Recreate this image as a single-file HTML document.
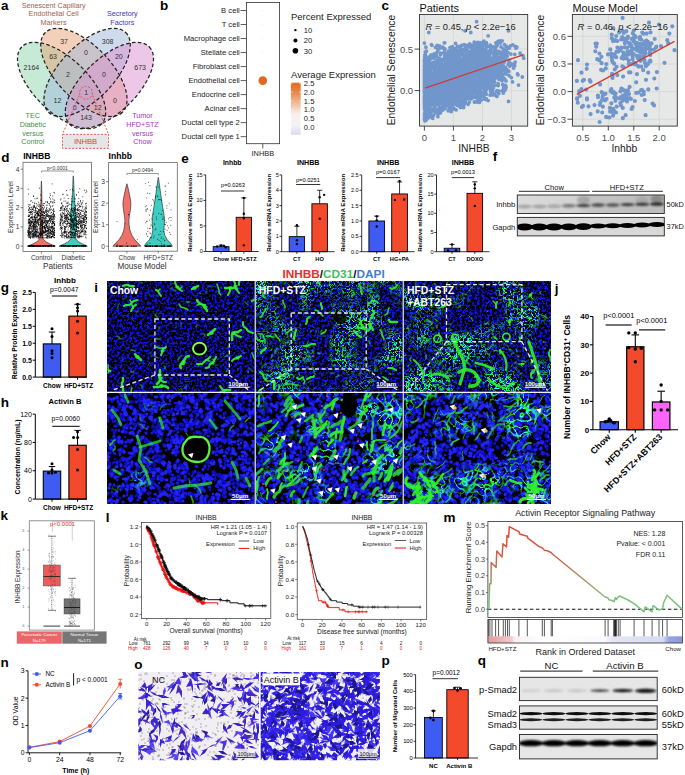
<!DOCTYPE html>
<html><head><meta charset="utf-8"><style>
html,body{margin:0;padding:0;background:#fff;width:685px;height:775px;overflow:hidden}
svg{display:block}
text{font-family:"Liberation Sans",sans-serif}
</style></head><body>
<svg width="685" height="775" viewBox="0 0 685 775">
<!-- pa -->
<text x="1.00" y="10.40" font-size="13.5" text-anchor="start" font-weight="bold" fill="#000" >a</text>
<text x="53.60" y="7.50" font-size="7.2" text-anchor="middle" fill="#a0614c" >Senescent Capillary</text>
<text x="53.60" y="16.40" font-size="7.2" text-anchor="middle" fill="#a0614c" >Endothelial Cell</text>
<text x="53.60" y="25.30" font-size="7.2" text-anchor="middle" fill="#a0614c" >Markers</text>
<text x="122.30" y="16.40" font-size="7.2" text-anchor="middle" fill="#3a3ab8" >Secretory</text>
<text x="122.30" y="25.30" font-size="7.2" text-anchor="middle" fill="#3a3ab8" >Factors</text>
<ellipse cx="61.6" cy="85.5" rx="55.5" ry="27.0" transform="rotate(44.0 61.6 85.5)" fill="#8fd6ad" fill-opacity="0.5"/>
<ellipse cx="83.9" cy="72.4" rx="55.5" ry="27.0" transform="rotate(46.0 83.9 72.4)" fill="#e8a274" fill-opacity="0.5"/>
<ellipse cx="87.1" cy="72.4" rx="55.5" ry="27.0" transform="rotate(-46.0 87.1 72.4)" fill="#9fb7d9" fill-opacity="0.5"/>
<ellipse cx="109.4" cy="85.5" rx="55.5" ry="27.0" transform="rotate(-44.0 109.4 85.5)" fill="#dc8fd0" fill-opacity="0.5"/>
<ellipse cx="61.6" cy="85.5" rx="55.5" ry="27.0" transform="rotate(44.0 61.6 85.5)" fill="none" stroke="#222" stroke-width="1.25" stroke-dasharray="3.6 2.3"/>
<ellipse cx="83.9" cy="72.4" rx="55.5" ry="27.0" transform="rotate(46.0 83.9 72.4)" fill="none" stroke="#222" stroke-width="1.25" stroke-dasharray="3.6 2.3"/>
<ellipse cx="87.1" cy="72.4" rx="55.5" ry="27.0" transform="rotate(-46.0 87.1 72.4)" fill="none" stroke="#222" stroke-width="1.25" stroke-dasharray="3.6 2.3"/>
<ellipse cx="109.4" cy="85.5" rx="55.5" ry="27.0" transform="rotate(-44.0 109.4 85.5)" fill="none" stroke="#222" stroke-width="1.25" stroke-dasharray="3.6 2.3"/>
<text x="31.40" y="69.62" font-size="7.0" text-anchor="middle" fill="#333" >2164</text>
<text x="53.10" y="58.72" font-size="7.0" text-anchor="middle" fill="#333" >63</text>
<text x="64.10" y="44.42" font-size="7.0" text-anchor="middle" fill="#333" >37</text>
<text x="68.00" y="77.02" font-size="7.0" text-anchor="middle" fill="#333" >2</text>
<text x="107.60" y="44.02" font-size="7.0" text-anchor="middle" fill="#333" >308</text>
<text x="85.90" y="55.12" font-size="7.0" text-anchor="middle" fill="#333" >0</text>
<text x="118.80" y="58.92" font-size="7.0" text-anchor="middle" fill="#333" >20</text>
<text x="140.10" y="69.62" font-size="7.0" text-anchor="middle" fill="#333" >673</text>
<text x="104.00" y="77.02" font-size="7.0" text-anchor="middle" fill="#333" >0</text>
<text x="86.10" y="94.92" font-size="7.0" text-anchor="middle" fill="#333" >1</text>
<text x="57.40" y="102.52" font-size="7.0" text-anchor="middle" fill="#333" >12</text>
<text x="74.70" y="110.12" font-size="7.0" text-anchor="middle" fill="#333" >0</text>
<text x="97.70" y="110.12" font-size="7.0" text-anchor="middle" fill="#333" >12</text>
<text x="86.00" y="120.32" font-size="7.0" text-anchor="middle" fill="#333" >143</text>
<text x="114.90" y="102.52" font-size="7.0" text-anchor="middle" fill="#333" >0</text>
<circle cx="86" cy="92.8" r="6.4" fill="none" stroke="#e8483c" stroke-width="0.9" stroke-dasharray="2 1.5"/>
<line x1="79.20" y1="95.50" x2="62.50" y2="134.30" stroke="#e8483c" stroke-width="0.9" stroke-dasharray="2 1.5"/>
<line x1="92.80" y1="95.50" x2="108.50" y2="134.30" stroke="#e8483c" stroke-width="0.9" stroke-dasharray="2 1.5"/>
<rect x="62.50" y="134.40" width="46.00" height="14.00" fill="#e6e6e6" stroke="#e8483c" stroke-width="0.9" stroke-dasharray="2 1.5"/>
<text x="85.50" y="144.14" font-size="7.6" text-anchor="middle" fill="#d2403a" >INHBB</text>
<text x="32.80" y="118.40" font-size="7.2" text-anchor="middle" fill="#3f8f3f" >TEC</text>
<text x="32.80" y="127.00" font-size="7.2" text-anchor="middle" fill="#3f8f3f" >Diabetic</text>
<text x="32.80" y="135.90" font-size="7.2" text-anchor="middle" fill="#3f8f3f" >versus</text>
<text x="32.80" y="144.10" font-size="7.2" text-anchor="middle" fill="#3f8f3f" >Control</text>
<text x="142.50" y="118.00" font-size="7.2" text-anchor="middle" fill="#a235c0" >Tumor</text>
<text x="142.50" y="126.90" font-size="7.2" text-anchor="middle" fill="#a235c0" >HFD+STZ</text>
<text x="142.50" y="135.90" font-size="7.2" text-anchor="middle" fill="#a235c0" >versus</text>
<text x="142.50" y="144.10" font-size="7.2" text-anchor="middle" fill="#a235c0" >Chow</text>
<!-- pb -->
<text x="160.00" y="10.40" font-size="13.5" text-anchor="start" font-weight="bold" fill="#000" >b</text>
<rect x="246.50" y="2.50" width="33.10" height="141.20" fill="#fff" stroke="#333" stroke-width="0.8" />
<text x="239.80" y="13.25" font-size="7.65" text-anchor="end" fill="#222" >B cell</text>
<line x1="240.60" y1="10.50" x2="246.50" y2="10.50" stroke="#333" stroke-width="0.8" />
<circle cx="262.80" cy="10.50" r="0.50" fill="#e8e4ee" />
<text x="239.80" y="27.27" font-size="7.65" text-anchor="end" fill="#222" >T cell</text>
<line x1="240.60" y1="24.52" x2="246.50" y2="24.52" stroke="#333" stroke-width="0.8" />
<circle cx="262.80" cy="24.52" r="0.50" fill="#e8e4ee" />
<text x="239.80" y="41.29" font-size="7.65" text-anchor="end" fill="#222" >Macrophage cell</text>
<line x1="240.60" y1="38.54" x2="246.50" y2="38.54" stroke="#333" stroke-width="0.8" />
<circle cx="262.80" cy="38.54" r="0.50" fill="#e8e4ee" />
<text x="239.80" y="55.31" font-size="7.65" text-anchor="end" fill="#222" >Stellate cell</text>
<line x1="240.60" y1="52.56" x2="246.50" y2="52.56" stroke="#333" stroke-width="0.8" />
<circle cx="262.80" cy="52.56" r="0.50" fill="#e8e4ee" />
<text x="239.80" y="69.33" font-size="7.65" text-anchor="end" fill="#222" >Fibroblast cell</text>
<line x1="240.60" y1="66.58" x2="246.50" y2="66.58" stroke="#333" stroke-width="0.8" />
<circle cx="262.80" cy="66.58" r="0.50" fill="#e8e4ee" />
<text x="239.80" y="83.35" font-size="7.65" text-anchor="end" fill="#222" >Endothelial cell</text>
<line x1="240.60" y1="80.60" x2="246.50" y2="80.60" stroke="#333" stroke-width="0.8" />
<text x="239.80" y="97.37" font-size="7.65" text-anchor="end" fill="#222" >Endocrine cell</text>
<line x1="240.60" y1="94.62" x2="246.50" y2="94.62" stroke="#333" stroke-width="0.8" />
<circle cx="262.80" cy="94.62" r="0.50" fill="#e8e4ee" />
<text x="239.80" y="111.39" font-size="7.65" text-anchor="end" fill="#222" >Acinar cell</text>
<line x1="240.60" y1="108.64" x2="246.50" y2="108.64" stroke="#333" stroke-width="0.8" />
<circle cx="262.80" cy="108.64" r="0.50" fill="#e8e4ee" />
<text x="239.80" y="125.41" font-size="7.65" text-anchor="end" fill="#222" >Ductal cell type 2</text>
<line x1="240.60" y1="122.66" x2="246.50" y2="122.66" stroke="#333" stroke-width="0.8" />
<circle cx="262.80" cy="122.66" r="0.50" fill="#e8e4ee" />
<text x="239.80" y="139.43" font-size="7.65" text-anchor="end" fill="#222" >Ductal cell type 1</text>
<line x1="240.60" y1="136.68" x2="246.50" y2="136.68" stroke="#333" stroke-width="0.8" />
<circle cx="262.80" cy="136.68" r="0.50" fill="#e8e4ee" />
<circle cx="262.80" cy="80.60" r="4.30" fill="#e2681f" />
<line x1="262.80" y1="143.70" x2="262.80" y2="148.50" stroke="#333" stroke-width="0.8" />
<text x="262.80" y="156.26" font-size="7.4" text-anchor="middle" fill="#222" >INHBB</text>
<text x="291.00" y="19.92" font-size="9.5" text-anchor="start" fill="#222" >Percent Expressed</text>
<circle cx="295.40" cy="30.10" r="1.20" fill="#000" />
<text x="303.80" y="32.84" font-size="7.6" text-anchor="start" fill="#222" >10</text>
<circle cx="295.40" cy="40.60" r="2.00" fill="#000" />
<text x="303.80" y="43.34" font-size="7.6" text-anchor="start" fill="#222" >20</text>
<circle cx="295.40" cy="50.80" r="2.80" fill="#000" />
<text x="303.80" y="53.54" font-size="7.6" text-anchor="start" fill="#222" >30</text>
<text x="291.00" y="78.02" font-size="9.5" text-anchor="start" fill="#222" >Average Expression</text>
<defs><linearGradient id="gb" x1="0" y1="0" x2="0" y2="1"><stop offset="0" stop-color="#e2681f"/><stop offset="0.2" stop-color="#ea8a50"/><stop offset="0.6" stop-color="#f8f0ec"/><stop offset="0.8" stop-color="#f4f2f8"/><stop offset="1" stop-color="#dcdcee"/></linearGradient></defs>
<rect x="290.90" y="82.70" width="9.80" height="52.20" fill="url(#gb)" stroke="none" stroke-width="1" />
<line x1="290.90" y1="83.40" x2="292.60" y2="83.40" stroke="#fff" stroke-width="0.6" />
<line x1="299.00" y1="83.40" x2="300.70" y2="83.40" stroke="#fff" stroke-width="0.6" />
<text x="303.80" y="86.14" font-size="7.6" text-anchor="start" fill="#222" >2.5</text>
<line x1="290.90" y1="92.08" x2="292.60" y2="92.08" stroke="#fff" stroke-width="0.6" />
<line x1="299.00" y1="92.08" x2="300.70" y2="92.08" stroke="#fff" stroke-width="0.6" />
<text x="303.80" y="94.82" font-size="7.6" text-anchor="start" fill="#222" >2.0</text>
<line x1="290.90" y1="100.76" x2="292.60" y2="100.76" stroke="#fff" stroke-width="0.6" />
<line x1="299.00" y1="100.76" x2="300.70" y2="100.76" stroke="#fff" stroke-width="0.6" />
<text x="303.80" y="103.50" font-size="7.6" text-anchor="start" fill="#222" >1.5</text>
<line x1="290.90" y1="109.44" x2="292.60" y2="109.44" stroke="#fff" stroke-width="0.6" />
<line x1="299.00" y1="109.44" x2="300.70" y2="109.44" stroke="#fff" stroke-width="0.6" />
<text x="303.80" y="112.18" font-size="7.6" text-anchor="start" fill="#222" >1.0</text>
<line x1="290.90" y1="118.12" x2="292.60" y2="118.12" stroke="#fff" stroke-width="0.6" />
<line x1="299.00" y1="118.12" x2="300.70" y2="118.12" stroke="#fff" stroke-width="0.6" />
<text x="303.80" y="120.86" font-size="7.6" text-anchor="start" fill="#222" >0.5</text>
<line x1="290.90" y1="126.80" x2="292.60" y2="126.80" stroke="#fff" stroke-width="0.6" />
<line x1="299.00" y1="126.80" x2="300.70" y2="126.80" stroke="#fff" stroke-width="0.6" />
<text x="303.80" y="129.54" font-size="7.6" text-anchor="start" fill="#222" >0.0</text>
<!-- pc -->
<text x="381.50" y="10.40" font-size="13.5" text-anchor="start" font-weight="bold" fill="#000" >c</text>
<rect x="419.50" y="14.50" width="108.20" height="111.60" fill="#e6e7e7" stroke="none" stroke-width="1" />
<line x1="424.40" y1="14.50" x2="424.40" y2="126.10" stroke="#d4d4d4" stroke-width="0.8" />
<line x1="453.40" y1="14.50" x2="453.40" y2="126.10" stroke="#d4d4d4" stroke-width="0.8" />
<line x1="482.40" y1="14.50" x2="482.40" y2="126.10" stroke="#d4d4d4" stroke-width="0.8" />
<line x1="511.40" y1="14.50" x2="511.40" y2="126.10" stroke="#d4d4d4" stroke-width="0.8" />
<line x1="419.50" y1="49.10" x2="527.70" y2="49.10" stroke="#d4d4d4" stroke-width="0.8" />
<line x1="419.50" y1="90.60" x2="527.70" y2="90.60" stroke="#d4d4d4" stroke-width="0.8" />
<path d="M458.3 92.3h0M428.5 70.5h0M424.9 97.6h0M486.5 99.0h0M464.2 70.3h0M464.0 63.0h0M466.3 89.5h0M424.5 108.3h0M426.3 74.9h0M479.2 84.9h0M481.8 93.2h0M482.7 53.2h0M494.0 62.5h0M484.6 90.4h0M456.0 69.6h0M446.3 99.0h0M479.4 86.6h0M460.9 53.4h0M478.1 73.3h0M502.2 76.6h0M437.6 73.4h0M428.4 104.1h0M493.8 67.8h0M450.0 72.3h0M478.8 61.0h0M424.7 90.4h0M445.0 48.9h0M486.7 99.6h0M429.2 89.1h0M449.8 82.3h0M434.1 53.9h0M484.2 61.8h0M477.8 59.8h0M464.5 92.4h0M483.0 81.9h0M451.3 81.7h0M485.4 81.2h0M458.6 61.2h0M425.7 85.7h0M463.8 55.4h0M466.8 67.0h0M468.5 74.9h0M424.6 105.4h0M444.4 90.5h0M461.5 66.3h0M447.9 80.0h0M470.2 77.8h0M438.3 79.4h0M451.5 90.5h0M430.7 91.7h0M451.7 66.7h0M493.9 54.9h0M479.6 82.2h0M424.7 97.3h0M476.7 74.2h0M441.8 74.4h0M445.9 102.3h0M424.9 60.1h0M446.0 95.4h0M481.8 62.6h0M424.7 56.8h0M501.0 60.8h0M465.7 49.8h0M442.4 88.3h0M425.1 98.1h0M427.2 93.3h0M502.0 77.3h0M424.4 97.0h0M465.7 91.5h0M486.1 80.6h0M478.1 81.2h0M473.2 79.6h0M475.3 64.3h0M473.8 48.0h0M424.9 100.6h0M478.2 60.0h0M457.3 74.0h0M453.9 78.7h0M424.5 81.6h0M424.8 56.6h0M424.8 100.9h0M446.3 81.2h0M461.0 83.4h0M432.1 77.2h0M469.0 79.2h0M447.7 76.2h0M473.2 94.0h0M451.3 60.2h0M455.3 83.2h0M453.1 94.8h0M457.8 79.8h0M451.0 85.4h0M499.8 71.6h0M490.8 80.2h0M432.1 76.1h0M470.5 67.9h0M459.6 99.8h0M424.5 88.1h0M424.5 92.0h0M426.3 67.7h0M425.9 82.5h0M466.4 82.0h0M483.8 95.1h0M425.4 84.9h0M431.1 104.1h0M482.7 57.7h0M476.0 67.3h0M435.6 84.1h0M448.9 58.4h0M449.1 89.9h0M471.0 74.0h0M467.5 74.0h0M454.6 102.2h0M480.4 67.1h0M481.6 65.2h0M452.0 81.3h0M436.8 93.7h0M444.0 79.0h0M508.1 70.3h0M477.6 48.4h0M441.1 81.8h0M448.3 77.1h0M446.9 92.7h0M426.2 68.8h0M453.6 79.9h0M475.6 89.5h0M477.8 78.3h0M470.1 57.0h0M439.0 87.5h0M466.5 45.3h0M436.2 91.8h0M436.1 92.7h0M463.4 77.1h0M450.8 48.2h0M429.8 60.8h0M446.6 64.5h0M466.5 61.0h0M454.7 78.0h0M460.9 61.7h0M431.8 89.5h0M465.9 50.4h0M472.6 52.0h0M442.8 92.3h0M441.0 103.1h0M484.3 79.2h0M425.7 101.6h0M466.7 74.6h0M435.7 97.6h0M479.9 89.0h0M432.1 77.2h0M469.3 78.0h0M459.0 87.9h0M435.4 98.1h0M424.8 113.0h0M470.5 81.9h0M478.8 62.1h0M425.3 87.4h0M446.5 88.9h0M472.5 59.6h0M477.2 62.6h0M425.0 66.3h0M435.9 66.2h0M450.4 81.1h0M461.3 105.7h0M425.0 80.9h0M459.8 73.6h0M426.3 75.3h0M480.0 56.7h0M460.8 81.7h0M485.3 75.0h0M478.1 93.2h0M424.5 85.1h0M465.7 94.6h0M436.5 82.8h0M426.7 109.3h0M459.7 77.2h0M493.7 72.8h0M463.3 62.0h0M429.3 81.2h0M482.4 84.8h0M432.8 56.3h0M464.2 97.3h0M470.5 89.9h0M507.9 52.5h0M454.6 91.6h0M424.9 85.5h0M434.4 108.9h0M450.7 79.3h0M443.4 107.7h0M435.7 78.2h0M485.8 84.5h0M457.4 87.1h0M424.9 80.1h0M426.4 96.8h0M435.0 81.6h0M434.9 76.8h0M455.0 77.2h0M425.7 84.5h0M468.3 59.5h0M426.1 81.7h0M489.3 61.8h0M434.7 94.8h0M425.1 63.0h0M473.5 65.1h0M482.6 74.4h0M475.2 61.4h0M445.9 61.3h0M499.2 67.0h0M424.5 79.1h0M424.8 65.5h0M494.5 54.2h0M491.4 69.6h0M462.2 70.1h0M477.4 74.3h0M425.2 78.0h0M482.3 58.9h0M476.5 49.3h0M482.0 81.4h0M473.0 61.0h0M441.2 70.3h0M468.7 52.5h0M454.8 64.5h0M425.9 112.9h0M430.5 80.1h0M477.0 92.5h0M445.2 70.9h0M428.9 117.7h0M426.1 93.7h0M424.6 94.1h0M425.1 74.1h0M425.1 68.5h0M484.7 66.2h0M473.1 53.4h0M473.6 83.1h0M429.3 88.1h0M431.4 44.7h0M480.1 65.2h0M425.2 84.6h0M462.8 93.1h0M471.0 86.1h0M431.3 67.6h0M461.5 72.4h0M453.3 88.8h0M429.2 96.2h0M425.5 111.3h0M464.8 84.1h0M437.8 114.2h0M424.5 78.0h0M465.2 99.2h0M450.5 47.5h0M479.2 98.6h0M486.6 66.8h0M430.4 87.8h0M464.3 88.8h0M424.4 99.9h0M445.9 82.4h0M430.8 111.5h0M450.0 71.9h0M468.1 70.5h0M514.7 65.6h0M434.5 91.1h0M458.2 61.3h0M477.6 75.9h0M502.4 60.3h0M474.7 85.3h0M425.4 72.7h0M434.7 74.2h0M453.4 75.7h0M424.5 84.9h0M445.5 62.4h0M424.9 91.6h0M450.5 68.8h0M427.1 106.5h0M481.3 61.5h0M439.8 65.4h0M456.1 58.2h0M458.8 79.2h0M425.1 108.0h0M466.4 98.1h0M492.1 59.5h0M456.7 97.7h0M435.8 103.8h0M452.8 73.5h0M474.7 65.2h0M450.1 68.6h0M426.3 104.5h0M441.8 91.3h0M481.2 52.3h0M456.5 64.0h0M506.4 69.4h0M481.8 64.3h0M444.1 67.6h0M483.6 57.4h0M442.0 87.0h0M424.4 43.1h0M424.5 76.8h0M426.3 91.0h0M463.8 75.3h0M484.3 71.6h0M424.5 69.2h0M458.5 66.5h0M491.0 47.1h0M486.3 42.6h0M464.7 72.4h0M435.4 80.0h0M475.7 69.1h0M485.3 85.0h0M432.6 55.1h0M425.2 76.5h0M495.7 62.1h0M446.5 81.8h0M467.9 72.5h0M425.7 101.7h0M459.9 55.5h0M458.0 95.9h0M436.9 76.8h0M482.6 64.9h0M481.5 65.8h0M437.0 91.7h0M425.6 89.1h0M489.8 66.8h0M457.1 77.2h0M451.9 86.3h0M425.2 95.3h0M447.7 86.8h0M485.5 56.3h0M504.3 87.2h0M485.3 70.9h0M470.1 66.2h0M464.6 84.1h0M479.0 52.4h0M462.9 77.9h0M426.4 72.9h0M428.1 76.7h0M478.0 79.3h0M479.5 63.4h0M478.5 75.4h0M455.9 92.8h0M447.6 99.3h0M433.5 110.9h0M447.5 87.2h0M424.8 92.7h0M470.4 82.7h0M476.6 57.8h0M431.9 94.0h0M477.5 59.7h0M486.3 59.6h0M461.7 73.4h0M424.9 85.2h0M435.9 86.4h0M451.4 64.1h0M465.5 82.1h0M490.5 70.7h0M471.4 80.0h0M489.8 67.7h0M450.7 56.5h0M450.5 98.0h0M479.5 66.8h0M425.5 89.3h0M485.9 90.1h0M424.6 85.2h0M502.8 77.4h0M485.6 80.0h0M443.0 98.4h0M499.0 51.5h0M446.5 76.9h0M459.8 78.0h0M425.2 99.5h0M478.7 66.1h0M475.7 65.2h0M485.7 78.4h0M426.8 80.1h0M448.4 62.7h0M426.2 99.5h0M440.0 73.7h0M467.7 79.0h0M452.0 72.9h0M439.7 86.3h0M462.4 86.8h0M471.2 89.3h0M463.6 64.0h0M427.9 79.1h0M460.5 107.4h0M480.4 75.6h0M485.9 80.0h0M486.5 79.4h0M445.5 80.2h0M460.8 61.8h0M498.2 85.6h0M490.5 85.7h0M475.8 66.5h0M430.2 84.2h0M480.0 91.3h0M450.5 91.9h0M471.0 74.5h0M470.2 71.9h0M454.3 89.6h0M459.5 82.1h0M431.2 98.4h0M435.2 88.8h0M436.6 101.1h0M425.2 70.0h0M455.9 72.2h0M481.3 86.8h0M424.5 89.5h0M451.5 53.8h0M484.4 62.1h0M436.8 64.8h0M485.8 63.2h0M467.7 54.9h0M438.5 69.0h0M485.2 82.3h0M466.0 51.7h0M456.1 100.4h0M455.8 55.4h0M451.1 75.6h0M460.9 88.3h0M427.3 75.6h0M471.7 54.0h0M483.8 55.6h0M427.1 107.3h0M470.9 64.6h0M485.5 74.8h0M454.6 79.3h0M466.1 84.3h0M434.4 70.0h0M502.0 63.8h0M424.5 83.8h0M486.4 84.9h0M440.8 82.9h0M468.0 75.8h0M426.4 100.7h0M486.9 46.6h0M474.6 56.0h0M466.0 80.6h0M474.3 63.0h0M438.7 89.3h0M460.1 73.5h0M461.7 77.5h0M424.7 92.7h0M440.9 73.7h0M461.9 90.0h0M451.0 101.6h0M428.3 81.0h0M425.7 68.2h0M451.7 88.7h0M425.1 87.1h0M486.7 56.1h0M439.8 70.0h0M486.5 68.3h0M424.7 95.4h0M462.8 53.7h0M453.9 71.8h0M443.4 67.0h0M425.6 82.3h0M487.3 66.9h0M457.5 71.7h0M456.1 82.7h0M456.4 82.9h0M493.1 67.4h0M482.1 92.7h0M448.8 68.6h0M461.9 63.3h0M440.5 80.2h0M440.4 97.0h0M484.1 52.4h0M437.0 86.5h0M460.8 72.2h0M439.5 80.0h0M455.7 71.8h0M479.5 84.7h0M426.9 92.3h0M471.2 90.5h0M438.1 64.2h0M436.7 101.6h0M430.9 99.4h0M454.2 92.2h0M436.9 70.8h0M464.7 83.3h0M468.9 66.0h0M480.5 72.3h0M426.7 108.0h0M477.7 58.0h0M425.1 80.7h0M444.1 52.7h0M482.3 70.8h0M490.7 74.7h0M500.0 67.0h0M493.6 67.0h0M497.4 62.0h0M443.3 48.2h0M458.2 92.4h0M443.0 87.8h0M482.6 70.1h0M426.5 86.7h0M484.8 59.4h0M502.5 75.3h0M424.8 84.8h0M487.2 56.4h0M465.9 49.0h0M445.9 60.2h0M461.4 76.7h0M425.9 78.7h0M483.8 62.3h0M431.5 93.3h0M445.2 63.3h0M454.7 75.6h0M454.5 95.3h0M425.5 60.1h0M448.2 110.8h0M446.9 83.8h0M425.1 104.4h0M452.6 84.2h0M469.0 57.1h0M427.4 79.9h0M440.6 89.9h0M426.5 94.3h0M479.1 66.5h0M431.1 86.0h0M452.6 80.3h0M465.0 89.9h0M429.4 114.7h0M492.8 64.1h0M441.9 84.3h0M469.0 77.7h0M427.1 89.0h0M468.3 75.6h0M467.9 96.7h0M424.9 68.9h0M491.8 47.5h0M425.1 101.1h0M466.1 58.7h0M478.0 52.7h0M439.0 65.9h0M448.7 51.2h0M468.0 80.7h0M472.8 60.4h0M429.0 63.0h0M449.6 91.2h0M479.9 66.7h0M425.3 69.8h0M483.5 80.7h0M461.9 90.7h0M455.3 96.6h0M436.4 86.5h0M443.0 78.4h0M452.0 84.4h0M437.0 84.3h0M460.3 68.6h0M424.7 77.7h0M472.0 68.0h0M465.5 66.4h0M426.0 103.8h0M424.9 83.7h0M463.4 89.5h0M455.4 66.3h0M428.4 100.9h0M447.1 95.0h0M424.6 78.2h0M424.6 74.9h0M468.7 91.3h0M428.3 86.1h0M478.8 63.6h0M478.2 61.8h0M460.5 67.0h0M428.0 72.8h0M462.9 64.0h0M432.1 87.0h0M474.2 51.5h0M479.1 57.0h0M467.2 72.4h0M447.4 84.5h0M466.2 56.5h0M473.5 78.2h0M471.1 87.9h0M447.5 94.1h0M479.5 54.3h0M425.2 101.7h0M493.6 94.8h0M474.5 57.9h0M486.2 44.1h0M448.8 74.1h0M471.6 51.7h0M475.9 80.9h0M496.9 74.6h0M451.6 92.6h0M456.6 87.8h0M523.7 58.2h0M470.0 86.9h0M465.1 69.9h0M447.7 56.1h0M452.4 94.9h0M470.7 58.3h0M499.1 77.3h0M473.9 45.7h0M460.8 71.4h0M463.0 62.6h0M482.5 57.0h0M453.9 78.4h0M434.5 99.9h0M490.1 95.0h0M424.5 89.5h0M454.8 63.2h0M493.2 77.3h0M446.6 90.6h0M483.9 66.5h0M497.2 61.2h0M431.6 115.3h0M446.1 89.6h0M475.9 92.0h0M449.8 90.6h0M489.0 69.0h0M438.4 80.5h0M472.2 83.8h0M437.3 74.2h0M450.3 79.0h0M459.4 72.5h0M476.3 66.8h0M425.6 106.3h0M434.0 58.1h0M464.6 81.5h0M426.8 71.7h0M446.5 97.1h0M425.2 67.5h0M426.0 69.3h0M503.6 88.2h0M479.0 78.2h0M425.9 105.9h0M424.4 69.7h0M425.9 90.7h0M480.1 66.5h0M515.1 62.2h0M479.9 63.3h0M449.9 86.2h0M450.5 84.4h0M429.9 82.2h0M486.8 67.0h0M483.9 41.2h0M468.0 82.6h0M426.5 70.9h0M425.4 74.2h0M424.8 87.4h0M468.7 70.9h0M470.8 96.7h0M469.0 83.5h0M458.5 69.5h0M470.5 83.0h0M463.6 57.3h0M440.4 86.8h0M484.6 80.2h0M484.4 98.7h0M471.3 98.8h0M436.6 104.5h0M465.5 77.8h0M494.9 94.8h0M424.9 108.4h0M496.2 66.6h0M474.0 55.4h0M449.2 99.0h0M494.5 94.5h0M468.8 80.4h0M470.8 69.3h0M484.5 79.5h0M430.4 93.4h0M476.6 80.0h0M431.1 116.0h0M455.3 81.7h0M460.8 89.7h0M473.5 54.3h0M427.1 77.1h0M456.8 89.6h0M480.0 69.4h0M425.1 71.4h0M424.7 76.5h0M447.7 58.6h0M446.4 102.9h0M463.6 107.6h0M443.7 96.3h0M455.0 96.1h0M437.1 93.6h0M427.5 87.0h0M427.8 77.7h0M425.8 88.2h0M443.3 83.3h0M493.9 72.5h0M433.9 84.2h0M424.9 63.9h0M444.5 60.7h0M454.1 58.9h0M488.5 59.2h0M444.1 58.8h0M445.2 99.7h0M425.3 99.2h0M435.4 79.3h0M426.7 107.4h0M455.7 85.7h0M436.3 69.4h0M440.1 113.1h0M490.6 59.1h0M476.2 79.3h0M485.4 61.8h0M498.2 59.2h0M426.3 77.2h0M425.3 78.2h0M427.0 119.1h0M443.3 72.2h0M451.9 48.4h0M487.9 71.9h0M460.5 87.0h0M459.7 80.7h0M496.3 71.7h0M492.8 91.3h0M433.7 86.2h0M476.4 77.6h0M452.1 73.2h0M447.2 74.3h0M437.9 88.6h0M498.9 51.7h0M494.8 78.0h0M483.8 63.6h0M424.8 116.1h0M442.2 70.5h0M429.2 62.8h0M424.6 95.9h0M477.5 73.6h0M441.4 99.9h0M425.7 85.9h0M441.5 67.1h0M440.3 70.6h0M429.3 94.1h0M424.9 55.2h0M439.4 93.3h0M455.9 79.0h0M439.4 68.4h0M462.0 93.3h0M467.1 69.1h0M425.1 101.7h0M484.2 69.6h0M425.5 102.6h0M430.5 79.0h0M440.3 81.3h0M475.9 91.8h0M429.7 86.7h0M481.1 66.0h0M483.8 77.7h0M437.1 99.3h0M425.6 103.5h0M475.9 71.4h0M462.0 78.9h0M427.7 69.2h0M455.7 73.5h0M446.2 70.1h0M442.1 98.0h0M444.5 83.6h0M455.9 83.8h0M443.6 85.8h0M494.6 70.4h0M445.9 56.5h0M505.3 59.0h0M470.1 96.4h0M478.0 80.1h0M485.2 59.7h0M461.2 95.7h0M467.2 50.1h0M467.8 65.2h0M426.4 68.5h0M436.3 96.5h0M453.3 81.4h0M482.6 85.9h0M462.2 69.1h0M442.7 85.9h0M475.9 71.7h0M426.3 71.0h0M457.4 99.2h0M472.4 86.6h0M425.0 98.2h0M443.3 81.9h0M444.4 96.9h0M472.8 65.4h0M509.1 62.2h0M496.7 58.5h0M482.4 72.6h0M473.1 81.5h0M453.9 52.3h0M425.4 107.0h0M427.2 76.2h0M493.6 68.8h0M432.7 118.4h0M483.6 41.3h0M481.4 74.7h0M425.2 85.3h0M461.2 78.6h0M425.3 99.0h0M483.2 55.7h0M424.4 81.0h0M475.3 89.7h0M424.6 75.6h0M449.6 88.2h0M443.2 84.0h0M452.8 67.4h0M446.6 94.8h0M477.0 78.5h0M474.4 83.5h0M513.1 65.2h0M424.4 85.8h0M456.1 109.9h0M481.1 82.9h0M470.1 45.2h0M470.8 88.2h0M447.8 80.0h0M424.4 102.8h0M471.3 68.4h0M437.4 82.1h0M436.2 101.1h0M477.7 82.2h0M456.3 86.2h0M483.8 84.2h0M458.4 99.4h0M428.9 85.4h0M486.6 43.6h0M441.4 74.8h0M514.8 54.3h0M473.2 93.0h0M476.4 79.5h0M511.9 64.2h0M465.0 76.6h0M481.6 86.3h0M457.1 96.9h0M481.6 60.9h0M485.4 77.0h0M425.1 82.8h0M444.7 89.3h0M426.9 115.1h0M474.2 82.3h0M462.7 106.5h0M482.2 72.8h0M482.5 79.8h0M500.8 76.4h0M456.1 103.8h0M424.6 78.4h0M457.2 57.8h0M425.1 89.8h0M433.4 82.3h0M472.3 51.0h0M444.8 74.7h0M464.3 86.5h0M487.0 74.3h0M483.8 61.0h0M425.3 90.2h0M480.0 45.0h0M467.4 79.0h0M463.6 87.1h0M457.6 105.4h0M435.2 112.6h0M456.1 75.4h0M436.8 100.4h0M472.6 68.6h0M497.2 68.6h0M483.6 64.4h0M424.7 69.1h0M430.5 90.2h0M508.1 64.4h0M477.9 77.6h0M443.3 73.0h0M425.3 54.5h0M475.2 64.2h0M452.5 106.0h0M456.3 85.5h0M476.8 73.0h0M479.5 70.5h0M463.5 67.7h0M430.8 76.2h0M461.0 97.0h0M441.8 65.2h0M471.5 91.2h0M470.5 86.0h0M441.3 97.0h0M480.3 91.4h0M458.8 96.9h0M466.1 84.3h0M425.6 90.5h0M477.9 60.6h0M487.3 87.7h0M424.6 80.0h0M443.4 90.6h0M442.4 86.7h0M471.6 54.9h0M499.7 72.1h0M470.1 76.7h0M471.7 89.5h0M446.3 84.0h0M480.4 76.3h0M503.3 48.8h0M433.2 92.6h0M426.2 93.3h0M477.4 96.2h0M476.1 54.7h0M508.8 71.5h0M451.8 90.9h0M440.6 92.9h0M435.2 104.1h0M468.7 86.0h0M472.1 72.8h0M465.8 92.4h0M434.8 102.3h0M443.4 64.4h0M429.1 100.0h0M478.1 81.9h0M425.1 89.2h0M497.4 67.4h0M433.5 62.3h0M476.5 67.2h0M446.6 94.9h0M451.0 83.9h0M459.8 90.2h0M453.7 96.5h0M470.0 64.6h0M424.5 83.3h0M477.3 90.3h0M477.3 66.4h0M457.9 89.5h0M461.6 62.8h0M440.3 75.2h0M424.4 97.6h0M467.5 96.5h0M454.9 78.8h0M492.7 66.5h0M493.5 87.8h0M484.2 71.5h0M465.3 87.7h0M438.4 83.2h0M425.8 79.1h0M460.5 98.7h0M429.9 111.0h0M469.7 62.4h0M486.6 79.4h0M425.7 87.5h0M435.4 83.3h0M443.5 73.9h0M432.8 74.7h0M483.6 77.4h0M427.2 92.7h0M480.0 96.6h0M432.7 84.3h0M425.2 114.1h0M425.9 58.8h0M447.7 76.3h0M474.8 46.8h0M489.2 46.5h0M462.2 100.4h0M424.8 109.5h0M427.5 79.5h0M440.2 77.1h0M442.3 77.9h0M466.9 89.6h0M479.2 81.6h0M449.0 108.3h0M486.0 50.5h0M428.9 93.0h0M477.8 82.3h0M453.8 82.1h0M456.3 90.2h0M424.8 73.1h0M448.2 74.6h0M424.4 76.9h0M438.6 70.3h0M425.6 88.5h0M456.6 73.5h0M427.7 109.3h0M488.3 57.5h0M461.1 84.5h0M425.1 98.4h0M468.8 66.0h0M468.7 66.6h0M426.2 88.7h0M444.4 64.9h0M485.7 73.3h0M435.4 76.7h0M425.0 72.3h0M447.4 93.7h0M451.7 82.0h0M474.8 54.8h0M435.1 110.3h0M476.8 85.0h0M475.8 56.4h0M447.0 78.0h0M424.9 102.4h0M425.0 108.2h0M425.4 98.4h0M425.3 84.6h0M466.5 87.7h0M445.7 91.1h0M424.6 97.2h0M473.5 67.9h0M450.0 53.5h0M430.7 81.3h0M480.9 71.9h0M504.6 78.8h0M426.1 88.6h0M491.3 77.4h0M436.4 84.1h0M457.7 93.1h0M425.9 96.5h0M425.3 84.2h0M485.3 99.3h0M441.4 72.2h0M477.1 90.8h0M433.6 82.6h0M456.8 100.1h0M453.9 88.8h0M430.8 76.3h0M452.7 87.8h0M495.8 74.1h0M424.7 79.1h0M459.4 71.6h0M425.3 84.7h0M456.3 78.6h0M482.2 61.5h0M447.8 59.9h0M470.2 47.4h0M466.0 65.7h0M483.3 75.9h0M451.6 71.2h0M484.7 73.1h0M425.4 90.1h0M424.8 100.0h0M482.7 63.1h0M475.9 55.8h0M457.3 89.3h0M446.9 77.8h0M488.3 67.7h0M426.9 98.3h0M462.6 79.5h0M475.3 89.1h0M429.2 59.5h0M428.4 62.8h0M432.5 109.3h0M450.7 67.7h0M506.1 87.2h0M425.9 90.3h0M426.7 70.9h0M460.9 68.4h0M431.1 87.5h0M476.9 89.2h0M425.7 75.7h0M450.6 86.5h0M444.5 102.6h0M431.8 81.3h0M468.8 79.3h0M476.5 82.2h0M441.4 70.3h0M460.6 87.1h0M448.2 91.3h0M444.6 84.1h0M429.1 117.1h0M471.5 75.2h0M451.5 77.7h0M424.4 106.0h0M476.5 57.8h0M474.8 102.0h0M465.0 71.1h0M426.0 80.5h0M476.9 79.8h0M477.7 77.4h0M490.5 79.1h0M451.9 49.8h0M458.4 73.6h0M457.6 98.4h0M424.8 94.9h0M461.2 95.0h0M445.1 53.3h0M470.4 96.5h0M459.9 78.6h0M480.5 88.1h0M442.5 59.3h0M482.3 60.0h0M468.7 67.3h0M432.0 104.6h0M425.6 65.8h0M425.9 77.9h0M446.1 76.2h0M458.1 74.1h0M449.5 83.0h0M432.7 103.7h0M425.0 89.9h0M492.2 58.6h0M438.7 82.5h0M445.7 60.8h0M435.7 85.3h0M472.6 78.7h0M482.7 94.7h0M458.5 50.7h0M474.0 80.8h0M442.7 103.5h0M446.3 65.4h0M429.1 89.3h0M424.9 69.4h0M483.2 57.6h0M424.7 62.6h0M428.1 99.7h0M425.1 109.3h0M445.2 83.8h0M462.6 61.4h0M445.5 77.6h0M507.1 52.7h0M438.8 58.3h0M424.7 94.8h0M426.2 71.2h0M424.5 90.9h0M433.6 65.9h0M467.8 76.9h0M425.7 73.2h0M441.5 98.4h0M442.2 107.7h0M454.1 63.8h0M431.3 80.7h0M467.8 81.0h0M448.1 80.1h0M482.4 80.0h0M461.3 93.9h0M433.4 62.5h0M425.1 95.3h0M427.4 84.6h0M477.8 49.2h0M483.2 88.5h0M477.2 60.6h0M480.3 78.8h0M430.6 66.0h0M483.4 65.6h0M425.9 72.0h0M476.4 91.2h0M466.8 61.3h0M457.5 94.1h0M440.3 99.5h0M429.7 87.8h0M480.8 55.4h0M459.0 70.3h0M453.9 100.3h0M427.0 82.3h0M428.5 59.5h0M453.3 90.0h0M442.3 78.9h0M456.0 76.8h0M496.6 54.9h0M430.5 95.6h0M427.2 89.6h0M426.4 78.9h0M425.2 93.4h0M475.7 52.2h0M425.8 98.0h0M436.9 100.6h0M477.8 50.5h0M424.9 103.0h0M454.2 71.3h0M436.4 75.6h0M467.5 91.7h0M425.0 104.7h0M425.4 99.2h0M482.4 56.8h0M477.2 88.4h0M439.3 75.1h0M499.8 75.2h0M425.3 99.8h0M450.4 57.0h0M425.3 78.1h0M424.6 90.9h0M464.9 69.2h0M424.7 68.3h0M471.3 72.2h0M472.7 91.7h0M436.1 83.0h0M480.9 75.3h0M467.9 83.6h0M425.4 96.8h0M479.2 62.1h0M474.4 44.0h0M504.5 61.8h0M425.5 78.8h0M435.6 92.0h0M432.1 68.7h0M425.2 107.4h0M478.0 70.1h0M476.4 77.7h0M477.7 42.5h0M473.5 67.2h0M446.6 84.5h0M487.7 53.1h0M470.3 90.4h0M439.5 109.8h0M458.0 74.8h0M441.9 91.3h0M480.6 86.4h0M435.4 98.5h0M485.6 50.6h0M438.5 95.8h0M424.6 86.8h0M485.6 79.6h0M424.8 84.6h0M424.4 92.0h0M463.4 68.3h0M425.7 66.5h0M463.6 81.4h0M426.1 90.8h0M464.1 44.7h0M431.1 100.9h0M425.0 103.4h0M471.7 76.7h0M478.9 64.3h0M471.7 95.4h0M469.6 76.0h0M478.0 73.8h0M492.8 92.0h0M472.5 88.1h0M478.3 83.8h0M430.4 96.4h0M444.4 92.2h0M504.1 86.0h0M425.1 93.6h0M446.2 99.4h0M456.3 74.9h0M478.6 88.3h0M455.7 83.6h0M473.0 56.4h0M431.0 92.8h0M486.0 72.1h0M425.5 109.7h0M449.6 79.3h0M503.2 68.0h0M429.7 89.2h0M444.1 70.4h0M448.7 75.8h0M469.8 64.6h0M442.6 94.0h0M474.1 67.8h0M490.9 84.2h0M479.9 68.5h0M474.7 50.1h0M448.4 56.5h0M425.4 80.4h0M471.4 92.7h0M454.6 89.7h0M434.3 92.5h0M438.7 100.8h0M478.2 85.9h0M477.3 79.6h0M481.3 54.9h0M466.4 97.6h0M485.3 72.0h0M451.0 88.8h0M425.0 94.7h0M430.3 105.0h0M483.9 73.0h0M481.8 84.8h0M489.7 55.0h0M447.3 87.9h0M425.7 90.2h0M439.4 78.2h0M469.1 85.6h0M476.7 80.9h0M486.6 71.1h0M479.0 57.3h0M450.5 74.0h0M459.7 72.8h0M488.5 82.5h0M471.3 63.5h0M504.2 53.3h0M426.4 94.9h0M447.4 65.8h0M472.4 86.6h0M454.8 82.1h0M426.4 57.7h0M426.4 86.3h0M426.4 77.0h0M468.8 75.2h0M446.1 103.1h0M481.1 59.3h0M446.1 87.4h0M426.8 80.8h0M475.2 57.4h0M481.2 94.7h0M424.9 87.3h0M479.7 52.4h0M454.6 66.6h0M481.6 80.3h0M484.5 43.3h0M425.7 76.9h0M468.7 95.3h0M444.8 67.5h0M438.5 72.7h0M462.3 73.5h0M462.5 90.3h0M426.2 82.1h0M491.8 62.4h0M469.5 92.1h0M453.1 83.1h0M505.5 54.4h0M424.9 97.4h0M444.3 94.1h0M476.6 91.0h0M440.0 79.6h0M484.1 62.6h0M469.2 57.1h0M478.2 66.6h0M437.7 51.0h0M425.5 79.3h0M469.4 72.8h0M434.5 72.4h0M461.8 77.8h0M429.8 77.3h0M481.2 78.5h0M424.5 90.0h0M457.7 81.6h0M440.3 92.5h0M484.6 77.7h0M449.8 85.3h0M474.1 89.3h0M455.0 65.3h0M483.3 80.0h0M438.1 73.5h0M426.4 76.7h0M442.0 87.6h0M457.6 57.0h0M426.9 99.4h0M471.2 47.6h0M425.6 85.7h0M424.7 75.7h0M485.9 70.1h0M425.0 96.0h0M509.2 64.9h0M451.9 91.1h0M438.1 80.0h0M431.3 73.4h0M483.7 58.9h0M472.8 67.0h0M424.6 96.9h0M502.1 40.9h0M440.8 78.5h0M478.5 52.5h0M472.5 60.8h0M424.5 89.3h0M425.4 81.0h0M437.5 67.2h0M446.7 81.4h0M479.0 90.8h0M475.4 63.3h0M473.4 91.5h0M464.8 72.6h0M430.8 94.7h0M481.9 67.9h0M446.2 77.6h0M475.5 54.9h0M481.2 77.9h0M447.5 66.4h0M481.4 84.5h0M425.3 58.5h0M469.9 51.9h0M469.7 83.0h0M464.0 77.2h0M483.2 51.6h0M494.5 68.3h0M425.0 91.4h0M425.5 70.5h0M425.6 96.0h0M424.5 82.5h0M459.8 73.9h0M431.1 114.1h0M426.5 82.2h0M480.0 86.0h0M478.0 81.5h0M493.3 76.7h0M434.6 87.8h0M493.1 47.0h0M477.2 82.4h0M469.7 62.9h0M493.3 61.9h0M455.4 64.6h0M425.2 98.8h0M474.8 71.1h0M501.2 52.5h0M485.4 56.3h0M436.9 65.2h0M432.0 72.9h0M424.7 109.3h0M495.5 68.2h0M444.1 63.8h0M447.5 73.1h0M433.5 97.6h0M442.5 80.8h0M475.2 63.6h0M486.3 75.0h0M455.1 66.2h0M424.8 102.8h0M425.6 87.5h0M443.3 109.2h0M424.8 76.7h0M452.4 81.0h0M495.9 42.8h0M481.5 94.5h0M465.7 86.2h0M468.5 68.4h0M474.4 93.7h0M489.0 59.3h0M424.4 77.3h0M434.8 88.2h0M495.4 64.6h0M489.1 88.1h0M425.2 69.4h0M424.7 89.5h0M440.8 92.1h0M437.8 95.5h0M425.0 75.7h0M479.3 75.3h0M434.8 95.8h0M470.6 71.4h0M436.2 79.2h0M453.8 68.1h0M440.8 53.2h0M499.9 66.7h0M506.2 46.2h0M439.6 94.0h0M450.7 71.4h0M466.0 79.2h0M478.4 66.5h0M441.2 74.4h0M484.2 73.7h0M479.9 61.2h0M441.3 81.1h0M470.6 72.7h0M453.9 76.6h0M481.6 95.2h0M485.1 79.6h0M443.4 91.7h0M475.7 65.2h0M478.4 91.8h0M429.1 80.8h0M430.7 87.5h0M473.0 55.3h0M466.1 71.3h0M486.1 74.6h0M453.4 62.6h0M446.8 54.3h0M457.9 75.0h0M442.9 89.2h0M425.7 73.5h0M486.5 80.2h0M502.7 84.7h0M442.0 79.9h0M476.6 75.0h0M455.4 91.4h0M428.1 67.8h0M455.9 55.7h0M478.5 101.0h0M440.8 78.9h0M515.3 46.4h0M439.7 95.9h0M483.5 77.0h0M460.6 71.7h0M450.7 78.3h0M463.5 90.2h0M482.5 72.2h0M465.2 72.3h0M437.9 116.7h0M451.3 73.6h0M446.1 89.0h0M425.9 80.7h0M429.9 69.0h0M458.0 80.1h0M424.9 65.6h0M484.6 55.1h0M442.0 73.6h0M440.4 47.3h0M424.6 88.6h0M500.2 43.1h0M484.0 50.0h0M452.8 107.0h0M459.7 60.0h0M427.2 104.1h0M470.2 81.3h0M479.3 58.0h0M427.2 106.4h0M453.6 84.9h0M469.0 74.4h0M428.0 74.0h0M466.5 89.1h0M440.5 72.1h0M482.9 55.2h0M473.3 82.6h0M424.5 80.3h0M424.5 101.9h0M470.1 74.7h0M457.6 77.8h0M483.7 74.9h0M452.1 63.7h0M477.9 81.5h0M452.2 61.6h0M426.0 92.5h0M478.6 84.4h0M486.9 77.9h0M468.1 68.8h0M438.9 65.8h0M474.0 62.9h0M462.5 70.2h0M425.0 102.7h0M475.9 92.8h0M478.4 82.5h0M474.0 86.6h0M439.6 46.0h0M476.3 72.9h0M424.6 108.1h0M441.8 97.7h0M427.1 117.8h0M445.4 80.5h0M441.2 77.2h0M455.6 68.2h0M464.7 83.4h0M477.3 67.6h0M426.7 111.5h0M493.6 81.1h0M427.4 67.0h0M476.6 63.5h0M482.9 59.9h0M493.5 53.0h0M425.2 83.5h0M495.4 72.9h0M464.1 104.8h0M425.1 88.2h0M494.6 62.0h0M425.6 70.4h0M470.1 52.4h0M474.4 81.2h0M424.9 98.6h0M478.8 57.4h0M449.5 79.5h0M486.2 80.7h0M446.5 94.1h0M429.1 107.1h0M496.2 46.6h0M453.0 60.2h0M424.9 82.1h0M460.4 67.5h0M451.9 73.5h0M444.5 83.3h0M466.1 78.0h0M445.6 64.8h0M424.4 91.0h0M438.5 104.7h0M478.6 59.7h0M442.1 73.3h0M488.7 80.2h0M445.3 70.8h0M441.9 99.4h0M424.6 84.4h0M464.7 73.4h0M473.8 60.5h0M457.8 86.4h0M469.7 76.5h0M465.6 73.5h0M458.5 70.2h0M440.0 59.0h0M428.8 91.5h0M481.9 75.4h0M468.7 77.3h0M449.0 87.8h0M434.2 101.6h0M463.3 93.8h0M427.1 78.5h0M424.6 93.7h0M455.3 87.6h0M458.0 64.3h0M453.8 94.2h0M449.9 88.3h0M431.9 94.7h0M435.2 81.4h0M481.1 83.7h0M453.0 80.0h0M424.9 104.7h0M481.7 79.6h0M494.2 61.2h0M424.7 80.2h0M497.6 52.0h0M424.6 80.9h0M442.0 89.4h0M485.9 48.6h0M455.7 69.1h0M467.7 96.7h0M438.8 64.2h0M436.8 71.8h0M461.3 105.8h0M426.0 77.7h0M451.2 95.5h0M442.2 75.3h0M504.0 55.5h0M447.1 72.3h0M426.4 84.4h0M462.5 83.0h0M444.8 84.6h0M478.4 94.9h0M485.4 85.0h0M479.9 58.9h0M467.7 54.0h0M489.1 60.9h0M438.2 49.2h0M474.7 79.7h0M481.4 81.1h0M485.4 70.6h0M465.1 67.9h0M464.5 49.1h0M432.9 82.2h0M483.5 77.4h0M501.6 68.8h0M458.6 92.3h0M469.6 80.5h0M481.7 65.0h0M425.7 117.0h0M444.4 72.4h0M470.6 66.3h0M438.7 97.0h0M424.7 98.0h0M482.8 57.8h0M426.1 73.0h0M424.6 91.4h0M455.7 71.4h0M436.2 75.1h0M424.4 87.3h0M488.3 67.4h0M445.6 78.9h0M425.1 85.1h0M425.3 87.6h0M455.2 56.9h0M443.2 82.8h0M441.0 61.8h0M450.0 109.8h0M442.8 71.9h0M467.6 87.0h0M474.5 63.4h0M478.8 64.5h0M438.0 65.3h0M506.1 49.9h0M424.5 89.9h0M435.0 83.0h0M425.1 88.8h0M486.4 83.9h0M447.6 83.9h0M425.9 102.4h0M484.1 80.0h0M463.5 80.9h0M453.0 104.4h0M470.4 55.3h0M452.6 71.4h0M467.5 72.0h0M475.2 86.4h0M437.5 69.1h0M427.7 86.7h0M459.0 67.8h0M424.9 95.2h0M443.7 67.1h0M425.1 87.5h0M483.8 63.8h0M459.8 50.8h0M453.2 85.0h0M498.6 79.1h0M428.8 108.7h0M425.7 80.3h0M425.8 75.6h0M455.3 54.6h0M468.5 78.6h0M425.8 90.2h0M454.3 58.8h0M468.3 65.9h0M481.3 100.0h0M442.0 75.3h0M441.9 97.0h0M486.6 72.3h0M471.4 75.2h0M463.8 92.1h0M428.4 76.6h0M429.6 89.2h0M432.7 86.3h0M485.2 68.3h0M437.3 68.4h0M450.6 87.9h0M428.3 93.2h0M448.7 91.3h0M473.3 80.6h0M469.2 72.5h0M448.2 72.4h0M432.2 91.3h0M480.7 72.9h0M486.4 59.8h0M425.8 83.3h0M467.2 52.9h0M438.8 88.2h0M463.6 71.0h0M464.9 84.5h0M468.6 77.4h0M483.7 56.0h0M425.0 66.8h0M438.3 101.1h0M452.1 80.0h0M467.9 88.4h0M478.5 46.7h0M464.7 62.6h0M458.8 79.8h0M425.3 95.2h0M425.0 110.1h0M496.6 55.6h0M445.9 70.4h0M455.1 67.7h0M450.6 103.7h0M454.4 78.7h0M473.0 65.5h0M446.6 79.2h0M434.4 102.5h0M445.1 98.8h0M485.3 61.7h0M482.8 81.9h0M463.3 96.8h0M457.2 50.3h0M491.4 52.0h0M501.2 72.1h0M460.0 47.2h0M503.2 55.3h0M475.5 78.2h0M490.9 72.3h0M445.9 69.2h0M425.5 92.5h0M444.5 65.7h0M456.1 71.5h0M425.7 77.6h0M480.7 70.4h0M452.5 46.6h0M424.4 99.7h0M458.7 72.6h0M442.8 47.1h0M462.2 93.5h0M427.8 98.8h0M466.9 86.9h0M480.2 61.6h0M433.0 77.2h0M424.8 98.2h0M425.1 116.9h0M463.3 83.2h0M438.7 98.5h0M433.2 82.1h0M458.8 71.4h0M452.2 72.2h0M485.6 91.0h0M462.2 84.3h0M478.7 83.5h0M477.1 72.9h0M426.3 87.9h0M441.9 82.3h0M463.7 61.5h0M448.1 88.2h0M467.4 70.8h0M424.6 88.2h0M442.7 94.0h0M427.0 89.3h0M511.4 77.6h0M432.9 99.5h0M453.2 93.7h0M443.6 72.8h0M489.7 72.5h0M483.8 62.7h0M451.6 52.7h0M425.1 87.1h0M425.4 103.6h0M478.9 102.3h0M444.7 71.5h0M436.0 65.0h0M424.5 93.1h0M475.3 79.5h0M441.0 74.6h0M480.4 65.5h0M489.2 83.7h0M442.9 95.4h0M480.4 43.8h0M424.9 120.8h0M437.4 74.9h0M432.7 66.3h0M425.1 98.5h0M446.9 73.1h0M464.1 67.1h0M449.4 64.5h0M483.2 43.5h0M425.0 100.6h0M453.3 72.3h0M424.7 91.7h0M482.6 73.5h0M462.5 80.6h0M456.8 80.6h0M426.2 85.4h0M489.3 74.0h0M479.3 87.4h0M448.6 97.2h0M429.9 89.4h0M447.7 70.5h0M486.3 67.5h0M447.1 65.3h0M425.4 92.5h0M445.1 90.7h0M432.4 68.6h0M424.5 99.2h0M494.2 85.4h0M424.4 84.2h0M459.4 79.5h0M476.0 55.5h0M482.2 87.8h0M424.6 82.0h0M447.3 85.0h0M475.0 84.6h0M502.5 79.7h0M438.7 65.1h0M426.0 95.9h0M435.5 47.3h0M438.2 99.7h0M449.3 98.0h0M425.7 55.5h0M461.5 90.2h0M425.0 83.3h0M425.4 95.4h0M450.2 68.9h0M457.1 61.7h0M452.4 91.5h0M433.8 95.1h0M425.2 101.6h0M448.7 85.9h0M424.6 94.0h0M430.3 74.1h0M425.7 87.3h0M450.0 47.6h0M426.6 82.7h0M432.0 109.1h0M476.2 59.8h0M463.3 66.5h0M481.5 72.3h0M438.8 80.3h0M425.7 79.7h0M435.3 89.1h0M456.9 80.8h0M505.0 73.2h0M504.5 44.7h0M509.7 66.2h0M438.6 86.7h0M437.1 45.4h0M425.6 79.9h0M452.5 94.3h0M455.9 90.0h0M447.5 87.7h0M463.7 100.5h0M463.3 84.2h0M450.4 57.4h0M502.3 74.7h0M458.2 93.6h0M455.5 83.8h0M458.8 80.8h0M485.1 51.5h0M431.5 91.4h0M452.5 56.2h0M461.8 94.5h0M474.8 85.4h0M474.9 91.0h0M424.9 101.1h0M475.3 62.1h0M473.4 68.3h0M439.1 65.3h0M475.9 81.9h0M456.1 82.6h0M482.4 77.5h0M464.7 76.7h0M426.1 72.3h0M459.0 101.2h0M424.4 72.1h0M473.2 48.5h0M444.6 90.8h0M425.5 91.6h0M450.5 93.9h0M455.2 101.0h0M436.7 88.9h0M452.0 84.9h0M448.6 71.7h0M469.7 83.4h0M442.0 86.5h0M478.1 91.9h0M435.7 70.5h0M442.0 83.1h0M425.2 111.4h0M430.3 84.1h0M439.8 95.5h0M495.8 56.0h0M463.3 74.4h0M482.5 78.6h0M469.4 77.4h0M477.6 66.5h0M431.6 101.9h0M473.9 81.2h0M425.0 84.7h0M492.5 52.7h0M461.4 83.0h0M495.1 68.2h0M479.0 81.5h0M426.8 74.4h0M426.6 91.5h0M484.1 56.1h0M494.9 53.7h0M476.0 97.5h0M427.1 67.0h0M488.3 59.6h0M482.7 61.7h0M452.4 70.9h0M456.6 73.1h0M446.4 98.3h0M447.7 89.1h0M492.5 89.6h0M431.0 54.9h0M498.2 83.6h0M477.3 80.1h0M515.9 48.2h0M493.6 63.8h0M480.4 82.1h0M425.5 66.9h0M464.7 91.7h0M470.2 64.7h0M427.1 108.5h0M501.8 55.2h0M486.2 72.9h0M425.9 90.5h0M442.6 78.9h0M479.6 77.7h0M464.4 90.9h0M440.9 73.0h0M427.7 62.9h0M488.3 70.7h0M424.9 67.6h0M453.0 71.1h0M426.3 96.7h0M478.1 60.1h0M424.8 93.3h0M437.0 60.1h0M470.6 83.8h0M425.5 80.6h0M482.1 74.8h0M448.8 68.1h0M453.9 78.3h0M429.1 73.2h0M436.2 82.4h0M463.6 71.7h0M482.9 76.5h0M464.2 58.4h0M493.4 65.7h0M425.3 77.8h0M472.3 60.2h0M452.3 95.7h0M437.9 88.3h0M439.8 76.7h0M477.4 48.9h0M438.6 101.3h0M494.4 65.5h0M424.6 83.5h0M484.3 55.8h0M447.4 64.8h0M482.5 69.6h0M477.2 93.2h0M432.1 78.1h0M468.8 83.2h0M450.6 74.8h0M478.8 69.0h0M470.8 69.2h0M427.6 92.9h0M453.0 75.8h0M437.8 75.8h0M433.1 79.5h0M430.0 76.8h0M462.5 106.9h0M427.3 75.0h0M449.7 90.1h0M486.8 67.2h0M432.1 96.7h0M497.1 54.5h0M454.5 88.2h0M466.1 82.9h0M485.5 85.0h0M499.4 66.2h0M430.6 84.6h0M425.8 99.3h0M448.4 85.8h0M425.6 81.3h0M472.9 67.8h0M459.5 102.0h0M444.9 76.9h0M430.1 93.9h0M435.6 88.6h0M446.1 86.4h0M425.3 99.9h0M464.1 85.7h0M424.6 88.9h0M472.8 82.6h0M427.5 90.9h0M485.2 57.5h0M456.1 75.7h0M426.6 77.3h0M452.0 81.0h0M429.8 84.4h0M425.2 92.1h0M425.5 72.7h0M425.4 82.2h0M505.5 67.5h0M426.9 119.2h0M481.1 77.3h0M466.6 83.3h0M439.5 88.3h0M465.1 71.6h0M486.1 52.4h0M470.9 57.2h0M458.9 78.4h0M444.2 85.6h0M492.6 67.9h0M444.8 51.0h0M425.2 86.7h0M472.4 68.4h0M480.0 73.5h0M497.3 91.4h0M427.4 77.6h0M454.0 52.0h0M449.6 81.2h0M498.9 91.1h0M446.0 74.0h0M455.7 99.4h0M451.9 81.8h0M441.6 107.0h0M460.6 65.9h0M425.3 110.3h0M425.5 56.8h0M474.2 42.2h0M438.5 70.2h0M457.0 72.5h0M428.0 100.3h0M510.5 45.8h0M427.0 103.6h0M426.0 96.0h0M447.9 67.4h0M452.8 100.8h0M424.9 60.8h0M468.6 68.3h0M428.1 63.6h0M446.4 53.8h0M438.3 59.4h0M471.5 78.7h0M441.7 76.3h0M451.2 72.4h0M479.2 54.0h0M490.5 91.2h0M473.9 97.3h0M437.4 103.8h0M451.1 96.0h0M426.2 101.2h0M476.1 83.4h0M436.5 82.4h0M442.4 85.6h0M486.5 46.0h0M427.9 75.8h0M442.1 75.0h0M485.6 55.9h0M452.4 90.5h0M443.4 89.4h0M451.6 98.7h0M450.0 86.9h0M449.0 85.2h0M464.8 76.5h0M480.6 86.1h0M484.0 96.7h0M457.6 90.9h0M483.6 73.2h0M424.4 96.4h0M468.1 104.3h0M425.9 89.9h0M470.1 79.4h0M425.7 81.1h0M469.7 61.8h0M464.7 85.2h0M478.4 68.1h0M471.9 46.8h0M444.8 73.8h0M455.3 91.7h0M424.7 76.6h0M425.9 84.7h0M467.4 77.5h0M490.6 68.7h0M440.5 112.8h0M502.6 55.3h0M425.3 52.1h0M482.9 70.8h0M480.8 67.6h0M454.8 83.0h0M425.5 72.8h0M471.9 61.9h0M469.0 78.3h0M456.9 105.0h0M479.5 84.4h0M432.9 83.9h0M454.6 97.0h0M450.3 107.8h0M447.3 66.3h0M424.6 72.4h0M496.2 77.7h0M424.7 95.1h0M430.4 71.1h0M425.1 70.5h0M425.4 100.7h0M463.2 66.7h0M483.6 79.1h0M482.6 76.8h0M482.9 48.8h0M485.1 76.3h0M499.8 57.4h0M434.6 95.4h0M466.6 52.5h0M433.3 74.1h0M424.8 101.2h0M484.4 83.0h0M459.4 73.1h0M443.4 91.8h0M496.4 63.8h0M430.0 93.6h0M464.4 87.9h0M482.6 68.0h0M427.4 81.7h0M485.4 66.9h0M425.5 90.4h0M482.7 86.6h0M463.5 74.9h0M518.5 85.1h0M427.0 59.2h0M443.9 77.5h0M445.7 68.2h0M438.6 110.2h0M430.5 99.8h0M432.2 90.6h0M452.7 54.6h0M426.9 103.6h0M458.6 94.1h0M483.7 55.3h0M452.3 58.0h0M495.3 68.7h0M428.2 96.9h0M464.9 59.1h0M425.6 83.5h0M450.3 93.1h0M425.5 84.0h0M483.1 68.9h0M452.4 76.7h0M425.9 63.4h0M464.7 63.2h0M441.6 78.7h0M458.4 59.3h0M470.5 45.2h0M450.1 62.9h0M425.0 86.4h0M432.8 84.6h0M459.9 68.7h0M468.3 82.8h0M476.3 45.8h0M425.5 110.4h0M487.9 81.9h0M424.6 84.9h0M433.1 77.7h0M433.5 94.9h0M436.2 92.4h0M473.3 91.1h0M444.1 85.6h0M429.1 102.6h0M445.4 103.8h0M467.3 80.6h0M475.1 80.4h0M425.6 100.7h0M482.4 82.6h0M432.9 65.7h0M433.7 92.9h0M427.1 81.3h0M450.6 63.6h0M486.2 63.0h0M464.6 69.1h0M455.6 43.4h0M425.5 58.6h0M467.9 75.2h0M459.0 86.2h0M449.4 70.4h0M451.7 62.7h0M481.4 50.1h0M424.5 60.1h0M451.0 53.4h0M509.2 48.2h0M426.0 70.6h0M426.3 103.1h0M459.0 105.0h0M457.0 89.9h0M492.0 58.5h0M478.5 61.0h0M485.4 61.6h0M485.5 57.3h0M425.0 72.1h0M452.4 50.8h0M426.0 65.2h0M485.9 55.0h0M470.3 57.9h0M475.0 52.8h0M436.2 97.2h0M466.2 68.1h0M426.1 86.4h0M425.6 98.6h0M456.4 53.7h0M428.3 103.1h0M439.4 80.2h0M425.2 109.5h0M425.2 60.5h0M443.5 108.8h0M426.2 105.8h0M485.6 83.3h0M470.0 90.5h0M424.9 95.0h0M439.1 73.9h0M469.4 73.0h0M450.7 67.6h0M461.8 94.6h0M483.4 73.8h0M496.7 91.5h0M438.3 75.1h0M446.3 95.7h0M424.9 79.3h0M439.7 59.9h0M438.9 48.8h0M450.7 108.9h0M485.2 74.2h0M477.3 71.6h0M480.2 99.1h0M447.0 76.1h0M462.4 92.2h0M472.2 60.7h0M443.3 89.6h0M454.0 66.1h0M425.8 94.4h0M440.5 54.8h0M468.4 77.3h0M424.9 62.9h0M435.1 105.6h0M431.4 100.4h0M460.1 72.3h0M483.4 71.7h0M452.9 61.9h0M454.8 65.3h0M494.3 60.8h0M480.7 78.8h0M445.0 93.3h0M472.6 78.0h0M477.4 61.5h0M431.5 85.7h0M427.6 104.4h0M449.3 61.0h0M474.8 82.8h0M484.4 73.0h0M470.5 97.5h0M424.6 63.9h0M442.8 71.5h0M427.4 85.8h0M448.9 92.2h0M495.6 49.2h0M456.5 82.0h0M484.5 79.5h0M469.4 55.6h0M477.0 63.7h0M427.2 90.0h0M425.5 77.6h0M429.6 72.0h0M465.5 85.4h0M453.3 108.9h0M494.7 52.6h0M501.8 58.6h0M483.8 88.6h0M486.5 99.0h0M438.5 87.6h0M460.7 77.8h0M459.6 67.9h0M443.5 88.6h0M436.3 61.2h0M485.3 71.2h0M471.0 59.2h0M426.3 70.2h0M478.8 79.8h0M475.0 81.5h0M437.9 72.1h0M437.6 112.3h0M490.4 45.2h0M495.0 62.4h0M437.0 65.2h0M487.3 73.3h0M457.2 89.7h0M482.8 71.7h0M471.5 60.3h0M461.3 67.6h0M474.6 52.8h0M443.9 80.6h0M486.7 65.8h0M441.8 109.5h0M462.0 54.7h0M512.5 81.9h0M426.4 71.6h0M466.3 78.9h0M461.1 86.2h0M435.0 75.5h0M450.1 101.7h0M486.1 76.6h0M480.4 81.6h0M459.4 87.3h0M424.6 98.2h0M487.0 84.1h0M489.8 84.3h0M467.8 98.5h0M447.1 93.4h0M449.9 82.6h0M466.6 72.0h0M489.0 58.2h0M453.2 60.5h0M464.2 64.6h0M469.2 71.6h0M440.6 74.4h0M488.5 54.3h0M451.5 82.4h0M450.9 77.0h0M448.4 83.4h0M490.0 60.5h0M454.2 74.9h0M473.0 65.2h0M466.7 67.1h0M425.9 81.9h0M424.4 61.5h0M443.8 107.8h0M472.6 87.2h0M457.2 89.2h0M497.4 42.4h0M426.3 101.3h0M497.3 44.2h0M452.5 85.1h0M476.0 59.6h0M425.0 68.4h0M454.0 89.3h0M425.0 99.8h0M465.7 67.2h0M437.2 63.9h0M504.3 59.3h0M448.8 69.4h0M481.0 66.3h0M498.0 41.4h0M508.9 60.2h0M473.1 83.2h0M440.3 100.7h0M435.9 102.8h0M425.1 64.0h0M485.9 73.7h0M426.6 85.7h0M483.6 64.9h0M442.4 73.7h0M432.9 77.6h0M450.0 57.5h0M449.1 69.9h0M480.1 44.4h0M424.9 89.4h0M500.2 66.5h0M464.5 68.7h0M450.9 90.3h0M425.5 118.3h0M474.9 84.7h0M425.6 113.3h0M485.2 80.6h0M493.8 69.3h0M428.1 100.9h0M425.4 110.5h0M485.6 90.9h0M425.4 54.2h0M471.4 86.7h0M486.2 83.7h0M443.6 77.5h0M466.7 66.5h0M443.9 80.6h0M431.0 80.2h0M424.7 89.6h0M460.2 91.6h0M424.5 69.1h0M469.8 61.2h0M428.7 108.6h0M474.0 90.0h0M478.1 81.2h0M479.5 55.9h0M486.3 94.2h0M465.5 102.8h0M454.1 87.8h0M465.3 70.7h0M425.5 99.7h0M482.3 85.2h0M447.0 66.6h0M433.7 97.0h0M479.4 75.3h0M428.3 103.5h0M437.4 90.7h0M478.1 74.6h0M448.9 75.1h0M449.7 70.5h0M424.5 114.2h0M435.4 84.3h0M473.3 89.2h0M480.4 60.5h0M470.4 77.5h0M425.9 103.0h0M435.0 92.7h0M467.2 57.5h0M473.4 74.6h0M445.2 80.1h0M445.6 90.2h0M438.9 74.1h0M452.9 63.1h0M445.6 103.0h0M425.7 59.0h0M459.6 59.9h0M440.9 74.5h0M464.9 102.3h0M451.0 100.4h0M486.5 89.2h0M430.3 65.4h0M488.5 65.5h0M487.6 64.2h0M425.3 108.8h0M453.4 84.1h0M426.9 61.0h0M501.8 69.8h0M445.3 85.9h0M427.8 79.1h0M428.9 84.7h0M481.9 74.7h0M424.9 86.5h0M429.6 93.9h0M473.7 69.2h0M485.7 56.5h0M486.7 58.2h0M479.5 102.3h0M424.6 107.9h0M477.2 74.9h0M463.3 90.3h0M469.8 63.5h0M424.7 95.8h0M424.8 73.2h0M433.2 90.1h0M425.0 71.5h0M424.9 92.8h0M438.5 103.3h0M479.1 85.3h0M444.4 94.8h0M496.9 65.6h0M457.9 82.2h0M433.9 102.2h0M518.0 74.8h0M447.5 92.8h0M451.8 103.1h0M489.2 78.8h0M426.4 101.2h0M424.7 95.1h0M513.7 68.1h0M434.0 82.1h0M431.1 96.0h0M437.8 90.9h0M471.6 66.8h0M425.0 99.5h0M424.8 87.5h0M481.5 92.9h0M462.5 103.2h0M482.2 61.7h0M476.5 55.1h0M427.5 69.0h0M480.9 48.3h0M457.4 80.3h0M463.5 72.7h0M440.0 102.0h0M433.1 92.9h0M451.9 70.4h0M424.5 70.5h0M451.2 111.6h0M462.6 102.2h0M455.5 71.5h0M445.5 80.8h0M457.4 104.8h0M516.9 47.2h0M481.7 74.8h0M473.7 73.0h0M465.0 74.1h0M476.5 83.6h0M494.7 50.4h0M477.1 64.9h0M448.6 90.6h0M473.3 64.7h0M455.9 71.2h0M439.0 93.6h0M501.0 46.9h0M466.2 93.9h0M482.9 63.2h0M459.5 106.3h0M452.4 53.0h0M481.9 87.3h0M424.7 84.5h0M426.4 77.8h0M434.1 77.0h0M466.1 69.4h0M443.6 92.7h0M444.7 50.1h0M447.5 63.3h0M460.3 92.1h0M463.2 68.0h0M467.3 81.7h0M447.9 90.5h0M495.2 61.2h0M475.4 66.2h0M425.3 56.5h0M481.2 86.9h0M475.9 53.3h0M475.1 76.0h0M467.1 62.9h0M431.1 67.8h0M491.9 94.9h0M459.1 89.9h0M442.8 110.0h0M434.0 62.5h0M444.3 87.3h0M437.0 98.7h0M481.4 74.8h0M503.3 56.9h0M451.2 76.6h0M425.1 88.1h0M444.2 78.1h0M461.8 50.9h0M428.4 85.0h0M475.7 83.0h0M469.1 88.8h0M434.9 107.5h0M428.6 94.8h0M453.5 50.3h0M497.4 85.3h0M444.0 102.7h0M448.2 102.9h0M436.6 56.2h0M425.4 104.7h0M424.8 80.3h0M443.7 96.5h0M462.0 59.2h0M424.5 70.6h0M467.0 98.1h0M474.6 63.0h0M444.8 82.1h0M425.3 78.2h0M425.1 91.6h0M482.4 68.2h0M425.2 88.6h0M431.1 87.1h0M453.6 104.0h0M446.5 83.0h0M430.8 81.0h0M425.8 76.1h0M508.5 60.1h0M506.0 80.9h0M478.6 80.4h0M465.6 94.8h0M425.5 102.8h0M450.4 57.1h0M436.3 92.3h0M443.6 107.7h0M492.8 59.8h0M477.2 93.0h0M425.7 72.6h0M439.2 59.6h0M499.6 70.0h0M469.8 75.8h0M435.0 90.7h0M483.8 59.5h0M455.0 82.2h0M446.2 74.1h0M433.4 102.6h0M443.9 74.3h0M474.2 81.0h0M439.9 101.2h0M501.5 55.9h0M426.3 80.8h0M447.2 79.3h0M484.8 73.3h0M455.9 79.1h0M457.3 61.3h0M425.9 103.1h0M452.7 93.3h0M475.1 53.1h0M425.5 85.0h0M480.6 97.2h0M502.9 84.9h0M424.8 91.3h0M435.6 54.7h0M480.0 42.7h0M448.3 60.7h0M472.0 50.9h0M425.5 81.5h0M484.4 56.9h0M478.9 74.7h0M425.1 83.9h0M477.7 78.6h0M485.2 52.8h0M441.3 96.3h0M471.8 70.9h0M446.3 86.1h0M475.2 79.0h0M478.7 74.3h0M486.2 76.5h0M445.3 69.2h0M459.4 73.3h0M464.0 65.8h0M424.6 71.7h0M479.9 95.8h0M439.7 68.1h0M461.8 86.3h0M431.0 109.2h0M433.6 115.6h0M472.4 92.8h0M440.3 62.6h0M479.6 80.0h0M478.9 76.8h0M452.4 93.3h0M492.2 61.4h0M484.3 78.3h0M485.7 82.0h0M456.3 65.8h0M485.0 58.4h0M475.9 62.5h0M468.4 68.9h0M479.2 45.9h0M475.1 59.2h0M482.0 60.2h0M433.7 68.8h0M473.0 87.0h0M425.7 81.2h0M486.5 84.0h0M481.7 77.0h0M426.2 90.8h0M486.7 58.2h0M424.8 83.9h0M476.5 102.0h0M465.3 86.7h0M424.9 87.7h0M454.5 99.4h0M429.8 94.7h0M479.2 83.3h0M473.7 80.4h0M476.1 82.1h0M439.4 73.5h0M426.2 81.1h0M453.6 87.5h0M430.6 94.8h0M426.0 79.0h0M454.1 108.7h0M476.6 43.7h0M464.5 68.4h0M467.9 79.4h0M460.2 48.6h0M482.9 53.6h0M480.2 77.4h0M462.4 81.1h0M472.9 85.1h0M471.8 75.1h0M433.6 90.7h0M431.1 85.4h0M485.4 74.6h0M484.0 61.0h0M449.3 93.7h0M441.2 64.0h0M431.3 104.3h0M472.2 91.7h0M462.8 62.8h0M450.2 76.1h0M478.3 83.2h0M435.4 84.7h0M446.3 66.6h0M448.9 73.3h0M425.6 76.2h0M438.5 83.9h0M486.2 51.4h0M432.9 90.4h0M466.9 73.5h0M444.4 87.1h0M450.1 83.8h0M465.1 59.6h0M453.2 77.8h0M451.3 61.0h0M485.5 77.7h0M451.1 64.4h0M471.2 52.4h0M498.4 59.7h0M456.5 56.6h0M440.2 88.5h0M424.8 84.5h0M430.4 88.8h0M483.4 83.1h0M499.7 67.5h0M485.3 84.4h0M425.8 87.3h0M464.5 65.0h0M468.4 56.4h0M424.4 101.4h0M476.8 72.4h0M464.3 74.6h0M489.7 51.4h0M470.6 68.2h0M424.4 84.0h0M483.8 49.9h0M448.7 90.8h0M425.3 79.5h0M468.4 59.1h0M427.7 84.9h0M474.2 64.1h0M457.6 63.6h0M434.6 76.8h0M450.5 82.9h0M480.9 54.9h0M455.6 59.4h0M462.5 87.1h0M475.6 75.3h0M455.2 96.2h0M428.2 61.5h0M426.8 114.7h0M452.0 69.9h0M479.1 93.0h0M436.0 86.1h0M471.4 77.4h0M482.3 64.0h0M425.7 67.1h0M425.2 61.5h0M452.3 75.5h0M428.8 87.8h0M445.8 93.6h0M460.2 66.2h0M491.0 61.5h0M426.5 116.5h0M424.8 84.9h0M444.4 70.1h0M446.2 75.9h0M451.7 95.5h0M481.3 69.0h0M486.5 57.7h0M499.7 53.6h0M424.8 77.3h0M430.0 77.9h0M444.9 60.6h0M430.3 114.4h0M466.3 74.9h0M464.5 49.2h0M460.3 52.7h0M461.6 103.8h0M439.4 71.8h0M443.7 106.3h0M444.3 42.8h0M461.6 85.4h0M467.2 63.2h0M471.1 82.9h0M431.2 78.1h0M478.8 72.5h0M446.3 88.4h0M425.5 91.7h0M425.9 77.5h0M508.5 47.7h0M424.8 81.7h0M471.6 72.8h0M454.8 89.2h0M453.5 69.9h0M432.5 90.8h0M426.3 110.0h0M427.7 92.4h0M468.9 87.6h0M484.8 92.6h0M425.3 93.8h0M426.0 89.0h0M478.5 82.4h0M463.3 82.5h0M426.4 87.7h0M502.1 80.8h0M448.6 85.4h0M436.8 52.9h0M458.7 46.5h0M434.3 82.1h0M433.8 78.3h0M434.2 80.2h0M447.0 84.2h0M499.9 79.4h0M425.2 77.0h0M440.7 92.1h0M433.1 101.1h0M465.3 60.9h0M479.7 68.2h0M493.3 59.8h0M435.5 68.4h0M438.1 95.4h0M454.2 73.3h0M499.0 68.9h0M444.7 42.8h0M465.4 87.1h0M433.4 77.7h0M482.5 78.6h0M502.9 64.1h0M465.3 70.2h0M485.7 91.4h0M426.5 97.3h0M494.4 58.8h0M425.7 120.6h0M428.8 78.5h0M436.6 79.4h0M481.0 71.2h0M485.1 64.6h0M425.4 69.7h0M458.9 53.7h0M483.1 84.8h0M471.2 71.1h0M425.3 76.7h0M462.5 82.0h0M429.5 81.0h0M430.7 86.9h0M425.7 80.3h0M459.0 63.0h0M464.3 67.3h0M425.8 78.1h0M424.7 69.3h0M424.7 82.7h0M439.8 75.0h0M481.6 64.4h0M467.5 86.6h0M480.8 85.3h0M476.2 91.0h0M503.3 77.8h0M424.9 91.9h0M430.3 97.4h0M475.2 69.3h0M459.5 65.4h0M425.5 66.4h0M503.0 60.9h0M446.3 78.8h0M441.7 86.4h0M465.4 50.3h0M432.1 85.7h0M477.5 86.8h0M443.3 84.9h0M488.3 80.1h0M424.9 69.6h0M472.3 86.4h0M472.5 86.3h0M428.3 70.1h0M437.6 87.0h0M462.8 67.6h0M472.7 78.4h0M464.8 66.2h0M481.5 71.9h0M468.9 77.1h0M425.1 57.5h0M457.3 62.3h0M469.9 79.9h0M494.0 68.4h0M465.1 80.6h0M468.8 76.8h0M446.6 105.5h0M449.7 83.7h0M442.2 90.0h0M470.3 51.6h0M486.7 66.3h0M467.9 75.7h0M481.5 62.3h0M438.2 96.4h0M463.4 75.1h0M478.6 69.1h0M463.7 75.8h0M471.0 44.8h0M426.8 79.4h0M460.1 71.8h0M517.5 74.0h0M425.6 76.9h0M505.7 88.6h0M455.3 57.7h0M461.8 83.8h0M430.1 63.4h0M454.5 82.3h0M426.9 67.3h0M425.1 81.8h0M430.1 108.9h0M470.2 79.3h0M503.7 50.9h0M475.9 58.4h0M474.4 102.0h0M444.4 87.7h0M463.0 86.5h0M425.7 61.9h0M425.0 101.1h0M433.8 79.8h0M487.3 69.7h0M424.5 116.8h0M471.0 73.8h0M497.0 90.7h0M480.6 47.2h0M450.4 67.4h0M449.5 75.9h0M449.9 95.7h0M460.3 61.4h0M449.5 95.8h0M469.5 66.2h0M481.8 73.6h0M465.6 67.8h0M457.4 71.4h0M425.1 88.7h0M471.7 83.4h0M475.4 79.9h0M438.0 93.5h0M453.2 80.3h0M482.1 85.5h0M448.9 73.9h0M431.4 93.8h0M425.0 90.6h0M462.6 86.2h0M487.3 65.5h0M446.4 81.7h0M468.1 46.3h0M434.0 75.5h0M479.6 73.8h0M499.3 58.4h0M424.7 102.7h0M434.0 74.0h0M474.0 71.4h0M439.0 91.9h0M487.6 64.7h0M448.1 71.9h0M497.0 45.7h0M433.0 89.7h0M488.6 77.0h0M466.4 79.2h0M446.7 72.8h0M424.4 60.9h0M424.4 85.5h0M482.9 81.0h0M424.7 71.0h0M439.7 84.8h0M482.6 85.4h0M485.3 53.4h0M494.2 79.3h0M494.6 82.2h0M440.6 102.8h0M480.9 83.1h0M497.0 66.2h0M481.3 61.5h0M442.8 87.0h0M502.1 54.1h0M504.0 50.8h0M476.5 75.4h0M446.1 75.7h0M489.4 61.1h0M452.9 67.8h0M439.9 89.1h0M425.7 94.3h0M467.0 85.8h0M433.8 54.8h0M451.4 63.1h0M424.9 89.7h0M485.4 80.4h0M480.3 61.4h0M451.9 70.2h0M495.1 74.6h0M428.7 84.5h0M468.1 74.0h0M485.8 63.3h0M456.2 68.8h0M424.9 90.1h0M469.1 69.6h0M446.4 77.9h0M499.0 60.0h0M492.0 58.1h0M426.5 95.4h0M483.8 70.5h0M484.6 88.1h0M432.7 74.7h0M425.3 84.4h0M476.9 88.9h0M425.2 63.2h0M426.1 65.9h0M485.7 74.9h0M468.3 84.7h0M481.1 70.3h0M462.2 84.8h0M479.3 59.4h0M424.8 92.0h0M493.9 68.5h0M440.7 67.0h0M431.9 45.3h0M496.4 64.8h0M441.3 67.8h0M429.6 56.9h0M439.5 95.8h0M495.1 69.0h0M425.5 72.4h0M463.6 89.8h0M467.6 57.5h0M424.8 113.2h0M425.2 76.3h0M425.0 96.5h0M425.6 78.4h0M439.7 91.4h0M489.5 64.7h0M433.6 98.8h0M502.4 90.7h0M448.2 82.1h0M481.8 52.4h0M474.6 67.8h0M425.7 89.7h0M487.0 65.0h0M466.0 75.3h0M424.5 103.9h0M485.7 57.2h0M444.9 56.8h0M438.4 108.9h0M482.7 61.5h0M475.0 82.5h0M453.4 104.6h0M429.9 90.6h0M509.1 75.7h0M458.5 94.9h0M496.4 44.6h0M478.5 79.0h0M424.6 69.9h0M425.5 99.1h0M429.6 86.7h0M424.9 92.4h0M436.5 95.4h0M476.1 86.8h0M460.8 70.0h0M439.1 95.9h0M461.6 45.4h0M478.2 90.0h0M444.5 90.3h0M481.4 49.1h0M461.1 87.4h0M437.4 93.8h0M463.0 75.9h0M469.1 68.0h0M426.4 72.6h0M483.0 57.9h0M486.4 46.5h0M424.6 104.4h0M471.9 90.2h0M457.4 79.8h0M433.4 82.8h0M424.9 76.9h0M463.7 87.3h0M483.8 59.6h0M443.4 76.5h0M510.9 54.1h0M485.6 73.2h0M442.2 92.8h0M482.7 87.6h0M483.9 78.1h0M426.2 100.1h0M470.9 71.5h0M471.7 78.6h0M428.9 111.0h0M474.9 73.6h0M482.9 78.2h0M428.0 100.3h0M485.0 69.5h0M473.2 77.5h0M469.9 75.6h0M424.6 103.1h0M479.1 75.0h0M430.8 101.3h0M484.7 55.3h0M474.7 92.0h0M448.4 92.2h0M489.5 50.9h0M485.4 78.5h0M465.4 100.0h0M462.1 65.8h0M457.4 60.0h0M492.4 82.0h0M462.5 59.6h0M478.2 82.9h0M430.4 66.5h0M482.3 61.6h0M504.8 90.4h0M479.8 77.7h0M460.7 65.6h0M475.5 75.5h0M459.9 53.6h0M425.8 112.0h0M463.4 82.0h0M425.5 97.3h0M445.3 60.3h0M441.4 47.7h0M427.1 102.5h0M470.9 69.7h0M446.0 92.4h0M440.5 66.2h0M472.7 69.7h0M460.3 90.3h0M505.9 74.1h0M443.1 81.3h0M451.0 79.1h0M426.9 74.8h0M446.1 63.9h0M456.6 76.2h0M489.1 54.3h0M425.1 99.5h0M439.5 106.9h0M439.0 79.9h0M464.6 88.3h0M424.5 86.1h0M470.8 45.9h0M425.4 97.6h0M437.7 111.5h0M466.2 73.1h0M491.6 87.7h0M425.3 101.9h0M490.9 49.4h0M473.1 47.9h0M430.1 83.7h0M477.4 61.3h0M458.1 100.2h0M424.8 84.8h0M475.8 77.7h0M469.9 90.6h0M478.5 79.5h0M431.2 92.7h0M460.5 63.6h0M460.0 64.4h0M424.6 73.3h0M424.4 66.5h0M478.6 95.0h0M426.8 89.3h0M499.8 78.7h0M432.4 99.3h0M488.1 67.1h0M449.3 92.9h0M425.4 54.6h0M466.7 79.2h0M426.0 90.3h0M491.5 52.2h0M477.6 81.6h0M444.1 74.7h0M449.1 80.4h0M461.9 88.1h0M482.0 66.8h0M472.5 48.6h0M474.9 80.2h0M485.0 73.7h0M434.1 106.0h0M430.2 105.7h0M425.8 113.4h0M465.4 46.3h0M449.2 75.4h0M451.0 100.1h0M448.4 74.0h0M439.1 84.2h0M438.8 78.0h0M476.6 70.5h0M445.4 89.6h0M450.6 82.1h0M464.5 73.7h0M473.8 71.5h0M427.1 72.1h0M469.0 69.5h0M451.4 93.1h0M500.1 65.0h0M425.1 83.3h0M450.0 63.7h0M493.5 86.1h0M442.3 109.3h0M475.6 84.0h0M470.8 81.8h0M440.4 88.3h0M425.1 57.3h0M445.0 108.6h0M478.3 64.9h0M449.3 105.6h0M443.3 74.0h0M471.3 61.6h0M482.9 79.9h0M424.7 104.0h0M424.5 79.4h0M463.0 70.0h0M451.4 86.5h0M479.0 93.3h0M451.0 104.1h0M445.1 98.7h0M424.4 75.1h0M424.5 59.7h0M455.5 48.7h0M426.2 109.2h0M427.3 68.8h0M439.5 63.5h0M480.8 52.1h0M487.9 87.5h0M469.8 76.0h0M457.6 66.9h0M475.3 88.5h0M437.2 92.0h0M464.0 77.1h0M424.7 88.9h0M429.0 85.4h0M451.8 78.1h0M482.4 46.7h0M469.6 72.1h0M479.4 57.1h0M484.7 59.2h0M425.7 112.9h0M466.1 99.1h0M464.3 51.7h0M424.5 74.0h0M492.1 92.9h0M469.3 102.2h0M478.8 63.7h0M425.5 71.0h0M480.0 74.0h0M485.6 64.7h0M437.8 86.1h0M469.0 82.3h0M486.7 76.9h0M486.4 64.4h0M441.1 81.7h0M469.4 87.0h0M424.6 80.7h0M457.8 70.7h0M425.8 77.8h0M429.8 69.3h0M424.8 94.0h0M479.7 66.8h0M442.8 91.2h0M459.2 74.4h0M431.2 64.1h0M449.0 65.3h0M424.8 67.1h0M436.0 68.2h0M430.0 76.4h0M484.1 55.6h0M455.0 99.6h0M467.1 70.8h0M437.4 71.2h0M451.5 70.4h0M424.6 94.1h0M455.1 62.2h0M460.0 76.5h0M424.7 108.9h0M445.3 87.7h0M463.4 71.8h0M424.8 99.8h0M426.5 82.7h0M476.1 91.7h0M454.6 64.9h0M461.5 54.5h0M447.9 83.1h0M481.7 77.7h0M486.2 69.4h0M471.2 98.8h0M479.2 57.3h0M424.6 79.8h0M431.7 58.0h0M459.7 101.1h0M493.6 74.9h0M483.3 84.2h0M470.9 82.1h0M482.7 59.8h0M473.2 81.4h0M485.7 44.1h0M426.2 88.1h0M425.4 85.6h0M466.2 74.2h0M462.2 62.5h0M444.9 81.8h0M457.9 64.5h0M441.7 78.1h0M454.5 97.8h0M488.5 70.9h0M432.6 85.6h0M433.9 83.7h0M465.0 68.3h0M496.9 45.0h0M460.4 70.3h0M469.4 86.7h0M487.3 77.6h0M481.9 49.0h0M482.3 51.6h0M436.0 82.9h0M464.7 73.2h0M446.4 96.6h0M424.7 67.2h0M441.4 81.5h0M438.8 104.1h0M478.5 65.1h0M504.9 51.6h0M480.5 46.3h0M482.5 82.5h0M424.9 79.6h0M445.6 101.9h0M494.4 54.4h0M467.2 83.9h0M432.8 93.8h0M425.1 86.9h0M425.2 68.7h0M465.6 78.2h0M424.9 79.2h0M428.0 85.8h0M439.3 82.5h0M425.6 66.4h0M444.6 55.6h0M445.1 77.0h0M488.8 71.4h0M474.4 71.2h0M507.3 56.1h0M425.5 105.0h0M461.7 49.6h0M468.8 72.1h0M425.9 47.2h0M444.1 84.7h0M481.9 82.3h0M441.0 78.8h0M480.1 51.4h0M466.4 49.9h0M448.9 83.7h0M427.5 94.1h0M440.8 96.9h0M485.9 78.8h0M424.4 119.3h0M437.0 82.1h0M454.1 78.2h0M477.7 86.8h0M465.0 74.0h0M428.1 108.3h0M424.6 73.4h0M450.4 81.8h0M458.8 75.1h0M448.8 76.9h0M456.4 55.4h0M475.0 66.4h0M441.7 93.8h0M445.2 57.6h0M477.9 99.0h0M424.8 93.9h0M483.0 73.3h0M482.9 55.3h0M435.8 67.0h0M465.6 97.3h0M424.7 102.8h0M440.1 65.6h0M425.7 90.2h0M444.1 101.9h0M471.9 81.9h0M456.5 55.9h0M475.6 60.4h0M459.3 58.0h0M489.2 56.8h0M484.3 44.3h0M438.6 93.8h0M427.0 100.9h0M467.3 85.3h0M425.1 100.4h0M438.7 73.3h0M433.4 75.7h0M505.5 85.3h0M424.8 87.6h0M454.2 89.0h0M469.6 43.8h0M472.0 59.2h0M436.9 87.2h0M433.7 73.0h0M438.7 101.8h0M478.1 59.7h0M461.0 48.5h0M482.3 55.5h0M442.8 96.2h0M481.0 78.8h0M481.3 57.2h0M424.5 74.7h0M486.6 73.9h0M467.9 69.2h0M424.7 73.8h0M428.7 59.8h0M461.9 80.0h0M426.2 76.2h0M457.9 89.2h0M457.2 46.6h0M437.8 62.4h0M500.9 63.3h0M450.3 103.6h0M425.1 106.8h0M459.3 82.8h0M447.0 99.9h0M467.3 68.7h0M476.9 95.8h0M464.3 58.8h0M424.9 97.2h0M424.7 96.4h0M466.2 55.4h0M465.9 89.6h0M462.9 75.2h0M443.9 67.5h0M425.8 87.0h0M428.8 68.3h0M484.4 69.2h0M483.2 82.0h0M431.0 101.1h0M448.2 99.1h0M498.1 71.3h0M469.5 75.2h0M441.2 87.4h0M462.6 83.7h0M432.1 73.7h0M440.7 65.1h0M465.5 83.9h0M475.9 67.6h0M453.6 58.3h0M425.2 105.4h0M486.4 68.7h0M478.9 93.7h0M450.5 78.2h0M505.9 71.2h0M431.3 90.4h0M471.8 50.5h0M480.6 48.4h0M424.8 110.1h0M425.3 68.9h0M455.3 81.2h0M483.6 86.8h0M503.9 54.9h0M444.8 88.9h0M472.9 72.8h0M500.4 72.3h0M446.6 91.1h0M498.8 93.5h0M491.4 65.3h0M425.0 92.7h0M475.7 61.3h0M503.3 93.1h0M485.5 76.8h0M522.3 77.0h0M426.6 58.4h0M475.4 74.2h0M426.1 103.1h0M443.2 85.8h0M494.9 56.1h0M485.5 66.1h0M425.9 91.9h0M445.2 84.1h0M504.2 70.4h0M425.1 97.6h0M463.3 76.5h0M424.5 98.8h0M426.4 51.2h0M482.7 74.5h0M441.2 69.5h0M424.7 84.5h0M503.1 65.3h0M491.0 64.8h0M445.5 77.6h0M435.6 87.8h0M432.6 101.1h0M499.2 78.1h0M476.6 21.7h0M428.8 32.5h0M465.0 30.8h0M470.8 32.5h0M488.2 35.8h0M508.5 30.8h0M520.1 53.2h0M523.0 55.7h0M508.5 101.4h0M488.2 100.6h0M496.9 96.4h0M511.4 64.0h0M502.7 59.1h0M512.8 44.9h0M499.8 40.8h0" stroke="#7096cc" stroke-width="3.8" stroke-linecap="round" fill="none" stroke-opacity="1"/>
<line x1="424.98" y1="88.11" x2="523.00" y2="54.91" stroke="#d2392f" stroke-width="1.3" />
<rect x="419.50" y="14.50" width="108.20" height="111.60" fill="none" stroke="#333" stroke-width="0.9" />
<line x1="424.40" y1="126.10" x2="424.40" y2="130.60" stroke="#333" stroke-width="0.9" />
<text x="424.40" y="141.22" font-size="9.5" text-anchor="middle" fill="#4d4d4d" >0</text>
<line x1="453.40" y1="126.10" x2="453.40" y2="130.60" stroke="#333" stroke-width="0.9" />
<text x="453.40" y="141.22" font-size="9.5" text-anchor="middle" fill="#4d4d4d" >1</text>
<line x1="482.40" y1="126.10" x2="482.40" y2="130.60" stroke="#333" stroke-width="0.9" />
<text x="482.40" y="141.22" font-size="9.5" text-anchor="middle" fill="#4d4d4d" >2</text>
<line x1="511.40" y1="126.10" x2="511.40" y2="130.60" stroke="#333" stroke-width="0.9" />
<text x="511.40" y="141.22" font-size="9.5" text-anchor="middle" fill="#4d4d4d" >3</text>
<line x1="414.60" y1="49.10" x2="419.50" y2="49.10" stroke="#333" stroke-width="0.9" />
<text x="413.10" y="52.52" font-size="9.5" text-anchor="end" fill="#4d4d4d" >0.5</text>
<line x1="414.60" y1="90.60" x2="419.50" y2="90.60" stroke="#333" stroke-width="0.9" />
<text x="413.10" y="94.02" font-size="9.5" text-anchor="end" fill="#4d4d4d" >0.0</text>
<text x="419.50" y="12.12" font-size="10.9" text-anchor="start" fill="#111" >Patients</text>
<text x="474.00" y="152.01" font-size="10.3" text-anchor="middle" fill="#222" >INHBB</text>
<text x="395.21" y="70.00" font-size="10.3" text-anchor="middle" fill="#222" transform="rotate(-90 395.21 70.00)" >Endothelial Senescence</text>
<text x="425.4" y="29.6" font-size="9.3" fill="#222"><tspan font-style="italic">R</tspan> = 0.45, <tspan font-style="italic">p</tspan> &lt; 2.2e−16</text>
<rect x="572.40" y="14.50" width="104.90" height="111.60" fill="#e6e7e7" stroke="none" stroke-width="1" />
<line x1="582.85" y1="14.50" x2="582.85" y2="126.10" stroke="#d4d4d4" stroke-width="0.8" />
<line x1="608.30" y1="14.50" x2="608.30" y2="126.10" stroke="#d4d4d4" stroke-width="0.8" />
<line x1="633.75" y1="14.50" x2="633.75" y2="126.10" stroke="#d4d4d4" stroke-width="0.8" />
<line x1="659.20" y1="14.50" x2="659.20" y2="126.10" stroke="#d4d4d4" stroke-width="0.8" />
<line x1="572.40" y1="36.34" x2="677.30" y2="36.34" stroke="#d4d4d4" stroke-width="0.8" />
<line x1="572.40" y1="63.97" x2="677.30" y2="63.97" stroke="#d4d4d4" stroke-width="0.8" />
<line x1="572.40" y1="91.60" x2="677.30" y2="91.60" stroke="#d4d4d4" stroke-width="0.8" />
<line x1="572.40" y1="119.23" x2="677.30" y2="119.23" stroke="#d4d4d4" stroke-width="0.8" />
<path d="M630.9 44.5h0M631.2 53.6h0M623.3 52.5h0M646.2 45.5h0M645.4 47.4h0M638.2 48.1h0M615.1 40.7h0M639.4 44.6h0M614.8 69.4h0M623.8 55.3h0M637.2 50.7h0M639.6 57.3h0M637.2 45.8h0M626.3 31.2h0M640.0 36.9h0M626.8 58.3h0M629.9 51.3h0M640.8 47.4h0M628.7 60.7h0M627.9 36.7h0M624.7 47.4h0M638.5 66.6h0M634.3 35.7h0M611.2 53.7h0M632.6 59.2h0M639.3 50.8h0M617.3 41.0h0M641.2 39.7h0M649.9 46.2h0M635.1 64.5h0M640.6 56.9h0M628.7 64.1h0M622.9 56.0h0M648.2 72.6h0M617.4 47.5h0M649.9 43.8h0M612.5 78.0h0M637.8 58.3h0M621.2 39.4h0M646.1 48.4h0M636.5 45.4h0M651.6 43.3h0M639.6 44.1h0M616.2 36.0h0M644.4 44.3h0M611.6 57.2h0M643.2 70.2h0M631.7 38.9h0M619.1 32.4h0M639.9 51.8h0M637.4 43.0h0M635.1 37.5h0M626.3 54.7h0M645.4 49.9h0M623.9 39.7h0M650.2 55.1h0M618.3 51.6h0M632.1 53.4h0M649.5 61.5h0M647.9 64.2h0M624.9 43.2h0M646.4 40.7h0M637.6 48.6h0M635.5 43.8h0M631.8 47.1h0M640.2 50.1h0M642.3 43.9h0M656.3 46.6h0M629.0 54.3h0M633.6 39.9h0M630.0 45.9h0M654.3 78.5h0M621.2 47.5h0M638.2 47.5h0M628.9 42.9h0M636.9 55.9h0M661.0 46.2h0M627.5 51.3h0M631.2 50.8h0M645.0 63.1h0M633.0 39.6h0M643.3 33.7h0M614.7 54.1h0M629.9 43.3h0M646.0 79.8h0M645.9 66.2h0M641.4 66.6h0M635.7 37.0h0M632.1 48.0h0M642.7 48.6h0M632.8 33.2h0M645.5 53.4h0M664.5 62.8h0M644.0 53.1h0M635.2 42.4h0M636.2 43.1h0M616.6 66.8h0M640.6 60.8h0M622.3 66.4h0M647.9 41.9h0M650.2 60.5h0M633.8 62.8h0M642.3 32.6h0M623.8 32.9h0M644.8 52.1h0M611.7 34.6h0M632.7 56.8h0M638.2 45.6h0M650.5 61.4h0M646.5 33.7h0M650.0 52.2h0M625.4 38.9h0M635.0 48.8h0M649.7 53.1h0M608.0 54.4h0M613.0 41.1h0M637.3 56.9h0M633.6 41.0h0M634.6 35.5h0M633.1 38.7h0M650.5 32.4h0M626.2 40.4h0M612.7 62.1h0M611.8 38.3h0M620.0 50.3h0M631.6 50.5h0M627.1 47.6h0M653.8 49.7h0M639.7 39.1h0M631.5 64.1h0M627.5 38.3h0M615.3 56.8h0M645.0 41.4h0M633.8 41.3h0M635.6 63.2h0M616.2 57.2h0M644.1 56.4h0M623.6 58.7h0M616.6 51.5h0M597.9 95.6h0M579.9 95.9h0M606.1 116.9h0M627.0 101.5h0M581.9 107.0h0M620.4 103.2h0M627.8 92.1h0M626.1 96.0h0M636.3 92.9h0M622.8 118.2h0M629.6 86.9h0M611.4 103.3h0M645.6 115.2h0M623.1 76.6h0M601.8 92.6h0M644.7 100.1h0M624.5 90.7h0M602.1 99.8h0M620.4 91.4h0M615.4 100.8h0M600.4 102.3h0M629.6 98.0h0M602.9 106.7h0M656.7 88.5h0M625.4 94.5h0M641.7 95.0h0M614.9 94.2h0M586.2 89.5h0M620.9 105.4h0M636.2 82.3h0M594.5 105.1h0M620.4 97.3h0M609.9 107.9h0M648.3 89.4h0M597.7 111.4h0M641.9 89.9h0M643.7 91.5h0M602.6 96.6h0M583.0 105.9h0M615.0 94.2h0M604.8 100.1h0M622.9 95.5h0M625.7 97.0h0M611.0 91.7h0M616.7 106.6h0M606.4 99.0h0M614.3 97.5h0M615.9 97.3h0M613.9 110.6h0M622.4 89.3h0M622.6 100.7h0M622.8 107.9h0M587.0 98.4h0M601.7 92.2h0M600.1 84.4h0M610.1 111.6h0M604.3 94.2h0M623.5 97.3h0M638.6 92.5h0M615.6 93.5h0M641.2 90.0h0M631.6 108.9h0M613.7 92.2h0M611.4 89.1h0M625.0 90.6h0M612.7 75.5h0M634.9 101.0h0M617.3 75.1h0M610.7 90.9h0M630.9 98.9h0M598.1 97.2h0M621.4 88.6h0M627.9 98.7h0M629.0 94.0h0M619.1 98.5h0M612.2 92.6h0M599.8 104.8h0M616.0 112.5h0M609.3 117.5h0M605.5 93.7h0M624.6 99.5h0M612.4 112.0h0M643.8 94.2h0M632.6 107.1h0M613.1 115.7h0M627.9 90.4h0M587.0 99.4h0M625.6 115.2h0M633.8 30.5h0M644.5 60.0h0M599.2 60.2h0M612.0 60.2h0M587.0 64.6h0M638.1 66.0h0M637.9 56.0h0M577.1 98.3h0M654.7 39.0h0M629.0 72.3h0M601.4 56.8h0M584.0 79.8h0M596.8 43.5h0M649.0 22.7h0M614.1 63.7h0M623.6 67.1h0M637.0 74.2h0M639.6 38.7h0M601.6 63.2h0M649.4 48.9h0M578.0 60.2h0M582.7 80.8h0M642.8 50.3h0M622.2 37.1h0M622.3 30.6h0M596.2 46.7h0M672.3 26.3h0M621.6 58.0h0M603.0 70.5h0M597.2 59.2h0M633.6 54.1h0M590.6 114.1h0M589.7 80.2h0M656.9 72.1h0M645.5 45.7h0M599.4 53.5h0M579.2 91.2h0M577.1 99.0h0M606.3 64.1h0M590.5 81.7h0M658.9 24.5h0M576.9 80.9h0M588.5 106.4h0M667.3 40.2h0M605.1 100.5h0M613.1 108.9h0M612.0 73.9h0M581.5 72.7h0M586.7 68.8h0M668.2 43.2h0M601.1 69.8h0M595.3 51.3h0M613.2 28.2h0M656.1 47.4h0M630.4 72.4h0M620.8 48.9h0M650.3 49.6h0M581.5 89.2h0M610.3 49.4h0M605.8 68.4h0M602.2 112.5h0M640.9 52.9h0M615.3 40.1h0M599.6 122.0h0M622.6 17.9h0M674.5 50.2h0M669.4 33.6h0M654.1 105.4h0M652.6 103.6h0M577.8 102.7h0M595.6 43.7h0" stroke="#7096cc" stroke-width="4.2" stroke-linecap="round" fill="none" stroke-opacity="1"/>
<line x1="576.74" y1="94.36" x2="674.47" y2="41.41" stroke="#d2392f" stroke-width="1.3" />
<rect x="572.40" y="14.50" width="104.90" height="111.60" fill="none" stroke="#333" stroke-width="0.9" />
<line x1="582.85" y1="126.10" x2="582.85" y2="130.60" stroke="#333" stroke-width="0.9" />
<text x="582.85" y="141.22" font-size="9.5" text-anchor="middle" fill="#4d4d4d" >0.5</text>
<line x1="608.30" y1="126.10" x2="608.30" y2="130.60" stroke="#333" stroke-width="0.9" />
<text x="608.30" y="141.22" font-size="9.5" text-anchor="middle" fill="#4d4d4d" >1.0</text>
<line x1="633.75" y1="126.10" x2="633.75" y2="130.60" stroke="#333" stroke-width="0.9" />
<text x="633.75" y="141.22" font-size="9.5" text-anchor="middle" fill="#4d4d4d" >1.5</text>
<line x1="659.20" y1="126.10" x2="659.20" y2="130.60" stroke="#333" stroke-width="0.9" />
<text x="659.20" y="141.22" font-size="9.5" text-anchor="middle" fill="#4d4d4d" >2.0</text>
<line x1="567.50" y1="36.34" x2="572.40" y2="36.34" stroke="#333" stroke-width="0.9" />
<text x="566.00" y="39.76" font-size="9.5" text-anchor="end" fill="#4d4d4d" >0.6</text>
<line x1="567.50" y1="63.97" x2="572.40" y2="63.97" stroke="#333" stroke-width="0.9" />
<text x="566.00" y="67.39" font-size="9.5" text-anchor="end" fill="#4d4d4d" >0.3</text>
<line x1="567.50" y1="91.60" x2="572.40" y2="91.60" stroke="#333" stroke-width="0.9" />
<text x="566.00" y="95.02" font-size="9.5" text-anchor="end" fill="#4d4d4d" >0.0</text>
<line x1="567.50" y1="119.23" x2="572.40" y2="119.23" stroke="#333" stroke-width="0.9" />
<text x="566.00" y="122.65" font-size="9.5" text-anchor="end" fill="#4d4d4d" >−0.3</text>
<text x="572.40" y="12.12" font-size="10.9" text-anchor="start" fill="#111" >Mouse Model</text>
<text x="624.30" y="152.01" font-size="10.3" text-anchor="middle" fill="#222" >Inhbb</text>
<text x="543.91" y="70.00" font-size="10.3" text-anchor="middle" fill="#222" transform="rotate(-90 543.91 70.00)" >Endothelial Senescence</text>
<text x="577.6" y="29.6" font-size="9.3" fill="#222"><tspan font-style="italic">R</tspan> = 0.46, <tspan font-style="italic">p</tspan> &lt; 2.2e−16</text>
<!-- pd -->
<text x="1.20" y="162.30" font-size="13.5" text-anchor="start" font-weight="bold" fill="#000" >d</text>
<text x="23.20" y="159.20" font-size="8.6" text-anchor="start" font-weight="bold" fill="#000" >INHBB</text>
<path d="M27.4,246.2 L29.6,245.2 L32.9,243.9 L36.4,242.0 L38.8,240.0 L40.0,238.1 L40.2,236.6 L40.3,230.8 L40.4,223.1 L40.5,215.4 L40.7,207.7 L40.9,200.0 L41.0,192.3 L41.2,184.6 L41.4,181.1 L41.4,181.1 L41.6,184.6 L41.8,192.3 L41.9,200.0 L42.1,207.7 L42.3,215.4 L42.4,223.1 L42.5,230.8 L42.6,236.6 L42.8,238.1 L44.0,240.0 L46.4,242.0 L49.9,243.9 L53.2,245.2 L55.4,246.2Z" fill="#f0706a" stroke="#222" stroke-width="0.6" />
<path d="M59.3,246.2 L61.3,245.2 L64.3,243.9 L67.7,242.0 L70.1,240.0 L71.0,238.1 L71.1,236.6 L70.7,230.8 L70.3,226.9 L70.2,221.2 L70.6,215.4 L71.3,207.7 L72.0,200.0 L72.5,192.3 L72.8,184.6 L73.0,178.8 L73.2,175.9 L73.3,175.9 L73.5,178.8 L73.8,184.6 L74.1,192.3 L74.6,200.0 L75.3,207.7 L76.0,215.4 L76.4,221.2 L76.3,226.9 L75.9,230.8 L75.5,236.6 L75.6,238.1 L76.5,240.0 L78.9,242.0 L82.3,243.9 L85.3,245.2 L87.3,246.2Z" fill="#3ecdc0" stroke="#222" stroke-width="0.6" />
<path d="M41.6 234.7h0M32.9 233.7h0M30.4 238.1h0M49.8 237.5h0M53.9 192.4h0M44.5 215.5h0M29.5 210.0h0M34.4 222.7h0M39.8 245.9h0M45.8 234.5h0M35.4 226.0h0M47.0 202.0h0M34.1 224.7h0M38.7 206.3h0M38.3 215.7h0M33.6 223.8h0M40.6 224.4h0M44.9 227.7h0M35.2 221.4h0M53.9 246.0h0M30.6 217.7h0M32.7 245.7h0M40.0 218.2h0M45.3 224.8h0M33.6 246.0h0M54.1 230.1h0M33.6 232.1h0M51.0 201.4h0M33.7 196.0h0M48.8 203.6h0M30.3 225.4h0M34.5 219.7h0M53.8 232.8h0M43.4 214.9h0M52.4 221.3h0M34.6 218.0h0M33.2 225.9h0M44.2 231.7h0M53.9 221.5h0M46.9 222.1h0M35.8 217.1h0M47.3 238.0h0M43.0 246.1h0M52.7 231.1h0M28.3 230.2h0M32.7 227.9h0M43.3 222.7h0M45.6 230.9h0M43.7 205.5h0M52.5 221.9h0M53.9 223.6h0M40.9 245.8h0M42.6 237.6h0M52.2 183.9h0M52.6 229.9h0M52.2 233.1h0M43.4 231.8h0M38.2 213.9h0M45.2 227.7h0M51.7 227.0h0M39.8 233.9h0M30.2 211.9h0M40.9 208.7h0M46.8 221.1h0M28.2 236.2h0M33.4 233.2h0M39.8 210.0h0M36.7 233.5h0M49.7 220.2h0M51.7 212.4h0M31.6 232.8h0M50.5 229.1h0M35.4 230.9h0M35.3 234.8h0M41.2 237.9h0M50.6 215.7h0M28.8 228.4h0M29.0 222.7h0M49.3 233.0h0M40.2 246.1h0M34.3 245.7h0M29.2 228.3h0M49.7 233.3h0M46.4 218.7h0M28.2 231.2h0M47.2 222.9h0M46.7 225.6h0M44.5 213.5h0M30.3 231.5h0M47.4 211.4h0M38.1 231.5h0M51.6 219.4h0M45.5 212.0h0M47.4 228.5h0M33.7 235.6h0M54.3 230.9h0M52.5 221.5h0M37.3 233.9h0M42.8 245.9h0M49.7 226.8h0M32.6 245.7h0M49.2 223.8h0M47.4 215.8h0M46.5 212.9h0M33.9 237.5h0M35.7 222.7h0M50.7 233.1h0M36.3 234.8h0M33.5 210.1h0M42.1 231.0h0M41.5 219.7h0M28.6 210.4h0M49.5 235.7h0M41.2 225.2h0M39.1 210.9h0M52.8 218.3h0M39.6 230.0h0M52.2 223.1h0M44.6 227.1h0M31.4 217.2h0M34.0 216.6h0M36.6 223.0h0M47.6 228.0h0M41.7 227.8h0M39.7 219.5h0M39.1 210.6h0M44.9 219.9h0M42.2 217.5h0M47.9 236.4h0M36.4 231.5h0M54.9 216.9h0M31.5 227.8h0M30.5 225.4h0M39.3 232.9h0M46.4 215.8h0M46.3 246.1h0M54.0 215.7h0M48.4 245.9h0M29.8 227.0h0M42.8 246.2h0M43.3 230.9h0M50.6 220.9h0M52.9 216.9h0M53.6 246.2h0M40.5 223.1h0M39.5 234.3h0M50.7 206.2h0M40.2 222.6h0M32.4 230.4h0M28.3 219.8h0M51.1 218.3h0M44.1 235.2h0M34.9 203.3h0M48.0 226.3h0M52.1 219.4h0M46.7 234.9h0M47.4 222.9h0M40.6 246.0h0M45.1 246.0h0M34.2 235.8h0M45.7 229.3h0M42.3 233.1h0M46.8 207.5h0M54.4 224.1h0M47.8 245.8h0M33.2 227.1h0M30.6 221.9h0M41.6 212.0h0M43.2 232.2h0M30.0 237.7h0M29.1 232.6h0M32.5 217.1h0M44.4 213.0h0M39.3 245.7h0M35.6 233.1h0M43.0 230.4h0M28.3 226.1h0M29.1 233.5h0M52.1 223.7h0M29.3 235.5h0M52.3 219.8h0M40.8 225.6h0M53.2 223.5h0M40.5 210.0h0M31.0 217.7h0M33.4 234.8h0M31.3 245.9h0M35.0 230.3h0M39.2 235.1h0M47.7 231.1h0M31.0 231.8h0M37.6 220.6h0M43.2 233.1h0M33.0 237.0h0M52.6 230.9h0M35.2 220.1h0M44.7 223.1h0M29.9 245.9h0M42.8 245.8h0M33.6 233.3h0M48.0 214.6h0M49.7 218.9h0M48.7 221.4h0M49.8 232.0h0M45.5 220.0h0M48.0 230.7h0M39.4 211.1h0M30.0 204.7h0M41.0 245.9h0M36.0 210.6h0M45.8 217.0h0M47.5 246.0h0M35.5 220.4h0M37.8 235.7h0M43.3 245.8h0M53.3 209.6h0M36.5 235.9h0M53.1 216.2h0M37.8 223.9h0M38.6 213.1h0M49.4 219.0h0M50.5 210.1h0M51.7 215.4h0M28.5 206.6h0M45.5 231.0h0M29.6 228.2h0M30.1 222.9h0M52.2 228.8h0M31.8 245.8h0M33.9 229.2h0M42.0 231.0h0M54.0 232.3h0M41.2 217.6h0M52.6 227.4h0M45.9 232.1h0M51.9 216.5h0M42.0 233.4h0M39.3 220.2h0M47.9 235.5h0M33.4 229.0h0M35.8 219.1h0M31.0 214.8h0M48.9 220.5h0M43.7 212.2h0M28.9 219.2h0M33.8 246.1h0M33.9 227.2h0M32.6 236.1h0M50.0 229.6h0M34.9 210.6h0M42.7 215.0h0M40.9 229.5h0M49.5 197.4h0M42.1 215.4h0M45.7 229.5h0M28.2 189.3h0M44.3 232.9h0M32.1 209.2h0M41.8 225.4h0M54.7 200.8h0M48.7 230.5h0M50.7 245.7h0M30.1 225.5h0M40.9 225.2h0M53.7 229.2h0M49.2 217.9h0M52.7 231.7h0M33.5 245.7h0M50.4 230.7h0M36.3 225.1h0M40.5 246.0h0M30.8 235.3h0M40.4 210.5h0M28.2 216.0h0M34.3 232.9h0M54.7 225.7h0M33.5 223.6h0M42.5 226.9h0M37.0 213.2h0M33.3 228.5h0M36.8 231.8h0M50.2 235.7h0M30.4 246.1h0M47.0 231.2h0M30.3 233.8h0M32.1 211.4h0M52.8 227.8h0M41.7 221.6h0M38.3 221.8h0M28.3 235.1h0M49.2 234.2h0M28.4 233.7h0M30.8 233.2h0M41.7 210.0h0M32.2 216.8h0M42.7 231.5h0M47.2 230.4h0M41.8 224.1h0M53.4 220.1h0M33.2 230.6h0M43.5 246.1h0M37.7 236.7h0M31.2 200.7h0M42.6 207.6h0M43.0 205.2h0M50.0 193.8h0M50.2 237.2h0M43.4 217.2h0M32.9 229.2h0M32.8 221.4h0M53.3 222.7h0M47.8 230.2h0M43.9 208.0h0M40.5 216.4h0M38.3 223.3h0M35.0 217.6h0M36.9 211.7h0M31.8 207.3h0M44.1 220.0h0M46.5 237.8h0M48.2 215.5h0M51.0 202.0h0M39.6 224.8h0M42.1 212.4h0M52.3 232.0h0M52.2 206.6h0M44.0 217.8h0M29.8 229.3h0M40.0 209.5h0M46.7 227.1h0M34.4 221.8h0M29.7 230.8h0M54.0 218.9h0M49.6 216.0h0M48.1 233.1h0M49.3 219.7h0M42.4 227.1h0M36.0 215.4h0M29.6 224.0h0M37.5 219.4h0M29.1 234.7h0M36.2 245.7h0M40.7 195.0h0M35.9 236.9h0M50.5 218.0h0M40.7 228.7h0M33.4 196.5h0M51.7 236.7h0M47.5 246.1h0M47.2 205.2h0M46.7 237.7h0M33.9 228.5h0M47.1 222.5h0M45.8 220.5h0M38.0 216.4h0M34.1 212.5h0M52.9 234.3h0M30.3 226.8h0M39.8 207.8h0M44.1 227.5h0M34.7 224.7h0M48.3 216.0h0M35.4 219.1h0M54.6 214.5h0M48.2 245.9h0M53.0 201.4h0M45.3 217.8h0M45.7 210.7h0M50.7 237.7h0M42.0 225.5h0M32.4 214.8h0M34.3 206.2h0M49.3 221.1h0M33.9 234.5h0M44.0 227.2h0M43.4 224.0h0M28.4 221.2h0M39.6 218.1h0M29.9 225.7h0M43.3 203.5h0M31.8 221.9h0M29.0 232.3h0M35.0 234.3h0M30.3 233.8h0M32.2 219.9h0M50.3 216.3h0M37.7 213.1h0M54.1 219.6h0M48.5 245.9h0M48.0 216.2h0M51.9 246.1h0M38.5 214.0h0M28.8 228.2h0M48.5 222.0h0M42.8 222.9h0M40.4 215.3h0M54.4 230.9h0M29.0 216.2h0M37.2 226.4h0M51.2 227.3h0M38.5 214.3h0M38.2 232.5h0M32.9 221.8h0M32.3 213.6h0M36.2 221.2h0M54.7 211.4h0M38.2 219.0h0M37.7 245.8h0M28.4 230.0h0M52.8 225.0h0M35.2 212.6h0M37.6 208.6h0M47.4 201.8h0M38.3 214.0h0M36.7 245.7h0M41.9 222.8h0M34.3 246.0h0M44.0 246.1h0M39.3 246.0h0M34.9 212.2h0M45.9 210.4h0M47.1 221.4h0M38.3 215.1h0M37.2 222.6h0M29.0 214.6h0M43.2 245.8h0M46.0 214.5h0M33.7 225.5h0M34.2 231.8h0M39.4 237.5h0M36.8 213.5h0M35.5 219.9h0M32.4 234.8h0M34.4 216.5h0M39.3 246.0h0M46.8 234.1h0M37.7 246.0h0M29.4 246.0h0M43.7 233.0h0M28.5 228.1h0M52.0 216.2h0M32.9 225.3h0M44.5 207.0h0M53.3 233.9h0M44.8 212.6h0M35.4 234.2h0M51.7 217.7h0M31.6 221.3h0M36.2 225.8h0M33.1 217.5h0M46.3 225.0h0M38.5 209.6h0M41.2 224.0h0M50.3 234.0h0M36.9 228.9h0M47.2 216.5h0M46.4 230.6h0M44.7 221.0h0M43.1 230.1h0M42.3 228.3h0M34.6 205.3h0M31.3 218.0h0M30.7 246.2h0M30.9 211.6h0M32.3 222.2h0M51.4 237.2h0M41.6 246.1h0M47.2 236.3h0M36.9 212.6h0M43.2 212.1h0M44.7 232.9h0M38.1 222.2h0M34.1 229.7h0M53.3 208.8h0M31.5 222.7h0M53.1 235.2h0M29.2 216.1h0M35.6 221.6h0M54.7 221.8h0M42.5 225.4h0M38.0 221.7h0M35.6 217.2h0M48.6 233.6h0M42.6 237.7h0M31.9 212.7h0M34.7 203.0h0M31.1 207.3h0M31.8 209.2h0M35.3 222.3h0M34.9 235.0h0M52.0 246.2h0M30.0 222.8h0M51.3 236.6h0M39.1 220.0h0M42.8 227.2h0M44.7 221.6h0M54.7 202.6h0M50.4 232.7h0M32.5 222.9h0M37.6 246.2h0M36.3 221.7h0M53.8 216.1h0M49.8 245.9h0M47.8 223.5h0M48.6 217.0h0M53.6 237.4h0M52.5 226.5h0M34.0 245.9h0M37.9 232.5h0M45.1 220.0h0M35.4 234.3h0M36.9 226.3h0M33.6 219.4h0M30.8 236.8h0M37.4 229.1h0M38.8 210.4h0M42.4 223.3h0M36.6 217.4h0M30.8 201.2h0M38.9 236.5h0M32.7 211.5h0M36.6 236.5h0M54.6 235.5h0M45.3 231.5h0M44.5 232.5h0M41.5 214.0h0M31.0 236.8h0M45.9 228.7h0M38.3 235.9h0M41.8 236.2h0M40.0 245.8h0M44.0 233.0h0M54.7 216.6h0M36.4 213.5h0M51.3 212.4h0M54.6 224.8h0M45.4 221.9h0M50.3 202.1h0M51.4 237.6h0M34.7 226.7h0M51.3 237.8h0M35.4 220.0h0M49.2 210.9h0M34.4 217.5h0M42.7 211.9h0M32.0 232.3h0M37.2 221.5h0M50.4 222.2h0M38.4 246.1h0M54.6 237.6h0M51.6 233.5h0M39.5 218.5h0M36.4 246.0h0M35.4 207.8h0M31.4 226.5h0M40.5 230.9h0M44.4 203.6h0M33.2 205.8h0M37.6 230.8h0M31.8 235.1h0M40.2 235.1h0M53.3 214.3h0M43.5 226.5h0M51.5 232.2h0M40.2 213.5h0M38.4 237.8h0M29.6 234.2h0M35.5 231.5h0M46.7 214.8h0M34.5 226.8h0M34.7 207.5h0M37.1 205.9h0M42.6 215.0h0M30.3 245.7h0M38.0 236.5h0M52.1 229.2h0M28.5 233.3h0M40.5 234.8h0M46.0 222.0h0M54.7 193.0h0M50.3 229.9h0M29.7 236.2h0M45.6 235.2h0M37.9 216.2h0M38.6 224.6h0M45.4 218.0h0M47.9 220.6h0M48.9 217.0h0M28.3 245.9h0M52.1 231.2h0M42.4 246.0h0M36.0 208.5h0M31.3 211.0h0M41.7 220.7h0M48.9 220.4h0M33.8 227.4h0M43.0 222.1h0M50.9 220.9h0M54.1 228.4h0M51.2 237.3h0M39.1 215.2h0M50.0 246.1h0M42.2 225.6h0M36.0 246.1h0M45.3 230.6h0M30.0 212.6h0M30.9 220.6h0M45.6 230.4h0M53.5 212.3h0M36.0 235.2h0M34.9 224.2h0M37.6 235.9h0M40.1 218.4h0M29.6 245.7h0M33.9 235.2h0M36.4 246.0h0M34.1 227.5h0M38.9 225.6h0M28.1 223.9h0M44.0 213.4h0M36.0 226.7h0M41.3 232.6h0M48.3 229.4h0M34.7 246.1h0M51.1 220.6h0M35.6 235.7h0M50.4 195.5h0M36.5 207.1h0M29.4 220.1h0M44.8 237.8h0M28.5 209.3h0M48.2 231.3h0M39.2 205.2h0M54.5 223.4h0M39.8 206.1h0M38.1 214.9h0M36.5 229.4h0M29.8 221.8h0M45.9 245.7h0M36.3 219.7h0M43.0 220.3h0M42.4 221.2h0M31.2 212.5h0M39.6 226.9h0M46.1 223.6h0M48.9 235.3h0M32.4 245.8h0M33.4 223.4h0M43.9 218.5h0M38.4 214.9h0M43.7 218.1h0M54.4 233.2h0M35.0 226.8h0M43.4 232.0h0M38.1 204.2h0M39.6 215.6h0M40.2 231.5h0M34.1 235.6h0M50.8 216.2h0M43.2 245.8h0M36.9 218.1h0M49.7 205.3h0M33.8 245.7h0M42.3 230.0h0M43.6 209.8h0M52.8 210.5h0M35.8 232.9h0M47.5 202.7h0M42.4 224.1h0M35.8 221.7h0M35.3 215.1h0M35.4 214.3h0M51.1 219.3h0M44.4 228.9h0M45.7 225.5h0M34.9 232.4h0M37.7 245.7h0M37.9 222.7h0M53.4 211.4h0M34.2 233.9h0M30.9 228.4h0M52.2 226.5h0M31.1 245.9h0M36.3 227.8h0M29.7 208.2h0M54.4 245.9h0M51.0 217.6h0M42.1 228.7h0M42.1 224.7h0M46.9 231.7h0M41.0 224.0h0M43.0 245.9h0M36.0 229.8h0M46.9 226.4h0M52.9 196.1h0M53.1 228.3h0M43.8 245.9h0M53.1 236.2h0M53.8 245.9h0M51.4 246.1h0M28.5 234.4h0M46.5 245.7h0M27.9 232.2h0M54.2 245.7h0M38.9 233.4h0M48.7 225.2h0M43.7 222.4h0M40.2 232.9h0M51.7 209.2h0M40.8 218.9h0M36.9 216.9h0M42.0 229.1h0M51.6 231.5h0M36.8 223.0h0M46.1 214.3h0M48.5 228.6h0M33.8 225.2h0M37.5 213.0h0M54.6 224.8h0M49.0 210.6h0M49.2 208.7h0M47.9 227.6h0M50.0 209.0h0M38.2 245.9h0M31.8 245.7h0M53.0 202.9h0M31.7 231.3h0M31.6 216.9h0M51.7 226.6h0M38.0 212.0h0M35.3 228.0h0M37.3 217.4h0M32.8 246.0h0M42.1 220.8h0M53.5 234.3h0M30.0 246.1h0M48.4 232.1h0M36.8 230.9h0M35.8 224.2h0M44.2 211.4h0M40.5 226.3h0M28.6 194.1h0M38.7 235.0h0M32.6 246.1h0M33.8 223.5h0M41.4 221.8h0M28.3 231.2h0M29.0 222.5h0M40.7 232.2h0M36.5 231.6h0M39.2 212.7h0M40.3 234.2h0M53.2 216.9h0M51.7 228.4h0M32.5 236.0h0M34.2 225.9h0M35.6 208.7h0M37.3 245.8h0M41.3 200.6h0M27.9 235.3h0M35.2 225.1h0M30.3 232.8h0M40.9 233.5h0M39.9 214.9h0M34.2 245.7h0M49.4 225.8h0M39.4 212.9h0M53.4 231.9h0M50.6 233.6h0M37.1 223.0h0M49.6 219.3h0M52.7 202.7h0M49.8 218.7h0M49.9 236.8h0M28.5 223.1h0M37.2 198.2h0M45.3 231.3h0M30.9 245.8h0M36.3 231.7h0M54.5 230.7h0M47.5 237.2h0M48.7 245.7h0M53.4 213.6h0M41.2 234.8h0M32.2 225.6h0M34.1 222.1h0M41.8 221.2h0M33.0 236.1h0M36.8 234.8h0M35.7 231.4h0M36.9 232.5h0M41.1 234.3h0M42.4 245.7h0M33.3 224.4h0M34.4 232.8h0M37.5 220.6h0M53.5 222.5h0M34.3 234.2h0M53.8 218.0h0M42.9 232.5h0M53.2 216.9h0M54.8 224.2h0M33.0 209.6h0M42.8 217.9h0M47.3 221.8h0M45.4 232.4h0M40.2 206.2h0M53.7 213.8h0M29.4 215.9h0M46.7 246.0h0M43.4 215.6h0M38.8 215.3h0M29.2 230.7h0M29.4 237.2h0M38.5 219.6h0M30.8 223.6h0M43.8 216.1h0M54.5 234.7h0M33.9 246.0h0M38.7 235.9h0M34.9 224.7h0M37.8 227.3h0M40.1 236.2h0M36.1 232.5h0M40.2 232.4h0M38.1 214.8h0M54.3 232.8h0M47.9 238.1h0M47.4 214.1h0M39.6 233.6h0M48.7 236.5h0M47.1 213.6h0M48.6 246.0h0M44.5 225.4h0M52.5 236.7h0M50.1 245.9h0M38.5 202.2h0M48.1 228.7h0M46.9 236.3h0M49.0 237.1h0M47.5 233.4h0M42.2 226.3h0M32.4 209.3h0M35.7 210.7h0M39.2 234.6h0M42.2 234.2h0M43.3 232.0h0M29.9 235.8h0M46.6 208.5h0M35.3 218.7h0M42.4 234.0h0M45.6 246.0h0M53.1 232.8h0M32.7 202.3h0M49.3 246.2h0M46.7 225.3h0M51.1 245.7h0M46.9 210.7h0M33.8 236.4h0M36.4 203.8h0M44.4 218.3h0M33.9 237.9h0M53.9 228.9h0M39.8 228.6h0M46.2 212.0h0M47.0 235.5h0M34.0 206.7h0M47.3 236.4h0M29.6 245.8h0M29.1 237.4h0M54.5 228.2h0M30.6 221.4h0M32.7 245.8h0M45.9 227.2h0M35.7 229.8h0M37.5 212.4h0M34.9 224.0h0M43.9 246.0h0M31.0 214.5h0M36.3 237.6h0M48.3 221.4h0M41.4 233.6h0M41.5 235.3h0M49.2 238.1h0M33.9 226.6h0M28.8 246.0h0M33.1 231.0h0M50.5 230.6h0M40.2 230.9h0M51.7 234.1h0M29.9 205.0h0M54.1 235.0h0M51.2 234.0h0M54.6 225.0h0M28.3 245.6h0M30.9 236.7h0M53.3 213.5h0M43.6 222.9h0M52.2 234.7h0M42.6 221.5h0M43.5 211.8h0M45.6 216.0h0M29.9 223.2h0M30.6 234.0h0M35.0 198.9h0M29.4 227.2h0M31.7 245.7h0M32.3 237.9h0M34.9 214.2h0M32.9 226.7h0M43.1 237.8h0M34.7 232.1h0M54.0 218.7h0M35.4 211.7h0M32.9 226.0h0M35.7 227.9h0M46.0 233.9h0M47.3 235.3h0M38.3 211.5h0M29.2 219.2h0M37.9 245.6h0M52.6 214.8h0M41.4 211.6h0M34.3 222.6h0M30.0 232.8h0M40.5 216.7h0M44.6 222.5h0M29.3 222.8h0M32.3 237.0h0M51.6 246.2h0M50.8 221.0h0M52.6 222.2h0M35.6 246.1h0M45.2 218.2h0M32.5 219.1h0M43.2 228.7h0M38.4 219.4h0M33.1 208.6h0M28.2 220.1h0M42.5 233.9h0M31.5 230.1h0M47.0 227.0h0M29.0 234.8h0M49.1 229.2h0M52.9 205.5h0M30.9 232.5h0M47.9 210.0h0M53.8 234.3h0M43.5 212.1h0M45.6 202.0h0M31.8 224.2h0M49.0 229.7h0M35.5 245.8h0M44.3 226.5h0M35.0 230.9h0M46.6 216.7h0M42.9 219.6h0M27.9 230.3h0M36.8 246.2h0M29.7 207.6h0M34.2 225.0h0M53.2 228.0h0M38.6 235.8h0M46.4 224.7h0M49.0 236.9h0M32.3 219.4h0M32.8 246.0h0M43.4 208.8h0M30.6 220.1h0M50.2 245.9h0M42.7 224.9h0M45.2 228.0h0M28.7 246.1h0M29.6 220.0h0M50.2 213.2h0M31.1 212.7h0M42.9 227.3h0M46.2 231.8h0M45.0 228.7h0M28.2 204.7h0M41.7 225.4h0M29.5 208.4h0M54.6 237.7h0M35.7 234.9h0M52.8 235.2h0M38.6 224.8h0M38.7 237.8h0M32.0 245.8h0M39.3 188.2h0M35.9 223.0h0M51.9 236.5h0M40.9 200.1h0M31.6 222.3h0M46.1 224.1h0M39.9 228.3h0M37.0 198.4h0M49.0 215.6h0M45.5 246.2h0M33.5 207.5h0M40.6 245.9h0M52.7 236.0h0M52.8 226.9h0M44.6 227.6h0M49.4 228.1h0M31.7 245.9h0M51.3 231.2h0M32.4 233.6h0M48.4 227.3h0M40.4 232.8h0M32.5 246.1h0M41.3 215.5h0M32.7 231.4h0M44.2 215.7h0M44.5 228.6h0M51.6 233.7h0M38.0 238.0h0M37.8 214.8h0M50.8 230.5h0M46.2 215.5h0M34.7 236.6h0M30.6 213.2h0M38.1 215.4h0M45.1 246.1h0M30.2 228.7h0M51.6 223.6h0M40.7 232.3h0M35.4 227.1h0M28.7 212.3h0M33.1 220.7h0M49.3 246.2h0M28.3 233.8h0M28.8 232.3h0M37.4 229.9h0M43.4 231.8h0M49.7 203.9h0M30.5 245.9h0M32.1 246.0h0M48.4 231.1h0M40.7 235.7h0M42.2 227.3h0M41.8 230.0h0M49.2 229.7h0M30.4 238.0h0M53.8 217.5h0M39.8 222.1h0M48.9 232.7h0M50.7 227.7h0M30.4 209.5h0M29.8 224.0h0M45.9 222.2h0M33.4 234.3h0M30.8 224.9h0M33.2 206.8h0M54.6 224.8h0M38.2 224.5h0M32.7 209.5h0M53.2 232.1h0M34.1 219.0h0M52.5 219.3h0M34.4 216.6h0M47.3 216.3h0M40.5 235.8h0M40.2 219.1h0M43.2 226.5h0M29.1 234.0h0M30.0 225.9h0M53.3 221.8h0M37.9 214.2h0M31.6 222.2h0M32.7 218.0h0M48.6 246.2h0M47.4 233.7h0M36.4 217.6h0M47.8 220.3h0M40.6 234.4h0M35.0 220.8h0M53.8 210.3h0M32.5 231.6h0M31.2 217.7h0M39.8 204.2h0M52.1 227.4h0M41.7 231.1h0M35.8 246.0h0M50.0 209.5h0M47.6 246.1h0M34.0 229.5h0M39.0 246.2h0M35.8 236.1h0M37.0 245.8h0M38.1 215.3h0M35.9 214.9h0M40.9 246.2h0M37.6 245.7h0M42.1 221.0h0M49.1 246.1h0M48.2 234.7h0M49.3 223.6h0M46.1 209.5h0M42.3 235.6h0M29.3 231.8h0M44.5 227.4h0M40.7 221.0h0M53.5 226.1h0M48.3 230.0h0M47.8 226.6h0M34.0 223.0h0M51.6 225.0h0M47.1 224.8h0M29.5 219.4h0M40.8 227.0h0M30.7 224.6h0M39.9 218.6h0M46.1 226.4h0M39.0 246.0h0M53.1 231.2h0M50.3 217.9h0M45.3 223.6h0M37.3 211.3h0M30.4 224.9h0M47.6 222.0h0M34.4 215.9h0M52.1 221.9h0M54.1 199.9h0M40.7 206.0h0M35.2 222.6h0M45.8 237.8h0M54.1 228.2h0M34.0 229.1h0M50.6 199.0h0M50.1 232.2h0M50.5 207.3h0M29.1 215.6h0M41.1 245.8h0M46.1 211.5h0M46.6 224.8h0M52.2 226.8h0M49.6 227.4h0M46.3 220.5h0M30.8 211.9h0M34.5 246.0h0M46.7 221.9h0M46.2 212.3h0M44.3 245.7h0M37.1 232.2h0M29.4 245.8h0M52.5 231.1h0M49.8 231.1h0M40.3 237.1h0M45.1 245.8h0M28.0 232.4h0M44.8 231.2h0M54.7 232.5h0M52.1 236.6h0M37.4 213.8h0M38.6 223.3h0M36.1 226.0h0M31.3 228.9h0M54.3 235.6h0M42.2 214.4h0M52.1 214.3h0M41.1 223.2h0M29.7 225.5h0M35.6 209.8h0M44.0 221.8h0M29.4 232.7h0M54.6 224.4h0M43.2 237.0h0M54.0 229.0h0M35.2 227.9h0M46.0 227.4h0M33.8 221.1h0M45.8 232.0h0M54.7 230.4h0M50.1 216.3h0M29.9 245.9h0M31.3 245.7h0M42.1 228.2h0M29.5 245.7h0M40.0 218.4h0M29.0 245.8h0M52.9 236.4h0M46.8 210.3h0M48.7 211.7h0M35.3 236.1h0M51.9 216.8h0M33.0 222.6h0M48.2 245.6h0M43.8 235.0h0M29.2 246.1h0M34.2 235.9h0M28.7 237.0h0M53.6 233.8h0M50.2 218.7h0M44.4 221.8h0M29.3 222.4h0M50.4 222.1h0M34.5 206.6h0M52.8 198.9h0M29.3 229.3h0M35.9 220.4h0M37.4 245.7h0M33.4 246.0h0M44.5 226.4h0M29.4 212.3h0M49.7 215.9h0M38.5 220.3h0M28.0 231.8h0M46.7 231.2h0M33.3 228.2h0M30.3 226.9h0M39.1 209.7h0M53.1 246.1h0M54.5 215.6h0M47.5 231.9h0M31.3 223.8h0M44.3 245.7h0M31.0 223.0h0M43.9 220.0h0M49.5 219.4h0M31.8 217.7h0M28.7 216.6h0M41.1 232.8h0M50.3 232.0h0M29.4 221.8h0M40.7 213.7h0M51.3 227.1h0M48.3 212.2h0M44.6 215.9h0M53.6 245.8h0M31.8 228.3h0M30.1 212.3h0M50.0 218.9h0M39.8 216.3h0M43.3 245.7h0M31.8 234.2h0M30.0 218.7h0M31.6 221.8h0M32.2 234.1h0M43.7 232.0h0M33.3 226.5h0M50.7 226.7h0M29.2 231.6h0M38.9 228.9h0M28.3 222.0h0M51.4 245.7h0M28.3 216.5h0M52.5 223.7h0M35.5 208.1h0M34.9 228.9h0M46.2 205.2h0M66.7 233.9h0M68.2 198.5h0M76.3 246.2h0M63.6 206.0h0M67.2 210.4h0M82.3 202.4h0M76.1 231.1h0M68.5 233.1h0M75.2 232.8h0M79.2 236.6h0M69.7 237.9h0M73.8 213.9h0M74.7 234.1h0M66.2 235.8h0M71.7 227.3h0M75.3 213.0h0M72.1 225.3h0M66.0 220.9h0M65.3 226.9h0M64.4 209.8h0M76.0 215.4h0M67.8 237.9h0M78.4 220.2h0M86.1 223.7h0M74.6 237.4h0M71.5 224.8h0M79.2 211.3h0M73.2 190.7h0M76.6 231.5h0M75.8 220.3h0M76.4 221.0h0M76.9 233.7h0M77.8 214.7h0M78.8 207.5h0M86.0 212.8h0M69.5 215.2h0M83.8 210.2h0M73.8 223.8h0M62.2 229.0h0M84.3 190.3h0M77.0 220.9h0M71.7 216.6h0M62.9 212.9h0M81.2 236.6h0M68.5 219.5h0M74.6 229.6h0M61.1 227.5h0M64.1 231.6h0M71.6 221.4h0M76.5 229.5h0M81.3 227.6h0M74.6 219.6h0M66.7 190.5h0M83.0 236.2h0M83.3 215.4h0M73.9 234.5h0M74.9 213.3h0M86.5 222.4h0M81.9 246.2h0M60.6 227.2h0M64.3 238.0h0M68.3 246.2h0M86.0 221.5h0M84.4 212.7h0M66.3 234.4h0M84.8 227.7h0M65.2 221.4h0M75.7 219.0h0M64.9 246.1h0M78.4 230.8h0M80.1 227.9h0M68.8 236.4h0M64.6 235.4h0M62.6 245.8h0M74.4 246.2h0M66.9 218.3h0M78.1 228.3h0M76.6 220.0h0M81.0 232.0h0M80.9 226.4h0M73.5 246.1h0M85.3 230.9h0M81.8 225.7h0M70.6 234.5h0M77.6 216.3h0M74.0 226.0h0M70.4 231.5h0M73.6 208.9h0M79.6 221.6h0M75.9 229.3h0M78.3 217.2h0M62.6 219.1h0M66.6 236.4h0M79.7 209.6h0M76.8 226.4h0M63.2 246.1h0M85.8 245.7h0M77.7 203.4h0M61.6 245.8h0M80.8 220.6h0M81.4 220.8h0M74.0 208.4h0M74.0 215.4h0M72.2 219.0h0M70.9 237.4h0M74.2 228.6h0M80.6 200.6h0M74.7 224.1h0M66.5 208.5h0M74.6 211.9h0M68.0 229.9h0M83.7 218.5h0M71.4 227.0h0M80.2 210.5h0M86.0 215.4h0M77.4 234.8h0M74.8 216.4h0M69.6 232.7h0M72.7 246.0h0M86.1 205.9h0M67.3 203.2h0M61.6 245.7h0M82.0 206.1h0M64.6 228.6h0M73.2 212.8h0M67.6 215.8h0M61.4 216.5h0M75.6 215.2h0M75.1 232.8h0M64.7 209.0h0M85.6 237.0h0M61.1 227.1h0M80.4 229.8h0M82.9 220.5h0M72.4 222.6h0M75.5 209.1h0M60.5 222.2h0M79.7 216.3h0M77.6 209.2h0M84.1 231.3h0M85.5 217.3h0M64.6 229.3h0M70.0 215.8h0M69.6 212.7h0M81.3 226.3h0M79.0 219.1h0M78.8 198.7h0M84.5 225.9h0M61.7 235.4h0M68.7 214.1h0M61.8 202.8h0M72.9 221.2h0M77.8 226.5h0M76.5 227.0h0M67.1 210.0h0M85.7 225.6h0M77.9 221.5h0M62.0 207.9h0M78.5 224.4h0M62.3 235.5h0M68.0 246.1h0M60.5 223.4h0M80.3 216.6h0M61.9 206.7h0M73.0 211.7h0M73.9 219.1h0M60.5 235.5h0M71.5 237.3h0M64.0 208.3h0M85.1 245.7h0M72.7 233.7h0M77.1 227.3h0M67.7 223.6h0M72.7 245.8h0M80.9 225.2h0M59.9 225.0h0M85.8 246.2h0M74.5 211.0h0M71.6 237.3h0M70.8 226.4h0M65.4 231.5h0M71.4 208.1h0M79.1 214.0h0M72.7 219.2h0M80.6 236.6h0M70.3 234.1h0M72.5 222.1h0M74.8 224.8h0M78.5 213.3h0M84.9 245.8h0M73.0 232.7h0M65.1 228.3h0M73.7 218.3h0M82.2 245.8h0M64.7 210.1h0M72.2 196.4h0M64.3 222.9h0M77.8 245.8h0M85.5 214.8h0M72.4 233.4h0M79.8 215.0h0M80.0 205.2h0M63.0 214.2h0M76.6 212.8h0M61.8 203.7h0M60.8 222.7h0M82.8 227.7h0M82.4 221.5h0M78.7 217.4h0M64.5 222.1h0M85.6 223.8h0M79.6 246.1h0M82.9 222.7h0M84.3 217.6h0M77.3 205.8h0M80.3 212.5h0M71.8 209.4h0M81.1 224.0h0M84.0 213.6h0M69.1 225.5h0M76.5 245.9h0M64.4 232.6h0M71.6 228.8h0M79.6 223.8h0M68.5 211.3h0M80.2 245.7h0M67.4 221.2h0M67.8 226.2h0M72.0 221.6h0M76.2 246.2h0M74.4 220.2h0M73.9 245.9h0M72.8 221.0h0M75.6 215.5h0M66.8 224.7h0M65.3 206.6h0M74.1 223.9h0M81.2 230.9h0M63.3 223.8h0M62.4 206.0h0M74.2 232.2h0M68.5 205.2h0M83.3 246.1h0M70.1 189.8h0M72.0 220.5h0M77.3 210.7h0M68.9 245.7h0M61.9 215.8h0M81.1 246.2h0M62.3 209.9h0M73.5 229.3h0M64.4 232.1h0M62.0 233.3h0M61.1 229.1h0M63.0 194.3h0M65.7 245.7h0M69.2 232.2h0M78.6 228.1h0M71.2 237.6h0M85.0 234.8h0M60.2 218.0h0M61.7 210.0h0M65.5 236.5h0M68.2 222.9h0M71.9 201.2h0M67.7 215.0h0M65.8 201.1h0M61.8 207.8h0M64.6 214.9h0M77.1 223.9h0M66.3 219.1h0M83.2 245.8h0M82.9 206.7h0M76.4 227.9h0M74.7 207.6h0M61.4 221.8h0M62.1 217.3h0M85.9 215.9h0M60.0 223.8h0M61.6 228.5h0M60.3 214.5h0M84.8 230.5h0M73.3 221.2h0M80.8 233.8h0M79.8 206.8h0M62.9 216.5h0M66.6 211.5h0M84.3 216.5h0M78.5 236.7h0M75.9 231.6h0M74.2 234.1h0M73.3 224.5h0M79.1 215.0h0M76.5 214.2h0M78.2 222.0h0M86.1 208.6h0M76.4 245.8h0M73.4 210.8h0M71.5 198.8h0M77.8 223.7h0M65.5 217.7h0M81.9 222.2h0M83.8 220.2h0M75.6 209.0h0M85.9 217.7h0M76.4 224.5h0M84.2 224.8h0M86.2 212.6h0M79.8 245.8h0M62.5 223.6h0M66.8 231.4h0M62.1 225.0h0M81.8 216.3h0M74.2 235.5h0M60.4 224.9h0M69.1 219.3h0M61.5 231.2h0M85.5 245.8h0M81.1 217.3h0M77.6 210.3h0M75.6 246.1h0M68.3 217.9h0M68.8 219.4h0M85.5 207.3h0M84.6 214.7h0M82.7 230.4h0M76.4 229.5h0M71.6 216.1h0M65.9 245.9h0M69.4 223.9h0M63.2 245.7h0M80.6 226.1h0M63.0 222.6h0M62.3 212.3h0M72.0 211.9h0M68.9 237.1h0M79.7 236.6h0M71.2 220.3h0M71.6 214.8h0M66.7 237.1h0M79.4 219.4h0M66.6 245.9h0M75.4 226.2h0M66.9 246.1h0M82.3 215.6h0M64.9 217.4h0M73.5 226.1h0M60.3 210.5h0M71.4 246.0h0M63.3 246.0h0M68.4 236.6h0M71.7 218.9h0M66.4 226.7h0M69.4 226.3h0M77.0 231.1h0M72.9 208.3h0M86.8 217.8h0M76.3 220.5h0M85.7 246.1h0M79.8 188.8h0M67.8 195.3h0M74.4 218.2h0M70.4 232.0h0M64.5 226.4h0M70.6 223.7h0M81.9 245.6h0M61.5 218.9h0M62.4 220.8h0M75.4 231.7h0M79.9 232.7h0M86.6 211.8h0M84.5 222.1h0M64.5 226.8h0M83.6 217.6h0M69.4 226.2h0M70.3 224.9h0M81.8 236.8h0M75.2 218.0h0M65.7 223.6h0M80.9 245.7h0M81.7 228.3h0M78.9 245.8h0M85.5 211.4h0M70.8 216.5h0M73.3 227.2h0M82.8 196.8h0M79.6 223.5h0M73.0 212.2h0M69.9 245.7h0M62.0 215.8h0M76.9 236.7h0M64.1 198.1h0M76.3 245.8h0M84.3 234.0h0M81.2 246.1h0M68.8 222.6h0M62.4 227.7h0M79.1 203.4h0M76.6 223.5h0M74.9 246.0h0M72.3 232.9h0M83.2 245.9h0M66.1 218.0h0M76.7 246.2h0M80.6 206.6h0M67.0 206.3h0M86.1 238.0h0M69.0 232.5h0M66.0 246.0h0M77.5 234.7h0M65.4 221.8h0M84.5 246.0h0M81.4 222.4h0M67.7 234.8h0M76.0 205.7h0M86.4 211.4h0M67.3 220.2h0M72.9 237.2h0M70.3 231.7h0M78.5 224.3h0M73.5 246.1h0M80.9 214.1h0M73.6 222.6h0M60.7 245.9h0M69.1 246.1h0M65.7 230.0h0M85.4 246.1h0M65.2 216.8h0M60.2 225.4h0M82.6 231.3h0M85.1 232.7h0M81.0 202.9h0M71.2 225.7h0M60.5 208.5h0M83.3 228.6h0M65.9 232.6h0M83.3 219.2h0M71.5 245.7h0M68.0 212.0h0M77.6 221.3h0M62.9 237.1h0M81.2 235.2h0M74.1 198.7h0M81.9 223.5h0M82.3 231.9h0M78.9 237.9h0M80.2 213.8h0M64.0 201.2h0M84.3 227.0h0M82.3 226.9h0M74.6 209.1h0M71.8 209.8h0M68.4 219.8h0M60.7 199.9h0M85.4 203.8h0M75.8 219.9h0M73.1 201.9h0M60.8 213.3h0M60.4 219.5h0M70.2 246.0h0M83.0 201.0h0M80.5 222.7h0M61.7 233.0h0M74.8 233.5h0M70.7 216.2h0M65.0 214.0h0M67.1 237.6h0M78.7 231.1h0M79.9 206.7h0M77.0 209.1h0M76.8 226.1h0M78.2 233.2h0M65.4 227.2h0M73.0 223.3h0M85.8 192.7h0M63.2 213.5h0M62.1 232.7h0M86.2 234.7h0M64.3 218.1h0M70.9 228.1h0M70.9 234.7h0M73.2 225.2h0M75.5 224.1h0M79.8 220.1h0M62.9 234.4h0M75.6 218.4h0M83.1 211.5h0M72.3 219.7h0M75.3 222.6h0M69.8 234.9h0M74.8 236.9h0M61.8 214.9h0M84.4 226.0h0M73.6 215.7h0M64.3 236.6h0M86.3 214.8h0M74.5 234.9h0M64.6 232.0h0M78.1 209.7h0M78.5 222.5h0M76.8 234.2h0M70.3 211.9h0M77.8 230.5h0M67.3 245.9h0M66.6 217.3h0M75.1 213.7h0M80.4 232.7h0M71.4 235.0h0M84.7 216.9h0M61.6 203.5h0M76.5 221.1h0M64.6 216.1h0M73.6 236.1h0M80.8 225.4h0M72.5 228.1h0M62.0 237.3h0M85.7 225.7h0M73.1 229.8h0M66.6 215.6h0M69.6 223.4h0M71.7 204.7h0M66.4 203.2h0M61.6 208.1h0M68.6 211.1h0M66.2 237.9h0M69.8 213.9h0M69.6 246.1h0M72.6 229.4h0M64.7 215.5h0M79.8 235.5h0M65.6 229.1h0M71.1 214.9h0M65.5 215.5h0M76.3 226.9h0M71.4 208.4h0M85.2 231.9h0M77.8 245.9h0M85.3 227.1h0M70.3 219.2h0M82.4 225.3h0M71.0 209.8h0M73.7 237.3h0M82.6 245.7h0M60.8 220.3h0M68.0 202.2h0M71.5 233.0h0M77.6 212.3h0M68.6 219.4h0M73.4 214.1h0M67.8 213.2h0M60.0 223.1h0M75.6 207.1h0M86.5 218.5h0M66.3 216.7h0M79.8 221.5h0M66.0 217.0h0M74.2 226.8h0M76.9 231.1h0M75.3 198.9h0M68.7 238.0h0M66.7 232.9h0M78.8 225.8h0M61.6 227.1h0M83.6 245.9h0M75.1 233.9h0M75.9 222.6h0M73.5 232.5h0M67.9 217.0h0M73.9 225.0h0M76.0 225.5h0M82.2 211.2h0M83.8 229.6h0M85.2 234.0h0M74.2 225.6h0M71.8 231.0h0M61.9 219.7h0M62.4 205.3h0M68.4 219.2h0M79.3 231.3h0M84.7 225.1h0M83.6 246.2h0M69.5 223.5h0M67.2 205.6h0M66.7 235.4h0M83.4 234.0h0M70.8 204.8h0M75.4 231.0h0M73.8 219.4h0M66.9 237.6h0M82.0 203.7h0M86.0 221.1h0M84.7 214.2h0M81.3 245.7h0M65.5 215.8h0M74.1 223.8h0M83.0 224.5h0M60.1 210.6h0M83.8 221.2h0M66.9 194.9h0M80.4 221.7h0M79.5 215.7h0M70.0 216.4h0M77.4 227.7h0M81.1 218.5h0M64.6 211.9h0M63.1 234.9h0M61.4 230.8h0M86.3 208.8h0M72.5 210.5h0M65.7 209.7h0M80.0 213.3h0M70.6 235.1h0M71.4 227.6h0M67.7 206.2h0M65.6 219.3h0M70.0 246.0h0M61.0 220.5h0M69.5 204.1h0M76.3 209.9h0M78.1 216.1h0M86.6 221.5h0M73.7 220.9h0M70.9 232.6h0M84.3 222.3h0M81.8 210.0h0M77.4 233.0h0M86.7 207.2h0M79.3 245.7h0M77.9 237.8h0M70.8 219.0h0M80.6 226.7h0M63.0 235.0h0M72.3 222.0h0M60.2 229.1h0M78.7 228.6h0M67.6 213.3h0M79.2 230.8h0M78.4 210.5h0M82.6 218.7h0M70.7 245.9h0M76.7 216.7h0M74.7 210.1h0M75.5 217.0h0M82.2 246.0h0M85.1 219.4h0M70.7 215.4h0M85.5 231.5h0M78.2 204.5h0M64.3 245.7h0M77.6 224.1h0M83.8 219.7h0M61.1 228.3h0M68.2 232.9h0M64.3 218.5h0M68.4 235.4h0M74.3 222.1h0M68.3 223.4h0M71.4 232.7h0M66.6 215.8h0M79.3 235.1h0M79.3 237.1h0M81.4 204.2h0M84.6 228.2h0M85.5 210.2h0M73.7 225.9h0M64.7 231.9h0M74.0 229.0h0M86.5 203.2h0M75.2 205.3h0M68.7 246.0h0M69.7 246.0h0M85.5 216.6h0M66.1 219.6h0M64.6 230.8h0M85.0 212.0h0M74.3 201.6h0M78.5 227.5h0M81.9 210.9h0M60.9 216.3h0M64.6 208.8h0M66.0 218.1h0M73.5 228.0h0M62.1 246.2h0M67.8 236.8h0M72.7 215.7h0M64.7 230.9h0M84.9 209.3h0M68.0 218.7h0M77.0 235.7h0M83.8 222.3h0M78.2 201.7h0M65.0 227.2h0M60.4 215.3h0M63.4 232.4h0M82.1 215.5h0M81.2 225.7h0M65.4 232.9h0M64.3 228.8h0M71.0 221.0h0M64.5 245.9h0M86.2 228.7h0M66.9 225.1h0M64.0 245.8h0M63.7 222.2h0M68.3 227.7h0M74.6 230.0h0M76.7 217.7h0M77.8 217.2h0M82.9 218.6h0M60.3 219.6h0M82.3 227.6h0M75.3 245.9h0M86.5 228.1h0M60.6 208.9h0M82.3 207.9h0M82.2 218.0h0M67.1 221.5h0M83.7 220.0h0M65.4 246.0h0M73.3 227.2h0M65.5 245.6h0M74.9 237.5h0M80.3 201.4h0M81.4 228.9h0M72.3 220.0h0M69.5 236.9h0M66.8 217.9h0M79.2 205.5h0M80.6 223.1h0M77.5 236.6h0M61.0 218.3h0M67.0 231.9h0M71.1 224.7h0M78.3 222.9h0M72.5 246.1h0M64.6 208.8h0M76.7 231.1h0M67.1 245.9h0M61.8 233.9h0M66.0 227.3h0M74.7 229.8h0M79.2 221.4h0M62.8 194.6h0M80.9 214.3h0M69.0 246.1h0M64.2 220.9h0M75.0 225.6h0M68.5 246.0h0M71.6 222.9h0M64.2 226.8h0M78.5 213.6h0M81.1 221.7h0M67.1 218.9h0M61.7 207.8h0M80.4 225.0h0M82.3 246.0h0M65.5 207.2h0M78.5 192.2h0M60.4 222.8h0M77.8 224.4h0M78.0 209.3h0M68.3 245.7h0M81.2 210.8h0M76.6 224.9h0M82.0 225.0h0M86.2 232.0h0M79.1 235.5h0M61.0 198.9h0M86.6 218.1h0M64.2 221.6h0M69.2 219.9h0M86.2 190.1h0M64.2 233.0h0M81.0 232.2h0M81.5 222.2h0M63.1 225.3h0M85.7 225.5h0M83.3 231.9h0M61.5 236.6h0M64.2 233.4h0M67.2 208.2h0M80.9 236.7h0M78.6 246.1h0M83.8 245.7h0M78.9 237.3h0M69.7 208.8h0M67.0 224.0h0M82.4 229.8h0M64.8 213.2h0M74.9 210.5h0M79.2 223.0h0M76.7 227.4h0M81.0 217.2h0M64.1 245.8h0M62.5 217.3h0M65.4 231.9h0M60.0 221.3h0M72.1 224.5h0M63.4 210.2h0M72.5 234.8h0M67.4 221.6h0M66.8 214.7h0M84.4 218.8h0M72.0 219.3h0M81.0 220.3h0M72.9 246.0h0M78.8 222.3h0M67.7 223.4h0M72.8 226.2h0M61.4 217.4h0M85.8 245.8h0M65.1 218.3h0M81.5 231.6h0M68.1 221.8h0M84.7 246.1h0M67.0 223.9h0M73.5 235.4h0M70.3 224.7h0M74.1 245.9h0M83.4 222.4h0M82.7 231.2h0M61.5 246.0h0M79.9 218.9h0M78.6 213.5h0M71.8 201.9h0M69.7 231.3h0M71.4 217.4h0M69.7 215.0h0M77.7 231.4h0M77.9 232.3h0M78.5 245.9h0M81.8 231.8h0M76.6 194.9h0M65.1 235.7h0M83.9 219.2h0M85.0 208.2h0M86.7 219.4h0M80.8 221.4h0M83.2 222.8h0M70.6 220.2h0M76.3 194.9h0M78.4 220.1h0M83.1 216.2h0M74.4 209.6h0M68.0 217.0h0M85.2 215.3h0M85.1 219.6h0M67.9 203.3h0M74.7 217.4h0M66.1 220.2h0M77.5 236.9h0M84.7 220.4h0M60.5 207.7h0M63.3 246.1h0M66.1 209.9h0M74.6 219.0h0M75.8 235.4h0M65.3 245.9h0M68.5 214.6h0M77.6 223.2h0M84.9 232.9h0M74.8 245.7h0M70.3 213.8h0M77.3 214.0h0M73.8 220.9h0M75.0 238.1h0M86.4 228.5h0M71.0 210.1h0M71.3 220.3h0M73.9 245.7h0M70.3 236.9h0M72.1 226.7h0M64.2 220.3h0M81.8 231.0h0M59.9 246.0h0M77.7 208.8h0M79.5 233.7h0M72.5 220.1h0M61.7 228.5h0M79.6 217.9h0M83.8 224.6h0M72.6 232.3h0M76.0 234.0h0M71.5 217.8h0M78.9 236.0h0M66.4 214.9h0M62.1 246.1h0M72.6 237.6h0M72.9 235.5h0M63.3 213.6h0M67.6 217.5h0M86.2 217.6h0M75.5 220.4h0M86.8 191.7h0M83.9 221.6h0M77.3 245.6h0M72.6 189.4h0M62.1 220.3h0M68.7 233.7h0M76.1 224.0h0" stroke="#000" stroke-width="0.9" stroke-linecap="round" fill="none" stroke-opacity="1"/>
<rect x="23.00" y="162.30" width="68.40" height="89.20" fill="none" stroke="#666" stroke-width="0.8" />
<line x1="20.50" y1="246.20" x2="23.00" y2="246.20" stroke="#333" stroke-width="0.6" />
<text x="19.30" y="248.58" font-size="6.6" text-anchor="end" fill="#333" >0</text>
<line x1="20.50" y1="226.95" x2="23.00" y2="226.95" stroke="#333" stroke-width="0.6" />
<text x="19.30" y="229.33" font-size="6.6" text-anchor="end" fill="#333" >1</text>
<line x1="20.50" y1="207.70" x2="23.00" y2="207.70" stroke="#333" stroke-width="0.6" />
<text x="19.30" y="210.08" font-size="6.6" text-anchor="end" fill="#333" >2</text>
<line x1="20.50" y1="188.45" x2="23.00" y2="188.45" stroke="#333" stroke-width="0.6" />
<text x="19.30" y="190.83" font-size="6.6" text-anchor="end" fill="#333" >3</text>
<line x1="20.50" y1="169.20" x2="23.00" y2="169.20" stroke="#333" stroke-width="0.6" />
<text x="19.30" y="171.58" font-size="6.6" text-anchor="end" fill="#333" >4</text>
<line x1="41.40" y1="251.50" x2="41.40" y2="253.70" stroke="#333" stroke-width="0.6" />
<text x="41.40" y="259.54" font-size="6.5" text-anchor="middle" fill="#333" >Control</text>
<line x1="73.30" y1="251.50" x2="73.30" y2="253.70" stroke="#333" stroke-width="0.6" />
<text x="73.30" y="259.54" font-size="6.5" text-anchor="middle" fill="#333" >Diabetic</text>
<text x="57.90" y="268.75" font-size="8.2" text-anchor="middle" fill="#333" >Patients</text>
<text x="13.35" y="207.00" font-size="6.8" text-anchor="middle" fill="#333" transform="rotate(-90 13.35 207.00)" >Expression Level</text>
<path d="M41.4,172.6 V171 H73.3 V172.6" fill="none" stroke="#555" stroke-width="0.6" />
<text x="57.40" y="170.10" font-size="5.0" text-anchor="middle" fill="#333" >p&lt;0.0001</text>
<text x="108.50" y="159.00" font-size="8.6" text-anchor="start" font-weight="bold" fill="#000" >Inhbb</text>
<path d="M112.9,246.2 L113.9,245.1 L115.9,243.0 L118.9,239.8 L121.9,235.4 L123.9,230.1 L124.7,224.7 L124.9,220.4 L124.4,216.1 L123.4,209.6 L122.9,205.3 L123.1,201.0 L124.3,194.6 L125.7,188.1 L126.8,183.8 L127.0,183.8 L128.1,188.1 L129.5,194.6 L130.7,201.0 L130.9,205.3 L130.4,209.6 L129.4,216.1 L128.9,220.4 L129.1,224.7 L129.9,230.1 L131.9,235.4 L134.9,239.8 L137.9,243.0 L139.9,245.1 L140.9,246.2Z" fill="#f0706a" stroke="#222" stroke-width="0.6" />
<path d="M144.3,246.2 L144.8,245.1 L146.3,243.0 L149.3,239.8 L151.8,235.4 L152.8,230.1 L152.3,224.7 L152.1,218.2 L153.1,211.8 L154.5,203.2 L155.8,194.6 L157.0,186.0 L157.9,179.5 L158.2,177.4 L158.4,177.4 L158.7,179.5 L159.6,186.0 L160.8,194.6 L162.1,203.2 L163.5,211.8 L164.5,218.2 L164.3,224.7 L163.8,230.1 L164.8,235.4 L167.3,239.8 L170.3,243.0 L171.8,245.1 L172.3,246.2Z" fill="#3ecdc0" stroke="#222" stroke-width="0.6" />
<path d="M125.7 246.2h0M131.2 246.2h0M132.9 246.2h0M117.0 221.6h0M128.5 214.7h0M127.4 246.2h0M127.3 246.2h0M120.1 246.2h0M116.8 246.2h0M136.4 246.2h0M117.5 246.2h0M133.6 246.2h0M121.5 246.2h0M135.9 246.2h0M117.4 246.2h0M126.7 246.2h0M119.2 246.2h0M116.5 246.2h0M128.6 214.7h0M127.9 246.2h0M131.5 246.2h0M131.2 246.2h0M128.1 246.2h0M117.2 244.4h0M125.1 223.9h0M137.3 239.7h0M121.1 246.2h0M120.6 246.2h0M116.4 246.2h0M134.3 246.2h0M122.7 246.2h0M122.5 246.2h0M119.6 246.2h0M133.9 246.2h0M121.9 246.2h0M120.3 246.2h0M135.7 246.2h0M134.1 246.2h0M126.5 243.0h0M124.0 246.2h0M154.3 246.2h0M151.5 237.8h0M156.0 228.8h0M168.4 227.9h0M161.4 246.2h0M147.2 208.9h0M152.5 246.2h0M171.0 209.9h0M169.6 246.2h0M145.5 246.2h0M163.2 231.7h0M164.9 240.4h0M164.8 220.4h0M169.0 246.2h0M162.1 246.2h0M166.1 246.2h0M150.4 246.2h0M170.7 234.5h0M164.7 224.4h0M161.7 237.0h0M169.2 246.2h0M164.9 186.2h0M147.3 208.9h0M149.9 243.2h0M159.4 199.6h0M159.8 246.2h0M161.4 200.3h0M153.4 214.1h0M146.9 221.4h0M168.6 246.2h0M150.2 246.2h0M146.4 209.9h0M164.5 246.2h0M150.6 228.3h0M156.6 187.8h0M157.1 246.2h0M152.0 246.2h0M155.8 196.1h0M169.2 203.2h0M147.2 246.2h0M149.5 215.1h0M166.9 208.2h0M145.7 206.7h0M156.9 246.2h0M151.1 224.8h0M157.3 246.2h0M166.2 222.4h0M152.4 246.2h0M156.4 246.2h0M146.1 246.2h0M161.3 246.2h0M163.7 246.2h0M161.5 243.8h0M163.1 218.6h0M169.9 246.2h0M148.6 182.4h0M153.4 246.2h0M150.8 246.2h0M145.7 246.2h0M150.8 246.2h0M167.9 246.2h0M161.1 214.3h0M165.0 229.4h0M156.6 246.2h0M158.7 234.8h0M171.1 246.2h0M168.4 218.8h0M151.0 226.0h0M151.3 205.3h0M169.7 232.4h0M165.7 191.4h0M147.5 246.2h0M165.6 224.7h0M154.7 224.8h0M146.3 233.4h0M160.3 231.4h0M157.5 246.2h0M155.1 246.2h0M152.1 219.0h0M157.3 245.7h0M157.8 196.6h0M158.7 187.1h0M152.4 246.2h0M160.8 241.5h0M146.1 211.7h0M162.1 246.2h0M159.1 246.2h0M155.5 246.2h0M152.8 199.6h0M147.9 231.4h0M167.0 205.8h0M149.9 185.7h0M147.6 236.4h0M169.0 246.2h0M167.5 246.2h0M169.9 217.5h0M157.5 195.9h0M149.4 228.6h0M154.9 246.2h0M168.9 246.2h0M156.1 246.2h0M155.2 229.8h0M158.6 246.2h0M154.1 203.1h0M148.5 246.2h0M168.5 246.2h0M162.4 210.6h0M146.3 246.2h0M163.1 217.0h0M164.4 246.2h0M146.8 198.0h0M160.9 246.2h0M148.6 246.2h0M150.0 233.0h0M165.4 194.8h0M171.1 217.5h0M161.9 246.2h0M163.3 239.1h0M156.5 246.2h0M161.1 238.4h0M164.6 246.2h0M167.2 246.2h0M167.1 230.3h0M146.9 221.3h0M153.7 237.9h0M167.1 246.2h0M149.7 246.2h0M146.4 246.2h0M146.8 246.2h0M146.3 246.2h0M145.7 246.2h0M150.3 237.7h0M158.4 199.6h0M150.0 246.2h0M149.4 246.2h0M146.3 205.8h0M170.8 225.4h0M156.0 186.8h0M167.3 225.8h0M147.8 228.2h0M160.2 246.2h0M153.4 200.9h0M150.8 246.2h0M156.9 246.2h0M155.7 246.2h0M158.8 213.3h0M150.3 246.2h0M164.0 246.2h0M154.1 236.1h0M157.0 246.2h0M154.9 246.2h0M154.7 223.7h0M155.4 197.4h0M147.3 244.3h0M168.3 183.2h0M171.1 220.3h0M150.7 233.8h0M162.0 246.2h0M145.7 222.8h0M164.2 244.5h0M150.7 246.2h0M149.7 220.1h0M148.9 246.2h0M159.0 240.3h0M160.1 234.4h0M164.0 246.2h0M164.7 246.2h0M145.7 183.6h0M160.0 246.2h0M170.8 246.2h0M152.4 226.8h0M150.2 246.2h0M145.6 210.0h0M163.4 246.2h0M163.2 246.2h0M161.3 214.4h0M149.8 193.5h0M149.9 246.2h0M156.3 217.1h0M157.5 239.2h0M147.5 246.2h0M145.8 246.2h0M156.4 219.2h0M165.8 186.1h0M164.6 240.7h0M146.5 246.2h0M147.6 193.2h0M162.8 219.4h0M160.7 199.7h0M156.2 246.2h0M165.9 246.2h0M150.6 210.2h0M155.1 246.2h0M156.6 246.2h0M170.4 246.2h0M152.6 246.2h0M156.5 246.2h0M146.7 234.8h0M150.7 246.2h0M170.1 246.2h0" stroke="#000" stroke-width="0.76" stroke-linecap="round" fill="none" stroke-opacity="1"/>
<rect x="108.50" y="162.60" width="68.80" height="88.60" fill="none" stroke="#666" stroke-width="0.8" />
<line x1="106.00" y1="246.20" x2="108.50" y2="246.20" stroke="#333" stroke-width="0.6" />
<text x="104.80" y="248.58" font-size="6.6" text-anchor="end" fill="#333" >0</text>
<line x1="106.00" y1="224.70" x2="108.50" y2="224.70" stroke="#333" stroke-width="0.6" />
<text x="104.80" y="227.08" font-size="6.6" text-anchor="end" fill="#333" >1</text>
<line x1="106.00" y1="203.20" x2="108.50" y2="203.20" stroke="#333" stroke-width="0.6" />
<text x="104.80" y="205.58" font-size="6.6" text-anchor="end" fill="#333" >2</text>
<line x1="106.00" y1="181.70" x2="108.50" y2="181.70" stroke="#333" stroke-width="0.6" />
<text x="104.80" y="184.08" font-size="6.6" text-anchor="end" fill="#333" >3</text>
<line x1="126.90" y1="251.20" x2="126.90" y2="253.40" stroke="#333" stroke-width="0.6" />
<text x="126.90" y="259.74" font-size="6.5" text-anchor="middle" fill="#333" >Chow</text>
<line x1="158.30" y1="251.20" x2="158.30" y2="253.40" stroke="#333" stroke-width="0.6" />
<text x="158.30" y="259.74" font-size="6.5" text-anchor="middle" fill="#333" >HFD+STZ</text>
<text x="142.00" y="268.75" font-size="8.2" text-anchor="middle" fill="#333" >Mouse Model</text>
<text x="98.35" y="207.00" font-size="6.8" text-anchor="middle" fill="#333" transform="rotate(-90 98.35 207.00)" >Expression Level</text>
<path d="M126.9,175.2 V173.5 H158.3 V175.2" fill="none" stroke="#555" stroke-width="0.6" />
<text x="142.60" y="172.00" font-size="5.0" text-anchor="middle" fill="#333" >p=0.0494</text>
<!-- pe -->
<text x="181.30" y="162.50" font-size="13.5" text-anchor="start" font-weight="bold" fill="#000" >e</text>
<line x1="221.10" y1="246.65" x2="221.10" y2="245.12" stroke="#000" stroke-width="0.8" />
<line x1="218.50" y1="245.12" x2="223.70" y2="245.12" stroke="#000" stroke-width="0.8" />
<rect x="213.20" y="246.65" width="15.80" height="4.85" fill="#3f5cf2" stroke="#000" stroke-width="0.8800000000000001" />
<circle cx="217.10" cy="246.39" r="1.20" fill="#000" />
<circle cx="221.10" cy="245.37" r="1.20" fill="#000" />
<circle cx="224.10" cy="245.88" r="1.20" fill="#000" />
<circle cx="225.60" cy="247.41" r="1.20" fill="#000" />
<line x1="243.85" y1="217.29" x2="243.85" y2="197.88" stroke="#000" stroke-width="0.8" />
<line x1="241.25" y1="197.88" x2="246.45" y2="197.88" stroke="#000" stroke-width="0.8" />
<rect x="236.20" y="217.29" width="15.30" height="34.21" fill="#f44a2c" stroke="#000" stroke-width="0.8800000000000001" />
<circle cx="243.85" cy="197.88" r="1.20" fill="#000" />
<circle cx="243.85" cy="213.71" r="1.20" fill="#000" />
<circle cx="243.85" cy="218.31" r="1.20" fill="#000" />
<circle cx="243.85" cy="245.37" r="1.20" fill="#000" />
<line x1="205.70" y1="174.90" x2="205.70" y2="251.50" stroke="#000" stroke-width="0.8" />
<line x1="205.70" y1="251.50" x2="258.70" y2="251.50" stroke="#000" stroke-width="0.8" />
<line x1="203.50" y1="251.50" x2="205.70" y2="251.50" stroke="#000" stroke-width="0.8" />
<text x="202.70" y="253.48" font-size="5.5" text-anchor="end" fill="#000" >0</text>
<line x1="203.50" y1="225.97" x2="205.70" y2="225.97" stroke="#000" stroke-width="0.8" />
<text x="202.70" y="227.95" font-size="5.5" text-anchor="end" fill="#000" >5</text>
<line x1="203.50" y1="200.43" x2="205.70" y2="200.43" stroke="#000" stroke-width="0.8" />
<text x="202.70" y="202.41" font-size="5.5" text-anchor="end" fill="#000" >10</text>
<line x1="203.50" y1="174.90" x2="205.70" y2="174.90" stroke="#000" stroke-width="0.8" />
<text x="202.70" y="176.88" font-size="5.5" text-anchor="end" fill="#000" >15</text>
<line x1="221.10" y1="251.50" x2="221.10" y2="253.70" stroke="#000" stroke-width="0.8" />
<line x1="243.85" y1="251.50" x2="243.85" y2="253.70" stroke="#000" stroke-width="0.8" />
<text x="232.20" y="164.85" font-size="6.8" text-anchor="middle" font-weight="bold" fill="#000" >Inhbb</text>
<text x="233.00" y="187.35" font-size="5.7" text-anchor="middle" fill="#000" >p=0.0263</text>
<line x1="221.00" y1="191.00" x2="244.20" y2="191.00" stroke="#000" stroke-width="0.8" />
<text x="191.80" y="212.80" font-size="6.1" text-anchor="middle" font-weight="bold" fill="#000" transform="rotate(-90 191.80 212.80)" >Relative mRNA Expression</text>
<text x="221.10" y="260.75" font-size="5.7" text-anchor="middle" font-weight="bold" fill="#000" >Chow</text>
<text x="243.90" y="260.75" font-size="5.7" text-anchor="middle" font-weight="bold" fill="#000" >HFD+STZ</text>
<line x1="296.90" y1="236.65" x2="296.90" y2="226.36" stroke="#000" stroke-width="0.8" />
<line x1="294.30" y1="226.36" x2="299.50" y2="226.36" stroke="#000" stroke-width="0.8" />
<rect x="289.20" y="236.65" width="15.40" height="15.05" fill="#3f5cf2" stroke="#000" stroke-width="0.8800000000000001" />
<circle cx="296.90" cy="225.28" r="1.20" fill="#000" />
<circle cx="296.90" cy="240.18" r="1.20" fill="#000" />
<circle cx="296.90" cy="244.02" r="1.20" fill="#000" />
<line x1="319.65" y1="203.78" x2="319.65" y2="190.26" stroke="#000" stroke-width="0.8" />
<line x1="317.05" y1="190.26" x2="322.25" y2="190.26" stroke="#000" stroke-width="0.8" />
<rect x="311.90" y="203.78" width="15.50" height="47.92" fill="#f44a2c" stroke="#000" stroke-width="0.8800000000000001" />
<circle cx="319.65" cy="197.17" r="1.20" fill="#000" />
<circle cx="324.15" cy="194.87" r="1.20" fill="#000" />
<circle cx="319.65" cy="218.68" r="1.20" fill="#000" />
<line x1="281.70" y1="174.90" x2="281.70" y2="251.70" stroke="#000" stroke-width="0.8" />
<line x1="281.70" y1="251.70" x2="334.70" y2="251.70" stroke="#000" stroke-width="0.8" />
<line x1="279.50" y1="251.70" x2="281.70" y2="251.70" stroke="#000" stroke-width="0.8" />
<text x="278.70" y="253.68" font-size="5.5" text-anchor="end" fill="#000" >0</text>
<line x1="279.50" y1="236.34" x2="281.70" y2="236.34" stroke="#000" stroke-width="0.8" />
<text x="278.70" y="238.32" font-size="5.5" text-anchor="end" fill="#000" >1</text>
<line x1="279.50" y1="220.98" x2="281.70" y2="220.98" stroke="#000" stroke-width="0.8" />
<text x="278.70" y="222.96" font-size="5.5" text-anchor="end" fill="#000" >2</text>
<line x1="279.50" y1="205.62" x2="281.70" y2="205.62" stroke="#000" stroke-width="0.8" />
<text x="278.70" y="207.60" font-size="5.5" text-anchor="end" fill="#000" >3</text>
<line x1="279.50" y1="190.26" x2="281.70" y2="190.26" stroke="#000" stroke-width="0.8" />
<text x="278.70" y="192.24" font-size="5.5" text-anchor="end" fill="#000" >4</text>
<line x1="279.50" y1="174.90" x2="281.70" y2="174.90" stroke="#000" stroke-width="0.8" />
<text x="278.70" y="176.88" font-size="5.5" text-anchor="end" fill="#000" >5</text>
<line x1="296.90" y1="251.70" x2="296.90" y2="253.90" stroke="#000" stroke-width="0.8" />
<line x1="319.65" y1="251.70" x2="319.65" y2="253.90" stroke="#000" stroke-width="0.8" />
<text x="308.20" y="165.36" font-size="7.1" text-anchor="middle" font-weight="bold" fill="#000" >INHBB</text>
<text x="307.90" y="181.75" font-size="5.7" text-anchor="middle" fill="#000" >p=0.0251</text>
<line x1="296.10" y1="184.50" x2="320.20" y2="184.50" stroke="#000" stroke-width="0.8" />
<text x="271.00" y="212.80" font-size="6.1" text-anchor="middle" font-weight="bold" fill="#000" transform="rotate(-90 271.00 212.80)" >Relative mRNA Expression</text>
<text x="296.90" y="260.75" font-size="5.7" text-anchor="middle" font-weight="bold" fill="#000" >CT</text>
<text x="319.60" y="260.75" font-size="5.7" text-anchor="middle" font-weight="bold" fill="#000" >HO</text>
<line x1="376.75" y1="220.98" x2="376.75" y2="216.06" stroke="#000" stroke-width="0.8" />
<line x1="374.15" y1="216.06" x2="379.35" y2="216.06" stroke="#000" stroke-width="0.8" />
<rect x="368.90" y="220.98" width="15.70" height="30.72" fill="#3f5cf2" stroke="#000" stroke-width="0.8800000000000001" />
<circle cx="376.75" cy="216.37" r="1.20" fill="#000" />
<circle cx="376.75" cy="220.37" r="1.20" fill="#000" />
<circle cx="376.75" cy="226.51" r="1.20" fill="#000" />
<line x1="399.55" y1="193.95" x2="399.55" y2="181.97" stroke="#000" stroke-width="0.8" />
<line x1="396.95" y1="181.97" x2="402.15" y2="181.97" stroke="#000" stroke-width="0.8" />
<rect x="391.70" y="193.95" width="15.70" height="57.75" fill="#f44a2c" stroke="#000" stroke-width="0.8800000000000001" />
<circle cx="399.55" cy="181.04" r="1.20" fill="#000" />
<circle cx="394.95" cy="200.09" r="1.20" fill="#000" />
<circle cx="404.15" cy="199.48" r="1.20" fill="#000" />
<line x1="361.70" y1="174.90" x2="361.70" y2="251.70" stroke="#000" stroke-width="0.8" />
<line x1="361.70" y1="251.70" x2="414.70" y2="251.70" stroke="#000" stroke-width="0.8" />
<line x1="359.50" y1="251.70" x2="361.70" y2="251.70" stroke="#000" stroke-width="0.8" />
<text x="358.70" y="253.68" font-size="5.5" text-anchor="end" fill="#000" >0.0</text>
<line x1="359.50" y1="236.34" x2="361.70" y2="236.34" stroke="#000" stroke-width="0.8" />
<text x="358.70" y="238.32" font-size="5.5" text-anchor="end" fill="#000" >0.5</text>
<line x1="359.50" y1="220.98" x2="361.70" y2="220.98" stroke="#000" stroke-width="0.8" />
<text x="358.70" y="222.96" font-size="5.5" text-anchor="end" fill="#000" >1.0</text>
<line x1="359.50" y1="205.62" x2="361.70" y2="205.62" stroke="#000" stroke-width="0.8" />
<text x="358.70" y="207.60" font-size="5.5" text-anchor="end" fill="#000" >1.5</text>
<line x1="359.50" y1="190.26" x2="361.70" y2="190.26" stroke="#000" stroke-width="0.8" />
<text x="358.70" y="192.24" font-size="5.5" text-anchor="end" fill="#000" >2.0</text>
<line x1="359.50" y1="174.90" x2="361.70" y2="174.90" stroke="#000" stroke-width="0.8" />
<text x="358.70" y="176.88" font-size="5.5" text-anchor="end" fill="#000" >2.5</text>
<line x1="376.75" y1="251.70" x2="376.75" y2="253.90" stroke="#000" stroke-width="0.8" />
<line x1="399.55" y1="251.70" x2="399.55" y2="253.90" stroke="#000" stroke-width="0.8" />
<text x="388.20" y="165.06" font-size="7.1" text-anchor="middle" font-weight="bold" fill="#000" >INHBB</text>
<text x="387.90" y="173.75" font-size="5.7" text-anchor="middle" fill="#000" >p=0.0167</text>
<line x1="376.10" y1="177.60" x2="400.20" y2="177.60" stroke="#000" stroke-width="0.8" />
<text x="345.00" y="212.80" font-size="6.1" text-anchor="middle" font-weight="bold" fill="#000" transform="rotate(-90 345.00 212.80)" >Relative mRNA Expression</text>
<text x="376.70" y="260.75" font-size="5.7" text-anchor="middle" font-weight="bold" fill="#000" >CT</text>
<text x="399.50" y="260.75" font-size="5.7" text-anchor="middle" font-weight="bold" fill="#000" >HG+PA</text>
<line x1="452.00" y1="248.24" x2="452.00" y2="244.40" stroke="#000" stroke-width="0.8" />
<line x1="449.40" y1="244.40" x2="454.60" y2="244.40" stroke="#000" stroke-width="0.8" />
<rect x="444.20" y="248.24" width="15.60" height="3.46" fill="#3f5cf2" stroke="#000" stroke-width="0.8800000000000001" />
<circle cx="452.00" cy="244.40" r="1.20" fill="#000" />
<circle cx="448.00" cy="250.55" r="1.20" fill="#000" />
<circle cx="456.00" cy="250.16" r="1.20" fill="#000" />
<line x1="474.80" y1="193.33" x2="474.80" y2="181.81" stroke="#000" stroke-width="0.8" />
<line x1="472.20" y1="181.81" x2="477.40" y2="181.81" stroke="#000" stroke-width="0.8" />
<rect x="467.00" y="193.33" width="15.60" height="58.37" fill="#f44a2c" stroke="#000" stroke-width="0.8800000000000001" />
<circle cx="474.80" cy="184.50" r="1.20" fill="#000" />
<circle cx="474.80" cy="188.34" r="1.20" fill="#000" />
<circle cx="474.80" cy="206.00" r="1.20" fill="#000" />
<line x1="436.50" y1="174.90" x2="436.50" y2="251.70" stroke="#000" stroke-width="0.8" />
<line x1="436.50" y1="251.70" x2="489.50" y2="251.70" stroke="#000" stroke-width="0.8" />
<line x1="434.30" y1="251.70" x2="436.50" y2="251.70" stroke="#000" stroke-width="0.8" />
<text x="433.50" y="253.68" font-size="5.5" text-anchor="end" fill="#000" >0</text>
<line x1="434.30" y1="232.50" x2="436.50" y2="232.50" stroke="#000" stroke-width="0.8" />
<text x="433.50" y="234.48" font-size="5.5" text-anchor="end" fill="#000" >5</text>
<line x1="434.30" y1="213.30" x2="436.50" y2="213.30" stroke="#000" stroke-width="0.8" />
<text x="433.50" y="215.28" font-size="5.5" text-anchor="end" fill="#000" >10</text>
<line x1="434.30" y1="194.10" x2="436.50" y2="194.10" stroke="#000" stroke-width="0.8" />
<text x="433.50" y="196.08" font-size="5.5" text-anchor="end" fill="#000" >15</text>
<line x1="434.30" y1="174.90" x2="436.50" y2="174.90" stroke="#000" stroke-width="0.8" />
<text x="433.50" y="176.88" font-size="5.5" text-anchor="end" fill="#000" >20</text>
<line x1="452.00" y1="251.70" x2="452.00" y2="253.90" stroke="#000" stroke-width="0.8" />
<line x1="474.80" y1="251.70" x2="474.80" y2="253.90" stroke="#000" stroke-width="0.8" />
<text x="463.00" y="165.06" font-size="7.1" text-anchor="middle" font-weight="bold" fill="#000" >INHBB</text>
<text x="463.00" y="173.75" font-size="5.7" text-anchor="middle" fill="#000" >p=0.0013</text>
<line x1="451.80" y1="177.60" x2="474.20" y2="177.60" stroke="#000" stroke-width="0.8" />
<text x="422.20" y="212.80" font-size="6.1" text-anchor="middle" font-weight="bold" fill="#000" transform="rotate(-90 422.20 212.80)" >Relative mRNA Expression</text>
<text x="452.00" y="260.75" font-size="5.7" text-anchor="middle" font-weight="bold" fill="#000" >CT</text>
<text x="474.80" y="260.75" font-size="5.7" text-anchor="middle" font-weight="bold" fill="#000" >DOXO</text>
<!-- pf -->
<text x="492.80" y="161.00" font-size="13.5" text-anchor="start" font-weight="bold" fill="#000" >f</text>
<text x="554.20" y="190.04" font-size="7.6" text-anchor="middle" fill="#111" >Chow</text>
<text x="626.80" y="189.50" font-size="7.5" text-anchor="middle" fill="#111" >HFD+STZ</text>
<line x1="518.90" y1="191.30" x2="589.60" y2="191.30" stroke="#555" stroke-width="1.3" />
<line x1="592.10" y1="191.30" x2="662.80" y2="191.30" stroke="#555" stroke-width="1.3" />
<defs><filter id="bl1" x="-50%" y="-50%" width="200%" height="200%"><feGaussianBlur stdDeviation="1.0"/></filter><clipPath id="cp1"><rect x="517.3" y="195.0" width="147.0" height="18.5"/></clipPath></defs>
<g clip-path="url(#cp1)">
<defs><linearGradient id="bg1" x1="0" y1="0" x2="1" y2="0"><stop offset="0" stop-color="#dcdcdc"/><stop offset="0.4" stop-color="#d2d2d2"/><stop offset="0.5" stop-color="#c4c4c4"/><stop offset="1" stop-color="#bcbcbc"/></linearGradient></defs>
<rect x="517.30" y="195.00" width="147.00" height="18.50" fill="url(#bg1)" stroke="none" stroke-width="1" />
<g filter="url(#bl1)">
<ellipse cx="524.6" cy="206.5" rx="7.0" ry="1.7" fill="#1a1a1a" fill-opacity="0.3"/>
<ellipse cx="539.3" cy="206.5" rx="7.0" ry="1.7" fill="#1a1a1a" fill-opacity="0.3"/>
<ellipse cx="554.0" cy="206.3" rx="7.0" ry="1.7" fill="#1a1a1a" fill-opacity="0.28"/>
<ellipse cx="568.8" cy="205.8" rx="7.0" ry="1.7" fill="#1a1a1a" fill-opacity="0.5"/>
<ellipse cx="583.4" cy="205.5" rx="7.0" ry="1.7" fill="#1a1a1a" fill-opacity="0.75"/>
<ellipse cx="598.1" cy="205.0" rx="7.0" ry="1.7" fill="#1a1a1a" fill-opacity="0.7"/>
<ellipse cx="612.8" cy="205.0" rx="7.0" ry="1.7" fill="#1a1a1a" fill-opacity="0.65"/>
<ellipse cx="627.5" cy="204.6" rx="7.0" ry="1.7" fill="#1a1a1a" fill-opacity="0.8"/>
<ellipse cx="642.2" cy="204.3" rx="7.0" ry="1.7" fill="#1a1a1a" fill-opacity="0.85"/>
<ellipse cx="656.9" cy="204.0" rx="7.0" ry="1.7" fill="#1a1a1a" fill-opacity="0.95"/>
<ellipse cx="583.4" cy="200.0" rx="6.6" ry="4.0" fill="#606060" fill-opacity="0.35"/>
<ellipse cx="656.9" cy="199.0" rx="6.6" ry="4.0" fill="#505050" fill-opacity="0.45"/>
<ellipse cx="642.2" cy="200.0" rx="6.6" ry="4.0" fill="#707070" fill-opacity="0.25"/>
</g></g>
<rect x="517.30" y="195.00" width="147.00" height="18.50" fill="none" stroke="#222" stroke-width="0.9" />
<defs><filter id="bl2" x="-50%" y="-50%" width="200%" height="200%"><feGaussianBlur stdDeviation="0.7"/></filter><clipPath id="cp2"><rect x="517.3" y="217.4" width="147.0" height="18.5"/></clipPath></defs>
<g clip-path="url(#cp2)">
<rect x="517.30" y="217.40" width="147.00" height="18.50" fill="#d8d8d8" stroke="none" stroke-width="1" />
<g filter="url(#bl2)">
<ellipse cx="524.6" cy="227.0" rx="8.5" ry="3.4" fill="#050505" fill-opacity="1.0"/>
<ellipse cx="539.3" cy="227.0" rx="8.5" ry="3.4" fill="#050505" fill-opacity="1.0"/>
<ellipse cx="554.0" cy="227.0" rx="8.5" ry="3.4" fill="#050505" fill-opacity="1.0"/>
<ellipse cx="568.8" cy="226.8" rx="8.5" ry="3.4" fill="#050505" fill-opacity="1.0"/>
<ellipse cx="583.4" cy="226.6" rx="8.5" ry="3.4" fill="#050505" fill-opacity="1.0"/>
<ellipse cx="598.1" cy="226.0" rx="8.5" ry="2.5" fill="#050505" fill-opacity="1.0"/>
<ellipse cx="612.8" cy="225.8" rx="8.5" ry="2.5" fill="#050505" fill-opacity="1.0"/>
<ellipse cx="627.5" cy="225.6" rx="8.5" ry="2.5" fill="#050505" fill-opacity="1.0"/>
<ellipse cx="642.2" cy="225.0" rx="8.5" ry="2.5" fill="#050505" fill-opacity="1.0"/>
<ellipse cx="656.9" cy="224.4" rx="8.5" ry="2.5" fill="#050505" fill-opacity="1.0"/>
</g></g>
<rect x="517.30" y="217.40" width="147.00" height="18.50" fill="none" stroke="#222" stroke-width="0.9" />
<text x="515.20" y="207.34" font-size="7.6" text-anchor="end" fill="#111" >Inhbb</text>
<text x="515.20" y="229.54" font-size="7.6" text-anchor="end" fill="#111" >Gapdh</text>
<text x="666.60" y="207.06" font-size="7.4" text-anchor="start" fill="#111" >50kD</text>
<text x="666.60" y="228.56" font-size="7.4" text-anchor="start" fill="#111" >37kD</text>
<!-- pg -->
<text x="0.80" y="291.80" font-size="13.5" text-anchor="start" font-weight="bold" fill="#000" >g</text>
<line x1="52.00" y1="343.90" x2="52.00" y2="332.04" stroke="#000" stroke-width="1.0" />
<line x1="48.80" y1="332.04" x2="55.20" y2="332.04" stroke="#000" stroke-width="1.0" />
<rect x="43.30" y="343.90" width="17.40" height="33.20" fill="#3f5cf2" stroke="#000" stroke-width="1.1" />
<circle cx="52.00" cy="328.65" r="1.50" fill="#000" />
<circle cx="52.00" cy="336.44" r="1.50" fill="#000" />
<circle cx="52.00" cy="350.67" r="1.50" fill="#000" />
<circle cx="52.00" cy="353.38" r="1.50" fill="#000" />
<circle cx="52.00" cy="357.79" r="1.50" fill="#000" />
<line x1="77.55" y1="316.12" x2="77.55" y2="304.26" stroke="#000" stroke-width="1.0" />
<line x1="74.35" y1="304.26" x2="80.75" y2="304.26" stroke="#000" stroke-width="1.0" />
<rect x="68.90" y="316.12" width="17.30" height="60.98" fill="#f44a2c" stroke="#000" stroke-width="1.1" />
<circle cx="77.55" cy="304.26" r="1.50" fill="#000" />
<circle cx="77.55" cy="307.65" r="1.50" fill="#000" />
<circle cx="77.55" cy="311.03" r="1.50" fill="#000" />
<circle cx="77.55" cy="321.20" r="1.50" fill="#000" />
<circle cx="77.55" cy="333.06" r="1.50" fill="#000" />
<line x1="35.30" y1="292.40" x2="35.30" y2="377.10" stroke="#000" stroke-width="1.0" />
<line x1="35.30" y1="377.10" x2="87.00" y2="377.10" stroke="#000" stroke-width="1.0" />
<line x1="32.70" y1="377.10" x2="35.30" y2="377.10" stroke="#000" stroke-width="1.0" />
<text x="31.90" y="379.62" font-size="7.0" text-anchor="end" font-weight="bold" fill="#000" >0.0</text>
<line x1="32.70" y1="360.16" x2="35.30" y2="360.16" stroke="#000" stroke-width="1.0" />
<text x="31.90" y="362.68" font-size="7.0" text-anchor="end" font-weight="bold" fill="#000" >0.5</text>
<line x1="32.70" y1="343.22" x2="35.30" y2="343.22" stroke="#000" stroke-width="1.0" />
<text x="31.90" y="345.74" font-size="7.0" text-anchor="end" font-weight="bold" fill="#000" >1.0</text>
<line x1="32.70" y1="326.28" x2="35.30" y2="326.28" stroke="#000" stroke-width="1.0" />
<text x="31.90" y="328.80" font-size="7.0" text-anchor="end" font-weight="bold" fill="#000" >1.5</text>
<line x1="32.70" y1="309.34" x2="35.30" y2="309.34" stroke="#000" stroke-width="1.0" />
<text x="31.90" y="311.86" font-size="7.0" text-anchor="end" font-weight="bold" fill="#000" >2.0</text>
<line x1="32.70" y1="292.40" x2="35.30" y2="292.40" stroke="#000" stroke-width="1.0" />
<text x="31.90" y="294.92" font-size="7.0" text-anchor="end" font-weight="bold" fill="#000" >2.5</text>
<line x1="52.00" y1="377.10" x2="52.00" y2="379.70" stroke="#000" stroke-width="1.0" />
<line x1="77.55" y1="377.10" x2="77.55" y2="379.70" stroke="#000" stroke-width="1.0" />
<text x="65.00" y="282.88" font-size="8.0" text-anchor="middle" font-weight="bold" fill="#000" >Inhbb</text>
<text x="64.20" y="292.25" font-size="6.8" text-anchor="middle" fill="#000" >p=0.0047</text>
<line x1="51.90" y1="296.00" x2="77.40" y2="296.00" stroke="#000" stroke-width="1.0" />
<text x="17.11" y="335.00" font-size="6.7" text-anchor="middle" font-weight="bold" fill="#000" transform="rotate(-90 17.11 335.00)" >Relative Protein Expression</text>
<text x="51.90" y="387.64" font-size="6.5" text-anchor="middle" font-weight="bold" fill="#000" >Chow</text>
<text x="78.60" y="387.64" font-size="6.5" text-anchor="middle" font-weight="bold" fill="#000" >HFD+STZ</text>
<text x="0.80" y="407.00" font-size="13.5" text-anchor="start" font-weight="bold" fill="#000" >h</text>
<line x1="52.00" y1="471.12" x2="52.00" y2="466.52" stroke="#000" stroke-width="1.0" />
<line x1="48.80" y1="466.52" x2="55.20" y2="466.52" stroke="#000" stroke-width="1.0" />
<rect x="43.30" y="471.12" width="17.40" height="27.98" fill="#3f5cf2" stroke="#000" stroke-width="1.1" />
<circle cx="52.00" cy="463.69" r="1.50" fill="#000" />
<circle cx="48.50" cy="472.89" r="1.50" fill="#000" />
<circle cx="52.00" cy="470.06" r="1.50" fill="#000" />
<circle cx="55.50" cy="472.19" r="1.50" fill="#000" />
<circle cx="52.00" cy="472.89" r="1.50" fill="#000" />
<line x1="77.55" y1="445.27" x2="77.55" y2="430.40" stroke="#000" stroke-width="1.0" />
<line x1="74.35" y1="430.40" x2="80.75" y2="430.40" stroke="#000" stroke-width="1.0" />
<rect x="68.90" y="445.27" width="17.30" height="53.83" fill="#f44a2c" stroke="#000" stroke-width="1.1" />
<circle cx="77.55" cy="431.82" r="1.50" fill="#000" />
<circle cx="73.55" cy="437.48" r="1.50" fill="#000" />
<circle cx="77.55" cy="437.48" r="1.50" fill="#000" />
<circle cx="77.55" cy="449.52" r="1.50" fill="#000" />
<circle cx="77.55" cy="470.06" r="1.50" fill="#000" />
<line x1="35.30" y1="414.11" x2="35.30" y2="499.10" stroke="#000" stroke-width="1.0" />
<line x1="35.30" y1="499.10" x2="87.00" y2="499.10" stroke="#000" stroke-width="1.0" />
<line x1="32.70" y1="499.10" x2="35.30" y2="499.10" stroke="#000" stroke-width="1.0" />
<text x="31.90" y="501.62" font-size="7.0" text-anchor="end" fill="#000" >0</text>
<line x1="32.70" y1="470.77" x2="35.30" y2="470.77" stroke="#000" stroke-width="1.0" />
<text x="31.90" y="473.29" font-size="7.0" text-anchor="end" fill="#000" >40</text>
<line x1="32.70" y1="442.44" x2="35.30" y2="442.44" stroke="#000" stroke-width="1.0" />
<text x="31.90" y="444.96" font-size="7.0" text-anchor="end" fill="#000" >80</text>
<line x1="32.70" y1="414.11" x2="35.30" y2="414.11" stroke="#000" stroke-width="1.0" />
<text x="31.90" y="416.63" font-size="7.0" text-anchor="end" fill="#000" >120</text>
<line x1="52.00" y1="499.10" x2="52.00" y2="501.70" stroke="#000" stroke-width="1.0" />
<line x1="77.55" y1="499.10" x2="77.55" y2="501.70" stroke="#000" stroke-width="1.0" />
<text x="65.00" y="404.04" font-size="7.6" text-anchor="middle" font-weight="bold" fill="#000" >Activin B</text>
<text x="65.80" y="421.15" font-size="6.8" text-anchor="middle" fill="#000" >p=0.0060</text>
<line x1="52.30" y1="426.30" x2="79.70" y2="426.30" stroke="#000" stroke-width="1.0" />
<text x="20.32" y="457.00" font-size="7.0" text-anchor="middle" font-weight="bold" fill="#000" transform="rotate(-90 20.32 457.00)" >Concentration (ng/mL)</text>
<text x="51.90" y="509.64" font-size="6.5" text-anchor="middle" font-weight="bold" fill="#000" >Chow</text>
<text x="78.60" y="509.64" font-size="6.5" text-anchor="middle" font-weight="bold" fill="#000" >HFD+STZ</text>
<!-- pi -->
<text x="94.20" y="292.30" font-size="13.5" text-anchor="start" font-weight="bold" fill="#000" >i</text>
<text x="282.4" y="277.5" font-size="11.8" font-weight="bold"><tspan fill="#ee2a2a">INHBB</tspan><tspan fill="#111">/</tspan><tspan fill="#3fbf5a">CD31</tspan><tspan fill="#111">/</tspan><tspan fill="#3f7fd0">DAPI</tspan></text>
<rect x="107.00" y="281.00" width="444.00" height="223.00" fill="#000" stroke="none" stroke-width="1" />
<defs><filter id="nblur" x="-5%" y="-5%" width="110%" height="110%"><feGaussianBlur stdDeviation="0.4"/></filter><filter id="gblur" x="-10%" y="-10%" width="120%" height="120%"><feGaussianBlur stdDeviation="0.5"/></filter><filter id="gblur2" x="-10%" y="-10%" width="120%" height="120%"><feGaussianBlur stdDeviation="0.6"/></filter><clipPath id="cp00"><rect x="107.0" y="281.0" width="147.6" height="110.7"/></clipPath><filter id="nu0" filterUnits="userSpaceOnUse" x="107.0" y="281.0" width="147.6" height="110.69999999999999" color-interpolation-filters="sRGB"><feTurbulence type="fractalNoise" baseFrequency="0.4" numOctaves="2" seed="1"/><feColorMatrix type="matrix" values="0 0 0 0 0.07 0 0 0 0 0.07 0 0 0 0 0.92 5 0 0 0 -2.200"/><feGaussianBlur stdDeviation="0.45"/></filter><filter id="vn00" filterUnits="userSpaceOnUse" x="107.0" y="281.0" width="147.6" height="110.69999999999999" color-interpolation-filters="sRGB"><feTurbulence type="turbulence" baseFrequency="0.3" numOctaves="1" seed="11" result="t"/><feColorMatrix in="t" type="matrix" values="0 0 0 0 0.15 0 0 0 0 1.0 0 0 0 0 0.15 -10 0 0 0 1.15" result="lines"/><feTurbulence type="fractalNoise" baseFrequency="0.03" numOctaves="2" seed="21" result="m"/><feColorMatrix in="m" type="matrix" values="0 0 0 0 0 0 0 0 0 0 0 0 0 0 0 4 0 0 0 -2.880" result="mask"/><feComposite in="lines" in2="mask" operator="in"/><feGaussianBlur stdDeviation="0.3"/></filter><clipPath id="cp01"><rect x="107.0" y="393.0" width="147.6" height="111.0"/></clipPath><filter id="vn01" filterUnits="userSpaceOnUse" x="107.0" y="393.0" width="147.6" height="111.0" color-interpolation-filters="sRGB"><feTurbulence type="turbulence" baseFrequency="0.15" numOctaves="1" seed="12" result="t"/><feColorMatrix in="t" type="matrix" values="0 0 0 0 0.15 0 0 0 0 1.0 0 0 0 0 0.15 -9 0 0 0 1.15" result="lines"/><feTurbulence type="fractalNoise" baseFrequency="0.03" numOctaves="2" seed="22" result="m"/><feColorMatrix in="m" type="matrix" values="0 0 0 0 0 0 0 0 0 0 0 0 0 0 0 4 0 0 0 -2.640" result="mask"/><feComposite in="lines" in2="mask" operator="in"/><feGaussianBlur stdDeviation="0.3"/></filter><clipPath id="cp10"><rect x="255.9" y="281.0" width="146.7" height="110.7"/></clipPath><filter id="nu1" filterUnits="userSpaceOnUse" x="255.9" y="281.0" width="146.70000000000002" height="110.69999999999999" color-interpolation-filters="sRGB"><feTurbulence type="fractalNoise" baseFrequency="0.4" numOctaves="2" seed="2"/><feColorMatrix type="matrix" values="0 0 0 0 0.07 0 0 0 0 0.07 0 0 0 0 0.92 5 0 0 0 -2.200"/><feGaussianBlur stdDeviation="0.45"/></filter><filter id="vn10" filterUnits="userSpaceOnUse" x="255.9" y="281.0" width="146.70000000000002" height="110.69999999999999" color-interpolation-filters="sRGB"><feTurbulence type="turbulence" baseFrequency="0.28" numOctaves="1" seed="14" result="t"/><feColorMatrix in="t" type="matrix" values="0 0 0 0 0.15 0 0 0 0 1.0 0 0 0 0 0.15 -8.5 0 0 0 1.15" result="lines"/><feTurbulence type="fractalNoise" baseFrequency="0.03" numOctaves="2" seed="23" result="m"/><feColorMatrix in="m" type="matrix" values="0 0 0 0 0 0 0 0 0 0 0 0 0 0 0 4 0 0 0 -1.680" result="mask"/><feComposite in="lines" in2="mask" operator="in"/><feGaussianBlur stdDeviation="0.3"/></filter><clipPath id="cp11"><rect x="255.9" y="393.0" width="146.7" height="111.0"/></clipPath><filter id="vn11" filterUnits="userSpaceOnUse" x="255.9" y="393.0" width="146.70000000000002" height="111.0" color-interpolation-filters="sRGB"><feTurbulence type="turbulence" baseFrequency="0.14" numOctaves="1" seed="15" result="t"/><feColorMatrix in="t" type="matrix" values="0 0 0 0 0.15 0 0 0 0 1.0 0 0 0 0 0.15 -7 0 0 0 1.15" result="lines"/><feTurbulence type="fractalNoise" baseFrequency="0.03" numOctaves="2" seed="24" result="m"/><feColorMatrix in="m" type="matrix" values="0 0 0 0 0 0 0 0 0 0 0 0 0 0 0 4 0 0 0 -1.800" result="mask"/><feComposite in="lines" in2="mask" operator="in"/><feGaussianBlur stdDeviation="0.3"/></filter><clipPath id="cp20"><rect x="403.9" y="281.0" width="147.1" height="110.7"/></clipPath><filter id="nu2" filterUnits="userSpaceOnUse" x="403.9" y="281.0" width="147.10000000000002" height="110.69999999999999" color-interpolation-filters="sRGB"><feTurbulence type="fractalNoise" baseFrequency="0.4" numOctaves="2" seed="3"/><feColorMatrix type="matrix" values="0 0 0 0 0.07 0 0 0 0 0.07 0 0 0 0 0.92 5 0 0 0 -2.200"/><feGaussianBlur stdDeviation="0.45"/></filter><filter id="vn20" filterUnits="userSpaceOnUse" x="403.9" y="281.0" width="147.10000000000002" height="110.69999999999999" color-interpolation-filters="sRGB"><feTurbulence type="turbulence" baseFrequency="0.28" numOctaves="1" seed="17" result="t"/><feColorMatrix in="t" type="matrix" values="0 0 0 0 0.15 0 0 0 0 1.0 0 0 0 0 0.15 -8.5 0 0 0 1.15" result="lines"/><feTurbulence type="fractalNoise" baseFrequency="0.03" numOctaves="2" seed="25" result="m"/><feColorMatrix in="m" type="matrix" values="0 0 0 0 0 0 0 0 0 0 0 0 0 0 0 4 0 0 0 -1.680" result="mask"/><feComposite in="lines" in2="mask" operator="in"/><feGaussianBlur stdDeviation="0.3"/></filter><clipPath id="cp21"><rect x="403.9" y="393.0" width="147.1" height="111.0"/></clipPath><filter id="vn21" filterUnits="userSpaceOnUse" x="403.9" y="393.0" width="147.10000000000002" height="111.0" color-interpolation-filters="sRGB"><feTurbulence type="turbulence" baseFrequency="0.14" numOctaves="1" seed="18" result="t"/><feColorMatrix in="t" type="matrix" values="0 0 0 0 0.15 0 0 0 0 1.0 0 0 0 0 0.15 -7.5 0 0 0 1.15" result="lines"/><feTurbulence type="fractalNoise" baseFrequency="0.03" numOctaves="2" seed="26" result="m"/><feColorMatrix in="m" type="matrix" values="0 0 0 0 0 0 0 0 0 0 0 0 0 0 0 4 0 0 0 -1.720" result="mask"/><feComposite in="lines" in2="mask" operator="in"/><feGaussianBlur stdDeviation="0.3"/></filter></defs>
<g clip-path="url(#cp00)" style="isolation:isolate"><rect x="107.0" y="281.0" width="147.6" height="110.7" fill="#000" filter="url(#nu0)"/><rect x="107.0" y="281.0" width="147.6" height="110.7" fill="#000" filter="url(#vn00)" style="mix-blend-mode:screen"/><g filter="url(#gblur)"><path d="M108 365 108 368 109 371 108 373M214 361 213 359M158 291 160 289M240 277 237 279M179 304 181 307 184 308 187 309 188 310M221 295 219 293 219 291 219 290 218 287 217 284M165 348 162 348 159 348 156 347M179 289 181 288 182 287M197 305 201 304 204 305 205 306 207 307M252 353 253 355 254 358 255 360 256 361 257 363 258 365M133 308 132 305 131 302 130 300M128 285 130 286 133 287 134 289M132 388 131 391 132 393 131 395 131 398 131 400 131 402M206 360 209 361 210 361" stroke="#2ff02f" stroke-width="1.5" stroke-linecap="round" stroke-linejoin="round" fill="none" stroke-opacity="0.86"/><path d="M109 371 106 369 105 367M257 363 256 366 255 367" stroke="#2ff02f" stroke-width="1.0" stroke-linecap="round" stroke-linejoin="round" fill="none" stroke-opacity="0.95"/><path d="M109 371h1M123 378 123 381 122 383 122 386 123 388 123 390 123 392M230 390 227 390 226 390 223 392 221 392 219 393 217 394M237 289 235 287 233 288 230 288 227 288 225 288M204 305h1M198 286 196 287 194 288 192 289M208 335 209 334 211 333 213 331 215 329M189 356 186 357 185 359 183 362 181 364 180 366 181 368M197 300 198 302 201 304 203 305 204 307 206 309 207 311M232 340 232 337 232 335 233 333 235 332 238 332 241 330M252 301 254 300 256 299 258 298M160 370 160 373 159 376 160 378 160 380 159 382 157 384M168 388 167 387 164 386 161 386 159 387 157 387 154 387M141 360 139 358 137 357 135 354" stroke="#2ff02f" stroke-width="2.5" stroke-linecap="round" stroke-linejoin="round" fill="none" stroke-opacity="0.93"/><path d="M206 368 209 367 210 364 212 363 214 361 215 359 216 357M161 296 159 293 158 291 156 290M239 285 239 282 240 280 240 277 239 275 237 273M241 356 239 357 237 358 234 359 232 361M226 390 223 390 222 389 220 386M230 288 230 291 229 293 228 295M166 347 165 348 163 349 162 351 162 353 161 355M182 291 179 289 177 287 176 285 175 282M239 293 237 290 235 288 235 286 235 283 234 281 233 278M253 333 250 332 248 331 247 329 244 327 243 325 243 322M181 364 184 364M233 333 236 335 238 336 241 337M131 311 132 309 133 308 134 306 136 305M256 299 259 299M160 380 162 381 164 382 166 382M123 286 125 285 128 285 130 286 132 286 134 286M197 364 200 364 202 364 204 362 206 360 208 359 210 357M124 306 126 305 129 305 131 304 132 302 134 301 137 300" stroke="#2ff02f" stroke-width="2.0" stroke-linecap="round" stroke-linejoin="round" fill="none" stroke-opacity="0.93"/><path d="M212 363h1M237 358h1M162 351h1M177 287h1M235 286h1" stroke="#2ff02f" stroke-width="3.0" stroke-linecap="round" stroke-linejoin="round" fill="none" stroke-opacity="0.85"/><path d="M223 392h1M230 288h1M194 288h1M211 333h1M183 362h1M233 333h1M160 378h1M161 386h1M137 357h1" stroke="#2ff02f" stroke-width="3.5" stroke-linecap="round" stroke-linejoin="round" fill="none" stroke-opacity="0.93"/><path d="M112 283 111 284 110 285 108 286M231 317 230 319 229 320 228 321M139 300 138 300 137 301M214 365 216 365 218 365M208 375 210 375 211 375M238 369 238 370M248 371 248 372 248 373M130 342 131 341M202 310 202 308 201 307" stroke="#2ff02f" stroke-width="1.0" stroke-linecap="round" stroke-linejoin="round" fill="none" stroke-opacity="0.43"/><path d="M222 287 221 287M150 294 148 294M181 364 181 365 181 366M125 286 126 287 128 287 129 287M205 288 206 289 207 289 207 291M170 289 172 288 172 287M151 376 151 377 152 379M238 297 236 297 235 296M174 284 173 283 171 284 170 285M206 347 204 347 202 347M195 389 195 390 194 392M139 364 140 364 141 362 142 361M151 357 151 355 151 353 151 352M150 362 149 364 148 365 148 366" stroke="#2ff02f" stroke-width="0.9" stroke-linecap="round" stroke-linejoin="round" fill="none" stroke-opacity="0.38"/><path d="M197 325 196 327M155 315 156 316 158 317M245 327 246 328 247 330M247 317 247 316M198 367 198 366 200 364 200 363M140 385 141 385 142 386 142 388M158 358 156 357 155 356 154 356M159 327 159 329M156 339 158 339 160 339M131 350 132 350 133 350 135 351M131 372 133 372 134 371M226 372 227 370 228 369M217 318 215 317M186 302 187 302 189 302 190 302" stroke="#2ff02f" stroke-width="1.3" stroke-linecap="round" stroke-linejoin="round" fill="none" stroke-opacity="0.55"/><path d="M123 300 124 299 126 298 127 296M143 283 141 282 139 282 138 281M122 357 122 358 123 360M228 348 228 346M241 351 243 352 245 353M214 286 212 287 210 287 209 286M211 362 213 362 214 363M179 288 177 287 176 287M205 362 205 361" stroke="#2ff02f" stroke-width="1.1" stroke-linecap="round" stroke-linejoin="round" fill="none" stroke-opacity="0.37"/><path d="M224 357 226 356 227 355 228 356M249 368 250 369 251 370 253 371M117 309 118 307 118 305 119 304M205 336 204 334 202 334M206 292 207 292M176 328 176 327M181 323 181 325 181 327M176 291 174 290 173 290 172 289M171 319 172 318M235 332 237 332M248 305 247 304 246 303 245 302" stroke="#2ff02f" stroke-width="1.2" stroke-linecap="round" stroke-linejoin="round" fill="none" stroke-opacity="0.46"/><path d="M136 312 137 312 138 311M164 366 165 367 165 369M117 336 119 337 119 338 121 339M126 289 125 288 125 287M181 356 180 357 179 358 178 360" stroke="#2ff02f" stroke-width="1.4" stroke-linecap="round" stroke-linejoin="round" fill="none" stroke-opacity="0.49"/><path d="M201 294 201 293 199 293M156 316 156 314 157 313 157 312M163 378 163 376 163 375 162 373M137 325 138 324M131 317 131 318 133 320 134 321M248 373 248 372M205 336 204 336M115 305 114 304" stroke="#2ff02f" stroke-width="0.8" stroke-linecap="round" stroke-linejoin="round" fill="none" stroke-opacity="0.47"/></g><ellipse cx="199.5" cy="348.7" rx="8.8" ry="8.3" fill="#000" fill-opacity="0.6"/><ellipse cx="199.5" cy="348.7" rx="6.5" ry="5.9" fill="#000" stroke="#7cff44" stroke-width="2.0"/></g>
<g clip-path="url(#cp01)" style="isolation:isolate"><g filter="url(#nblur)"><path d="M200 476l-1 0M220 410l1 0M157 427l0 1M158 451l1 0M110 448l1 1M248 463l1 0M120 423l-1 0M228 465l1 1M229 439l-0 1M135 425l1 0M140 485l-0 0M177 428l1 0M211 422l0 0M195 404l0 0M253 487l-0 1M220 475l-1 1M114 436l0 1M163 505l-0 0M218 434l1 0M151 391l-0 2M249 405l0 0M125 466l-0 0M212 461l1 0M106 481l-0 0M135 452l0 0M140 425l1 0M217 496l-0 0M177 451l1 1M211 500l-0 0M122 441l-0 2M136 475l-0 1M228 476l0 0M107 458l-0 2M208 400l0 0M248 448l0 0M163 405l-1 1M184 420l1 1M196 504l0 1M165 412l-0 0M223 436l0 0M206 422l1 1M170 470l-1 1M121 414l-0 1M218 408l0 0M242 492l-1 1M141 484l0 0M131 466l-1 1M249 409l-0 1M221 483l-1 1M175 419l-0 0M163 462l0 0M167 485l1 0M168 435l0 0M242 468l0 1M210 477l1 1M155 431l-1 0M250 396l-0 0M174 396l-1 0M135 420l-1 0M151 449l-0 2M182 403l-0 0M138 500l-0 0M144 490l-0 1M237 492l1 1" stroke="#1616e0" stroke-width="3.3" stroke-linecap="round" fill="none"/><path d="M245 395l-1 0M240 404l1 1M233 502l0 1M200 397l0 0M129 463l-1 0M168 397l-1 0M127 486l0 0M162 393l-0 0M216 399l-1 1M210 487l0 0M108 420l0 1M169 422l1 1M124 411l1 0M162 433l-0 2M191 415l0 0M132 407l-0 1M224 493l1 0M220 405l2 0M155 484l0 0M220 403l0 1M138 437l0 0M178 483l-1 0M207 406l1 0M204 396l1 0M245 397l1 1M245 394l0 0M140 447l-1 1M213 501l0 1M118 440l0 1M137 488l0 0M147 480l1 1M244 397l1 1M179 469l-1 0M234 503l0 1M185 476l-0 1M209 466l-0 0M154 457l-1 1M136 416l0 2M238 444l1 1M132 453l1 0M189 425l0 1M238 434l-0 1M145 447l0 0M214 440l0 1M214 405l0 1M137 436l1 0M136 485l-1 1M231 440l-1 1M241 424l1 1M229 435l1 1M221 400l1 1M241 491l1 1M129 453l-0 0M197 414l1 1M136 471l0 0M140 453l1 1M113 496l-0 0M244 480l1 2M255 483l-1 1M237 413l1 1M198 414l-0 0M177 408l0 0M141 461l-0 0M219 439l1 1M182 486l0 0M153 451l0 1M251 433l0 0M249 477l-1 0M148 458l1 1M235 494l0 0" stroke="#1616e0" stroke-width="3.0" stroke-linecap="round" fill="none"/><path d="M191 393l1 1M214 474l-1 1M126 428l0 0M246 480l0 0M183 407l1 1M199 432l1 1M175 403l1 0M164 491l0 0M130 424l0 0M207 474l0 0M246 398l1 0M112 501l-0 1M159 477l0 0M184 493l-1 0M129 402l-0 0M121 399l0 1M240 492l1 0M246 395l0 0M164 462l1 1M172 493l0 0M175 409l1 1M119 430l-0 1M236 398l0 0M174 423l0 2M124 400l1 2M106 426l1 1M170 404l-1 0M207 430l0 1M231 459l0 0M158 431l1 1M214 440l0 0M162 503l-2 0M253 502l1 1M248 497l-1 0M217 414l-0 0M192 481l0 0M157 449l0 0M171 444l-1 1M180 407l0 0M238 504l1 0M218 451l1 1M246 462l0 1M227 449l-0 0M151 417l1 0M217 448l0 1M254 462l-1 1M230 417l-1 1M241 475l-0 1M146 504l1 1M134 413l2 1M146 482l-0 0" stroke="#1616e0" stroke-width="2.7" stroke-linecap="round" fill="none"/><path d="M125 392l0 0M208 414l-1 1M136 477l-1 0M157 460l1 1M210 425l-0 1M131 486l0 1M197 432l0 0M127 463l0 1M174 496l-0 0M148 480l1 0M126 425l1 0M226 440l-0 1M136 396l0 1M106 445l-0 1M245 433l-1 1M244 460l0 0M199 474l0 1M126 432l-1 0M124 427l0 1M172 478l-0 2M120 473l1 1M155 469l-1 1M212 426l1 1M213 434l0 0M146 462l1 1M179 501l1 0M222 438l-1 1M186 472l-2 0M151 411l1 0M175 465l-0 0M183 497l0 0M179 490l0 0M247 427l-0 1M199 394l-0 0M220 490l-1 0M205 466l-0 1M167 428l-0 0M162 480l-1 0M215 474l-0 1M170 495l-0 0M112 413l0 0M244 487l-0 0M148 466l-0 0M203 424l-0 1M110 453l-0 0M226 452l1 1M146 433l0 0M231 465l-1 1M175 439l-0 0M204 490l-0 1M142 420l1 1M234 463l1 1M156 406l-1 0M142 491l0 0M123 419l1 1M153 408l0 0M225 485l0 0M202 416l0 1M140 405l0 0M190 410l-0 0M131 457l-1 1M190 397l-1 0M142 415l1 1M150 402l-1 0M202 484l1 1M109 406l-0 1M192 429l0 0M191 415l-0 1M218 396l-0 0M253 445l-1 1M213 400l-2 0M246 503l1 0M202 498l-1 1M124 405l0 1M241 409l0 0M211 413l-0 0M151 469l-0 0M250 485l-1 1M183 466l-1 2M247 410l-0 0M225 492l-1 1M190 424l-1 1M107 441l-0 0" stroke="#1616e0" stroke-width="3.4" stroke-linecap="round" fill="none"/><path d="M253 491l-1 0M187 427l0 0M128 487l0 2M160 471l0 1M108 453l-0 1M120 453l-0 2M243 459l-1 0M186 430l-0 1M153 444l-1 1M185 401l1 0M221 485l0 0M116 411l-0 0M164 416l1 1M242 425l-1 2M205 400l1 0M142 456l-0 1M224 475l-1 1M223 486l0 0M160 492l-0 1M235 399l1 1M232 468l-1 1M182 441l-0 0M135 428l-1 1M249 486l-0 0M172 409l0 0M207 419l1 0M121 489l-0 1M229 448l-0 2M223 426l-0 0M180 393l-1 1M196 466l1 1M182 467l-0 1M177 429l0 0M125 408l-1 1M159 420l-0 1M123 451l1 1M227 392l0 2M248 446l-0 0M239 457l-0 0M179 492l-1 0M160 425l-0 1M209 429l0 0M127 485l-0 1M155 422l-1 0M202 504l0 0M127 495l0 0M113 400l-1 1M144 403l0 0M231 464l1 1M207 484l-2 1M128 460l-2 0M122 394l-1 1M218 483l0 1M135 447l1 1M192 392l0 0M169 472l-0 0M117 480l-0 0M199 491l1 1M190 482l1 1M129 498l-0 0M171 472l-0 0M196 484l1 0M225 485l-1 2M132 432l1 0M156 461l-1 0M187 422l-2 0M132 462l0 0M127 415l-1 0M130 505l-0 0" stroke="#1616e0" stroke-width="2.8" stroke-linecap="round" fill="none"/><path d="M240 426l0 0M253 452l1 1M229 443l2 0M177 425l1 0M217 485l-1 1M241 392l0 1M123 486l1 0M178 494l1 1M237 407l1 1M179 498l1 0M192 476l0 0M141 401l-1 0M115 421l0 0M143 401l-0 0M162 403l1 1M141 440l0 0M132 472l-1 0M178 471l-1 0M118 401l-0 1M164 392l1 1M237 474l0 1M216 495l1 1M253 453l-0 0M181 396l0 0M216 452l-1 0M136 402l1 0M183 495l-1 2M247 445l-1 0M237 406l0 2M230 465l-0 0M195 478l-0 0M139 392l1 1M186 411l0 1M146 410l-0 0M148 493l1 1M176 497l-0 2M185 412l-2 1M162 422l-1 0M212 414l0 0M207 432l-1 1M140 474l-0 1M154 502l-2 1M210 413l0 0M146 439l-0 0M146 439l1 2M117 462l0 1M208 461l-0 1M157 409l-0 0M148 427l-0 0M236 463l1 2M149 400l0 0M233 412l-1 0M250 449l0 1M190 424l1 0M225 492l-0 0M148 480l2 1M247 469l-1 1M231 458l0 0M163 412l-1 1M238 475l-0 0M109 465l1 0M206 476l1 0M173 450l1 1" stroke="#1616e0" stroke-width="2.9" stroke-linecap="round" fill="none"/><path d="M115 426l1 0M254 500l0 1M199 480l-0 0M176 435l-0 0M128 459l-2 0M177 406l0 1M254 425l0 1M160 476l0 0M223 440l-1 1M156 409l-0 0M233 417l-1 0M168 410l0 0M198 421l1 1M119 406l1 1M115 478l0 0M252 395l0 2M241 495l0 0M134 413l-1 1M154 488l-0 0M244 500l-0 0M162 405l0 1M210 481l0 0M241 465l0 0M169 449l-0 0M213 461l1 1M186 493l-0 1M200 487l2 0M140 395l0 0M120 442l-0 0M210 404l0 0M200 486l-1 1M138 467l1 0M152 433l-0 0M234 487l-0 0M176 428l1 1M166 420l0 1M142 448l-0 2M165 428l-1 1M126 442l0 0M158 471l0 0M140 461l1 0M225 496l-0 1M123 458l-1 0M161 478l2 1M141 454l-1 0M181 465l0 0M108 493l-1 1M246 454l1 1M171 482l0 0M166 505l-1 0M132 496l-1 0M185 396l-1 0M180 443l-0 1M181 437l1 1M176 394l0 1M142 480l-0 0M144 469l-1 0M243 486l-0 0M144 462l1 0M143 397l0 0M181 407l1 0M193 481l-0 0M238 405l-1 1M141 408l1 1M134 434l-0 1M119 420l-0 1M254 465l-0 1M237 429l1 1M123 450l-0 0M214 399l-0 0" stroke="#1616e0" stroke-width="3.1" stroke-linecap="round" fill="none"/><path d="M178 472l-0 0M197 476l-0 0M163 399l-0 1M159 435l-1 1M177 499l-0 0M159 402l-1 0M230 417l0 0M221 417l-0 1M134 395l-0 1M208 475l0 1M214 425l0 1M233 450l0 0M249 459l1 1M251 471l1 0M188 485l0 1M202 487l-0 0M191 495l1 1M155 403l-0 1M219 460l1 1M114 473l-0 0M145 487l0 0M116 430l0 0M197 433l0 0M128 440l1 0M129 392l-0 1M245 424l1 2M167 439l0 2M242 399l-0 0M235 504l-1 1M173 395l1 1M152 420l2 1M131 422l1 1M176 453l-0 0M224 489l0 1M128 395l0 0M180 480l-2 0M145 447l-0 1M230 403l-1 1M144 408l0 0M249 396l-0 0M244 448l2 1M212 497l1 0M180 500l1 1M240 439l0 1M135 409l-0 0M111 445l0 1M179 491l-0 2M155 409l1 0M246 456l0 1M202 475l1 1M182 438l1 1M156 433l2 0M240 407l-0 0M134 424l1 1M156 448l-1 1M108 393l-1 0M221 477l1 1M224 442l1 1M107 504l1 1M222 404l-0 0M138 414l2 0M129 477l-1 1M111 440l0 0M192 416l-0 0M140 408l1 0M197 415l0 1M255 396l0 1" stroke="#1616e0" stroke-width="2.6" stroke-linecap="round" fill="none"/><path d="M218 487l-1 0M192 393l1 1M225 489l-0 0M223 485l-0 0M170 502l1 0M115 471l0 0M164 428l0 1M159 483l-0 0M216 455l1 0M180 490l-0 0M178 451l-1 1M243 463l-0 1M172 475l1 0M174 424l-1 1M191 424l1 1M150 409l-0 0M154 499l-1 0M219 497l-0 0M208 436l1 0M136 463l1 0M161 438l-1 0M156 406l-0 0M114 453l1 1M178 447l1 0M195 471l-0 1M145 422l0 0M128 403l0 0M175 449l-0 0M206 503l-1 1M123 410l-1 0M131 394l-1 0M109 392l-0 0" stroke="#1616e0" stroke-width="2.5" stroke-linecap="round" fill="none"/><path d="M128 470l0 0M209 502l-0 1M140 424l1 2M168 428l0 1M214 503l-0 0M114 409l-0 0M114 416l0 1M119 423l-1 1M223 440l-0 0M157 408l0 0M147 454l0 0M215 404l0 0M124 415l-0 0M165 411l-1 0M113 417l-0 0M186 479l-0 0M154 473l1 0M190 397l0 1M107 421l-1 1M242 409l-0 1M111 499l0 1M210 416l1 1M139 461l-0 0M176 492l-1 1M180 499l-2 0M135 479l1 1M155 445l-0 0M149 452l-0 0M149 442l2 1M195 480l-1 1M115 494l-0 0M178 461l-1 1M164 456l-1 1M174 452l0 0M243 467l0 0M157 486l0 0M248 503l1 0" stroke="#1616e0" stroke-width="3.5" stroke-linecap="round" fill="none"/><path d="M224 479l-1 1M129 441l1 1M132 472l1 0M123 502l-0 0M131 419l-1 0M190 493l-1 1M173 484l-1 0M193 485l1 0M244 470l-0 1M160 459l-0 1M118 477l-2 0M209 487l-0 0M125 446l1 0M151 443l-1 0M123 399l0 0M163 464l1 1M181 424l1 1M147 392l-0 1M175 478l-1 1M179 486l-0 1M193 423l1 1M124 459l-1 1M236 463l0 0M179 409l-1 1M207 496l-1 1M221 451l-1 1M228 418l-0 2M184 468l-0 1M239 498l1 0M176 455l0 0M123 407l0 0M220 416l-0 0M158 476l0 2M208 422l-1 0M164 445l1 1M156 410l-0 1M161 492l0 0M126 442l0 0M254 496l1 0M254 480l0 1M240 448l-1 0M132 464l0 1M117 500l-0 1M210 423l-0 1M230 474l1 1M166 413l0 0M166 487l-1 0M177 436l-0 1M172 437l1 0M217 396l-1 0M164 473l-2 0M144 461l-0 0M110 414l0 1M233 435l-1 1M228 392l-0 0M246 459l0 1M253 414l0 0M182 429l0 0M129 486l0 0" stroke="#1616e0" stroke-width="3.2" stroke-linecap="round" fill="none"/><path d="M129 419l-1 1M246 424l-1 1M233 453l-1 0M141 405l1 0M206 414l-0 0M119 424l-1 1M120 498l0 0M236 499l-0 1M196 498l1 1M239 395l1 1M238 459l-1 1M173 418l1 1M152 469l1 1M193 495l0 0M205 434l-1 1M189 474l-0 0M230 481l-0 0M151 472l0 0M121 486l1 0M226 424l0 0M195 421l-0 0M165 394l0 0M178 432l-0 0M244 408l0 1M170 497l0 1M253 411l1 1M160 460l0 1M188 469l-0 1M186 479l-1 1M198 473l1 0M193 472l-0 2M167 404l-1 0M226 478l-1 0M223 496l1 0M177 489l-0 1M151 445l2 0M179 403l0 2M113 421l-0 1M251 415l-1 2M163 392l-0 1M113 469l-2 1" stroke="#0e0eb8" stroke-width="2.9" stroke-linecap="round" fill="none"/><path d="M164 393l0 0M132 484l-2 1M161 451l-0 0M118 410l-2 0M162 492l-1 0M146 408l1 0M165 493l-0 0M106 466l0 0M152 400l0 0M254 474l1 1M238 492l-0 1M201 411l0 1M214 424l0 1M169 395l1 1M240 495l-0 0M251 434l0 0M156 456l-1 0M160 456l-0 0M178 408l0 1M239 418l0 1M137 504l-0 0M220 464l0 0M220 474l0 1M117 465l0 1M138 395l-1 1M187 405l1 1M238 414l0 1M120 418l-1 1M146 407l0 0M231 454l0 0M157 427l-0 1M150 402l1 0" stroke="#0e0eb8" stroke-width="3.0" stroke-linecap="round" fill="none"/><path d="M115 459l0 0M156 430l-1 0M168 439l-0 1M201 502l0 2M224 482l1 0M143 480l0 0M205 478l-1 1M152 414l-1 0M206 404l1 1M209 431l1 1M127 492l0 0M181 437l1 0M241 440l1 0M160 461l0 1M149 461l0 0M201 434l-0 0M194 407l-0 0M225 413l-1 1M242 399l0 1M114 439l-0 2M142 407l-0 1M142 393l1 0M161 476l-1 0M135 475l-0 1M185 464l-1 1M119 406l0 1M215 478l0 2M161 439l0 1M190 426l1 1M244 468l-1 0M151 418l0 0M149 493l1 0M131 406l0 0M136 463l-0 0M246 458l-0 0M138 423l-0 0M236 471l0 0M187 397l0 1M146 396l-1 1M208 461l1 0M180 465l-0 1M153 463l-2 0M195 401l2 1M223 432l-1 1M122 416l1 0M197 478l1 0" stroke="#0e0eb8" stroke-width="3.2" stroke-linecap="round" fill="none"/><path d="M170 504l0 1M256 410l-1 1M171 412l1 0M255 406l-0 0M179 439l-1 2M214 472l-1 0M243 411l-1 0M254 443l-0 1M157 419l1 0M242 421l-1 0M109 463l0 1M241 478l-0 0M234 501l0 0M255 480l0 2M241 483l-0 0M216 445l-1 0M143 448l-0 1M160 393l-1 0M146 394l-1 2M151 484l0 1M129 394l-0 0M157 455l-1 1M121 449l0 0M159 488l0 1M132 402l-1 0M250 459l0 0M153 426l-0 1M138 469l-1 0M114 443l-0 0M116 495l1 1M112 474l-1 2M253 498l1 0M234 483l-1 1M134 455l0 0M108 398l1 1" stroke="#0e0eb8" stroke-width="3.4" stroke-linecap="round" fill="none"/><path d="M184 404l-1 1M194 494l-1 1M236 476l-0 0M186 413l0 1M251 395l0 0M122 394l-0 0M231 478l1 1M139 505l-1 0M174 431l-0 0M144 491l-0 1M208 462l-1 0M112 430l1 0M119 486l-1 0M229 419l1 1M109 417l-0 0M153 422l1 0M224 495l0 0M214 420l-1 1M107 417l-0 0M121 464l-0 0M197 482l-0 1M115 432l-1 1M123 472l-0 2M127 481l-1 1M244 426l-0 1M231 426l0 1M112 449l-1 1M253 447l-0 0M152 479l2 0M177 425l-1 1M195 482l-0 1M236 496l-1 1M220 393l-1 1M122 450l-1 1M113 463l0 0M170 411l0 0M247 476l-0 1M139 400l-1 1M222 480l-1 1M241 435l0 0" stroke="#0e0eb8" stroke-width="3.1" stroke-linecap="round" fill="none"/><path d="M216 444l-0 0M233 492l-0 1M122 400l0 1M238 500l-0 0M129 417l1 1M150 498l-1 1M169 463l-1 1M172 441l0 1M136 411l-0 0M253 479l1 1M182 425l1 0M152 482l-0 1M112 473l2 0M217 409l-1 0M161 471l-0 1M119 437l-0 0M237 430l-0 1M229 418l-0 0" stroke="#0e0eb8" stroke-width="3.5" stroke-linecap="round" fill="none"/><path d="M158 424l0 0M151 500l0 2M146 442l1 0M181 500l0 1M166 450l-0 0M181 429l0 1M180 478l-0 0M225 463l0 0M152 395l-0 0M246 449l-1 0M197 427l-1 0M136 394l-2 0M230 501l-1 1M146 416l-0 0M201 486l-0 0M217 474l-1 1M220 476l-1 0M136 490l1 1M238 493l0 0M153 482l-0 2M155 471l1 0M210 489l-0 1M224 437l-1 1M183 490l0 1M172 439l-1 1M232 448l-0 0M160 396l1 1M200 426l-1 1M175 466l0 0M244 402l-1 1M178 490l0 0M196 484l1 1M122 417l0 1M196 418l0 1M232 399l1 1M249 413l1 1M237 483l0 1M147 476l1 0M157 403l-1 0M196 411l2 0M145 440l0 2" stroke="#0e0eb8" stroke-width="2.7" stroke-linecap="round" fill="none"/><path d="M232 406l-0 0M114 485l1 1M181 474l1 0M214 410l-1 1M120 405l-0 1M137 474l1 0M168 489l0 1M213 399l-1 0M110 463l0 0M193 402l-0 0M244 424l-2 1M210 409l-0 0M127 425l1 1M194 411l-1 1M187 420l0 1M230 430l-1 2M201 413l1 1M221 446l-1 1M150 468l0 1M212 418l-2 0M123 399l-1 0M159 427l1 0M173 489l2 0M177 406l-0 1M196 403l1 1M118 442l-0 0M181 473l-0 0M218 496l0 1M155 465l-1 1M124 431l-0 1M110 447l-0 0M178 476l-0 1M159 458l0 0" stroke="#0e0eb8" stroke-width="2.8" stroke-linecap="round" fill="none"/><path d="M112 471l-0 0M173 502l-0 1M171 473l-1 1M140 449l0 0M232 413l0 2M255 450l0 1M143 454l-0 0M224 503l1 1M208 408l-2 0M125 437l0 0M112 401l-0 1M247 495l1 1M164 410l0 1M179 476l-0 1M233 480l-0 0M242 434l-0 0" stroke="#0e0eb8" stroke-width="2.5" stroke-linecap="round" fill="none"/><path d="M140 479l-0 1M200 394l-1 1M225 503l-0 0M123 487l-1 1M186 400l-1 1M145 414l-0 0M156 495l-0 0M137 463l-0 1M137 495l-1 1M135 504l-2 0M208 469l-0 0M243 395l-0 1M229 393l-1 0M201 501l-0 2M232 445l-0 0M169 415l-1 0M135 424l-0 1M138 411l-1 1M125 463l1 1M158 433l-0 0M245 476l-1 2M164 406l-0 1M250 423l2 1M178 446l-0 1M183 399l-0 1M239 403l-0 0M249 489l-0 1M223 489l0 0M161 439l1 1M194 433l-0 0M114 462l-0 0M246 502l0 0" stroke="#0e0eb8" stroke-width="2.6" stroke-linecap="round" fill="none"/><path d="M110 473l1 1M211 462l1 0M140 398l1 0M112 493l1 1M119 423l1 0M161 430l-1 1M226 459l-1 1M155 409l-0 2M116 439l-1 0M211 422l-0 0M158 497l-1 2M207 462l1 1M220 504l0 0M148 485l0 0M120 461l0 0M218 396l-1 1M255 430l0 1M201 423l-0 1M163 421l-1 1M196 412l-1 0M197 400l2 0M238 484l1 1M147 405l0 1M229 407l0 0M141 406l-0 0M162 502l1 1M237 488l0 0M185 497l-0 0M256 504l-1 1M225 465l-0 1M230 434l-0 0" stroke="#0e0eb8" stroke-width="3.3" stroke-linecap="round" fill="none"/><path d="M185 463l1 1M125 479l1 0M250 412l-0 1M242 486l0 0M228 483l1 1M124 452l0 0M165 493l0 1M218 499l0 0M106 501l1 1M131 428l-0 0M187 425l0 1M168 485l1 1M141 419l1 0M146 401l-1 1M144 489l-1 0M242 393l0 0M221 466l0 0M175 466l-0 2M202 503l0 1M204 484l-0 0M109 488l-0 0M131 499l1 0M235 419l-0 0M212 442l0 0M127 406l-0 0M237 393l-1 1M206 419l0 1M242 418l-1 0M231 404l0 0M245 445l0 1M111 448l0 0M119 441l-0 1M169 396l-1 1M233 449l0 0M158 469l-0 1M145 490l0 0M164 463l-1 0M246 416l-0 0M211 412l-1 1M184 487l2 1M220 460l-0 0M116 410l-0 0M113 444l-0 1M237 479l1 1M120 423l0 0M245 495l-2 0M115 477l-0 0" stroke="#2424f8" stroke-width="3.4" stroke-linecap="round" fill="none"/><path d="M251 434l1 0M225 486l0 0M202 501l-1 0M174 452l-1 1M250 469l-1 1M136 464l1 1M125 412l-0 0M158 447l-0 1M139 488l-0 2M126 413l-1 1M159 469l-1 1M182 495l0 1M144 466l0 0M117 492l-1 1M211 463l1 1M176 443l-0 0M155 410l1 1M167 420l0 1M166 471l-0 2M151 417l-1 0M192 400l-1 1M112 416l-0 2M132 462l0 0M110 484l-0 1M253 441l-0 0M247 435l1 0M129 471l0 0M148 472l-2 0M124 496l0 0M217 438l-1 1M213 498l1 0M171 431l-1 1M225 398l0 1M212 479l-0 0M150 463l-0 1M229 500l-0 0M183 501l-0 0M117 397l-0 1M173 420l0 0M190 399l1 1M178 460l0 0M204 430l1 0M244 497l-0 1M193 401l-1 1" stroke="#2424f8" stroke-width="3.1" stroke-linecap="round" fill="none"/><path d="M169 462l1 1M164 422l0 0M131 489l1 0M123 431l-1 1M147 414l0 0M122 396l-0 0M137 443l0 1M208 477l1 2M178 413l-1 1M123 479l-0 0M184 414l-1 0M123 408l1 1M208 402l1 1M165 503l-0 1M241 443l0 0M146 475l-2 1M169 434l1 0M206 475l-0 2M147 428l-0 1M117 500l1 0M189 395l0 0M209 420l-2 0M153 476l1 0M249 486l0 0" stroke="#2424f8" stroke-width="2.5" stroke-linecap="round" fill="none"/><path d="M196 496l-0 0M134 410l1 1M226 421l1 0M242 425l-1 1M231 472l0 2M173 453l-1 0M143 410l1 1M218 405l-0 0M155 494l-0 0M172 397l-0 1M192 419l-1 1M111 410l1 0M164 402l-0 0M213 494l-0 0M250 417l0 1M146 403l0 1M126 414l-0 1M224 393l0 0M142 417l2 0M240 459l0 0M126 489l1 1M233 423l1 0M112 408l0 0M161 428l2 0M170 400l0 1M168 496l-0 0M144 399l-0 2M130 418l1 2M202 411l-2 1M130 501l1 0M127 468l2 0M109 500l1 1M171 490l-0 1M123 484l0 1M176 501l-0 0M203 469l-0 1M144 462l1 0M134 419l-0 0M142 483l0 2" stroke="#2424f8" stroke-width="2.6" stroke-linecap="round" fill="none"/><path d="M137 485l-1 1M206 394l-2 0M232 392l1 1M129 499l-0 0M193 397l-0 2M147 404l1 1M210 417l0 1M122 470l1 0M158 500l0 1M119 437l-0 1M140 495l0 0M221 462l-1 0M176 493l1 1M143 471l1 0M145 502l1 0M254 477l0 1M229 488l1 1M235 462l-1 1M220 481l-1 1M246 486l-1 0M119 450l1 0M152 487l-1 1M179 468l0 0M125 397l-0 0M222 452l-1 0M250 414l-0 0M206 400l0 1M147 400l1 0M242 497l0 1M154 473l-0 0M140 493l1 1M218 440l-1 1M183 486l-0 2M180 489l-1 0" stroke="#2424f8" stroke-width="3.2" stroke-linecap="round" fill="none"/><path d="M155 402l-1 1M222 450l0 0M182 439l1 0M107 441l-0 0M171 446l-1 1M218 406l-0 0M157 444l-0 1M177 439l-0 1M199 490l-1 1M207 417l-0 1M228 484l-1 1M151 444l-1 0M138 492l-0 0M130 407l1 1M242 452l-0 0M245 442l1 1M205 421l-1 0M230 494l1 1M244 475l-1 1M155 503l0 0M226 425l1 0M194 479l0 0M245 397l-1 1M213 499l0 0M248 473l-1 1M225 456l-1 0M111 399l-0 0M231 475l-0 0M158 479l-0 0M108 460l0 0M237 490l0 1M119 392l-0 0M150 403l2 0M135 411l-0 2M244 452l1 1M223 430l-1 0M179 402l0 1M114 398l-0 1" stroke="#2424f8" stroke-width="3.0" stroke-linecap="round" fill="none"/><path d="M109 457l-1 0M251 428l0 0M157 397l-2 0M129 467l0 0M167 495l0 0M167 480l-1 0M213 452l-0 1M129 470l0 0M211 416l-1 1M205 481l-1 0M169 465l1 1M116 467l1 0M196 495l1 1M252 503l1 1M253 498l-0 0M233 453l2 1M205 499l-0 2M187 466l0 2M243 485l-2 0M107 399l-1 0M144 472l-0 0M185 429l1 2M163 463l0 0M243 456l-1 0M111 410l-1 1M199 488l1 1M235 474l-1 0M140 440l-0 0M164 417l-0 0M122 400l1 1M197 404l0 1M237 397l0 0M131 453l1 1M245 453l0 0M109 443l1 1M195 487l0 1M235 442l-1 0M181 403l-0 1M235 398l1 1" stroke="#2424f8" stroke-width="2.8" stroke-linecap="round" fill="none"/><path d="M112 474l-0 1M133 484l-1 1M202 496l-1 2M253 483l0 0M130 433l2 0M224 425l1 0M134 448l0 1M181 441l0 0M183 481l-1 0M224 468l0 0M134 450l0 0M179 442l-1 0M143 437l-1 1M250 400l0 1M159 405l0 0M229 483l-0 0M203 478l1 1M217 494l2 1M201 488l1 1M250 468l-0 1M168 468l0 0M187 407l2 0M226 476l-1 2M143 426l-1 2M213 439l-0 0M217 503l-1 1M234 451l-1 0M197 423l0 1M169 466l1 1M224 418l0 0M253 474l-1 1M161 495l-1 1M166 425l-0 1M152 445l0 0M186 485l-0 0M250 500l0 0M150 418l1 1M159 431l-0 1M125 413l1 1M157 451l-0 0M179 393l1 0M236 454l0 0" stroke="#2424f8" stroke-width="3.3" stroke-linecap="round" fill="none"/><path d="M113 407l0 1M108 413l-0 1M139 497l1 1M255 464l-1 0M231 442l1 0M186 464l0 1M227 397l1 1M245 467l-2 1M174 425l-2 0M235 421l-2 1M127 470l-0 0M191 422l-1 0M113 449l-0 0M111 504l1 0M234 416l-1 0M117 502l-1 1M176 490l-0 0M182 496l1 0M144 483l-1 0M201 409l-1 1M125 393l-0 1M175 440l-2 0M220 439l0 0M174 442l0 1M176 446l1 2M114 501l-0 0M173 415l0 0M212 440l-1 1M144 425l0 1M243 417l1 1M130 453l-0 0M132 475l-0 1M153 488l0 0M228 422l1 1M233 420l-1 1M143 459l1 1M169 448l0 0M234 433l1 0M177 492l-0 0M206 475l1 1" stroke="#2424f8" stroke-width="2.7" stroke-linecap="round" fill="none"/><path d="M209 479l-2 0M202 397l0 2M217 428l-1 1M213 402l0 1M155 420l0 0M253 430l1 1M207 408l1 1M253 474l-1 1M237 401l-1 0M238 441l-0 0M125 409l-1 0M140 431l-1 0M138 433l0 0M151 482l-1 1M120 441l2 1M127 428l0 0M214 463l0 1M196 408l1 0M221 490l0 1M182 412l0 2M161 434l0 0M182 408l-1 1M121 465l0 1M215 407l0 0M202 396l-1 0M120 393l0 0M136 450l1 1M222 426l2 0M146 457l0 1M109 467l-1 1M152 409l-0 0M232 420l-1 0M254 403l0 1M129 392l-0 1M174 414l-0 1" stroke="#2424f8" stroke-width="2.9" stroke-linecap="round" fill="none"/><path d="M198 494l1 0M228 461l-0 0M183 473l0 0M253 445l-0 1M186 398l0 0M154 473l-1 0M253 411l0 1M249 397l-1 0M162 474l1 0M120 404l0 0M163 396l-1 1M168 445l1 2M246 432l-1 0M201 504l-2 0M162 494l1 0M143 478l-1 1M255 409l-1 0M176 499l-0 1M107 456l-0 0M233 431l0 1M132 440l0 0" stroke="#2424f8" stroke-width="3.5" stroke-linecap="round" fill="none"/></g><rect x="107.0" y="393.0" width="147.6" height="111.0" fill="#000" filter="url(#vn01)" style="mix-blend-mode:screen"/><g filter="url(#gblur2)"><path d="M137.0,436.0 L141.0,448.0 L139.0,460.0 L146.0,472.0 L150.0,484.0" fill="none" stroke="#2ff02f" stroke-width="2.8" stroke-linecap="round" stroke-linejoin="round" stroke-opacity="0.7"/><path d="M140.0,447.0 L150.0,444.0 L160.0,441.0" fill="none" stroke="#2ff02f" stroke-width="2.8" stroke-linecap="round" stroke-linejoin="round" stroke-opacity="0.7"/><path d="M174.0,488.0 L185.0,486.0 L198.0,485.0 L211.0,483.0" fill="none" stroke="#2ff02f" stroke-width="2.8" stroke-linecap="round" stroke-linejoin="round" stroke-opacity="0.7"/><path d="M225.0,401.0 L232.0,409.0 L240.0,419.0" fill="none" stroke="#2ff02f" stroke-width="2.8" stroke-linecap="round" stroke-linejoin="round" stroke-opacity="0.7"/><path d="M112.0,410.0 L118.0,418.0 L121.0,425.0" fill="none" stroke="#2ff02f" stroke-width="2.8" stroke-linecap="round" stroke-linejoin="round" stroke-opacity="0.7"/><path d="M114.0,470.0 L120.0,474.0" fill="none" stroke="#2ff02f" stroke-width="2.8" stroke-linecap="round" stroke-linejoin="round" stroke-opacity="0.7"/><path d="M232.0,462.0 L236.0,470.0 L238.0,478.0" fill="none" stroke="#2ff02f" stroke-width="2.8" stroke-linecap="round" stroke-linejoin="round" stroke-opacity="0.7"/><path d="M210.0,420.0 L216.0,428.0" fill="none" stroke="#2ff02f" stroke-width="2.8" stroke-linecap="round" stroke-linejoin="round" stroke-opacity="0.7"/><path d="M160.0,418.0 L163.0,428.0" fill="none" stroke="#2ff02f" stroke-width="2.8" stroke-linecap="round" stroke-linejoin="round" stroke-opacity="0.7"/><path d="M125.0,395.0 L128.0,402.0" fill="none" stroke="#2ff02f" stroke-width="2.8" stroke-linecap="round" stroke-linejoin="round" stroke-opacity="0.7"/><path d="M246.0,478.0 L250.0,486.0" fill="none" stroke="#2ff02f" stroke-width="2.8" stroke-linecap="round" stroke-linejoin="round" stroke-opacity="0.7"/><path d="M201 493 200 490 197 487 195 485M191 496 192 499 193 501 193 503" stroke="#2ff02f" stroke-width="1.7" stroke-linecap="round" stroke-linejoin="round" fill="none" stroke-opacity="0.66"/><path d="M245 422 247 420 249 418M230 431 230 429 233 426 234 425" stroke="#2ff02f" stroke-width="1.1" stroke-linecap="round" stroke-linejoin="round" fill="none" stroke-opacity="0.70"/><path d="M186 433 188 436 191 437M189 485 190 482 189 480 189 478M139 424 142 425 143 427 146 429" stroke="#2ff02f" stroke-width="1.2" stroke-linecap="round" stroke-linejoin="round" fill="none" stroke-opacity="0.49"/><path d="M166 404 164 405 161 407 160 410M140 415 140 419 141 421M149 410 146 409 145 407 144 404" stroke="#2ff02f" stroke-width="1.6" stroke-linecap="round" stroke-linejoin="round" fill="none" stroke-opacity="0.40"/><path d="M115 440 113 441 112 443 110 445" stroke="#2ff02f" stroke-width="1.8" stroke-linecap="round" stroke-linejoin="round" fill="none" stroke-opacity="0.70"/><path d="M159 417 160 420 159 422" stroke="#2ff02f" stroke-width="1.4" stroke-linecap="round" stroke-linejoin="round" fill="none" stroke-opacity="0.54"/><path d="M144 457 147 459 150 462 152 462M115 446 115 449 113 451" stroke="#2ff02f" stroke-width="1.5" stroke-linecap="round" stroke-linejoin="round" fill="none" stroke-opacity="0.66"/></g><path d="M186 441 C190 435 196 437 199 437 C204 436 210 441 209.5 449 C209 457 205 462 197 462 C190 462 183 458 182.5 451 C182 446 184 443 186 441 Z" fill="#000" stroke="#5cf040" stroke-width="2.3"/></g>
<g clip-path="url(#cp10)" style="isolation:isolate"><rect x="255.9" y="281.0" width="146.7" height="110.7" fill="#000" filter="url(#nu1)"/><rect x="255.9" y="281.0" width="146.7" height="110.7" fill="#000" filter="url(#vn10)" style="mix-blend-mode:screen"/><g filter="url(#gblur)"><path d="M278 351 277 351 275 351M324 311 325 311 326 312M397 293 396 294M359 375 359 376M387 335 386 335M356 388 355 387 354 387M294 324 293 324 292 324M311 309 310 309 309 309M310 333 311 332 311 331 311 330M265 339 266 339M273 365 273 366 272 367 271 368M298 359 298 358 297 356M344 388 346 388M300 325 300 324M313 345 314 345 315 345 316 346M318 337 317 339M357 362 357 363 356 365M284 308 285 310 285 310 284 311M303 358 301 357 301 356M286 320 286 319 286 318 285 317M293 333 293 332M351 314 352 315M367 295 366 295 365 294M379 361 379 363M340 297 341 298M287 343 288 343 288 341M313 327 314 328 315 328M349 367 349 368 348 369M296 370 295 369" stroke="#2ff02f" stroke-width="1.0" stroke-linecap="round" stroke-linejoin="round" fill="none" stroke-opacity="0.46"/><path d="M348 308 349 307 349 306 349 305M396 345 395 345 394 345M349 336 349 335 348 334M326 382 326 384 325 385 324 385M309 353 309 355 310 356M298 377 297 377M326 295 324 295M360 314 360 313M263 358 262 357M381 372 381 373M319 333 319 332 318 331M308 383 309 382 309 381 311 381M325 332 323 333 322 333 322 334M283 306 282 305 282 303M300 305 301 304 303 304M340 312 340 311 340 310 340 309M271 334 272 333 273 334 274 334M291 301 291 300 291 299M288 328 289 329M275 378 275 377M326 336 325 336 323 336 322 336" stroke="#2ff02f" stroke-width="0.9" stroke-linecap="round" stroke-linejoin="round" fill="none" stroke-opacity="0.53"/><path d="M339 321 339 323 339 324 339 325M283 356 285 356 286 357 287 357M319 292 320 292M301 297 302 295 303 295M353 290 354 291M306 368 307 368 308 367M279 364 279 365M266 364 264 365 263 366 262 367M340 337 340 339M294 376 293 376 292 375 290 374M308 351 308 352M377 294 378 296M312 290 311 289M310 318 310 317 310 317 311 316M293 283 292 282 291 280 291 279M391 294 391 293 391 292 391 291M258 322 259 322 260 323 261 324M263 330 264 330 265 329M284 284 285 283 286 282 286 281" stroke="#2ff02f" stroke-width="1.3" stroke-linecap="round" stroke-linejoin="round" fill="none" stroke-opacity="0.47"/><path d="M382 332 381 333 380 334M263 373 263 372 262 371M269 333 268 332 267 332M328 368 327 367M284 386 285 384 286 383 287 384M267 380 266 379 264 378M298 386 296 387 296 388 296 388M365 284 364 285M367 371 366 370 365 369 364 368M397 361 397 362 399 362M290 286 289 285 289 285 288 284M260 298 261 297 263 297M278 299 278 298M306 345 307 344 308 342 308 341" stroke="#2ff02f" stroke-width="0.8" stroke-linecap="round" stroke-linejoin="round" fill="none" stroke-opacity="0.71"/><path d="M347 355 347 356 348 357 348 359M306 347 307 346 308 346 309 345M310 357 309 356M312 367 313 368 314 369 314 371M272 354 272 355 272 357 271 358M287 368 286 369M302 292 304 292 305 291M316 332 316 331 316 330M296 366 297 365M339 375 338 376 336 377M355 317 354 316M295 370 296 370M277 367 278 368M291 368 292 369M279 307 277 307M303 309 303 309 302 310M370 344 369 342 369 341 369 340M300 376 299 374M314 371 314 372 314 373 315 374M359 374 360 373M282 348 283 347 283 346M302 381 302 380M281 375 281 376M365 334 365 335 364 336 363 337M334 373 332 373 331 373 330 373M346 381 347 382 347 384M275 354 275 353 275 351 275 350M379 299 379 298 379 296M376 368 375 369 375 370 375 371M321 332 321 331 322 330M279 357 278 359 278 359" stroke="#2ff02f" stroke-width="1.2" stroke-linecap="round" stroke-linejoin="round" fill="none" stroke-opacity="0.61"/><path d="M374 287 373 286 374 284 375 283M264 310 265 309 266 309M365 358 365 359 364 360M318 353 319 353 320 354M371 297 371 296 370 295 369 294M330 312 328 313M261 389 261 391 262 392M346 357 345 357M279 372 278 372M271 350 272 349M355 294 354 295 353 295 352 296M273 360 273 360 272 361M390 374 391 374" stroke="#2ff02f" stroke-width="1.4" stroke-linecap="round" stroke-linejoin="round" fill="none" stroke-opacity="0.69"/><path d="M363 287 363 288 364 289 364 290M262 336 263 338M398 329 398 329 397 330M291 355 291 357 292 358M348 336 349 336M264 295 265 293 265 292 266 291M308 288 310 288M352 388 351 389M368 382 369 381 370 381M307 354 306 353 305 352 304 351M266 375 267 375 268 374M312 353 313 352 313 351 312 350M300 287 299 287 297 287M330 321 331 321M342 288 341 288M363 320 364 319 365 319M358 289 359 288 360 287M307 321 307 320M368 336 367 337M282 294 283 294M266 284 265 284 264 286M299 338 299 339M279 350 278 349 277 349 276 349" stroke="#2ff02f" stroke-width="1.1" stroke-linecap="round" stroke-linejoin="round" fill="none" stroke-opacity="0.50"/><path d="M273 381 274 382 274 384 274 386 274 389M296 330 295 333 295 335 294 337 294 339M261 353 262 351 264 350 266 348M361 337 359 336 357 334 356 332 354 331" stroke="#2ff02f" stroke-width="2.3" stroke-linecap="round" stroke-linejoin="round" fill="none" stroke-opacity="0.97"/><path d="M322 309 322 307 321 305 321 303M368 331 370 329 371 328 371 326 371 324M307 379 309 378 311 377 313 377 314 376M363 329 362 326 361 324 361 321 359 319" stroke="#2ff02f" stroke-width="2.1" stroke-linecap="round" stroke-linejoin="round" fill="none" stroke-opacity="0.93"/><path d="M292 329 290 330 288 332 286 333M260 317 261 317 262 316 263 313 265 311 266 309M265 298 263 296 263 294 263 292M362 294 361 291 361 289 361 287 359 285 359 284M384 339 383 337 382 335 382 333 381 331 380 330M383 377 385 378 386 379 388 380M323 316 322 315 320 313 319 313 318 311 315 310M287 374 285 375 282 376 280 377 278 377 276 378" stroke="#2ff02f" stroke-width="1.7" stroke-linecap="round" stroke-linejoin="round" fill="none" stroke-opacity="0.91"/><path d="M309 317 307 319 307 322 306 324M358 328 360 328 362 327 364 327 365 328 367 330M315 344 312 344 309 345 307 346 304 346M368 305 369 303 370 303 372 301 375 301 377 302M373 311 374 312 373 315 372 317 370 320" stroke="#2ff02f" stroke-width="2.2" stroke-linecap="round" stroke-linejoin="round" fill="none" stroke-opacity="0.88"/><path d="M396 370 394 369 392 368 390 368 388 368M397 285 396 287 394 288 392 289 390 288M297 378 299 379 300 379 303 377M260 372 262 374 263 375 264 378 266 379M263 341 261 341 258 340 257 339" stroke="#2ff02f" stroke-width="2.0" stroke-linecap="round" stroke-linejoin="round" fill="none" stroke-opacity="0.90"/><path d="M265 380 267 381 270 381 273 382 275 382M389 308 388 310 388 312 387 314 385 315M321 334 323 333 325 332 326 330M280 386 279 388 278 390 278 392 276 394M283 300 283 302 284 304 285 306 285 308M298 385 295 385 293 384 290 384 288 384 286 382M259 334 262 334 263 335 264 338 265 340 265 343M275 334 276 336 278 338 279 339 280 341" stroke="#2ff02f" stroke-width="1.6" stroke-linecap="round" stroke-linejoin="round" fill="none" stroke-opacity="0.87"/><path d="M397 322 395 322 393 322 390 322 389 320M369 324 370 327 372 328 373 330M260 390 259 392 259 394 259 396 259 398 261 400" stroke="#2ff02f" stroke-width="2.4" stroke-linecap="round" stroke-linejoin="round" fill="none" stroke-opacity="0.93"/><path d="M303 378 304 380 305 381 304 383 304 384M266 336 268 336 270 336 272 337 274 337" stroke="#2ff02f" stroke-width="1.5" stroke-linecap="round" stroke-linejoin="round" fill="none" stroke-opacity="0.90"/><path d="M341 322 342 320 344 319 346 319" stroke="#2ff02f" stroke-width="1.9" stroke-linecap="round" stroke-linejoin="round" fill="none" stroke-opacity="0.95"/></g><path d="M389 362h0M376 366h0M318 368h0M271 367h0M260 305h0M272 369h0M270 307h0M376 342h0M383 325h0M283 303h0M365 311h0M385 343h0M344 389h0M285 325h0M357 382h0M337 326h0M381 339h0M365 286h0M295 328h0M322 374h0M385 303h0M276 308h0M326 346h0M312 304h0M301 352h0M296 343h0M337 346h0M334 305h0M263 285h0M267 301h0M278 287h0M281 348h0M313 356h0M291 287h0M366 284h0M279 381h0M272 364h0M301 355h0M271 370h0M370 380h0M276 353h0M303 359h0M330 318h0M328 285h0M306 300h0" stroke="#e8306a" stroke-width="1.5" stroke-linecap="round" stroke-opacity="0.8"/><path d="M334 315 C337 311 343 312 346 315 C348 318 346 323 343 324 C339 325 337 322 335 321 C333 319 333 317 334 315Z" fill="#000" fill-opacity="0.85" filter="url(#gblur2)"/></g>
<g clip-path="url(#cp11)" style="isolation:isolate"><g filter="url(#nblur)"><path d="M332 460l1 1M284 455l-0 1M391 463l0 0M396 418l0 0M338 463l0 0M356 485l1 1M283 504l1 0M368 419l0 0M321 478l-0 0M303 490l0 1M374 437l1 1M311 408l1 1M270 458l0 0M276 410l-0 0M321 495l0 0M375 494l1 1M322 437l1 1M287 440l-1 0M341 497l-0 0M307 410l0 1M288 464l-0 1M393 463l-1 1M274 446l1 1M400 447l0 0M302 398l-0 1M296 487l1 0M315 433l0 1M351 436l-0 1M341 505l-0 0M379 449l0 0M282 423l0 1M285 478l-0 0M382 400l-1 1M262 448l1 0M272 443l-0 0M378 482l0 1M368 416l0 1M358 401l1 1M359 425l-0 0M353 419l1 1M295 481l1 0M323 436l-0 0M369 460l-1 1M338 497l-1 2M281 432l-0 0M302 467l-1 0M302 470l0 0M359 410l1 1M275 497l-0 2M310 445l0 1M402 489l1 0M402 488l1 0M305 448l-1 1M283 416l-2 0M343 484l1 0M396 441l-0 1M263 465l-1 0M287 464l0 2M393 495l0 0M314 393l-0 2M276 465l-0 0M395 410l0 0M254 426l1 0M295 474l0 0" stroke="#1616e0" stroke-width="3.0" stroke-linecap="round" fill="none"/><path d="M375 456l-1 1M334 427l-0 0M363 412l-1 0M295 496l-0 2M262 488l0 0M360 458l-1 0M357 489l1 0M318 489l1 1M256 427l-0 0M368 469l-0 1M396 483l-1 0M338 442l-1 1M386 472l0 0M311 416l-1 1M256 485l1 0M294 418l-0 0M332 446l-1 1M296 395l1 0M293 442l0 1M288 484l-1 1M379 503l1 0M326 492l-0 0M283 459l1 1M301 455l0 1M399 496l0 0M303 414l0 0M353 433l-0 0M368 399l1 1M375 464l-0 1M285 445l1 1M312 497l1 1M264 429l-0 1M361 485l-0 1M261 410l-1 1M342 446l1 1M393 459l1 0M399 417l1 0M397 461l0 1M358 419l1 1M378 456l0 1M363 454l-0 1M271 492l1 1M380 504l-0 0M355 477l-2 0M339 460l0 0M403 490l0 0M260 398l-1 1M345 417l0 1M381 491l-1 1M388 422l0 0M325 486l-0 0M271 422l0 0M328 409l1 1M311 495l-1 0M261 406l-0 0M327 436l0 1M342 454l1 1M286 433l1 1M382 398l1 1M400 465l-1 0M336 394l1 1M299 392l0 0M321 415l-1 1M402 458l-0 0M267 475l-0 0M340 450l1 0M264 455l0 2" stroke="#1616e0" stroke-width="3.3" stroke-linecap="round" fill="none"/><path d="M300 465l0 0M293 445l-1 1M380 411l-1 0M384 459l1 1M306 484l-1 1M290 430l-0 0M374 417l-1 1M315 489l-1 0M261 426l0 1M293 496l-1 1M350 420l-1 1M311 408l-1 0M362 443l-1 0M315 420l1 0M256 416l0 1M309 400l-1 0M374 490l-0 0M292 498l-1 0M260 489l1 0M259 454l0 0M289 431l-1 0M391 484l-1 1M352 438l-1 0M283 487l-1 0M383 465l0 0M374 393l-0 0M349 430l1 0M280 428l0 0M362 470l-0 0M320 478l1 1M384 413l-0 0M339 398l1 1M347 464l-0 1M307 395l0 0M349 496l-0 0M318 473l1 1M382 453l0 1M304 486l-1 0M263 426l1 2M307 408l-0 0M333 488l-1 1M267 404l-1 1M277 455l1 0M401 409l0 0M395 459l1 1M260 392l0 1M282 503l-0 0M257 466l-1 0M326 504l-1 1M375 408l1 0M267 444l-1 1M391 455l-0 1M403 465l-0 0M265 473l-0 0M394 468l-0 1M268 417l0 2M275 478l-0 0M391 483l1 1M353 435l-2 0M325 409l-0 0M332 410l-0 1M379 468l1 1M360 408l1 0M322 467l-1 0M394 455l-1 0M294 460l-0 1M295 420l-0 1M346 480l2 1M358 457l-0 2M302 492l1 0M294 444l-1 0M270 448l-0 0M255 417l-0 1M261 481l0 0M319 471l1 1" stroke="#1616e0" stroke-width="3.2" stroke-linecap="round" fill="none"/><path d="M396 436l1 0M336 484l-0 1M341 430l-1 1M272 475l-0 0M327 493l-1 0M375 500l-0 0M395 433l-0 2M325 418l0 0M381 466l-0 0M274 454l1 0M375 456l-0 0M362 499l-0 0M304 409l1 1M369 429l1 0M278 403l-1 0M299 443l-0 0M316 425l0 1M287 476l0 1M398 417l-0 0M384 425l1 1M377 399l-0 2M375 435l0 0M371 469l0 0M307 478l0 0M340 490l0 0M401 444l-2 0M343 424l-1 0M322 410l0 0M292 486l0 1M368 426l1 0M389 415l-1 0M390 401l-1 0M285 463l-0 0M364 503l-0 0M391 456l-1 0M299 489l1 1M306 476l-1 0M283 454l-0 2M307 442l0 1M314 499l0 1M342 480l-0 0M313 402l1 0M267 459l-1 1M339 445l-0 0M328 397l0 0M261 392l-0 0M311 490l-0 1M393 439l2 0M290 424l-1 2M308 428l-1 0M283 401l0 0M382 491l0 1M361 432l0 0M388 489l-0 1M310 446l1 1M398 415l1 0M296 407l-1 1M258 434l0 0M395 466l-1 1M279 425l-0 1M399 502l-0 2M346 459l0 0M279 396l2 1M380 442l1 0M349 501l0 0M350 419l0 1M264 482l0 1M274 487l0 1M316 410l0 1M268 456l-0 1M375 428l-1 0M330 399l0 1M263 501l-1 1M401 460l0 1M303 494l-0 0M362 484l0 0M366 493l0 0M303 406l-0 0M309 474l-0 0M365 395l0 1" stroke="#1616e0" stroke-width="3.4" stroke-linecap="round" fill="none"/><path d="M392 396l-1 0M332 472l1 0M258 489l1 1M362 427l1 0M387 499l0 0M273 440l-1 1M401 448l-0 0M374 454l-0 0M301 486l-2 1M287 464l-0 0M315 413l1 0M341 395l1 0M389 421l0 1M259 441l-1 0M288 458l0 0M386 490l0 0M337 394l1 0M319 395l1 0M257 487l1 0M334 417l-0 0M315 395l1 0M261 461l1 1M363 464l1 1M358 442l-1 0M372 481l-1 0M393 433l1 0M265 398l-2 0M397 410l-1 0M400 473l-2 0M282 468l-1 1M313 469l-0 0M334 467l1 0M280 435l-1 0M275 442l-0 1M358 494l0 1M322 457l-1 1M333 451l0 1M259 438l0 1M273 470l-0 1M353 459l-1 1M322 394l-0 0M346 427l1 1M341 485l-0 1M359 405l0 0M298 431l0 0M261 405l-0 0M306 475l1 1M323 490l-0 0M333 482l-1 1M274 431l-1 1M327 471l-1 1M398 411l-1 1M337 408l1 1M397 482l0 1M369 498l-0 0M265 491l-1 1M394 458l-0 0M317 401l-1 0M271 469l1 0M346 419l1 0M398 409l-0 0M339 490l0 0" stroke="#1616e0" stroke-width="2.6" stroke-linecap="round" fill="none"/><path d="M351 467l0 0M302 483l-0 1M315 461l0 1M396 413l1 0M317 498l0 1M287 416l-0 1M331 456l-0 0M394 472l-0 1M387 502l-1 2M380 489l0 0M390 478l0 0M398 402l-0 0M389 478l0 0M287 469l1 1M273 406l1 1M342 504l0 1M401 444l1 0M386 418l-1 0M320 396l0 0M398 484l0 0M325 447l2 1M391 459l1 0M360 504l0 0M317 435l-1 0M307 474l-0 1M379 459l-2 0M310 413l-0 0M385 459l-1 0M330 459l-0 2M276 472l-0 1M340 493l-1 0M363 401l-0 0M347 471l1 1M285 468l-0 0M352 491l-0 1M332 478l-0 0M275 427l-1 0M340 443l-0 2M275 458l-0 1M393 426l-0 0M267 419l-2 1M277 415l0 1M290 499l0 0M289 494l-0 0M368 395l0 1M368 500l1 1M336 440l1 1M376 488l-0 1M371 482l1 1M289 434l0 1M377 456l1 1M365 468l-0 0M311 501l0 0M300 418l0 0M391 434l-0 1M309 462l1 0M355 443l-1 1M384 420l-0 1M318 500l1 1M298 445l-0 2M371 464l0 0M299 397l1 1M263 480l1 1M329 475l1 0M369 429l-1 1M372 502l1 1M310 474l-0 1M298 479l-1 1M338 456l-0 0M344 494l1 1M320 401l1 1M263 489l-0 1M399 425l0 1M304 413l-1 0M261 455l0 1M368 490l-1 1" stroke="#1616e0" stroke-width="2.8" stroke-linecap="round" fill="none"/><path d="M389 413l-1 0M346 424l-0 1M272 451l1 0M331 422l-1 1M322 454l0 0M388 504l1 0M348 496l-2 1M389 402l1 1M291 466l1 1M337 413l0 0M374 422l0 1M311 476l0 1M317 474l-0 0M347 503l0 0M387 479l1 1M273 470l-0 0M272 472l-0 0M295 412l0 1M259 466l-1 1M354 466l2 0M403 449l1 1M278 420l1 0M260 438l-0 1M360 400l-1 0M355 427l1 0M300 437l-0 1M376 444l0 0M272 439l0 1M342 485l1 1M298 435l1 1M324 504l-0 1M354 431l1 1M303 414l-1 1M260 407l0 1M369 473l1 0M380 456l0 1M375 438l0 0M297 478l1 1M280 417l0 0M387 492l-0 1M371 392l-1 1M258 442l1 2M273 504l-1 1M314 500l1 1M262 426l0 0M300 425l0 0M268 501l-0 0M300 499l0 1M279 448l0 1M349 469l0 0M268 396l-1 1M289 493l-1 2M397 424l-2 1M351 500l0 0M376 431l-1 0M393 405l-1 0M257 429l-0 1M365 484l1 1M352 454l0 1M300 477l-0 1M376 414l-0 0M328 474l-0 0M340 479l1 0M328 482l1 0M367 450l1 2M322 475l1 1M347 470l-0 0M319 480l0 0" stroke="#1616e0" stroke-width="2.7" stroke-linecap="round" fill="none"/><path d="M367 451l0 0M300 492l0 0M384 419l-0 0M279 460l1 0M301 474l0 1M338 408l1 0M284 484l1 1M367 500l-0 0M308 423l-1 1M401 411l0 1M367 417l1 1M332 458l1 1M314 485l-1 0M376 449l1 1M324 480l1 1M372 397l-0 1M375 485l0 0M329 399l-0 1M275 486l-1 0M289 428l1 1M313 498l0 0M346 503l-0 0M398 462l-0 1M283 465l0 1M257 420l-1 1M299 458l2 0M286 465l1 0M350 469l1 0M386 407l-0 0M331 462l-1 1M258 399l-2 0M314 462l0 0M332 426l0 0M360 400l-1 1M373 440l1 1M296 393l1 1M349 427l1 1M301 451l-0 1M285 420l-0 0M381 491l1 1M317 467l0 1M318 448l0 0M382 414l-0 0M277 427l0 1M337 427l-1 0M391 422l0 0M364 413l1 1M381 484l0 2M362 434l-0 1M304 438l1 1M269 473l1 1M330 490l-1 0M317 480l-2 0M298 411l-1 0M321 457l-0 0M350 496l-1 1M304 440l1 0M307 444l-0 1M355 482l1 1M307 421l0 0M396 408l0 1M272 451l1 1M333 464l-1 0M362 431l-0 2M317 421l1 0M365 477l1 1M297 468l-0 0M347 461l-1 1M300 502l-1 1M371 471l0 1M261 457l1 0M371 485l-1 1M403 462l0 0M360 417l-0 0M262 460l0 1M313 405l-0 2" stroke="#1616e0" stroke-width="2.9" stroke-linecap="round" fill="none"/><path d="M386 503l-1 1M275 447l-0 1M392 485l0 0M316 427l0 1M269 408l-1 0M391 413l0 0M289 499l-1 2M358 429l0 0M308 423l-0 0M350 484l-1 1M401 451l-0 0M298 467l-0 0M317 486l-0 0M320 436l0 1M308 460l-0 0M315 475l1 1M313 408l-1 1M360 421l1 1M304 441l0 0M394 484l-0 1M258 437l-1 1M334 486l0 0M380 477l-0 0M291 455l-0 0M271 501l1 1M364 469l1 1M357 466l1 1M329 393l0 1M392 449l0 0M327 486l1 1M338 493l1 1M340 444l-0 1M263 491l-0 1M368 501l0 0" stroke="#1616e0" stroke-width="3.5" stroke-linecap="round" fill="none"/><path d="M384 497l-0 1M358 430l1 0M275 429l-1 1M359 472l-0 0M346 438l-1 1M262 469l0 0M343 415l-0 0M355 469l0 1M359 406l-0 0M289 440l0 0M268 433l1 0M361 503l1 1M338 485l1 1M287 486l0 1M298 455l-1 0M395 464l0 1M274 456l-1 1M392 482l0 1M350 483l-1 1M399 447l-0 1M331 421l-0 0M304 447l1 1M285 466l1 0M302 501l-0 2M270 502l0 1M296 467l2 0" stroke="#1616e0" stroke-width="2.5" stroke-linecap="round" fill="none"/><path d="M256 476l0 1M379 463l0 0M392 404l0 0M370 411l0 0M340 497l0 1M349 442l-1 1M308 397l-0 0M391 493l0 0M291 451l1 1M330 433l1 0M333 427l1 1M313 431l-0 0M317 416l0 0M361 435l1 0M276 407l1 1M364 454l0 0M371 465l2 0M309 399l-0 1M262 419l0 1M342 478l-0 1M277 439l-2 0M348 450l-1 1M372 442l-0 1M369 482l0 1M388 452l1 0M266 451l0 1M328 449l-0 1M257 474l-0 0M286 431l1 0M328 466l1 0M341 488l-1 1M275 421l1 0M372 412l1 0M319 477l1 0M311 480l-1 1M337 434l-1 0M372 439l-0 0M307 493l0 0M272 420l0 0M366 491l-2 0M333 478l0 1M276 420l0 0M375 421l1 0M301 472l0 1M272 444l-0 0M299 474l2 0M346 426l-1 0M383 450l-1 2M390 466l-0 1M393 496l-1 1M395 487l0 0M263 504l0 1M347 448l0 1M307 434l1 1M357 503l0 0" stroke="#1616e0" stroke-width="3.1" stroke-linecap="round" fill="none"/><path d="M320 405l0 1M317 484l0 0M383 438l-0 0M307 499l-0 0M361 491l-0 0M369 504l1 1M297 497l0 2M377 418l-0 0M366 479l1 0M296 461l-0 1M299 415l-1 0M303 436l-2 1M399 472l-0 0M361 459l1 0M260 501l-0 1M285 419l-0 1M313 412l0 0M358 451l0 1M333 489l-0 0M260 462l0 0M321 414l1 1M344 419l-0 0M313 464l0 0M350 473l1 0M315 471l0 0M258 439l1 0M391 422l0 1M259 406l1 1" stroke="#0e0eb8" stroke-width="3.4" stroke-linecap="round" fill="none"/><path d="M290 449l1 0M272 432l0 2M349 502l-1 1M304 414l0 1M291 488l1 0M302 414l-1 1M385 475l0 1M290 397l-1 0M357 492l0 1M279 505l2 0M333 480l2 0M292 455l-1 0M390 449l-0 0M321 501l0 0M267 461l-1 0M327 440l0 1M324 428l0 1M274 480l-0 0M328 494l1 1M316 491l-0 1M387 453l-1 0M278 392l-0 0M322 420l1 0M331 418l2 0M331 431l1 0M365 444l1 1M268 451l1 1M312 449l1 0M378 414l1 1" stroke="#0e0eb8" stroke-width="3.5" stroke-linecap="round" fill="none"/><path d="M265 449l-2 0M270 399l1 1M308 472l0 1M346 448l0 1M353 442l-0 1M385 405l-0 0M368 413l-0 0M335 399l0 0M297 490l0 1M328 483l-0 1M359 419l0 0M385 399l-0 0M290 504l0 1M351 432l-1 0M358 439l0 1M383 451l-0 0M271 412l-0 1M323 443l-0 0M403 433l1 0M353 417l0 1M313 502l0 1M354 447l0 0M317 468l-1 1M380 503l-0 0M389 440l0 0M265 498l-1 1M291 497l0 0M372 422l-1 0M340 454l-0 0M260 504l1 1M285 415l-2 0M317 428l-0 1M284 494l0 0M288 488l0 0M386 392l0 0M376 424l1 0M326 462l0 0M283 409l-1 0M263 418l0 0M372 416l-0 1M331 442l0 0M374 486l-1 1M265 454l-1 1M259 496l-0 0" stroke="#0e0eb8" stroke-width="2.8" stroke-linecap="round" fill="none"/><path d="M375 448l-0 1M377 411l-0 0M292 468l-1 0M299 405l0 0M297 396l1 1M274 427l-1 0M380 441l0 0M390 485l-0 1M361 441l0 1M321 480l-1 1M357 394l-1 0M272 423l0 0M266 444l-0 0M259 404l1 1M327 465l-1 1M323 504l1 0M328 414l-1 1M390 400l-0 0M393 493l1 0M375 407l-1 1M307 468l-0 0M317 445l1 1M321 454l1 0M387 401l-0 0M291 398l-0 1M259 397l0 0M380 493l0 1M359 431l-1 0M321 501l2 0M327 403l-0 0M265 449l0 0M334 397l1 0M274 463l-1 0" stroke="#0e0eb8" stroke-width="2.7" stroke-linecap="round" fill="none"/><path d="M394 461l1 0M274 420l-0 0M298 447l1 0M265 428l-0 2M400 444l-1 0M326 499l-0 2M368 423l1 1M283 410l-2 0M315 426l1 1M339 490l1 0M403 467l0 1M277 480l1 1M361 473l-1 1M261 504l-0 1M339 426l0 0M356 474l-1 1M367 493l-1 1M262 445l0 0M328 486l-0 1M270 409l-2 0M312 467l-1 0M319 431l-1 1M274 445l0 1M342 442l-1 0M264 477l-0 1M391 419l-1 0M321 485l1 0M392 460l0 0M396 485l-0 0M282 498l0 0M341 417l-0 1M289 440l0 0M311 417l-1 1M341 458l-1 1M329 398l-0 0M281 412l1 1M301 395l1 1M400 398l1 0M324 489l0 0" stroke="#0e0eb8" stroke-width="3.3" stroke-linecap="round" fill="none"/><path d="M299 414l0 0M311 459l0 0M379 455l-0 0M350 480l-0 1M297 481l1 1M262 410l1 0M311 496l0 0M338 452l0 0M269 461l0 2M257 442l1 0M287 402l0 0M336 472l1 1M399 487l-0 0M340 485l-0 0M360 464l-1 0M394 466l0 0M393 443l1 1M392 502l1 0M311 416l0 0M384 461l0 0M327 393l0 0M312 461l0 2M335 400l-0 2M339 405l-2 0M356 419l-0 2M401 395l0 0M307 461l-1 0M320 476l-0 0M303 423l-1 0M360 415l1 0M326 407l1 0M338 409l-1 1" stroke="#0e0eb8" stroke-width="2.6" stroke-linecap="round" fill="none"/><path d="M265 500l1 1M381 451l-1 0M378 500l1 1M322 428l1 1M258 428l-0 0M364 473l-0 0M297 484l0 0M330 474l-0 0M285 467l0 1M269 499l0 1M400 438l1 1M294 449l0 1M278 396l0 0M309 501l-0 0M385 459l-1 1M264 415l0 0M395 499l-1 1M300 468l1 0M380 501l0 0M320 395l0 0M323 396l1 2M326 412l-0 0M355 484l0 0M348 499l-1 0M294 460l-0 0M356 434l-0 0M341 461l-1 0M386 472l-1 1M285 447l-0 1M256 492l1 0M300 459l0 0M271 485l-1 1M378 447l-1 0M378 495l0 1M385 477l-0 0M373 478l0 0M317 467l1 1M297 421l0 0M318 442l0 0M268 411l-0 1M374 420l-1 0M283 479l0 0M306 472l0 0M375 411l-0 0" stroke="#0e0eb8" stroke-width="3.1" stroke-linecap="round" fill="none"/><path d="M258 460l-0 1M394 411l-0 2M319 452l-1 0M309 493l1 1M364 499l1 1M380 428l0 1M267 392l1 0M393 482l-1 0M260 472l-2 0M329 421l1 0M335 478l-0 0M340 457l-0 0M397 493l0 1M258 479l0 0M392 403l0 1M380 408l-1 0M285 479l2 1M304 456l-0 1M386 447l1 1M394 448l-1 1M258 410l0 0M304 431l-0 0M355 492l0 0M290 485l-1 0M283 443l1 1M347 481l0 0M373 427l1 0M323 473l1 1M287 428l-0 2M275 450l0 1M295 445l0 1M264 412l-1 1M256 399l1 1M373 450l0 0M323 496l-0 0M401 410l-0 1M339 429l-0 1M370 499l0 1M301 456l-1 1M288 400l-1 1M271 501l1 1M366 481l2 1" stroke="#0e0eb8" stroke-width="3.2" stroke-linecap="round" fill="none"/><path d="M273 469l1 1M320 462l-0 0M280 489l1 1M303 419l-0 1M306 501l-0 0M314 452l0 0M279 397l0 2M333 469l-2 0M313 461l-1 0M300 455l0 1M311 399l-1 1M393 399l-0 0M256 405l0 0M328 495l-1 1M349 494l0 0M398 395l1 0M389 442l-1 0M255 412l0 1M340 469l1 1M319 495l1 1M378 410l-0 1M318 447l-0 0M280 460l-0 0M285 472l0 1M312 427l1 0M333 483l-1 0M355 466l0 1M390 395l0 1M282 435l-0 0M376 430l-1 0M328 481l-1 1M391 463l-1 1" stroke="#0e0eb8" stroke-width="2.9" stroke-linecap="round" fill="none"/><path d="M312 461l-0 2M261 481l-0 1M394 431l0 1M384 482l-0 0M365 426l0 0M288 463l-0 0M372 500l-0 0M294 486l1 1M312 401l-1 0M321 492l-0 0M397 449l1 0M344 441l-1 1M392 502l1 1M372 461l-0 1M273 439l0 0M276 428l1 1M304 395l1 0M302 395l0 0" stroke="#0e0eb8" stroke-width="2.5" stroke-linecap="round" fill="none"/><path d="M391 480l0 1M304 417l-1 0M374 400l1 0M381 392l-0 2M293 471l-1 1M315 504l0 1M355 491l0 0M277 433l0 0M389 457l1 1M268 443l1 1M298 467l0 0M265 400l0 1M375 502l-0 1M366 444l-0 1M402 392l-1 1M390 472l1 0M379 459l-1 1M310 496l-0 0M311 453l-0 0M335 406l0 1M279 395l0 1M366 488l0 0M279 422l1 1M317 435l0 0M266 464l0 0M269 495l-0 1M351 489l1 0M302 421l-0 1M307 481l-1 1M322 406l2 0M403 481l-0 1" stroke="#0e0eb8" stroke-width="3.0" stroke-linecap="round" fill="none"/><path d="M310 459l-0 0M366 441l1 1M369 405l1 1M312 430l-1 1M299 405l-0 1M342 490l0 0M377 413l-1 0M348 489l-1 1M298 459l1 1M314 437l1 1M376 400l-1 0M333 447l-1 0M318 448l-0 1M390 428l-0 1M268 454l1 0M398 408l-0 1M355 435l1 0M310 431l-1 1M318 421l-0 1M267 472l0 0M302 396l-0 1" stroke="#2424f8" stroke-width="2.5" stroke-linecap="round" fill="none"/><path d="M357 497l0 0M318 399l0 0M278 461l-0 0M260 498l0 0M372 482l1 0M285 406l1 1M306 470l-1 1M361 504l1 1M277 406l-1 0M255 498l-1 1M339 431l-1 1M291 458l0 0M357 477l-0 1M300 397l1 1M353 478l1 0M341 477l0 0M323 436l-0 0M363 405l-1 0M280 420l0 0M329 504l-0 0M298 481l-1 1M257 393l-1 0M359 462l-0 0M284 434l1 1M397 406l0 1M330 394l0 0M380 427l0 0M369 453l-0 1M291 427l0 0M325 411l-0 1M361 489l0 1M295 396l-0 1M370 454l0 0M323 460l-1 1M257 484l1 0" stroke="#2424f8" stroke-width="3.0" stroke-linecap="round" fill="none"/><path d="M396 401l-1 0M358 471l-0 0M396 421l-1 1M334 424l-1 1M259 465l-1 0M263 493l0 0M283 403l-2 1M291 431l1 0M326 468l1 1M387 431l1 1M358 504l-1 0M363 496l-0 0M277 440l-1 1M388 490l1 1M347 503l-0 1M308 409l1 1M286 418l0 2M373 499l-0 0M328 474l0 0M305 474l-0 0M378 400l0 1M259 434l-1 1M258 501l-1 1M271 445l0 0M283 451l2 0M319 440l-0 1M262 442l0 1M371 405l0 1M276 456l-1 0M381 429l0 1M390 392l0 0M341 447l2 0M382 469l1 1M348 421l1 1M362 473l0 1M346 450l1 1M309 437l-1 0M315 434l-0 0M338 453l2 0M297 392l0 0M376 451l-0 0" stroke="#2424f8" stroke-width="3.2" stroke-linecap="round" fill="none"/><path d="M396 403l1 1M269 397l1 1M275 463l-0 0M401 453l0 0M342 426l0 1M344 450l-0 0M380 498l1 1M391 496l-1 1M384 439l1 0M329 418l0 0M342 430l-1 0M299 415l1 0M294 404l-0 0M293 453l-0 0M268 453l0 1M299 475l-0 1M260 499l1 0M266 456l1 0M375 437l-1 0M365 428l-1 1M259 485l-0 0M390 460l-0 0M270 449l2 1M325 445l-1 0M318 488l0 0M401 493l-0 1M280 434l-0 1M364 490l-2 1M381 487l-1 1M369 493l1 1M391 445l-0 2M312 421l1 0M343 445l1 0M403 486l-1 0M347 420l0 0M278 417l1 1M349 501l1 1M293 456l-0 0M261 449l-0 0M384 464l-0 0M302 400l-0 0M386 445l1 0M294 442l0 0M326 404l1 1M392 469l-0 0M341 427l1 0M296 459l0 1M394 433l0 0M383 434l-0 1" stroke="#2424f8" stroke-width="2.6" stroke-linecap="round" fill="none"/><path d="M394 430l0 0M373 436l1 1M287 457l-0 0M287 403l-1 1M335 445l-1 0M345 444l-2 0M303 396l0 0M299 447l1 1M402 404l-1 1M353 450l-0 1M361 422l1 1M388 438l1 2M260 504l-0 1M321 411l0 1M291 396l1 0M390 433l1 1M316 438l-0 0M338 474l-0 1M339 425l0 0M375 402l1 0M363 460l1 1M320 501l-0 1M280 447l1 0M377 455l0 0M378 449l-0 0M386 449l-1 0M303 413l-0 2M262 488l-0 1M360 424l0 0M320 480l-0 1M311 443l1 1M342 448l-1 0M262 425l1 0M255 500l1 1M372 424l1 0M293 414l-1 1M273 480l1 0M334 404l1 0M358 411l2 1M307 396l0 1" stroke="#2424f8" stroke-width="3.4" stroke-linecap="round" fill="none"/><path d="M256 502l1 0M316 421l-1 0M370 445l2 1M303 418l-0 0M261 433l0 2M322 432l1 1M295 467l1 0M313 428l1 1M296 414l-1 1M255 457l1 0M294 452l1 1M377 425l0 0M376 477l0 0M389 446l-0 0M344 487l1 0M292 433l-1 0M385 437l1 0M315 409l-0 0M360 494l0 0M361 444l1 1M332 491l-1 0M317 421l0 0M376 480l-0 1M331 440l0 0M352 487l-1 0M318 422l-1 1M358 400l-0 1M384 459l0 0M391 460l-1 0M365 477l-2 0M297 420l-0 0M335 440l0 1M373 448l1 1M274 422l0 1M332 416l-0 0M379 473l1 1M366 470l-1 0" stroke="#2424f8" stroke-width="2.8" stroke-linecap="round" fill="none"/><path d="M328 433l1 1M271 393l0 1M389 445l-1 1M377 401l0 0M376 481l-1 0M331 417l0 0M373 400l0 0M351 431l1 0M284 458l0 1M377 472l1 1M354 488l-0 1M347 480l-0 1M323 485l-0 0M302 436l-0 0M344 474l-0 1M275 406l1 0M330 423l2 0M364 431l-0 0M333 460l0 0M276 454l-1 0M341 393l1 0M323 421l-1 0M307 432l-1 2" stroke="#2424f8" stroke-width="3.5" stroke-linecap="round" fill="none"/><path d="M386 483l0 0M360 460l1 1M357 408l0 0M327 400l-0 0M268 460l1 1M316 480l-0 0M362 491l1 1M347 455l-1 0M397 437l1 1M364 461l2 0M270 410l1 1M262 449l-1 1M335 445l-0 1M379 502l-0 0M266 460l0 0M287 497l0 0M307 451l1 1M331 491l1 0M263 420l1 0M346 419l0 0M310 460l-0 1M393 454l-0 0M277 483l-0 1M290 491l-0 0M389 454l1 0M381 462l-0 1M279 477l-1 0M376 445l-1 1M268 467l-0 0M314 474l1 0M287 494l-1 0M394 415l-0 0M313 428l-1 1M305 417l1 0M288 428l-0 1M384 416l-0 1M394 408l0 0M321 480l-1 2M331 436l-0 0M277 470l1 0M298 426l-0 0M255 413l1 0M314 444l-1 0M365 504l1 1" stroke="#2424f8" stroke-width="2.7" stroke-linecap="round" fill="none"/><path d="M330 418l1 1M311 434l0 1M387 459l-1 0M387 436l1 0M275 485l-1 0M271 404l1 1M323 431l1 1M339 430l1 0M319 433l-0 1M275 459l-0 0M367 504l0 0M393 409l1 0M344 502l1 1M327 426l1 1M287 408l2 0M279 481l-0 1M292 422l-0 1M385 485l0 0M310 460l1 1M281 467l1 0M317 493l-1 0M400 487l-1 0M343 471l0 1M367 401l0 0M402 427l1 0M354 470l-0 0M291 428l1 0M329 397l0 1M284 444l-1 1M353 452l-0 1M303 436l-0 0M368 431l1 0M388 396l1 1M348 422l-0 1M334 472l0 1M304 435l-0 1M291 456l1 1M283 441l0 0M386 407l1 2M309 504l-0 0M384 428l0 1M308 470l1 0M260 480l-1 1" stroke="#2424f8" stroke-width="3.3" stroke-linecap="round" fill="none"/><path d="M299 489l-0 0M323 418l-0 0M310 458l-0 0M267 452l0 1M362 400l-1 0M271 431l-0 1M310 403l2 1M260 424l0 1M305 500l-0 0M301 419l-0 0M295 447l1 2M320 477l1 1M342 465l-1 0M321 477l1 1M318 400l-1 1M333 473l1 0M343 470l-1 0M374 425l1 1M355 453l2 1M318 414l1 1M390 493l1 0M345 495l1 1M334 424l0 0M384 433l1 1M353 485l1 0M300 423l-0 0M396 446l-0 1M257 487l-0 0M276 420l0 0M385 425l-1 1M302 403l1 2M262 399l-1 1M345 492l1 1M350 464l-0 0M359 418l-1 1M313 427l-0 0M300 470l-1 0M336 471l-0 0M375 468l-0 2M343 467l1 0M336 406l2 0M261 476l0 1M267 444l0 0M393 498l-0 0" stroke="#2424f8" stroke-width="3.1" stroke-linecap="round" fill="none"/><path d="M385 403l-1 0M286 415l0 2M309 448l0 1M298 431l-0 0M316 448l1 1M375 450l-1 0M316 479l-0 0M332 447l1 0M260 417l-1 0M311 493l0 1M279 474l0 0M364 479l-0 0M340 458l-0 0M308 439l0 1M318 500l0 1M359 458l1 2M333 459l-1 1M341 451l-1 0M337 482l0 1M296 395l0 0M336 451l0 0M258 464l-0 0M309 499l0 0M354 462l1 0M360 422l-0 1M316 412l-0 1M331 479l-1 0M260 444l-1 0M307 454l1 1M388 398l0 0M307 444l0 0M374 400l0 1M384 482l-0 0M308 427l1 0M305 484l1 1M364 477l0 1M397 408l-0 0M277 463l-1 2" stroke="#2424f8" stroke-width="2.9" stroke-linecap="round" fill="none"/></g><rect x="255.9" y="393.0" width="146.7" height="111.0" fill="#000" filter="url(#vn11)" style="mix-blend-mode:screen"/><g filter="url(#gblur2)"><path d="M354 498 355 495 356 493M337 399 335 400 332 403 330 405 327 406 325 408M373 473 374 472 375 470 376 466 377 463 378 461M372 445 372 449 371 451" stroke="#2ff02f" stroke-width="3.4" stroke-linecap="round" stroke-linejoin="round" fill="none" stroke-opacity="0.89"/><path d="M324 428 322 429 319 432 317 434 315 437M372 447 373 445 374 441M381 501 379 503 377 504 375 507M336 438 336 435 336 433 337 429M333 440 331 442 329 444 328 446M345 496 346 492 346 489 347 487M368 397 370 395 372 391 373 388" stroke="#2ff02f" stroke-width="2.3" stroke-linecap="round" stroke-linejoin="round" fill="none" stroke-opacity="0.95"/><path d="M281 474 279 476 278 478M394 394 395 392 396 390 396 387M266 484 267 482 269 479 271 478M363 413 361 416 360 419 359 422M378 459 381 457 383 455M310 456 312 454 313 453 315 449M279 492 280 490 281 488 284 486M294 491 292 493 291 496" stroke="#2ff02f" stroke-width="2.9" stroke-linecap="round" stroke-linejoin="round" fill="none" stroke-opacity="0.84"/><path d="M316 420 315 422 314 425M382 473 381 476 379 479" stroke="#2ff02f" stroke-width="2.8" stroke-linecap="round" stroke-linejoin="round" fill="none" stroke-opacity="0.80"/><path d="M378 488 376 489 374 492 373 494M398 474 400 472 402 470 404 468 405 466 407 464M331 459 332 457 333 456 334 454 335 451M386 472 389 470 391 467 392 465M400 470 398 471 396 473 394 475M400 453 402 450 402 448M274 497 275 495 277 493M315 434 315 431 315 427 314 425 313 422 313 418M283 438 282 440 280 443 279 446 277 448 274 451" stroke="#2ff02f" stroke-width="3.2" stroke-linecap="round" stroke-linejoin="round" fill="none" stroke-opacity="0.80"/><path d="M317 447 316 450 315 452 313 455M298 395 300 393 301 391 302 388 303 386M292 462 290 463 287 464 283 464 280 464M282 412 284 410 286 409 288 405 290 403 292 400M271 421 269 422 266 423 264 423 261 425 258 426" stroke="#2ff02f" stroke-width="2.4" stroke-linecap="round" stroke-linejoin="round" fill="none" stroke-opacity="0.74"/><path d="M300 413 297 414 295 416M299 500 299 502 299 504 300 508 302 510 303 512M331 427 334 425 337 424 339 423 341 421M363 488 365 486 367 483 369 481 370 479M342 432 341 435 341 437 340 440M344 471 344 474 344 478 346 481M285 405 286 403 288 399 290 397" stroke="#2ff02f" stroke-width="3.3" stroke-linecap="round" stroke-linejoin="round" fill="none" stroke-opacity="0.74"/><path d="M400 427 401 424 402 422 404 420 405 417M372 442 374 441 377 440 380 440 383 440 385 440M385 451 386 449 388 448 391 446M399 429 397 432 395 434 393 436 390 438M293 475 291 477 287 478M286 416 287 414 288 412 290 409 291 406 292 404M389 491 391 489 393 486" stroke="#2ff02f" stroke-width="2.1" stroke-linecap="round" stroke-linejoin="round" fill="none" stroke-opacity="0.80"/><path d="M300 474 297 477 295 479 292 482 289 484 288 485M363 463 365 462 367 460M327 424 324 426 322 428 319 431 317 432 316 434M315 431 318 428 320 427 323 425 326 423 327 421M278 422 276 425 274 427 273 428 271 430 269 431M283 467 284 464 284 461 285 459 285 456 285 453M309 430 312 429 314 427M390 453 391 451 391 449M259 396 259 398 259 401 259 404 258 406" stroke="#2ff02f" stroke-width="1.9" stroke-linecap="round" stroke-linejoin="round" fill="none" stroke-opacity="0.95"/><path d="M344 464 346 460 348 458 349 455 350 452 350 449M373 422 373 426 372 429 372 433 372 436 372 439M397 424 394 426 392 428 390 431 389 435M259 477 258 480 256 483 254 484M374 416 375 413 376 409 378 408M361 408 362 406 363 403 364 400 365 397 366 395M333 494 331 495 329 498 327 500 326 502M382 491 380 494 377 496" stroke="#2ff02f" stroke-width="2.2" stroke-linecap="round" stroke-linejoin="round" fill="none" stroke-opacity="0.79"/><path d="M342 432 342 429 342 426 343 423 344 419 344 417M285 458 283 460 281 462M257 482 257 484 257 487 256 491M331 435 334 433 337 432 340 432M385 481 386 479 388 477 389 474 391 470M392 468 391 471 391 473 390 476 389 478 388 480" stroke="#2ff02f" stroke-width="3.1" stroke-linecap="round" stroke-linejoin="round" fill="none" stroke-opacity="0.95"/><path d="M367 410 366 411 364 412 360 414M334 403 333 406 332 409M288 411 291 409 294 408 297 408 300 406 303 405M321 465 319 467 317 471 316 473M385 424 385 427 384 429 383 433 383 435M365 400 366 397 367 393 368 390 369 387 371 384M353 396 350 397 347 398 344 400 342 400" stroke="#2ff02f" stroke-width="2.7" stroke-linecap="round" stroke-linejoin="round" fill="none" stroke-opacity="0.93"/><path d="M308 501 307 504 307 508 307 510 305 513M401 411 403 409 405 408M302 437 301 440 300 442" stroke="#2ff02f" stroke-width="2.5" stroke-linecap="round" stroke-linejoin="round" fill="none" stroke-opacity="0.75"/><path d="M280 489 280 487 281 485 282 483M397 447 398 444 400 442 403 440 404 436M267 499 267 496 268 493 267 489M367 442 367 444 367 447 368 450M315 480 316 478 316 475M350 407 351 405 353 401 353 398" stroke="#2ff02f" stroke-width="1.8" stroke-linecap="round" stroke-linejoin="round" fill="none" stroke-opacity="0.95"/><path d="M321 422 320 418 320 416 319 414M374 481 374 478 374 475 373 473 373 469M262 469 260 471 258 473 256 474 255 476M363 476 365 474 367 474 371 473 375 473 378 472" stroke="#2ff02f" stroke-width="3.0" stroke-linecap="round" stroke-linejoin="round" fill="none" stroke-opacity="0.73"/><path d="M358 467 355 469 354 471 352 473 351 475M357 423 355 425 352 427 349 429M287 463 285 465 282 467 279 470 278 471M342 480 344 477 346 474 348 471 348 469 348 467M397 499 395 501 392 503 389 504 386 506 383 508M313 415 311 417 308 419 305 421M299 480 297 482 294 484 292 484 290 485 286 486" stroke="#2ff02f" stroke-width="2.6" stroke-linecap="round" stroke-linejoin="round" fill="none" stroke-opacity="0.75"/><path d="M259 453 261 450 263 449M308 487 306 490 305 493 304 495 303 497M298 472 299 469 300 467 301 465 302 462M269 459 267 461 265 463 264 464M328 433 329 431 328 428 329 424 329 422" stroke="#2ff02f" stroke-width="2.0" stroke-linecap="round" stroke-linejoin="round" fill="none" stroke-opacity="0.72"/><path d="M279 477 279 475 279 472M379 449 382 446 384 445 387 444M346 449 346 451 344 454M393 483 392 485 390 488M320 418 322 416 323 414 325 411" stroke="#2ff02f" stroke-width="1.7" stroke-linecap="round" stroke-linejoin="round" fill="none" stroke-opacity="0.85"/><path d="M361 446 363 445 367 445" stroke="#2ff02f" stroke-width="1.6" stroke-linecap="round" stroke-linejoin="round" fill="none" stroke-opacity="0.78"/></g><ellipse cx="349.5" cy="405" rx="7.5" ry="12" fill="#000" filter="url(#gblur2)"/><path d="M322 406h0M379 491h0M321 426h0M358 441h0M394 401h0M321 469h0M327 396h0M299 478h0M398 467h0M398 425h0M394 492h0M263 484h0M342 447h0M267 453h0M355 493h0M286 470h0M324 470h0M386 440h0M315 459h0M276 502h0M309 479h0M341 413h0M298 461h0M373 495h0M396 436h0M266 486h0M293 485h0M292 417h0M357 421h0M265 474h0" stroke="#f03a7a" stroke-width="2.0" stroke-linecap="round" stroke-opacity="0.85"/></g>
<g clip-path="url(#cp20)" style="isolation:isolate"><rect x="403.9" y="281.0" width="147.1" height="110.7" fill="#000" filter="url(#nu2)"/><rect x="403.9" y="281.0" width="147.1" height="110.7" fill="#000" filter="url(#vn20)" style="mix-blend-mode:screen"/><g filter="url(#gblur)"><path d="M469 364 468 363 467 362M469 388 469 386 469 385 470 383M424 371 425 372M451 377 451 377 452 377M434 283 434 284 436 284M417 372 418 373 418 374M511 343 512 344M513 320 512 320 511 321M512 350 511 350 510 350 509 349M530 383 530 382 529 381M451 352 453 351 453 349M516 349 517 351 517 352M505 383 505 381 503 380 502 380M467 361 467 360 467 359M409 332 409 331 409 329 408 328M533 383 531 383 530 384M425 285 424 284" stroke="#2ff02f" stroke-width="1.1" stroke-linecap="round" stroke-linejoin="round" fill="none" stroke-opacity="0.63"/><path d="M409 293 410 292 411 291M451 296 451 297 451 298M427 380 426 380 424 379M460 317 461 316M416 285 416 284 416 283 416 281M449 385 449 384 449 383 449 382M433 323 432 324 431 325 430 326M437 364 436 363 436 362 435 361M437 351 435 350 434 350M454 340 456 340 457 341M431 304 432 305 431 306M470 334 469 336M521 307 522 306M494 282 493 283M414 302 415 303 415 304 417 305M512 365 512 366 511 367M514 339 515 339 516 340M487 312 488 311M448 324 449 324 451 324M511 355 512 354 514 353M429 306 431 306 432 306 433 307M479 385 479 386 480 387M515 335 516 334 515 332 516 331M414 317 413 317M466 309 467 308M473 321 472 320 472 318 471 318M446 344 445 345M420 385 419 384M492 297 492 298M470 289 471 288 472 287M540 341 539 341M460 368 461 368" stroke="#2ff02f" stroke-width="0.9" stroke-linecap="round" stroke-linejoin="round" fill="none" stroke-opacity="0.72"/><path d="M443 389 442 390 441 389 439 390M426 389 425 390 424 390M430 379 429 380 428 380M411 357 410 359 410 360 411 361M447 340 448 341 449 341M451 330 449 331M501 378 499 377 499 376 498 375M429 321 430 321 431 322 433 322M437 325 437 327 437 328M543 342 544 342M503 285 503 286 503 287 503 288M409 348 410 349 410 349M524 348 523 347M423 293 423 294M415 286 417 286 418 286 419 286M408 366 409 365M446 291 445 290 445 289M498 351 497 351 496 350 494 351M443 374 444 373M467 333 468 333M435 319 436 320 437 321 438 321M518 286 519 285 519 283M433 305 434 304 435 304 437 304M476 367 475 365M483 382 484 383M544 316 545 317 546 317 547 318M532 356 531 356 530 355M529 317 530 318M458 355 458 355 458 357 457 358M406 355 404 356M408 328 407 328 407 329M508 388 507 388 506 387 505 386M484 324 486 324 487 323 489 323M510 340 511 340M411 370 411 369 411 368M441 296 440 296 438 297" stroke="#2ff02f" stroke-width="1.2" stroke-linecap="round" stroke-linejoin="round" fill="none" stroke-opacity="0.74"/><path d="M540 292 540 293 541 294M428 320 428 322M470 290 469 291M536 368 537 367 537 366M475 332 475 331M426 355 426 356 426 358 426 359M522 373 520 374M431 382 430 383M458 308 459 307 460 306 460 305M453 334 453 333M428 321 427 319M426 321 426 320M537 379 537 380 537 381M483 285 483 287M439 386 440 388 441 389 442 390M463 353 463 354 463 355M449 329 449 328M429 322 430 322 431 323 432 324M472 385 472 386M451 350 450 351 449 352M522 361 524 361 525 362 526 362" stroke="#2ff02f" stroke-width="1.3" stroke-linecap="round" stroke-linejoin="round" fill="none" stroke-opacity="0.61"/><path d="M426 385 426 384 427 383 428 381M447 285 447 284 447 283 447 282M545 349 545 348M428 339 428 340 428 341M514 382 514 383M479 334 478 335M431 328 433 328 434 328M540 366 539 365M450 368 449 369 448 369M467 335 468 334 468 333 468 332M522 363 521 365 522 366 523 367M502 359 502 360M520 335 519 335M519 357 518 356 517 356M445 333 445 333M497 362 496 363M470 317 469 316M550 385 549 385M467 295 465 294 464 294 463 294M453 349 452 350" stroke="#2ff02f" stroke-width="1.0" stroke-linecap="round" stroke-linejoin="round" fill="none" stroke-opacity="0.72"/><path d="M495 374 495 375M440 353 440 352 439 351 439 349M463 293 462 294 462 296 462 297M546 342 545 342 544 342 543 341M468 333 467 334M450 370 448 370 447 371M444 303 445 305 445 306M511 304 510 303" stroke="#2ff02f" stroke-width="0.8" stroke-linecap="round" stroke-linejoin="round" fill="none" stroke-opacity="0.56"/><path d="M515 363 516 362M487 353 488 354 489 355M427 301 426 301M529 318 527 318 526 317M439 365 441 363M448 373 447 373 446 373" stroke="#2ff02f" stroke-width="1.4" stroke-linecap="round" stroke-linejoin="round" fill="none" stroke-opacity="0.62"/><path d="M529 297 530 295 532 293M531 363 532 361 533 360M512 383 510 385 508 386M466 361 467 359 468 357 469 355 469 353M512 319 510 320 509 322 510 325M524 364 522 364 519 364M531 374 533 373 534 372 535 369M452 376 449 376 447 376 445 375M497 339 495 338 494 337M439 308 442 307 443 307 445 306 447 305M520 341 520 338 519 337M500 354 500 352 500 351M439 333 439 335 440 336 441 338M476 376 478 377 480 379 481 381M496 304 494 302 493 301M459 340 457 340 456 341 455 342 454 345" stroke="#2ff02f" stroke-width="1.5" stroke-linecap="round" stroke-linejoin="round" fill="none" stroke-opacity="0.91"/><path d="M530 295 531 297 533 299M532 361 534 361M510 385 510 386 509 388 508 391M510 320 509 321M442 307 442 305M500 352 502 352 504 352M440 336 439 337 438 340 437 342M455 342 452 344 450 344 447 345" stroke="#2ff02f" stroke-width="1.0" stroke-linecap="round" stroke-linejoin="round" fill="none" stroke-opacity="0.90"/><path d="M530 295h1M532 361h1M510 385h1M509 322h1M522 364h1M520 338h1" stroke="#2ff02f" stroke-width="2.5" stroke-linecap="round" stroke-linejoin="round" fill="none" stroke-opacity="0.90"/><path d="M509 299 510 302 510 303 509 305M532 378 531 377 531 374 532 372 533 370M475 377 476 376 477 375M496 308 496 306 496 304 497 302M550 350 549 353 549 355 550 357 551 360" stroke="#2ff02f" stroke-width="2.0" stroke-linecap="round" stroke-linejoin="round" fill="none" stroke-opacity="0.87"/><path d="M453 338 C455 345 460 352 464 362 C466 370 462 376 460 384" fill="none" stroke="#2ff02f" stroke-width="3.2" stroke-linecap="round" stroke-opacity="0.9"/><path d="M459 372 C466 368 474 369 478 378 C480 383 476 387 470 386" fill="none" stroke="#2ff02f" stroke-width="3.6" stroke-linecap="round" stroke-opacity="0.9"/><path d="M476 363 C482 364 488 366 494 369" fill="none" stroke="#2ff02f" stroke-width="2.6" stroke-linecap="round" stroke-opacity="0.9"/><path d="M529 342 C532 352 536 362 538 372 C539 377 541 381 540 386" fill="none" stroke="#2ff02f" stroke-width="3.0" stroke-linecap="round" stroke-opacity="0.9"/><path d="M430 376 C436 372 442 374 448 378" fill="none" stroke="#2ff02f" stroke-width="2.4" stroke-linecap="round" stroke-opacity="0.9"/><path d="M500 350 C505 356 508 362 506 370" fill="none" stroke="#2ff02f" stroke-width="2.2" stroke-linecap="round" stroke-opacity="0.9"/><path d="M414 360 C420 365 424 372 423 380" fill="none" stroke="#2ff02f" stroke-width="2.0" stroke-linecap="round" stroke-opacity="0.9"/><path d="M488 378 C492 384 498 386 504 388" fill="none" stroke="#2ff02f" stroke-width="2.4" stroke-linecap="round" stroke-opacity="0.9"/><circle cx="437.5" cy="338.7" r="3.6" fill="none" stroke="#2ff02f" stroke-width="1.6"/><circle cx="506.4" cy="336.8" r="3.6" fill="none" stroke="#2ff02f" stroke-width="1.6"/><circle cx="455" cy="337.8" r="3.6" fill="none" stroke="#2ff02f" stroke-width="1.6"/></g></g>
<g clip-path="url(#cp21)" style="isolation:isolate"><g filter="url(#nblur)"><path d="M437 432l-1 1M419 446l-0 0M460 448l1 0M481 421l0 0M436 448l-1 0M483 495l0 0M449 497l1 1M548 421l-1 0M499 427l-1 0M405 442l-1 0M426 423l0 0M505 442l1 1M546 436l0 0M444 473l-0 0M540 418l1 1M494 503l-0 0M520 467l-0 0M535 492l1 1M447 446l0 1M552 478l-1 1M502 419l-1 0M527 423l2 0M421 477l-0 1M460 452l-0 2M491 407l-1 0M504 452l-1 1M421 393l0 1M542 411l-0 1M529 434l1 1M435 421l2 0M468 499l-0 0M512 468l0 1M531 480l1 0M512 434l0 1M474 464l1 0M432 502l0 1M488 470l1 0M424 444l-0 0M520 457l1 1M409 397l-0 2M440 457l-1 0M533 410l0 0M481 402l-1 0M489 444l0 2M491 443l0 0M404 420l1 1M547 441l-0 0M454 435l1 1M524 454l0 0M503 430l-1 0M500 463l1 1M540 474l-1 0M507 409l-0 0M425 440l-1 1M489 419l-0 0M457 448l0 0M467 479l1 0M442 446l0 1M420 455l0 1M473 430l0 0M425 471l-0 0M537 481l0 1M464 396l-0 0M468 394l0 2M462 486l0 0M438 459l1 0M438 454l-1 1M536 499l-0 0M447 447l1 0M516 395l1 2M534 490l0 1M465 501l-0 1M530 419l0 1M500 473l-1 1M540 481l-0 1" stroke="#1616e0" stroke-width="3.0" stroke-linecap="round" fill="none"/><path d="M469 400l-1 1M534 500l0 0M486 497l1 1M453 485l0 2M539 416l-2 1M425 501l0 1M490 493l0 1M424 469l-1 1M465 395l0 0M538 398l1 1M488 425l1 1M450 474l1 0M429 504l-1 0M457 439l1 0M548 406l-0 0M415 448l1 0M437 393l-0 0M541 480l1 1M433 441l1 1M509 397l1 0M512 486l-1 0M448 414l-1 0M451 452l1 1M533 493l0 1M413 445l-0 1M413 448l1 1M458 467l-1 1M410 460l0 0M491 404l-1 1M485 416l0 1M453 410l-1 1M405 394l-1 0M454 481l-0 1M507 484l-1 0M494 463l-1 0M472 413l2 0M476 431l-1 1M520 460l-0 2M526 432l0 0M451 435l-0 0M422 501l0 1M552 476l-1 0M471 489l-1 1M442 401l-1 0M478 452l-1 1M451 413l1 1M530 465l0 1M484 464l1 0M422 458l-1 1M503 398l-2 0M518 415l0 1M425 453l-0 1M450 410l-0 2M520 454l-0 1M488 494l-1 1M527 417l-1 0M502 489l1 1M480 441l-0 0M460 397l1 0M500 407l0 1M435 502l-1 1M469 490l1 0M419 393l0 0" stroke="#1616e0" stroke-width="2.6" stroke-linecap="round" fill="none"/><path d="M445 501l-1 0M481 462l-1 0M484 430l1 0M408 471l1 1M473 412l-0 0M548 413l0 0M477 490l0 0M483 473l0 0M513 411l-1 0M527 436l-1 1M436 396l-0 0M530 457l1 1M489 448l1 1M405 420l0 1M410 461l2 0M459 397l-1 1M549 432l0 0M439 408l0 1M440 488l-1 0M544 426l0 0M477 465l0 2M448 408l-1 0M424 482l1 1M482 394l0 1M414 458l1 1M523 441l-0 1M535 401l-1 0M503 406l1 2M511 499l-0 0M485 495l1 1M479 457l-1 0M431 478l-0 1M452 430l-0 0M445 425l1 0M418 402l-1 0M433 498l0 0M462 428l1 0M409 437l-0 0M419 471l-1 0M480 485l0 0M529 463l-0 0M458 398l1 0M449 490l1 1M455 410l-1 1M542 425l1 1M535 483l-0 0M430 489l-1 1M440 398l1 1M410 446l-1 0M415 477l-0 2M442 495l1 1M418 417l1 0M531 476l-0 1M492 425l2 0M519 502l-0 1M462 411l-1 1M410 473l0 0M466 500l-2 0M447 490l-0 0M468 394l0 0M529 465l-2 0M537 446l0 0M424 503l-1 0M425 432l-0 0M491 416l2 0M551 494l-0 1M431 486l-1 1M419 392l-0 1M534 454l1 0M514 487l1 1M473 433l1 1M546 394l0 1M440 462l-2 0M451 435l-0 2M548 471l1 1" stroke="#1616e0" stroke-width="2.9" stroke-linecap="round" fill="none"/><path d="M418 472l-1 0M516 426l0 2M523 496l-0 1M457 496l1 1M542 462l0 1M548 395l-0 2M430 421l1 0M482 452l1 0M465 415l-1 1M528 475l-1 1M547 446l-1 1M533 460l-0 0M519 449l-1 0M487 456l-0 1M407 475l-1 1M516 498l-0 1M439 451l0 0M413 408l-2 0M453 416l0 1M524 467l-1 1M546 468l-0 0M517 486l-0 1M467 437l0 0M468 436l-1 1M534 496l-1 0M486 458l-1 0M508 402l0 0M542 493l-0 0M458 396l-2 0M411 417l1 1M515 423l-0 1M507 483l0 0M411 455l-0 0M441 433l0 2M539 421l-0 1M481 416l1 0M547 489l-1 1M532 470l0 0M521 486l1 1M517 396l1 0M548 504l-1 1M523 477l-1 1M435 452l2 0M481 462l-2 0M420 403l0 1M492 408l-0 1M543 394l2 0M519 464l1 0M485 500l-0 1M482 402l-1 1M432 473l-0 0M435 456l-1 0M427 442l-0 1M466 429l0 1M552 422l-1 0M550 498l-0 0M451 487l-1 0M545 502l0 0M439 454l1 0M426 399l-0 1M451 402l-0 1" stroke="#1616e0" stroke-width="2.8" stroke-linecap="round" fill="none"/><path d="M472 477l1 0M446 461l1 1M542 497l0 0M437 404l2 0M534 460l-0 2M511 392l0 0M422 419l-1 1M459 412l1 0M520 418l0 0M518 498l0 0M427 463l-0 0M436 446l1 1M543 495l-1 1M434 454l1 0M470 497l-1 1M513 408l1 1M470 480l-0 0M409 478l0 0M487 416l-1 0M530 430l1 1M512 420l-0 0M420 496l-0 0M520 482l-1 1M479 500l-1 1M445 411l2 0M530 427l0 1M446 413l-0 0M498 437l0 0M519 434l0 0M538 472l1 1M454 502l1 1M421 470l-0 1M411 474l1 1M468 429l0 2" stroke="#1616e0" stroke-width="3.5" stroke-linecap="round" fill="none"/><path d="M480 451l0 0M480 415l0 1M499 493l1 0M465 440l1 0M503 461l1 1M449 413l-0 0M500 468l0 0M462 477l-0 0M479 464l-2 0M487 443l-0 0M536 435l-1 1M541 479l-1 1M489 473l-1 0M434 409l-2 0M486 489l-0 0M433 422l-0 1M456 489l-1 1M552 462l-2 0M525 487l0 0M490 453l0 1M445 431l-0 0M485 464l-1 0M515 469l-1 1M506 419l-1 1M411 501l-0 1M453 409l1 0M488 420l1 2M516 412l-1 0M417 410l1 1M551 407l0 0M495 494l0 1M540 449l1 0M551 432l-0 1M407 417l0 0M522 421l1 0M504 462l0 0M523 394l-1 1M520 443l1 1M518 436l0 0M494 485l-1 1M520 435l-1 1M495 428l0 0M448 473l-0 1M539 496l-1 1M497 439l-1 1M406 451l0 1M478 501l-1 1M452 477l0 1M465 420l1 0M534 426l2 0M546 435l-0 0M466 463l-1 0M514 455l0 1M537 438l-1 0M423 457l-1 1M510 501l0 0M539 429l0 0M520 427l0 0M458 455l-0 0M449 441l-1 0M507 480l1 1M540 406l-1 0M531 448l-1 1M490 420l0 0M509 418l-1 1M491 459l1 0M491 428l1 1M529 492l0 1M407 492l1 1M513 462l-2 0M412 487l-0 1M450 430l-1 1M418 486l1 1M443 468l-0 0M425 458l-0 0" stroke="#1616e0" stroke-width="3.2" stroke-linecap="round" fill="none"/><path d="M485 492l0 1M407 426l0 1M525 400l-0 1M530 394l-1 1M406 465l0 0M469 476l-0 1M466 453l-0 1M480 466l-1 1M498 489l0 1M457 422l1 1M533 467l-1 1M492 487l-1 1M514 461l0 0M445 455l-0 0M473 477l-1 1M426 435l-0 0M409 438l1 0M410 473l0 1M454 490l-1 0M550 498l1 0M548 468l2 0M471 449l0 0M505 411l0 0M531 395l-1 1M437 452l0 0M414 399l0 0M443 413l1 1M414 484l1 0M472 425l0 0M491 498l-1 0M456 431l-0 0M475 418l-0 0M483 505l-0 0M512 410l-1 1M490 425l-0 0M489 449l-1 1M541 441l1 1M508 401l0 0M420 432l-0 0M542 452l0 2M467 428l-0 1M537 405l1 0M506 420l1 1M447 494l0 0M512 473l2 0M418 504l0 0M509 392l-0 0M493 461l-0 0M501 404l-1 0M544 499l-1 1M501 416l1 1M476 480l1 0M422 491l-2 1M450 497l1 1M528 479l0 1M414 400l0 0M410 443l-0 0M534 460l0 0M425 486l-0 0M529 395l-1 0M419 413l0 1M523 417l-2 0M524 395l-1 1M468 413l-1 0M491 467l0 0M468 461l-1 0" stroke="#1616e0" stroke-width="2.7" stroke-linecap="round" fill="none"/><path d="M437 423l-0 2M466 428l-1 0M517 445l2 0M506 489l1 0M518 434l-0 1M502 473l-1 1M441 449l1 1M426 462l0 0M539 423l-0 1M527 455l-0 0M450 432l-0 0M492 489l0 1M547 503l-0 0M429 426l-0 0M522 460l-1 1M436 468l0 0M492 466l-0 0M451 442l1 1M507 468l0 1M444 497l-0 0M469 464l0 1M541 433l-0 0M467 467l-0 2M422 456l-0 0M454 501l1 1M424 471l0 0M479 440l-1 1M509 429l-1 1M490 456l-0 1M404 477l-0 2M495 496l-2 0M405 412l-0 0M451 436l-1 0M511 460l1 0M506 485l0 0M405 473l-0 0M524 432l1 0M462 430l1 1M439 471l-0 0M414 504l1 1M448 500l-2 0M461 457l1 0M512 421l0 1M522 406l0 1M436 451l1 1M506 498l1 1M519 451l-0 1M512 419l1 1M428 499l1 0M543 429l-0 1M426 402l1 1M455 451l-1 0M429 457l1 1M434 432l0 0M550 393l2 0M437 437l0 0M438 433l-0 0M521 477l-2 0M493 456l1 0M504 486l0 1M457 463l-0 0M526 473l1 0M483 474l-0 1M470 446l-2 1M546 396l0 0M476 422l-1 2M424 395l1 1M545 466l0 0M448 397l1 1M430 426l-0 0M551 421l-1 0M444 396l0 0M522 421l0 1M458 425l-0 0M428 458l-0 0M473 425l1 2M546 495l1 0" stroke="#1616e0" stroke-width="3.4" stroke-linecap="round" fill="none"/><path d="M405 487l-2 0M425 448l-0 0M415 475l-1 1M473 404l-1 1M415 500l-1 0M427 430l0 2M539 437l1 1M544 453l-1 1M515 403l-0 0M542 489l-0 0M419 454l-1 1M551 399l-1 0M403 501l0 0M503 425l1 0M450 488l0 2M452 470l0 2M473 473l-1 0M511 447l1 1M516 423l-0 0M450 450l0 0M462 424l-1 1M483 447l1 1M531 456l1 1M546 431l0 0M451 485l1 1M543 462l1 1M458 490l-0 0M520 440l1 1M535 476l-1 0M412 396l0 1M410 483l1 0M416 469l1 1M519 394l0 1M440 408l-0 0M498 429l-0 1M491 452l-1 1M512 482l-0 0M548 405l1 1M513 442l0 0M410 409l1 1M548 467l-2 0M454 449l1 1M527 486l1 1M481 395l-0 1M527 399l-1 1M444 412l-1 1M473 478l0 0M459 449l2 1M545 493l-1 1M533 489l-0 1M481 492l1 1M490 432l1 2M485 395l0 0M530 465l-0 1M456 404l0 0M441 492l0 0M405 416l0 1M541 490l-0 0M531 479l0 0M467 449l-2 1M533 492l1 0M469 431l0 1M527 417l-0 0M547 454l1 1M430 494l-1 1M535 431l-1 0M470 408l-0 0M462 499l-1 0M520 474l-0 0M466 398l2 0M504 503l-1 1M510 492l0 0M517 460l0 2M435 497l1 1M508 490l-0 1" stroke="#1616e0" stroke-width="3.1" stroke-linecap="round" fill="none"/><path d="M416 488l0 1M417 461l1 0M486 470l-1 0M498 469l-0 1M455 492l0 1M549 482l1 1M512 441l-0 2M477 402l0 0M404 412l1 1M516 466l0 0M440 429l1 1M483 433l-1 0M518 412l1 1M502 469l0 0M518 422l1 0M467 500l1 1M449 411l-1 1M418 397l0 0M442 479l-0 0M513 467l2 0M436 432l1 0M488 395l0 0M403 399l-0 2M509 430l-1 1M466 393l1 0M505 489l-1 1M468 481l1 0M428 457l0 0M444 403l0 0M433 481l-1 1M543 474l-1 1M512 423l0 0M512 473l-1 0M417 469l-0 0M419 426l-1 1M435 439l-1 1M536 449l-1 1M547 401l1 1M419 451l-0 1M414 413l-0 1M420 460l-1 0M451 393l1 1M506 414l-1 0M509 483l-0 0M522 449l1 0M495 468l1 0M407 450l-1 1M539 483l-0 1M509 437l-1 0M539 420l-0 1M408 489l-0 0M416 436l1 1M435 413l0 1M476 494l-0 1M440 438l1 1M541 423l0 0M404 501l0 1M545 414l1 1M407 463l-0 1M465 483l0 1" stroke="#1616e0" stroke-width="3.3" stroke-linecap="round" fill="none"/><path d="M541 394l-0 1M501 418l-0 0M425 493l1 0M530 393l0 0M403 425l1 0M469 399l0 0M500 433l-0 0M421 404l-0 0M410 406l-0 0M461 418l-0 1M499 461l-1 0M442 480l-0 2M407 398l-1 1M514 468l-1 1M437 424l0 0M540 412l-2 0M502 445l0 1M552 471l1 0M487 498l-0 1M506 474l1 1M421 441l-1 1M473 421l-0 0M517 478l-0 1M526 442l0 1M416 421l1 0M483 444l1 1M434 489l-0 1M541 393l-0 0M420 477l-0 0M479 485l1 0M534 489l-1 1M421 493l-0 1M525 397l-1 1M428 448l0 0M498 433l0 1M545 466l-1 1M466 478l0 0M489 454l1 1M469 404l0 1" stroke="#1616e0" stroke-width="2.5" stroke-linecap="round" fill="none"/><path d="M462 464l1 1M538 413l0 1M416 458l0 0M497 476l-1 0M546 406l0 1M480 489l-0 0M435 430l-1 0M545 497l1 1M485 396l-0 0M547 435l-1 1M473 446l1 0M440 445l1 0M456 486l1 1M458 450l-1 1M434 402l0 0M438 422l2 1M524 464l-1 1M446 450l-0 0M435 448l0 1M497 496l-1 1M515 437l-0 0M545 410l0 1M415 403l1 0M475 455l1 0M443 463l-1 1M466 419l0 0M421 439l0 1M527 422l-1 1M549 403l1 1M530 503l0 0M492 487l1 1M465 453l-0 0M450 393l0 0M484 454l-2 1M480 468l0 2M481 470l0 0M538 432l1 1M442 488l1 1M532 450l1 0M508 476l1 0M466 484l1 1M526 470l-1 0" stroke="#0e0eb8" stroke-width="3.4" stroke-linecap="round" fill="none"/><path d="M457 488l1 1M499 398l1 1M409 442l-1 0M433 473l1 0M415 430l-0 0M440 428l0 1M407 440l-1 1M503 441l0 0M414 479l0 1M550 499l0 0M472 483l-0 1M459 455l0 0M403 475l1 1M409 462l1 1M508 454l1 1M443 487l-1 0M480 426l0 1M475 407l0 1M413 436l0 0M519 495l-0 0M447 502l1 1M405 414l-0 0M463 486l-1 0M414 462l-0 0M531 409l-1 1M545 483l-0 1M432 439l1 0M453 477l0 0M431 462l1 1M425 397l-0 0M511 471l0 0M540 393l1 0" stroke="#0e0eb8" stroke-width="2.7" stroke-linecap="round" fill="none"/><path d="M487 448l-0 0M536 428l-0 0M469 433l-1 1M453 432l-1 1M422 470l0 1M410 450l1 1M509 467l-0 0M493 455l-0 1M514 407l-1 1M518 435l1 1M500 414l1 0M441 452l-0 0M449 393l1 1M521 502l-1 0M416 429l1 1M515 431l-1 0M456 477l0 1M532 502l0 0M462 420l0 0M490 440l-2 0M484 470l1 1M476 484l1 1M516 434l1 2M445 406l-0 0M433 417l1 1M508 481l-1 0M491 452l1 1M507 408l1 0M545 444l-0 1M419 433l1 0M429 420l0 1M458 475l-0 0M403 462l0 1" stroke="#0e0eb8" stroke-width="3.1" stroke-linecap="round" fill="none"/><path d="M422 483l1 2M477 432l-1 1M447 410l-0 0M406 450l-1 1M441 462l1 0M505 400l-0 0M472 404l1 1M536 412l-1 0M499 412l0 0M444 471l1 1M407 458l-1 1M510 439l0 0M506 440l1 1M414 496l-0 1M438 401l-0 1M414 458l0 0M447 494l-1 0M469 418l-0 0M539 466l0 0M441 433l-1 2M524 451l-0 0M468 405l-0 0M550 465l-0 1M522 472l-1 0M507 439l1 1M513 441l-0 0M496 467l-0 0M454 434l0 0M499 470l1 1M506 396l-1 1M550 472l1 0M446 420l0 0M502 420l0 0M410 485l1 0M519 472l-0 0M471 489l-1 0" stroke="#0e0eb8" stroke-width="2.6" stroke-linecap="round" fill="none"/><path d="M441 427l0 0M466 464l2 0M518 457l1 1M404 455l-0 0M488 433l-0 2M491 442l0 0M513 477l-1 1M456 409l-1 0M424 427l-1 1M533 474l-0 0M538 406l-1 0M508 498l-0 0M479 410l0 1M414 409l1 0M437 436l1 1M486 499l-0 1M517 415l0 2M534 411l-0 2M551 399l-0 1M434 457l-0 1M519 448l-1 0M461 489l1 1M453 421l-1 1M425 495l0 0M514 447l-1 1M500 394l1 1M445 444l0 0M491 428l0 1M471 412l0 1M412 408l-0 1M450 434l0 1M453 400l0 1M429 481l1 1M455 450l1 1M497 498l-1 1M411 489l2 0M491 412l0 0M517 412l0 0M488 416l0 0M547 449l0 0M451 433l-2 1" stroke="#0e0eb8" stroke-width="3.3" stroke-linecap="round" fill="none"/><path d="M405 427l-0 0M476 428l0 0M512 408l0 0M530 392l-1 0M533 490l1 1M480 443l-0 0M474 429l1 1M528 469l1 0M429 464l-0 0M437 473l0 0M477 499l0 1M490 446l-0 0M454 479l-1 1M528 490l0 0M533 460l-0 1M473 450l0 1" stroke="#0e0eb8" stroke-width="3.5" stroke-linecap="round" fill="none"/><path d="M468 500l0 1M450 428l0 0M434 411l0 1M528 411l-0 0M508 459l-1 1M431 435l-0 0M419 409l1 1M454 419l-1 1M463 433l-0 0M481 489l1 1M457 496l-0 0M551 439l-1 1M510 496l1 1M535 436l-0 0M444 396l-0 0M479 409l-1 0M422 500l0 1M493 474l-0 0M455 464l-1 0M552 420l0 0M409 420l-1 1M512 397l-1 0M528 499l1 0M464 441l-0 1M524 438l-0 1M464 396l-1 0M497 447l1 1M410 419l0 1M431 440l-0 1M452 422l1 0M414 444l-0 0M469 492l0 0M444 465l-0 1M496 493l-1 1M405 416l0 0M532 404l0 0M550 500l1 1M539 436l-1 1M497 488l-0 1M508 471l-1 0M502 446l-0 0M426 502l1 1M425 405l0 1M482 483l-1 1" stroke="#0e0eb8" stroke-width="3.2" stroke-linecap="round" fill="none"/><path d="M447 436l2 1M526 444l1 0M485 460l0 0M490 433l-1 1M446 469l-1 1M424 393l0 0M532 396l-0 0M506 493l1 1M524 445l-0 0M424 457l1 0M526 395l-1 0M448 484l-1 1M498 420l1 1M503 500l0 0M425 468l-1 1M463 393l-1 0M468 464l0 0M489 466l0 0M433 420l-1 2M459 453l-0 0M531 429l-1 0M451 472l0 1M407 399l0 0M421 433l-0 0M551 476l-1 0M453 484l-0 1M517 410l-0 1M468 467l-0 2M536 496l0 0M498 476l-0 1M432 463l0 1M522 481l-0 1M508 466l1 0M491 492l-0 1M511 479l1 1M502 406l-0 0" stroke="#0e0eb8" stroke-width="3.0" stroke-linecap="round" fill="none"/><path d="M535 444l-1 1M541 492l1 1M531 498l2 0M448 471l-1 0M409 445l0 0M526 450l-1 0M460 496l-0 0M432 403l-0 1M406 485l0 0M495 474l0 2M490 452l0 0M450 480l-0 1M507 408l0 1M426 414l1 0M488 473l-0 0M525 397l0 0M466 482l1 1M535 404l-0 0M468 433l-1 1M409 435l0 0M528 498l-0 0M488 397l0 0M506 402l0 1M412 478l-0 0M547 493l-0 1M439 461l-1 0M413 414l-0 0M544 487l0 0M408 412l1 0M458 423l-1 1M463 468l-2 0M428 470l0 0M404 397l1 0M445 397l1 1M469 497l-0 0M479 460l-1 1" stroke="#0e0eb8" stroke-width="2.9" stroke-linecap="round" fill="none"/><path d="M511 400l0 1M458 464l1 1M446 408l-0 2M541 399l-1 0M412 409l1 1M451 429l0 1M441 397l1 2M460 426l-0 0M530 482l1 1M432 460l0 0M409 444l0 0M514 479l0 0M541 464l1 0M483 434l-1 0M414 472l0 0M489 410l1 0M534 478l0 0M405 471l-1 0M509 393l-0 0M472 485l-0 1M513 491l-0 0M541 500l-0 1M466 464l1 1M551 408l2 0M517 460l1 2M518 418l1 0M443 414l1 1M548 395l-2 0M483 454l-0 1M435 472l1 0M528 488l-0 1M412 460l1 1M538 480l-2 1M447 498l1 0M458 466l1 0M456 503l-1 0M426 441l-1 0M507 408l-1 1M454 415l-1 1M535 415l1 1M486 395l1 0" stroke="#0e0eb8" stroke-width="2.8" stroke-linecap="round" fill="none"/><path d="M477 464l0 1M504 462l0 0M466 432l1 0M518 498l-0 0M523 445l0 1M447 465l1 1M423 493l1 0M495 443l-1 1M419 456l-0 1M538 487l0 0M410 425l1 1M463 480l1 1M435 494l-0 1M429 393l-0 1M498 477l1 1M445 476l-0 1M413 416l-1 1M506 418l-1 1M478 424l-0 2M455 423l-0 0M461 456l0 0M462 447l1 1M536 436l-0 1" stroke="#0e0eb8" stroke-width="2.5" stroke-linecap="round" fill="none"/><path d="M460 453l-1 0M446 498l0 0M461 448l0 0M535 417l-1 0M532 423l-1 1M529 470l1 1M533 417l1 1M465 498l1 0M420 413l0 1M466 451l-1 1M434 486l-1 0M501 429l-1 0M536 450l-1 0M539 491l0 0M427 440l-0 0M484 476l1 2M407 409l0 0M539 412l0 0M530 424l0 0M452 474l1 0M494 477l0 0M506 463l0 1M484 479l1 2M453 392l0 0M492 491l0 0M484 413l1 1M497 477l-1 0M459 484l2 0M419 478l2 0M502 421l1 0M544 460l-0 0M419 418l0 1M468 477l-0 1M415 449l-0 1M484 498l1 1M498 472l0 1M496 392l0 2M494 410l1 0M501 472l0 0M538 439l-1 0M464 404l0 0" stroke="#2424f8" stroke-width="2.7" stroke-linecap="round" fill="none"/><path d="M521 445l-1 0M404 444l-1 1M477 413l-1 1M502 411l-1 2M533 489l1 1M470 453l1 1M520 504l-0 0M459 395l-1 1M528 480l-1 1M484 468l1 0M451 395l1 1M524 438l1 1M529 459l-1 0M527 413l-1 0M547 429l0 0M526 457l1 2M482 407l-1 1M479 504l0 1M527 458l0 0M404 489l1 1M451 453l-1 1M477 475l-1 1M500 503l1 0M464 500l-1 0M508 439l1 1M534 430l1 0M443 445l1 0M424 428l-0 0M483 405l1 0M439 413l0 0M462 431l-0 1M519 448l-1 0M407 503l-1 1M432 502l-0 0M541 448l-0 0M518 423l1 1M519 424l0 0M442 414l0 1M412 438l0 0M419 448l-1 1M408 463l-0 1M443 491l-1 1M463 475l-1 0M423 495l-0 1M461 412l-0 0M510 393l-2 0M541 480l0 0M499 427l0 1M444 466l-0 0M457 496l-1 0" stroke="#2424f8" stroke-width="3.3" stroke-linecap="round" fill="none"/><path d="M450 487l-0 0M434 472l1 1M514 445l-1 0M548 479l-1 1M479 398l1 1M434 462l1 0M420 399l0 0M472 449l0 0M450 489l2 0M514 397l-1 0M522 467l1 1M510 500l0 1M503 393l0 1M459 479l-1 1M518 403l-0 0M434 452l-0 0M513 476l-1 1M425 451l-0 0M534 497l-1 1M408 444l-0 1M407 421l0 0M462 396l-0 0M410 438l-0 0M409 444l-1 0M463 466l0 0M550 424l0 1M414 486l-1 0M441 469l0 0M542 429l-1 0M420 505l1 1M475 450l0 0M514 424l0 0M530 446l-1 0M487 481l-1 0M458 470l-1 0M406 442l0 0M447 406l-0 0M486 465l0 0M473 467l-1 1" stroke="#2424f8" stroke-width="3.0" stroke-linecap="round" fill="none"/><path d="M424 440l0 0M463 411l-0 1M533 428l2 0M457 438l0 0M495 458l2 0M544 425l1 1M455 437l0 1M514 434l-0 0M506 455l-1 0M469 456l2 0M529 476l-1 1M437 498l0 1M520 501l-2 0M498 403l-0 0M545 410l1 1M445 498l0 0M425 444l1 1M487 403l-0 1M445 421l1 1M517 489l1 1M470 461l0 2M432 448l-0 0M411 458l0 0M505 494l-0 1M504 402l1 0M433 492l-0 0M539 474l1 1M424 438l-0 0M480 454l0 1M480 424l-1 1M486 482l-1 1M525 494l-1 0M418 488l-1 1M494 417l0 1M462 396l-1 1M490 452l-0 2M464 430l0 1M514 412l-0 0M454 452l0 0M475 395l-0 2M441 436l-1 1M459 477l-0 0M493 422l0 1M552 495l-1 1M487 437l-0 1" stroke="#2424f8" stroke-width="2.6" stroke-linecap="round" fill="none"/><path d="M480 476l2 1M443 458l0 1M528 422l-0 1M500 399l-1 1M449 413l-1 1M407 420l-1 0M461 472l-1 0M470 500l0 1M482 445l0 1M436 448l-1 1M415 473l0 1M434 392l-1 0M496 491l-1 0M497 401l-0 1M499 392l-0 1M509 445l1 1M426 476l-1 1M521 408l2 0M417 455l1 1M542 497l1 2M474 457l-0 0M450 457l-0 1M415 490l-0 1M548 418l-1 1M522 469l-0 0M493 423l-0 2M408 469l-1 0M424 479l-0 1M464 422l0 1M491 450l2 0M536 500l-1 1M545 415l-0 0M417 411l-0 1M514 499l0 0M549 410l-1 1M476 424l0 1M535 410l-1 0M469 416l-0 0M442 411l-1 0M405 448l1 0M407 425l0 0M472 399l-0 0M446 477l-0 2M508 452l-0 0M417 431l0 2M461 408l-1 1" stroke="#2424f8" stroke-width="2.8" stroke-linecap="round" fill="none"/><path d="M430 501l-0 1M428 414l1 1M516 498l1 0M547 428l0 0M486 471l-1 0M536 402l1 0M528 406l1 1M438 463l-1 1M533 494l-1 2M552 462l0 0M526 395l-0 0M472 469l1 0M428 499l1 0M438 400l-1 1M451 489l0 1M504 476l-1 1M505 451l-0 0M403 424l2 0M548 436l-0 1M420 464l2 0M517 429l-0 0M427 443l0 0M464 412l1 1M467 398l1 1M460 405l0 0M416 494l0 1M535 419l1 0M439 418l0 0M420 426l-0 1M532 490l0 0M471 415l-0 1M543 442l-1 1M532 413l0 1M476 404l0 1M521 425l-0 0M465 431l-0 0M495 467l1 1M534 415l-0 0M535 394l0 0M428 451l-0 0M451 416l-1 0" stroke="#2424f8" stroke-width="3.1" stroke-linecap="round" fill="none"/><path d="M542 481l-1 1M421 473l0 0M545 496l0 1M439 503l0 0M481 406l-1 2M495 486l-0 1M459 407l0 0M484 394l0 0M493 429l-1 0M466 472l-1 1M509 491l-1 0M524 434l-0 0M413 438l1 0M467 493l-1 1M479 502l-0 0M405 495l-0 0M528 453l2 1M466 443l0 1M473 503l0 0M419 421l1 0M444 467l-1 0M423 446l-0 0M484 443l-0 0M499 481l0 1M466 401l-1 1M439 480l1 1M510 419l1 1M461 478l-0 1M421 502l-2 0M500 464l0 1M480 483l-1 1M432 500l-0 0M459 489l0 0M423 425l0 1M542 473l-1 1M546 399l0 0M512 486l1 0M508 439l2 0M447 491l-1 1M482 456l1 1M508 434l0 0M447 497l-0 0M434 458l-1 1M409 455l-0 0" stroke="#2424f8" stroke-width="2.9" stroke-linecap="round" fill="none"/><path d="M438 495l-1 0M463 476l-1 1M413 431l-1 1M462 502l1 1M541 500l1 1M551 444l-0 0M421 441l1 1M432 477l1 1M457 464l-0 0M507 476l0 0M426 440l0 0M486 406l2 1M464 463l-0 0M468 472l0 1M460 410l-0 0M459 479l0 1M422 479l-0 1M441 496l-1 1M512 448l-1 0M492 425l-0 1M476 446l0 1M471 466l-0 1M509 411l0 0M457 423l-0 1M447 408l-0 2M468 399l-1 0M530 501l-1 0M473 399l0 1M438 391l-1 2" stroke="#2424f8" stroke-width="3.2" stroke-linecap="round" fill="none"/><path d="M416 435l-1 1M451 499l-1 1M451 499l1 1M476 406l-0 0M521 457l1 0M414 491l0 0M409 496l-0 0M427 424l-1 0M511 493l-0 0M474 418l-0 0M535 402l-0 0M538 443l1 0M538 400l0 0M445 434l0 0M477 438l1 0M451 462l-0 0M441 502l2 0M514 466l1 1M503 399l-0 1M467 401l-0 1M461 459l1 0M454 449l1 1M528 466l0 1M413 440l-1 1M519 480l-0 1M504 438l-0 0" stroke="#2424f8" stroke-width="3.5" stroke-linecap="round" fill="none"/><path d="M459 427l-0 1M542 407l-0 0M438 424l2 0M512 417l-0 0M423 472l-1 1M549 502l-1 0M547 486l1 0M404 483l0 0M547 427l-1 0M534 396l0 0M458 395l1 0M526 435l1 0M465 442l-0 0M490 494l-0 0M405 467l1 0M461 476l-1 0M473 433l-1 0M434 442l-1 2M491 393l-0 0M408 465l-1 0M520 431l-0 0M538 402l1 0M444 412l1 0M419 457l0 1M421 402l-0 1M529 448l-1 0M488 442l-2 1M416 488l-0 0M524 493l-2 1M535 414l-0 1M436 432l1 1M439 449l-1 0M421 451l0 0M489 422l1 0M415 457l1 0M469 397l-1 0M473 403l-1 1M451 445l1 0" stroke="#2424f8" stroke-width="3.4" stroke-linecap="round" fill="none"/><path d="M456 393l-0 0M500 430l1 1M501 425l-2 1M451 436l-1 1M413 422l-1 1M440 456l1 0M473 418l-0 1M474 504l1 0M522 484l-1 1M409 472l0 0M517 424l-1 1M444 482l0 0M522 475l0 0M505 467l0 0M433 392l-1 0M450 451l0 1M518 406l1 0M475 490l0 0M484 459l0 1M457 428l1 0M508 488l-0 0" stroke="#2424f8" stroke-width="2.5" stroke-linecap="round" fill="none"/></g><rect x="403.9" y="393.0" width="147.1" height="111.0" fill="#000" filter="url(#vn21)" style="mix-blend-mode:screen"/><g filter="url(#gblur2)"><path d="M523 448 525 445 528 443 531 443M455 411 453 413 452 413 450 414 447 417M429 499 431 498 432 494 433 493 435 492 437 492 439 493M467 407 464 409 462 411 461 412 459 413 456 413M508 481 507 482 506 484 505 485" stroke="#2ff02f" stroke-width="1.8" stroke-linecap="round" stroke-linejoin="round" fill="none" stroke-opacity="0.72"/><path d="M488 438 489 436 490 434 491 432 493 430M532 488 534 487 536 486 537 484 537 481M454 489 452 491 451 494 450 497 449 499 447 501 446 502M411 422 414 422 416 421 418 419M492 429 494 428 495 427 497 425 499 424 502 424 504 424M455 396 454 398 453 401 452 403" stroke="#2ff02f" stroke-width="1.7" stroke-linecap="round" stroke-linejoin="round" fill="none" stroke-opacity="0.67"/><path d="M452 474 450 476 447 477 443 478 441 479M502 400 505 400 508 399 511 398 514 397M428 396 427 399 426 400 426 402 425 405 424 408M511 451 510 453 509 454 507 456M523 437 525 435 528 434 530 433M550 465 548 468 546 470 544 471 543 473 541 474 540 476M530 460 531 458 532 455 532 453" stroke="#2ff02f" stroke-width="1.2" stroke-linecap="round" stroke-linejoin="round" fill="none" stroke-opacity="0.70"/><path d="M435 442 435 444 436 447 435 449 436 453 436 454M450 417 449 419 448 421 447 424 448 427 448 430M540 461 540 463 540 465 540 468M518 441 516 443 514 444 513 446 512 448 511 450M519 394 519 398 518 399 518 401 518 404M504 416 503 418 501 419 499 421M472 496 470 497 468 500 466 502 465 505M438 501 439 498 439 495 439 491 440 489M476 477 476 479 475 481 473 483" stroke="#2ff02f" stroke-width="1.6" stroke-linecap="round" stroke-linejoin="round" fill="none" stroke-opacity="0.65"/><path d="M500 489 502 486 503 484 503 480 502 478 501 476M544 464 542 465 541 468 540 469 538 471M465 432 468 431 471 430 473 428 475 425M516 409 515 410 512 411 511 413 510 415 507 417M527 455 526 458 525 460 523 463 522 464M463 460 463 457 462 454 463 451M437 468 439 467 440 466 442 465 444 463 445 461M492 485 489 485 486 485 483 485 480 485 477 484M433 422 434 419 435 417 435 415 437 412 438 409M425 405 425 408 424 410 425 412 424 414 424 416 424 418M455 426 456 423 455 420 456 418 456 415" stroke="#2ff02f" stroke-width="1.0" stroke-linecap="round" stroke-linejoin="round" fill="none" stroke-opacity="0.70"/><path d="M425 498 423 501 422 503 420 505 418 507 417 510M474 478 475 476 477 474 478 471 479 469M460 484 462 482 463 481 465 479 466 478 468 475 469 473M542 500 542 498 544 495 544 494 545 490 546 489M451 445 453 442 455 441 457 440 459 439M540 481 541 479 544 477 546 475 549 475M536 412 536 415 536 418 536 419 535 422 534 424M532 463 534 461 536 461 539 462 541 462 543 462" stroke="#2ff02f" stroke-width="1.5" stroke-linecap="round" stroke-linejoin="round" fill="none" stroke-opacity="0.83"/><path d="M508 460 510 459 513 459 516 459M419 476 418 478 418 480 417 483 414 485 414 486 413 490M443 493 444 490 445 489 448 486M519 400 517 402 515 404 513 405 511 408 509 409 507 410M474 434 474 431 474 430 474 427 473 425 473 422M423 499 422 496 422 494 421 492 422 489 422 486M494 483 492 486 492 488 492 491 492 493 493 495 494 496M512 406 511 406 509 407 506 406 504 406M475 440 476 439 477 438 478 436 480 433" stroke="#2ff02f" stroke-width="1.4" stroke-linecap="round" stroke-linejoin="round" fill="none" stroke-opacity="0.73"/><path d="M488 418 488 416 487 415 487 412M415 444 413 445 411 446 408 446 405 448 403 448M450 441 450 438 450 436 448 435M472 423 473 425 474 428 475 431M458 398 459 396 462 394 464 391M492 412 493 415 492 418 493 420 495 421M452 468 451 469 449 471 447 472 445 473 443 475 442 476" stroke="#2ff02f" stroke-width="1.1" stroke-linecap="round" stroke-linejoin="round" fill="none" stroke-opacity="0.67"/><path d="M547 412 547 411 549 409 552 408 555 408M479 464 478 466 477 468 475 470M415 499 417 499 418 498 420 497M416 408 418 407 419 406 421 404 422 403 423 401 426 399M427 397 429 394 431 393 433 392 436 391 439 391M513 419 514 421 513 424 514 426" stroke="#2ff02f" stroke-width="1.3" stroke-linecap="round" stroke-linejoin="round" fill="none" stroke-opacity="0.82"/><path d="M466 433 465 434 464 436 463 439M539 402 541 400 542 397 544 396 545 395" stroke="#2ff02f" stroke-width="0.9" stroke-linecap="round" stroke-linejoin="round" fill="none" stroke-opacity="0.70"/><path d="M433 496 430 496 428 496 425 497 422 497" stroke="#2ff02f" stroke-width="2.7" stroke-linecap="round" stroke-linejoin="round" fill="none" stroke-opacity="0.95"/><path d="M420 498 418 497 417 494 418 491 417 487 419 483M429 499 427 502 425 503 421 503" stroke="#2ff02f" stroke-width="3.1" stroke-linecap="round" stroke-linejoin="round" fill="none" stroke-opacity="0.90"/><path d="M434 485 437 483 438 481 440 479 441 477 443 474M413 495 415 492 416 490 419 488M421 492 419 494 418 497 417 499 415 501 411 502" stroke="#2ff02f" stroke-width="2.6" stroke-linecap="round" stroke-linejoin="round" fill="none" stroke-opacity="0.90"/><path d="M422 497 421 498 419 500 420 503 421 505 421 507M433 485 435 487 437 488 437 491M434 483 431 481 427 481 424 480M414 488 410 487 408 486 406 483 406 480 407 478" stroke="#2ff02f" stroke-width="3.2" stroke-linecap="round" stroke-linejoin="round" fill="none" stroke-opacity="0.96"/><path d="M427 501 430 499 430 496 430 492" stroke="#2ff02f" stroke-width="3.5" stroke-linecap="round" stroke-linejoin="round" fill="none" stroke-opacity="1.00"/><path d="M420 488 418 486 416 487 412 486 409 484" stroke="#2ff02f" stroke-width="3.0" stroke-linecap="round" stroke-linejoin="round" fill="none" stroke-opacity="0.88"/><path d="M430 486 428 484 427 481 425 478 422 476 420 473" stroke="#2ff02f" stroke-width="3.3" stroke-linecap="round" stroke-linejoin="round" fill="none" stroke-opacity="0.96"/><path d="M418 502 415 502 413 503 409 505 406 507" stroke="#2ff02f" stroke-width="3.4" stroke-linecap="round" stroke-linejoin="round" fill="none" stroke-opacity="0.98"/><path d="M535 492 535 494 534 496 533 499 530 501 528 503M532 489 528 487 528 485 528 482M525 488 527 490 529 492 532 492 535 490 538 491" stroke="#2ff02f" stroke-width="2.6" stroke-linecap="round" stroke-linejoin="round" fill="none" stroke-opacity="0.96"/><path d="M523 499 526 499 529 498 532 497M521 483 517 483 515 482 512 481 510 480M532 480 533 477 534 475 535 472 534 470" stroke="#2ff02f" stroke-width="2.7" stroke-linecap="round" stroke-linejoin="round" fill="none" stroke-opacity="0.94"/><path d="M536 492 535 489 534 487 533 485M531 498 527 498 523 499 521 500 520 502M536 487 536 484 535 482 535 478 537 475 539 473" stroke="#2ff02f" stroke-width="3.1" stroke-linecap="round" stroke-linejoin="round" fill="none" stroke-opacity="0.96"/><path d="M530 485 533 487 535 490 538 492" stroke="#2ff02f" stroke-width="3.3" stroke-linecap="round" stroke-linejoin="round" fill="none" stroke-opacity="0.89"/><path d="M536 490 537 489 540 489 543 490" stroke="#2ff02f" stroke-width="2.9" stroke-linecap="round" stroke-linejoin="round" fill="none" stroke-opacity="0.99"/><path d="M527 495 530 497 532 500 533 503 532 506" stroke="#2ff02f" stroke-width="3.5" stroke-linecap="round" stroke-linejoin="round" fill="none" stroke-opacity="0.88"/></g></g>
<path d="M291.5 406.0L297.0 404.6L295.6 410.0Z" fill="#fff"/>
<path d="M300.4 413.3L305.9 411.9L304.5 417.3Z" fill="#fff"/>
<path d="M296.0 419.3L301.5 417.9L300.1 423.3Z" fill="#fff"/>
<path d="M333.0 414.4L338.5 413.0L337.1 418.4Z" fill="#fff"/>
<path d="M357.0 424.4L362.5 423.0L361.1 428.4Z" fill="#fff"/>
<path d="M349.2 430.0L354.7 428.6L353.3 434.0Z" fill="#fff"/>
<path d="M388.1 408.9L393.6 407.5L392.2 412.9Z" fill="#fff"/>
<path d="M280.5 436.6L286.0 435.2L284.6 440.6Z" fill="#fff"/>
<path d="M287.1 443.9L292.6 442.5L291.2 447.9Z" fill="#fff"/>
<path d="M358.8 444.4L364.3 443.0L362.9 448.4Z" fill="#fff"/>
<path d="M311.5 455.9L317.0 454.5L315.6 459.9Z" fill="#fff"/>
<path d="M333.0 455.9L338.5 454.5L337.1 459.9Z" fill="#fff"/>
<path d="M371.4 461.0L376.9 459.6L375.5 465.0Z" fill="#fff"/>
<path d="M392.5 459.9L398.0 458.5L396.6 463.9Z" fill="#fff"/>
<path d="M311.5 467.7L317.0 466.3L315.6 471.7Z" fill="#fff"/>
<path d="M347.0 467.7L352.5 466.3L351.1 471.7Z" fill="#fff"/>
<path d="M316.0 479.9L321.5 478.5L320.1 483.9Z" fill="#fff"/>
<path d="M270.0 489.8L275.5 488.4L274.1 493.8Z" fill="#fff"/>
<path d="M318.2 492.1L323.7 490.7L322.3 496.1Z" fill="#fff"/>
<path d="M327.0 488.7L332.5 487.3L331.1 492.7Z" fill="#fff"/>
<path d="M334.4 488.7L339.9 487.3L338.5 492.7Z" fill="#fff"/>
<path d="M449.5 406.0L455.0 404.6L453.6 410.0Z" fill="#fff"/>
<path d="M480.6 429.5L486.1 428.1L484.7 433.5Z" fill="#fff"/>
<path d="M536.1 409.5L541.6 408.1L540.2 413.5Z" fill="#fff"/>
<path d="M478.8 474.8L484.3 473.4L482.9 478.8Z" fill="#fff"/>
<path d="M187.9 454.3L193.4 452.9L192.0 458.3Z" fill="#fff"/>
<circle cx="455.00" cy="408.00" r="1.70" fill="#f0c060" />
<circle cx="486.00" cy="431.00" r="1.70" fill="#f0c060" />
<circle cx="484.00" cy="476.00" r="1.70" fill="#f0c060" />
<rect x="254.60" y="281.00" width="1.30" height="223.00" fill="#d8d8f0" stroke="none" stroke-width="1" />
<rect x="402.60" y="281.00" width="1.30" height="223.00" fill="#d8d8f0" stroke="none" stroke-width="1" />
<rect x="107.00" y="391.70" width="444.00" height="1.30" fill="#f0f0f8" stroke="none" stroke-width="1" />
<text x="109.90" y="293.80" font-size="10.4" text-anchor="start" font-weight="bold" fill="#fff" >Chow</text>
<text x="258.80" y="293.80" font-size="10.4" text-anchor="start" font-weight="bold" fill="#fff" >HFD+STZ</text>
<text x="407.00" y="293.80" font-size="10.4" text-anchor="start" font-weight="bold" fill="#fff" >HFD+STZ</text>
<text x="407.00" y="305.80" font-size="10.4" text-anchor="start" font-weight="bold" fill="#fff" >+ABT263</text>
<rect x="154.90" y="319.00" width="74.40" height="56.00" fill="none" stroke="#e4e4ee" stroke-width="1.3" stroke-dasharray="4 2.6"/>
<line x1="154.90" y1="375.00" x2="111.70" y2="390.50" stroke="#e4e4ee" stroke-width="1.3" stroke-dasharray="4 2.6"/>
<line x1="229.30" y1="375.00" x2="249.20" y2="390.50" stroke="#e4e4ee" stroke-width="1.3" stroke-dasharray="4 2.6"/>
<rect x="291.20" y="313.00" width="75.00" height="56.00" fill="none" stroke="#e4e4ee" stroke-width="1.3" stroke-dasharray="4 2.6"/>
<line x1="291.20" y1="369.00" x2="259.50" y2="390.50" stroke="#e4e4ee" stroke-width="1.3" stroke-dasharray="4 2.6"/>
<line x1="366.20" y1="369.00" x2="398.00" y2="390.50" stroke="#e4e4ee" stroke-width="1.3" stroke-dasharray="4 2.6"/>
<rect x="446.50" y="284.70" width="75.40" height="57.00" fill="none" stroke="#e4e4ee" stroke-width="1.3" stroke-dasharray="4 2.6"/>
<line x1="446.50" y1="341.70" x2="407.70" y2="390.50" stroke="#e4e4ee" stroke-width="1.3" stroke-dasharray="4 2.6"/>
<line x1="521.90" y1="341.70" x2="547.40" y2="390.50" stroke="#e4e4ee" stroke-width="1.3" stroke-dasharray="4 2.6"/>
<text x="238.10" y="385.53" font-size="6.2" text-anchor="middle" font-weight="bold" fill="#fff" >100μm</text>
<line x1="228.60" y1="387.20" x2="249.60" y2="387.20" stroke="#fff" stroke-width="1.2" />
<text x="240.10" y="497.53" font-size="6.2" text-anchor="middle" font-weight="bold" fill="#fff" >50μm</text>
<line x1="230.60" y1="499.40" x2="249.60" y2="499.40" stroke="#fff" stroke-width="1.2" />
<text x="386.10" y="385.53" font-size="6.2" text-anchor="middle" font-weight="bold" fill="#fff" >100μm</text>
<line x1="376.60" y1="387.20" x2="397.60" y2="387.20" stroke="#fff" stroke-width="1.2" />
<text x="388.10" y="497.53" font-size="6.2" text-anchor="middle" font-weight="bold" fill="#fff" >50μm</text>
<line x1="378.60" y1="499.40" x2="397.60" y2="499.40" stroke="#fff" stroke-width="1.2" />
<text x="534.50" y="385.53" font-size="6.2" text-anchor="middle" font-weight="bold" fill="#fff" >100μm</text>
<line x1="525.00" y1="387.20" x2="546.00" y2="387.20" stroke="#fff" stroke-width="1.2" />
<text x="536.50" y="497.53" font-size="6.2" text-anchor="middle" font-weight="bold" fill="#fff" >50μm</text>
<line x1="527.00" y1="499.40" x2="546.00" y2="499.40" stroke="#fff" stroke-width="1.2" />
<!-- pj -->
<text x="554.80" y="293.30" font-size="13.5" text-anchor="start" font-weight="bold" fill="#000" >j</text>
<rect x="600.10" y="421.78" width="18.30" height="7.92" fill="#3f5cf2" stroke="#000" stroke-width="1.2100000000000002" />
<circle cx="609.25" cy="418.95" r="1.70" fill="#000" />
<circle cx="605.25" cy="421.78" r="1.70" fill="#000" />
<circle cx="607.75" cy="421.21" r="1.70" fill="#000" />
<circle cx="610.75" cy="420.64" r="1.70" fill="#000" />
<circle cx="613.25" cy="422.62" r="1.70" fill="#000" />
<circle cx="614.25" cy="422.91" r="1.70" fill="#000" />
<line x1="635.30" y1="346.78" x2="635.30" y2="334.89" stroke="#000" stroke-width="1.1" />
<line x1="631.50" y1="334.89" x2="639.10" y2="334.89" stroke="#000" stroke-width="1.1" />
<rect x="626.70" y="346.78" width="17.20" height="82.92" fill="#f44a2c" stroke="#000" stroke-width="1.2100000000000002" />
<circle cx="628.80" cy="332.91" r="1.70" fill="#000" />
<circle cx="635.30" cy="332.91" r="1.70" fill="#000" />
<circle cx="628.80" cy="347.63" r="1.70" fill="#000" />
<circle cx="635.30" cy="349.04" r="1.70" fill="#000" />
<circle cx="641.30" cy="348.20" r="1.70" fill="#000" />
<circle cx="635.30" cy="361.78" r="1.70" fill="#000" />
<line x1="661.15" y1="401.97" x2="661.15" y2="391.21" stroke="#000" stroke-width="1.1" />
<line x1="657.35" y1="391.21" x2="664.95" y2="391.21" stroke="#000" stroke-width="1.1" />
<rect x="652.40" y="401.97" width="17.50" height="27.73" fill="#fb64fb" stroke="#000" stroke-width="1.2100000000000002" />
<circle cx="661.15" cy="384.99" r="1.70" fill="#000" />
<circle cx="661.15" cy="401.40" r="1.70" fill="#000" />
<circle cx="654.65" cy="409.89" r="1.70" fill="#000" />
<circle cx="661.15" cy="409.89" r="1.70" fill="#000" />
<circle cx="667.65" cy="409.89" r="1.70" fill="#000" />
<line x1="592.90" y1="316.50" x2="592.90" y2="429.70" stroke="#000" stroke-width="1.1" />
<line x1="592.90" y1="429.70" x2="678.00" y2="429.70" stroke="#000" stroke-width="1.1" />
<line x1="589.90" y1="429.70" x2="592.90" y2="429.70" stroke="#000" stroke-width="1.1" />
<text x="589.10" y="432.58" font-size="8.0" text-anchor="end" font-weight="bold" fill="#000" >0</text>
<line x1="589.90" y1="401.40" x2="592.90" y2="401.40" stroke="#000" stroke-width="1.1" />
<text x="589.10" y="404.28" font-size="8.0" text-anchor="end" font-weight="bold" fill="#000" >10</text>
<line x1="589.90" y1="373.10" x2="592.90" y2="373.10" stroke="#000" stroke-width="1.1" />
<text x="589.10" y="375.98" font-size="8.0" text-anchor="end" font-weight="bold" fill="#000" >20</text>
<line x1="589.90" y1="344.80" x2="592.90" y2="344.80" stroke="#000" stroke-width="1.1" />
<text x="589.10" y="347.68" font-size="8.0" text-anchor="end" font-weight="bold" fill="#000" >30</text>
<line x1="589.90" y1="316.50" x2="592.90" y2="316.50" stroke="#000" stroke-width="1.1" />
<text x="589.10" y="319.38" font-size="8.0" text-anchor="end" font-weight="bold" fill="#000" >40</text>
<line x1="609.25" y1="429.70" x2="609.25" y2="432.70" stroke="#000" stroke-width="1.1" />
<line x1="635.30" y1="429.70" x2="635.30" y2="432.70" stroke="#000" stroke-width="1.1" />
<line x1="661.15" y1="429.70" x2="661.15" y2="432.70" stroke="#000" stroke-width="1.1" />
<text x="618.80" y="318.06" font-size="7.4" text-anchor="middle" fill="#000" >p&lt;0.0001</text>
<line x1="605.60" y1="325.00" x2="631.60" y2="325.00" stroke="#000" stroke-width="1.1" />
<text x="651.80" y="323.36" font-size="7.4" text-anchor="middle" fill="#000" >p&lt;0.0001</text>
<line x1="639.00" y1="329.90" x2="665.20" y2="329.90" stroke="#000" stroke-width="1.1" />
<text transform="translate(569.8,377) rotate(-90)" text-anchor="middle" font-size="8.6" font-weight="bold">Number of INHBB<tspan dy="-3" font-size="5.5">+</tspan><tspan dy="3">CD31</tspan><tspan dy="-3" font-size="5.5">+</tspan><tspan dy="3"> Cells</tspan></text>
<text transform="translate(611.0999999999999,437.6) rotate(-45)" text-anchor="end" font-size="8.9" font-weight="bold">Chow</text>
<text transform="translate(637.0999999999999,437.6) rotate(-45)" text-anchor="end" font-size="8.9" font-weight="bold">HFD+STZ</text>
<text transform="translate(663.0,437.6) rotate(-45)" text-anchor="end" font-size="8.9" font-weight="bold">HFD+STZ+ABT263</text>
<!-- pk -->
<text x="0.60" y="520.00" font-size="13.5" text-anchor="start" font-weight="bold" fill="#000" >k</text>
<rect x="29.30" y="520.80" width="65.00" height="109.30" fill="#fff" stroke="#7a7a7a" stroke-width="0.8" />
<line x1="27.50" y1="626.10" x2="29.30" y2="626.10" stroke="#444" stroke-width="0.5" />
<text x="24.40" y="627.20" font-size="3.2" text-anchor="end" fill="#333" >0</text>
<line x1="27.50" y1="607.10" x2="29.30" y2="607.10" stroke="#444" stroke-width="0.5" />
<text x="24.40" y="608.20" font-size="3.2" text-anchor="end" fill="#333" >1</text>
<line x1="27.50" y1="588.10" x2="29.30" y2="588.10" stroke="#444" stroke-width="0.5" />
<text x="24.40" y="589.20" font-size="3.2" text-anchor="end" fill="#333" >2</text>
<line x1="27.50" y1="569.10" x2="29.30" y2="569.10" stroke="#444" stroke-width="0.5" />
<text x="24.40" y="570.20" font-size="3.2" text-anchor="end" fill="#333" >3</text>
<line x1="27.50" y1="550.10" x2="29.30" y2="550.10" stroke="#444" stroke-width="0.5" />
<text x="24.40" y="551.20" font-size="3.2" text-anchor="end" fill="#333" >4</text>
<line x1="27.50" y1="531.10" x2="29.30" y2="531.10" stroke="#444" stroke-width="0.5" />
<text x="24.40" y="532.20" font-size="3.2" text-anchor="end" fill="#333" >5</text>
<text x="19.70" y="576.80" font-size="6.4" text-anchor="middle" fill="#222" transform="rotate(-90 19.70 576.80)" >INHBB Expression</text>
<line x1="51.80" y1="536.20" x2="51.80" y2="565.10" stroke="#444" stroke-width="0.6" stroke-dasharray="1 0.8"/>
<line x1="51.80" y1="585.90" x2="51.80" y2="610.30" stroke="#444" stroke-width="0.6" stroke-dasharray="1 0.8"/>
<line x1="47.90" y1="536.20" x2="56.00" y2="536.20" stroke="#222" stroke-width="0.6" />
<line x1="47.90" y1="610.30" x2="56.00" y2="610.30" stroke="#222" stroke-width="0.6" />
<rect x="43.40" y="565.10" width="16.80" height="20.80" fill="#ee5b5b" stroke="#555" stroke-width="0.6" />
<line x1="43.40" y1="576.50" x2="60.20" y2="576.50" stroke="#222" stroke-width="0.9" />
<line x1="72.10" y1="578.30" x2="72.10" y2="598.90" stroke="#444" stroke-width="0.6" stroke-dasharray="1 0.8"/>
<line x1="68.20" y1="578.30" x2="76.00" y2="578.30" stroke="#222" stroke-width="0.6" />
<rect x="64.10" y="598.90" width="15.90" height="15.00" fill="#737373" stroke="#444" stroke-width="0.6" />
<line x1="64.10" y1="607.50" x2="80.00" y2="607.50" stroke="#111" stroke-width="0.9" />
<line x1="43.40" y1="626.10" x2="60.20" y2="626.10" stroke="#222" stroke-width="0.9" />
<line x1="64.10" y1="626.10" x2="80.00" y2="626.10" stroke="#222" stroke-width="0.9" />
<path d="M52.7 564.6h0.6M51.7 557.0h0.6M54.0 570.4h0.6M51.9 551.0h0.6M48.3 586.2h0.6M50.9 576.1h0.6M53.9 580.4h0.6M49.9 578.5h0.6M55.3 575.3h0.6M53.5 571.6h0.6M48.5 561.8h0.6M50.6 589.7h0.6M55.0 582.8h0.6M50.9 575.6h0.6M49.2 561.0h0.6M54.8 554.0h0.6M50.7 593.0h0.6M51.7 570.5h0.6M54.4 574.2h0.6M49.9 572.1h0.6M55.1 573.9h0.6M54.6 585.3h0.6M52.4 575.0h0.6M53.4 599.9h0.6M54.1 564.1h0.6M49.7 564.5h0.6M51.2 549.4h0.6M50.9 589.6h0.6M55.3 589.2h0.6M51.0 571.5h0.6M53.3 569.5h0.6M55.2 574.7h0.6M52.2 592.3h0.6M53.5 575.3h0.6M52.2 572.3h0.6M52.7 556.5h0.6M50.7 572.1h0.6M54.8 567.9h0.6M50.4 586.7h0.6M49.0 560.0h0.6M53.7 551.8h0.6M50.9 565.3h0.6M54.6 584.4h0.6M55.0 595.3h0.6M55.0 611.5h0.6M52.4 552.1h0.6M50.9 563.5h0.6M50.0 586.8h0.6M48.8 569.7h0.6M53.9 581.7h0.6M54.2 573.3h0.6M48.7 591.9h0.6M51.2 576.3h0.6M49.5 564.0h0.6M54.6 564.0h0.6M55.2 570.3h0.6M50.1 576.2h0.6M55.0 592.0h0.6M48.5 598.5h0.6M49.8 579.4h0.6M54.5 562.4h0.6M52.5 597.3h0.6M54.2 592.6h0.6M50.5 567.3h0.6M53.7 586.9h0.6M48.4 578.2h0.6M48.5 589.7h0.6M52.5 608.2h0.6M52.4 593.0h0.6M50.1 597.6h0.6M54.6 605.6h0.6M49.2 555.6h0.6M48.5 570.5h0.6M51.4 572.2h0.6M52.9 557.6h0.6M49.2 553.6h0.6M51.8 588.0h0.6M49.8 578.8h0.6M50.9 571.2h0.6M53.3 567.9h0.6M53.3 579.9h0.6M54.4 577.1h0.6M48.4 571.9h0.6M51.5 600.7h0.6M49.5 553.4h0.6M53.3 566.3h0.6M50.5 576.2h0.6M48.6 553.7h0.6M54.6 585.1h0.6M50.4 567.9h0.6M54.9 593.7h0.6M49.0 576.1h0.6M53.4 589.4h0.6M55.1 585.8h0.6M52.0 583.9h0.6M52.2 555.2h0.6M55.1 551.7h0.6M50.8 565.6h0.6M49.1 594.4h0.6M48.8 534.8h0.6M53.6 552.3h0.6M51.4 564.1h0.6M52.8 577.8h0.6M51.4 577.7h0.6M51.1 589.8h0.6M49.9 577.3h0.6M50.0 561.3h0.6M53.2 571.2h0.6M51.5 566.4h0.6M50.0 596.6h0.6M52.7 588.1h0.6M55.0 564.9h0.6M51.7 561.8h0.6M53.3 567.4h0.6M52.7 556.6h0.6M53.6 591.5h0.6M53.2 589.6h0.6M53.1 600.3h0.6M51.0 574.8h0.6M52.6 544.0h0.6M55.2 559.1h0.6M48.3 608.5h0.6M51.0 580.5h0.6M49.3 564.4h0.6M50.4 581.2h0.6M54.9 577.7h0.6M49.1 576.5h0.6M55.0 591.6h0.6M50.6 578.5h0.6M52.8 585.0h0.6M55.0 580.4h0.6M50.6 585.8h0.6M49.4 576.5h0.6M53.1 548.2h0.6M50.2 569.8h0.6M51.0 557.5h0.6M51.4 560.9h0.6M52.6 581.6h0.6M51.0 577.4h0.6M50.2 567.1h0.6M48.5 562.1h0.6M54.0 542.2h0.6M48.4 555.3h0.6M51.8 584.6h0.6M53.2 556.8h0.6M50.0 571.0h0.6M49.0 557.9h0.6M50.5 574.9h0.6M50.9 604.7h0.6M49.2 567.2h0.6M52.0 568.9h0.6M48.6 601.3h0.6M52.2 570.2h0.6M49.9 562.4h0.6M54.8 566.9h0.6M54.5 601.7h0.6M48.9 557.0h0.6M54.6 573.7h0.6M49.6 576.2h0.6M48.7 599.8h0.6M52.6 568.0h0.6M51.6 593.6h0.6M50.2 571.7h0.6M50.8 588.1h0.6M54.5 581.7h0.6M48.8 556.6h0.6M53.0 560.2h0.6M49.6 568.7h0.6M48.6 576.4h0.6M51.8 570.8h0.6M69.7 615.3h0.6M69.3 624.7h0.6M71.5 592.1h0.6M73.4 614.1h0.6M69.1 609.4h0.6M74.4 623.2h0.6M71.1 606.2h0.6M72.3 603.4h0.6M73.6 612.8h0.6M72.1 613.0h0.6M74.2 593.5h0.6M74.9 585.0h0.6M74.0 611.1h0.6M74.9 615.5h0.6M75.4 616.6h0.6M71.3 613.1h0.6M74.2 577.9h0.6M68.7 618.3h0.6M72.9 618.1h0.6M73.9 592.4h0.6M75.1 611.9h0.6M72.4 613.4h0.6M75.6 600.4h0.6M72.5 613.2h0.6M74.8 603.6h0.6M71.1 623.6h0.6M69.8 595.3h0.6M72.4 600.4h0.6M69.5 602.1h0.6M68.8 618.7h0.6M68.8 622.6h0.6M73.3 598.9h0.6M75.1 605.6h0.6M72.3 601.0h0.6M69.5 594.5h0.6M70.3 616.9h0.6M74.0 624.0h0.6M73.9 598.4h0.6M71.6 613.0h0.6M71.2 615.3h0.6M72.4 617.5h0.6M71.8 606.4h0.6M72.7 583.0h0.6M74.2 601.6h0.6M75.6 608.9h0.6M71.2 623.6h0.6M73.3 608.0h0.6M72.7 606.4h0.6M70.0 604.1h0.6M70.2 623.7h0.6M72.0 609.5h0.6M69.0 620.9h0.6M72.1 624.2h0.6M71.8 589.0h0.6M72.8 621.5h0.6M73.5 595.1h0.6M71.2 592.4h0.6M70.4 623.7h0.6M75.1 602.4h0.6M70.0 622.0h0.6M69.1 591.0h0.6M70.8 622.2h0.6M74.4 612.1h0.6M70.5 612.7h0.6M70.1 611.7h0.6M70.0 617.2h0.6M70.1 624.1h0.6M73.4 606.8h0.6M71.2 616.9h0.6M70.0 590.5h0.6M73.5 604.2h0.6M71.5 603.5h0.6M73.2 587.5h0.6M68.7 587.9h0.6M71.7 609.9h0.6M72.1 624.7h0.6M73.1 594.6h0.6M73.1 610.1h0.6M73.9 615.3h0.6M73.1 597.9h0.6M70.2 622.5h0.6M74.1 602.8h0.6M71.8 588.2h0.6M70.1 604.7h0.6M69.2 622.1h0.6M72.0 616.2h0.6M70.9 595.0h0.6M70.9 586.6h0.6M69.9 606.2h0.6M69.7 603.0h0.6M70.1 625.4h0.6M69.4 625.2h0.6M71.4 613.5h0.6M73.9 608.5h0.6M72.4 601.1h0.6M69.2 587.4h0.6M69.3 606.3h0.6M70.0 589.1h0.6M72.2 623.3h0.6M73.2 618.5h0.6M70.8 595.8h0.6M75.0 606.5h0.6M68.8 621.7h0.6M72.1 588.9h0.6M72.7 589.4h0.6M69.9 621.5h0.6M75.4 602.2h0.6M74.0 609.5h0.6M69.7 610.2h0.6M71.0 623.2h0.6M71.3 617.1h0.6M74.2 623.8h0.6M69.2 596.8h0.6M70.9 603.5h0.6M69.6 601.2h0.6M70.8 623.6h0.6M71.7 592.2h0.6M70.2 594.4h0.6M71.6 625.8h0.6M73.4 588.2h0.6M72.5 617.6h0.6M71.1 617.9h0.6M70.7 602.1h0.6M70.9 592.4h0.6M71.6 595.7h0.6M70.0 580.0h0.6M74.7 598.0h0.6M71.0 605.3h0.6M73.2 611.9h0.6M71.8 615.4h0.6M71.2 608.5h0.6M70.6 623.3h0.6M73.4 624.3h0.6M72.0 621.1h0.6M74.5 620.4h0.6M69.6 582.4h0.6M73.3 616.9h0.6M75.4 624.5h0.6M75.6 599.9h0.6M70.9 614.0h0.6M69.8 618.6h0.6M71.4 582.1h0.6M70.5 614.6h0.6M74.2 614.7h0.6M74.1 623.8h0.6M74.7 621.4h0.6M75.4 587.7h0.6M72.1 622.5h0.6M75.4 611.9h0.6M73.2 622.3h0.6M70.7 624.9h0.6M69.5 598.8h0.6M68.6 612.6h0.6M69.2 602.4h0.6M68.9 623.4h0.6M73.1 600.7h0.6M70.7 594.9h0.6M71.7 596.9h0.6M71.3 610.4h0.6M73.7 620.4h0.6M73.5 597.9h0.6M74.4 598.9h0.6M73.0 596.9h0.6M70.8 608.4h0.6M69.5 614.8h0.6M71.0 620.5h0.6M73.0 595.7h0.6M74.3 611.9h0.6M68.6 611.3h0.6M71.0 584.2h0.6" stroke="#333" stroke-width="0.55" fill="none" stroke-opacity="0.8"/>
<path d="M52.4,532 V521.6 H72.3 V540.7" fill="none" stroke="#bbb" stroke-width="0.7" />
<text x="62.60" y="526.06" font-size="6.0" text-anchor="middle" fill="#f03030" >p&lt;0.0001</text>
<rect x="16.80" y="631.40" width="45.00" height="12.30" fill="#e8676b" stroke="none" stroke-width="1" />
<rect x="62.30" y="631.40" width="44.30" height="12.30" fill="#777" stroke="none" stroke-width="1" />
<text x="39.30" y="636.37" font-size="4.35" text-anchor="middle" fill="#fff" >Pancreatic Cancer</text>
<text x="39.30" y="642.07" font-size="4.35" text-anchor="middle" fill="#fff" >N=179</text>
<text x="84.40" y="636.37" font-size="4.35" text-anchor="middle" fill="#fff" >Normal Tissue</text>
<text x="84.40" y="642.07" font-size="4.35" text-anchor="middle" fill="#fff" >N=171</text>
<!-- pl -->
<text x="105.80" y="521.80" font-size="13.5" text-anchor="start" font-weight="bold" fill="#000" >l</text>
<rect x="141.40" y="522.60" width="129.40" height="95.90" fill="none" stroke="#333" stroke-width="0.7" />
<line x1="146.80" y1="618.50" x2="146.80" y2="620.50" stroke="#333" stroke-width="0.6" />
<text x="146.80" y="626.23" font-size="6.2" text-anchor="middle" fill="#222" >0</text>
<line x1="166.58" y1="618.50" x2="166.58" y2="620.50" stroke="#333" stroke-width="0.6" />
<text x="166.58" y="626.23" font-size="6.2" text-anchor="middle" fill="#222" >20</text>
<line x1="186.36" y1="618.50" x2="186.36" y2="620.50" stroke="#333" stroke-width="0.6" />
<text x="186.36" y="626.23" font-size="6.2" text-anchor="middle" fill="#222" >40</text>
<line x1="206.14" y1="618.50" x2="206.14" y2="620.50" stroke="#333" stroke-width="0.6" />
<text x="206.14" y="626.23" font-size="6.2" text-anchor="middle" fill="#222" >60</text>
<line x1="225.92" y1="618.50" x2="225.92" y2="620.50" stroke="#333" stroke-width="0.6" />
<text x="225.92" y="626.23" font-size="6.2" text-anchor="middle" fill="#222" >80</text>
<line x1="245.70" y1="618.50" x2="245.70" y2="620.50" stroke="#333" stroke-width="0.6" />
<text x="245.70" y="626.23" font-size="6.2" text-anchor="middle" fill="#222" >100</text>
<line x1="265.48" y1="618.50" x2="265.48" y2="620.50" stroke="#333" stroke-width="0.6" />
<text x="265.48" y="626.23" font-size="6.2" text-anchor="middle" fill="#222" >120</text>
<line x1="139.40" y1="614.60" x2="141.40" y2="614.60" stroke="#333" stroke-width="0.6" />
<text x="138.40" y="616.83" font-size="6.2" text-anchor="end" fill="#222" >0.2</text>
<line x1="139.40" y1="597.06" x2="141.40" y2="597.06" stroke="#333" stroke-width="0.6" />
<text x="138.40" y="599.29" font-size="6.2" text-anchor="end" fill="#222" >0.4</text>
<line x1="139.40" y1="579.52" x2="141.40" y2="579.52" stroke="#333" stroke-width="0.6" />
<text x="138.40" y="581.75" font-size="6.2" text-anchor="end" fill="#222" >0.6</text>
<line x1="139.40" y1="561.98" x2="141.40" y2="561.98" stroke="#333" stroke-width="0.6" />
<text x="138.40" y="564.21" font-size="6.2" text-anchor="end" fill="#222" >0.8</text>
<line x1="139.40" y1="544.44" x2="141.40" y2="544.44" stroke="#333" stroke-width="0.6" />
<text x="138.40" y="546.67" font-size="6.2" text-anchor="end" fill="#222" >1.0</text>
<line x1="139.40" y1="526.90" x2="141.40" y2="526.90" stroke="#333" stroke-width="0.6" />
<text x="138.40" y="529.13" font-size="6.2" text-anchor="end" fill="#222" >1.2</text>
<text x="206.10" y="632.99" font-size="6.65" text-anchor="middle" fill="#222" >Overall survival (months)</text>
<text x="206.10" y="520.08" font-size="6.9" text-anchor="middle" fill="#222" >INHBB</text>
<text x="267.10" y="529.39" font-size="5.8" text-anchor="end" fill="#222" >HR = 1.21 (1.05 - 1.4)</text>
<text x="267.10" y="534.69" font-size="5.8" text-anchor="end" fill="#222" >Logrank P = 0.0107</text>
<text x="128.69" y="570.70" font-size="6.65" text-anchor="middle" fill="#222" transform="rotate(-90 128.69 570.70)" >Probability</text>
<path d="M146.1,526.1 H146.8 V527.5 H147.5 V528.8 H148.1 V530.2 H148.8 V531.6 H149.5 V532.9 H150.2 V534.3 H150.6 V535.5 H151.0 V536.8 H151.4 V538.0 H151.8 V539.2 H152.2 V540.5 H152.7 V541.7 H153.1 V542.9 H153.5 V544.1 H153.9 V545.4 H154.3 V546.6 H154.7 V547.8 H155.1 V549.0 H155.5 V550.3 H155.9 V551.5 H156.4 V552.7 H156.8 V553.9 H157.2 V555.1 H157.6 V556.4 H158.0 V557.6 H158.4 V558.8 H158.9 V560.1 H159.4 V561.3 H159.9 V562.6 H160.4 V563.9 H161.0 V565.2 H161.5 V566.5 H162.0 V567.7 H162.5 V569.0 H163.1 V570.3 H163.7 V571.6 H164.3 V572.9 H164.8 V574.3 H165.4 V575.6 H166.0 V576.9 H166.6 V578.2 H167.4 V579.6 H168.2 V581.1 H169.1 V582.5 H169.9 V584.0 H170.7 V585.4 H172.7 V586.8 H174.8 V588.1 H176.8 V589.5 H180.9 V591.0 H185.0 V592.6 H189.1 V594.1 H193.1 V595.6 H194.1 V596.9 H195.1 V598.2 H196.2 V599.4 H197.2 V600.7 H201.3 V602.8 H217.7 V604.8" fill="none" stroke="#f01010" stroke-width="1.0" />
<path d="M178.4 589.5h3.4M180.1 587.8v3.4M182.0 591.0h3.4M183.7 589.3v3.4M192.7 596.9h3.4M194.4 595.2v3.4M161.5 570.3h3.4M163.2 568.6v3.4M183.1 591.0h3.4M184.8 589.3v3.4M197.0 600.7h3.4M198.7 599.0v3.4M198.0 600.7h3.4M199.7 599.0v3.4M156.2 556.4h3.4M157.9 554.7v3.4M183.1 591.0h3.4M184.8 589.3v3.4M181.1 591.0h3.4M182.8 589.3v3.4M174.5 588.1h3.4M176.2 586.4v3.4M201.3 602.8h3.4M203.0 601.1v3.4M176.0 589.5h3.4M177.7 587.8v3.4M171.2 586.8h3.4M172.9 585.1v3.4M200.0 602.8h3.4M201.7 601.1v3.4M182.2 591.0h3.4M183.9 589.3v3.4M162.8 572.9h3.4M164.5 571.2v3.4M163.3 574.3h3.4M165.0 572.6v3.4M174.1 588.1h3.4M175.8 586.4v3.4M148.4 532.9h3.4M150.1 531.2v3.4M180.6 591.0h3.4M182.3 589.3v3.4M188.0 594.1h3.4M189.7 592.4v3.4M170.1 585.4h3.4M171.8 583.7v3.4M194.4 598.2h3.4M196.1 596.5v3.4M199.1 600.7h3.4M200.8 599.0v3.4M177.6 589.5h3.4M179.3 587.8v3.4M184.9 592.6h3.4M186.6 590.9v3.4M152.2 544.1h3.4M153.9 542.4v3.4M148.6 534.3h3.4M150.3 532.6v3.4M202.1 602.8h3.4M203.8 601.1v3.4M161.9 570.3h3.4M163.6 568.6v3.4M157.8 561.3h3.4M159.5 559.6v3.4M197.3 600.7h3.4M199.0 599.0v3.4M188.8 594.1h3.4M190.5 592.4v3.4M152.5 545.4h3.4M154.2 543.7v3.4M164.0 575.6h3.4M165.7 573.9v3.4M159.5 565.2h3.4M161.2 563.5v3.4M161.2 569.0h3.4M162.9 567.3v3.4M145.8 528.8h3.4M147.5 527.1v3.4M175.8 589.5h3.4M177.5 587.8v3.4M163.0 572.9h3.4M164.7 571.2v3.4M168.2 584.0h3.4M169.9 582.3v3.4M156.1 556.4h3.4M157.8 554.7v3.4M151.8 542.9h3.4M153.5 541.2v3.4M147.3 531.6h3.4M149.0 529.9v3.4M195.9 600.7h3.4M197.6 599.0v3.4M188.7 594.1h3.4M190.4 592.4v3.4M177.8 589.5h3.4M179.5 587.8v3.4M152.6 545.4h3.4M154.3 543.7v3.4M154.0 550.3h3.4M155.7 548.6v3.4M152.3 545.4h3.4M154.0 543.7v3.4M163.7 574.3h3.4M165.4 572.6v3.4M148.7 534.3h3.4M150.4 532.6v3.4M161.3 569.0h3.4M163.0 567.3v3.4M157.1 558.8h3.4M158.8 557.1v3.4M156.6 557.6h3.4M158.3 555.9v3.4M183.3 591.0h3.4M185.0 589.3v3.4M171.9 586.8h3.4M173.6 585.1v3.4M172.8 586.8h3.4M174.5 585.1v3.4M166.1 579.6h3.4M167.8 577.9v3.4M176.6 589.5h3.4M178.3 587.8v3.4M190.9 594.1h3.4M192.6 592.4v3.4M163.2 574.3h3.4M164.9 572.6v3.4M149.5 536.8h3.4M151.2 535.1v3.4M173.3 588.1h3.4M175.0 586.4v3.4M167.4 581.1h3.4M169.1 579.4v3.4M190.6 594.1h3.4M192.3 592.4v3.4M151.8 544.1h3.4M153.5 542.4v3.4M195.9 600.7h3.4M197.6 599.0v3.4M146.3 528.8h3.4M148.0 527.1v3.4M176.8 589.5h3.4M178.5 587.8v3.4M171.1 586.8h3.4M172.8 585.1v3.4M163.7 574.3h3.4M165.4 572.6v3.4M196.9 600.7h3.4M198.6 599.0v3.4M186.1 592.6h3.4M187.8 590.9v3.4M154.8 552.7h3.4M156.5 551.0v3.4M174.1 588.1h3.4M175.8 586.4v3.4M180.9 591.0h3.4M182.6 589.3v3.4M147.3 531.6h3.4M149.0 529.9v3.4M150.5 539.2h3.4M152.2 537.5v3.4M180.2 591.0h3.4M181.9 589.3v3.4M187.6 594.1h3.4M189.3 592.4v3.4M172.2 586.8h3.4M173.9 585.1v3.4M169.8 585.4h3.4M171.5 583.7v3.4M174.8 588.1h3.4M176.5 586.4v3.4M160.5 567.7h3.4M162.2 566.0v3.4M196.1 600.7h3.4M197.8 599.0v3.4M201.1 602.8h3.4M202.8 601.1v3.4M173.3 588.1h3.4M175.0 586.4v3.4M146.6 530.2h3.4M148.3 528.5v3.4M168.4 584.0h3.4M170.1 582.3v3.4M191.9 595.6h3.4M193.6 593.9v3.4M164.2 575.6h3.4M165.9 573.9v3.4M151.5 542.9h3.4M153.2 541.2v3.4M156.1 556.4h3.4M157.8 554.7v3.4M186.6 592.6h3.4M188.3 590.9v3.4M181.4 591.0h3.4M183.1 589.3v3.4M162.0 570.3h3.4M163.7 568.6v3.4M181.5 591.0h3.4M183.2 589.3v3.4M189.4 594.1h3.4M191.1 592.4v3.4M201.3 602.8h3.4M203.0 601.1v3.4M193.5 598.2h3.4M195.2 596.5v3.4M170.5 585.4h3.4M172.2 583.7v3.4M192.3 595.6h3.4M194.0 593.9v3.4M199.0 600.7h3.4M200.7 599.0v3.4M195.7 600.7h3.4M197.4 599.0v3.4M188.9 594.1h3.4M190.6 592.4v3.4M179.4 591.0h3.4M181.1 589.3v3.4M175.0 588.1h3.4M176.7 586.4v3.4M194.6 599.4h3.4M196.3 597.7v3.4M181.6 591.0h3.4M183.3 589.3v3.4M187.2 592.6h3.4M188.9 590.9v3.4M158.6 562.6h3.4M160.3 560.9v3.4M150.7 540.5h3.4M152.4 538.8v3.4M161.1 569.0h3.4M162.8 567.3v3.4M179.2 589.5h3.4M180.9 587.8v3.4M178.6 589.5h3.4M180.3 587.8v3.4M156.9 558.8h3.4M158.6 557.1v3.4M156.3 557.6h3.4M158.0 555.9v3.4M200.4 602.8h3.4M202.1 601.1v3.4M149.5 536.8h3.4M151.2 535.1v3.4M199.0 600.7h3.4M200.7 599.0v3.4M190.1 594.1h3.4M191.8 592.4v3.4M178.6 589.5h3.4M180.3 587.8v3.4M203.0 602.8h3.4M204.7 601.1v3.4M184.8 592.6h3.4M186.5 590.9v3.4M145.8 528.8h3.4M147.5 527.1v3.4M199.8 602.8h3.4M201.5 601.1v3.4M169.3 585.4h3.4M171.0 583.7v3.4M198.5 600.7h3.4M200.2 599.0v3.4M192.5 596.9h3.4M194.2 595.2v3.4M153.4 547.8h3.4M155.1 546.1v3.4M147.7 531.6h3.4M149.4 529.9v3.4M146.6 530.2h3.4M148.3 528.5v3.4M190.6 594.1h3.4M192.3 592.4v3.4M191.2 594.1h3.4M192.9 592.4v3.4M158.6 562.6h3.4M160.3 560.9v3.4M151.9 544.1h3.4M153.6 542.4v3.4M166.6 581.1h3.4M168.3 579.4v3.4M191.7 595.6h3.4M193.4 593.9v3.4M188.3 594.1h3.4M190.0 592.4v3.4M195.6 600.7h3.4M197.3 599.0v3.4M201.4 602.8h3.4M203.1 601.1v3.4M189.1 594.1h3.4M190.8 592.4v3.4M193.8 598.2h3.4M195.5 596.5v3.4M146.3 528.8h3.4M148.0 527.1v3.4M145.8 528.8h3.4M147.5 527.1v3.4M195.3 599.4h3.4M197.0 597.7v3.4M181.2 591.0h3.4M182.9 589.3v3.4M164.3 576.9h3.4M166.0 575.2v3.4M152.8 546.6h3.4M154.5 544.9v3.4M164.6 576.9h3.4M166.3 575.2v3.4M165.0 578.2h3.4M166.7 576.5v3.4M174.1 588.1h3.4M175.8 586.4v3.4M171.4 586.8h3.4M173.1 585.1v3.4M157.1 558.8h3.4M158.8 557.1v3.4M150.2 539.2h3.4M151.9 537.5v3.4M157.2 558.8h3.4M158.9 557.1v3.4M152.8 546.6h3.4M154.5 544.9v3.4M151.2 541.7h3.4M152.9 540.0v3.4M169.4 585.4h3.4M171.1 583.7v3.4M152.9 546.6h3.4M154.6 544.9v3.4M191.7 595.6h3.4M193.4 593.9v3.4M176.9 589.5h3.4M178.6 587.8v3.4M172.0 586.8h3.4M173.7 585.1v3.4M182.4 591.0h3.4M184.1 589.3v3.4M159.0 563.9h3.4M160.7 562.2v3.4M146.8 530.2h3.4M148.5 528.5v3.4M150.0 538.0h3.4M151.7 536.3v3.4M164.9 578.2h3.4M166.6 576.5v3.4M166.3 579.6h3.4M168.0 577.9v3.4M160.0 566.5h3.4M161.7 564.8v3.4M163.1 574.3h3.4M164.8 572.6v3.4M193.7 598.2h3.4M195.4 596.5v3.4M145.9 528.8h3.4M147.6 527.1v3.4M171.4 586.8h3.4M173.1 585.1v3.4M167.6 582.5h3.4M169.3 580.8v3.4M161.7 570.3h3.4M163.4 568.6v3.4M187.4 594.1h3.4M189.1 592.4v3.4M158.4 562.6h3.4M160.1 560.9v3.4M147.8 532.9h3.4M149.5 531.2v3.4M154.6 551.5h3.4M156.3 549.8v3.4M202.0 602.8h3.4M203.7 601.1v3.4M165.4 578.2h3.4M167.1 576.5v3.4M152.2 544.1h3.4M153.9 542.4v3.4M201.6 602.8h3.4M203.3 601.1v3.4M182.7 591.0h3.4M184.4 589.3v3.4M200.8 602.8h3.4M202.5 601.1v3.4M164.6 576.9h3.4M166.3 575.2v3.4M192.3 595.6h3.4M194.0 593.9v3.4M147.8 531.6h3.4M149.5 529.9v3.4M159.2 563.9h3.4M160.9 562.2v3.4M191.4 595.6h3.4M193.1 593.9v3.4M175.3 589.5h3.4M177.0 587.8v3.4M191.1 594.1h3.4M192.8 592.4v3.4M167.7 582.5h3.4M169.4 580.8v3.4M196.1 600.7h3.4M197.8 599.0v3.4M149.9 538.0h3.4M151.6 536.3v3.4M181.5 591.0h3.4M183.2 589.3v3.4M156.3 557.6h3.4M158.0 555.9v3.4M156.9 558.8h3.4M158.6 557.1v3.4M196.5 600.7h3.4M198.2 599.0v3.4M170.3 585.4h3.4M172.0 583.7v3.4M192.4 596.9h3.4M194.1 595.2v3.4M161.8 570.3h3.4M163.5 568.6v3.4M187.7 594.1h3.4M189.4 592.4v3.4M197.9 600.7h3.4M199.6 599.0v3.4M181.7 591.0h3.4M183.4 589.3v3.4M159.0 563.9h3.4M160.7 562.2v3.4M184.1 592.6h3.4M185.8 590.9v3.4M200.5 602.8h3.4M202.2 601.1v3.4M191.8 595.6h3.4M193.5 593.9v3.4M171.1 586.8h3.4M172.8 585.1v3.4M168.5 584.0h3.4M170.2 582.3v3.4M151.1 541.7h3.4M152.8 540.0v3.4M189.9 594.1h3.4M191.6 592.4v3.4M154.6 551.5h3.4M156.3 549.8v3.4M158.0 561.3h3.4M159.7 559.6v3.4M147.3 531.6h3.4M149.0 529.9v3.4M154.9 552.7h3.4M156.6 551.0v3.4" stroke="#f01010" stroke-width="0.5" fill="none"/>
<path d="M146.1,526.1 H147.1 V527.4 H148.1 V528.7 H149.2 V529.9 H150.2 V531.2 H150.9 V532.6 H151.6 V533.9 H152.2 V535.3 H152.9 V536.7 H153.6 V538.0 H154.3 V539.4 H154.8 V540.7 H155.3 V542.0 H155.8 V543.2 H156.4 V544.5 H156.9 V545.8 H157.4 V547.0 H157.9 V548.3 H158.4 V549.6 H158.9 V550.9 H159.4 V552.2 H159.9 V553.5 H160.4 V554.8 H161.0 V556.0 H161.5 V557.3 H162.0 V558.6 H162.5 V559.9 H163.0 V561.2 H163.5 V562.5 H164.0 V563.7 H164.6 V565.0 H165.1 V566.3 H165.6 V567.5 H166.1 V568.8 H166.6 V570.1 H167.3 V571.5 H168.0 V572.8 H168.6 V574.2 H169.3 V575.5 H170.0 V576.9 H170.7 V578.2 H172.0 V579.6 H173.4 V580.9 H174.7 V582.3 H176.8 V583.7 H178.8 V585.0 H180.9 V586.4 H182.9 V587.8 H185.0 V589.1 H187.0 V590.5 H188.5 V591.8 H190.1 V593.0 H191.6 V594.3 H193.1 V595.6 H196.2 V597.2 H199.3 V598.7 H207.4 V599.7 H221.7 V600.7 H229.9 V602.8 H238.1 V603.8 H244.2 V605.8 H266.7 V605.8" fill="none" stroke="#111" stroke-width="1.0" />
<path d="M167.6 574.2h3.4M169.3 572.5v3.4M173.0 580.9h3.4M174.7 579.2v3.4M155.5 545.8h3.4M157.2 544.1v3.4M170.0 578.2h3.4M171.7 576.5v3.4M189.3 593.0h3.4M191.0 591.3v3.4M151.0 535.3h3.4M152.7 533.6v3.4M153.2 540.7h3.4M154.9 539.0v3.4M175.6 583.7h3.4M177.3 582.0v3.4M197.7 598.7h3.4M199.4 597.0v3.4M198.5 598.7h3.4M200.2 597.0v3.4M178.4 585.0h3.4M180.1 583.3v3.4M150.7 535.3h3.4M152.4 533.6v3.4M196.0 597.2h3.4M197.7 595.5v3.4M202.9 598.7h3.4M204.6 597.0v3.4M197.5 597.2h3.4M199.2 595.5v3.4M176.1 583.7h3.4M177.8 582.0v3.4M167.6 574.2h3.4M169.3 572.5v3.4M179.4 586.4h3.4M181.1 584.7v3.4M191.2 594.3h3.4M192.9 592.6v3.4M203.0 598.7h3.4M204.7 597.0v3.4M174.0 582.3h3.4M175.7 580.6v3.4M174.7 582.3h3.4M176.4 580.6v3.4M163.4 566.3h3.4M165.1 564.6v3.4M176.7 583.7h3.4M178.4 582.0v3.4M176.9 583.7h3.4M178.6 582.0v3.4M161.8 561.2h3.4M163.5 559.5v3.4M171.9 580.9h3.4M173.6 579.2v3.4M198.4 598.7h3.4M200.1 597.0v3.4M159.1 554.8h3.4M160.8 553.0v3.4M160.1 557.3h3.4M161.8 555.6v3.4M163.0 565.0h3.4M164.7 563.3v3.4M195.1 597.2h3.4M196.8 595.5v3.4M163.0 565.0h3.4M164.7 563.3v3.4M193.3 595.6h3.4M195.0 593.9v3.4M199.2 598.7h3.4M200.9 597.0v3.4M196.1 597.2h3.4M197.8 595.5v3.4M192.0 595.6h3.4M193.7 593.9v3.4M156.7 548.3h3.4M158.4 546.6v3.4M171.5 579.6h3.4M173.2 577.9v3.4M193.1 595.6h3.4M194.8 593.9v3.4M159.6 556.0h3.4M161.3 554.3v3.4M180.2 586.4h3.4M181.9 584.7v3.4M195.8 597.2h3.4M197.5 595.5v3.4M199.5 598.7h3.4M201.2 597.0v3.4M165.7 571.5h3.4M167.4 569.8v3.4M152.3 538.0h3.4M154.0 536.3v3.4M147.2 528.7h3.4M148.9 527.0v3.4M163.7 566.3h3.4M165.4 564.6v3.4M177.1 583.7h3.4M178.8 582.0v3.4M161.6 561.2h3.4M163.3 559.5v3.4M193.1 595.6h3.4M194.8 593.9v3.4M183.0 587.8h3.4M184.7 586.1v3.4M181.4 587.8h3.4M183.1 586.1v3.4M193.3 595.6h3.4M195.0 593.9v3.4M164.4 568.8h3.4M166.1 567.1v3.4M183.0 587.8h3.4M184.7 586.1v3.4M165.7 571.5h3.4M167.4 569.8v3.4M162.1 562.5h3.4M163.8 560.8v3.4M152.0 538.0h3.4M153.7 536.3v3.4M191.1 594.3h3.4M192.8 592.6v3.4M197.5 597.2h3.4M199.2 595.5v3.4M147.2 528.7h3.4M148.9 527.0v3.4M186.9 591.8h3.4M188.6 590.1v3.4M149.0 531.2h3.4M150.7 529.5v3.4M169.6 578.2h3.4M171.3 576.5v3.4M163.7 566.3h3.4M165.4 564.6v3.4M197.7 598.7h3.4M199.4 597.0v3.4M170.5 579.6h3.4M172.2 577.9v3.4M175.0 582.3h3.4M176.7 580.6v3.4M166.0 571.5h3.4M167.7 569.8v3.4M160.1 557.3h3.4M161.8 555.6v3.4M159.5 556.0h3.4M161.2 554.3v3.4M149.0 531.2h3.4M150.7 529.5v3.4M146.2 527.4h3.4M147.9 525.7v3.4M177.3 585.0h3.4M179.0 583.3v3.4M188.2 591.8h3.4M189.9 590.1v3.4M184.2 589.1h3.4M185.9 587.4v3.4M160.4 558.6h3.4M162.1 556.9v3.4M202.6 598.7h3.4M204.3 597.0v3.4M150.0 533.9h3.4M151.7 532.2v3.4M170.4 579.6h3.4M172.1 577.9v3.4M164.7 568.8h3.4M166.4 567.1v3.4M155.8 547.0h3.4M157.5 545.3v3.4M201.0 598.7h3.4M202.7 597.0v3.4M186.8 590.5h3.4M188.5 588.8v3.4M153.0 539.4h3.4M154.7 537.7v3.4M155.6 545.8h3.4M157.3 544.1v3.4M192.3 595.6h3.4M194.0 593.9v3.4M167.0 574.2h3.4M168.7 572.5v3.4M162.9 565.0h3.4M164.6 563.3v3.4M162.6 563.7h3.4M164.3 562.0v3.4M164.2 567.5h3.4M165.9 565.8v3.4M179.5 586.4h3.4M181.2 584.7v3.4M163.4 566.3h3.4M165.1 564.6v3.4M179.7 586.4h3.4M181.4 584.7v3.4M149.1 531.2h3.4M150.8 529.5v3.4M176.4 583.7h3.4M178.1 582.0v3.4M179.2 585.0h3.4M180.9 583.3v3.4M163.9 567.5h3.4M165.6 565.8v3.4M195.6 597.2h3.4M197.3 595.5v3.4M199.1 598.7h3.4M200.8 597.0v3.4M183.4 589.1h3.4M185.1 587.4v3.4M169.2 578.2h3.4M170.9 576.5v3.4M155.0 544.5h3.4M156.7 542.8v3.4M181.6 587.8h3.4M183.3 586.1v3.4M162.1 562.5h3.4M163.8 560.8v3.4M155.0 544.5h3.4M156.7 542.8v3.4M176.2 583.7h3.4M177.9 582.0v3.4M157.0 549.6h3.4M158.7 547.9v3.4M182.4 587.8h3.4M184.1 586.1v3.4M189.4 593.0h3.4M191.1 591.3v3.4M146.1 527.4h3.4M147.8 525.7v3.4M182.0 587.8h3.4M183.7 586.1v3.4M156.5 548.3h3.4M158.2 546.6v3.4M164.9 570.1h3.4M166.6 568.4v3.4M187.3 591.8h3.4M189.0 590.1v3.4M201.3 598.7h3.4M203.0 597.0v3.4M163.6 566.3h3.4M165.3 564.6v3.4M189.1 593.0h3.4M190.8 591.3v3.4M165.5 570.1h3.4M167.2 568.4v3.4M199.9 598.7h3.4M201.6 597.0v3.4M155.5 545.8h3.4M157.2 544.1v3.4M183.9 589.1h3.4M185.6 587.4v3.4M150.2 533.9h3.4M151.9 532.2v3.4M177.8 585.0h3.4M179.5 583.3v3.4M188.4 593.0h3.4M190.1 591.3v3.4M198.3 598.7h3.4M200.0 597.0v3.4M189.7 593.0h3.4M191.4 591.3v3.4M177.2 585.0h3.4M178.9 583.3v3.4M168.6 576.9h3.4M170.3 575.1v3.4M181.9 587.8h3.4M183.6 586.1v3.4M182.9 587.8h3.4M184.6 586.1v3.4M180.8 586.4h3.4M182.5 584.7v3.4M186.7 590.5h3.4M188.4 588.8v3.4M188.6 593.0h3.4M190.3 591.3v3.4M199.7 598.7h3.4M201.4 597.0v3.4M181.3 587.8h3.4M183.0 586.1v3.4M196.1 597.2h3.4M197.8 595.5v3.4M188.3 591.8h3.4M190.0 590.1v3.4M167.4 574.2h3.4M169.1 572.5v3.4M191.9 595.6h3.4M193.6 593.9v3.4M166.5 572.8h3.4M168.2 571.1v3.4M193.4 595.6h3.4M195.1 593.9v3.4M196.3 597.2h3.4M198.0 595.5v3.4M197.3 597.2h3.4M199.0 595.5v3.4M198.1 598.7h3.4M199.8 597.0v3.4M185.5 590.5h3.4M187.2 588.8v3.4M174.2 582.3h3.4M175.9 580.6v3.4M162.1 562.5h3.4M163.8 560.8v3.4M182.4 587.8h3.4M184.1 586.1v3.4M197.1 597.2h3.4M198.8 595.5v3.4M166.2 571.5h3.4M167.9 569.8v3.4M157.6 550.9h3.4M159.3 549.2v3.4M189.2 593.0h3.4M190.9 591.3v3.4M198.1 598.7h3.4M199.8 597.0v3.4M157.3 550.9h3.4M159.0 549.2v3.4M153.5 540.7h3.4M155.2 539.0v3.4M151.9 536.7h3.4M153.6 535.0v3.4M177.4 585.0h3.4M179.1 583.3v3.4M193.6 595.6h3.4M195.3 593.9v3.4M159.7 556.0h3.4M161.4 554.3v3.4M191.2 594.3h3.4M192.9 592.6v3.4M148.1 529.9h3.4M149.8 528.2v3.4M157.5 550.9h3.4M159.2 549.2v3.4M177.1 583.7h3.4M178.8 582.0v3.4M189.3 593.0h3.4M191.0 591.3v3.4M174.0 582.3h3.4M175.7 580.6v3.4M185.2 589.1h3.4M186.9 587.4v3.4M166.2 571.5h3.4M167.9 569.8v3.4M167.3 574.2h3.4M169.0 572.5v3.4M175.6 583.7h3.4M177.3 582.0v3.4M145.5 527.4h3.4M147.2 525.7v3.4M157.0 549.6h3.4M158.7 547.9v3.4M165.7 571.5h3.4M167.4 569.8v3.4M183.4 589.1h3.4M185.1 587.4v3.4M156.8 549.6h3.4M158.5 547.9v3.4M159.5 556.0h3.4M161.2 554.3v3.4M202.8 598.7h3.4M204.5 597.0v3.4M183.1 587.8h3.4M184.8 586.1v3.4M169.2 578.2h3.4M170.9 576.5v3.4M190.7 594.3h3.4M192.4 592.6v3.4M186.8 590.5h3.4M188.5 588.8v3.4M192.7 595.6h3.4M194.4 593.9v3.4M177.8 585.0h3.4M179.5 583.3v3.4M181.0 586.4h3.4M182.7 584.7v3.4M151.0 535.3h3.4M152.7 533.6v3.4M170.2 578.2h3.4M171.9 576.5v3.4M168.1 575.5h3.4M169.8 573.8v3.4M160.2 557.3h3.4M161.9 555.6v3.4M166.5 572.8h3.4M168.2 571.1v3.4M196.7 597.2h3.4M198.4 595.5v3.4M158.3 553.5h3.4M160.0 551.8v3.4M152.0 538.0h3.4M153.7 536.3v3.4M164.8 568.8h3.4M166.5 567.1v3.4M155.2 545.8h3.4M156.9 544.1v3.4M146.8 528.7h3.4M148.5 527.0v3.4M198.3 598.7h3.4M200.0 597.0v3.4M177.1 583.7h3.4M178.8 582.0v3.4M146.9 528.7h3.4M148.6 527.0v3.4M176.2 583.7h3.4M177.9 582.0v3.4" stroke="#111" stroke-width="0.5" fill="none"/>
<path d="M201.2 598.7h3.6M203.0 596.9v3.6M225.0 600.7h3.6M226.8 598.9v3.6M260.7 605.8h3.6M262.5 604.0v3.6M263.2 605.8h3.6M265.0 604.0v3.6M218.4 599.7h3.6M220.2 597.9v3.6M248.1 605.8h3.6M249.9 604.0v3.6M225.8 600.7h3.6M227.6 598.9v3.6M193.9 595.6h3.6M195.7 593.8v3.6M218.6 599.7h3.6M220.4 597.9v3.6M250.3 605.8h3.6M252.1 604.0v3.6M247.8 605.8h3.6M249.6 604.0v3.6M243.5 605.8h3.6M245.3 604.0v3.6" stroke="#111" stroke-width="0.5" fill="none"/>
<text x="220.40" y="546.49" font-size="5.8" text-anchor="middle" fill="#222" >Expression</text>
<line x1="238.70" y1="541.00" x2="249.30" y2="541.00" stroke="#555" stroke-width="1.0" />
<text x="253.20" y="543.09" font-size="5.8" text-anchor="start" fill="#222" >Low</text>
<line x1="238.70" y1="548.40" x2="249.30" y2="548.40" stroke="#f01010" stroke-width="1.0" />
<text x="253.20" y="550.49" font-size="5.8" text-anchor="start" fill="#222" >High</text>
<text x="140.20" y="640.66" font-size="4.6" text-anchor="middle" fill="#111" >At risk</text>
<text x="137.50" y="645.36" font-size="4.6" text-anchor="end" fill="#111" >Low</text>
<text x="137.50" y="649.96" font-size="4.6" text-anchor="end" fill="#f01010" >High</text>
<text x="146.80" y="645.36" font-size="4.6" text-anchor="middle" fill="#111" >761</text>
<text x="146.80" y="649.96" font-size="4.6" text-anchor="middle" fill="#f01010" >428</text>
<text x="166.58" y="645.36" font-size="4.6" text-anchor="middle" fill="#111" >292</text>
<text x="166.58" y="649.96" font-size="4.6" text-anchor="middle" fill="#f01010" >126</text>
<text x="186.36" y="645.36" font-size="4.6" text-anchor="middle" fill="#111" >99</text>
<text x="186.36" y="649.96" font-size="4.6" text-anchor="middle" fill="#f01010" >40</text>
<text x="206.14" y="645.36" font-size="4.6" text-anchor="middle" fill="#111" >34</text>
<text x="206.14" y="649.96" font-size="4.6" text-anchor="middle" fill="#f01010" >7</text>
<text x="225.92" y="645.36" font-size="4.6" text-anchor="middle" fill="#111" >19</text>
<text x="225.92" y="649.96" font-size="4.6" text-anchor="middle" fill="#f01010" >0</text>
<text x="245.70" y="645.36" font-size="4.6" text-anchor="middle" fill="#111" >10</text>
<text x="245.70" y="649.96" font-size="4.6" text-anchor="middle" fill="#f01010" >0</text>
<text x="265.48" y="645.36" font-size="4.6" text-anchor="middle" fill="#111" >0</text>
<text x="265.48" y="649.96" font-size="4.6" text-anchor="middle" fill="#f01010" >0</text>
<rect x="297.20" y="523.00" width="129.50" height="96.30" fill="none" stroke="#333" stroke-width="0.7" />
<line x1="302.50" y1="619.30" x2="302.50" y2="621.30" stroke="#333" stroke-width="0.6" />
<text x="302.50" y="627.03" font-size="6.2" text-anchor="middle" fill="#222" >0</text>
<line x1="322.20" y1="619.30" x2="322.20" y2="621.30" stroke="#333" stroke-width="0.6" />
<text x="322.20" y="627.03" font-size="6.2" text-anchor="middle" fill="#222" >20</text>
<line x1="341.90" y1="619.30" x2="341.90" y2="621.30" stroke="#333" stroke-width="0.6" />
<text x="341.90" y="627.03" font-size="6.2" text-anchor="middle" fill="#222" >40</text>
<line x1="361.60" y1="619.30" x2="361.60" y2="621.30" stroke="#333" stroke-width="0.6" />
<text x="361.60" y="627.03" font-size="6.2" text-anchor="middle" fill="#222" >60</text>
<line x1="381.30" y1="619.30" x2="381.30" y2="621.30" stroke="#333" stroke-width="0.6" />
<text x="381.30" y="627.03" font-size="6.2" text-anchor="middle" fill="#222" >80</text>
<line x1="401.00" y1="619.30" x2="401.00" y2="621.30" stroke="#333" stroke-width="0.6" />
<text x="401.00" y="627.03" font-size="6.2" text-anchor="middle" fill="#222" >100</text>
<line x1="420.70" y1="619.30" x2="420.70" y2="621.30" stroke="#333" stroke-width="0.6" />
<text x="420.70" y="627.03" font-size="6.2" text-anchor="middle" fill="#222" >120</text>
<line x1="295.20" y1="614.60" x2="297.20" y2="614.60" stroke="#333" stroke-width="0.6" />
<text x="294.20" y="616.83" font-size="6.2" text-anchor="end" fill="#222" >0.0</text>
<line x1="295.20" y1="597.02" x2="297.20" y2="597.02" stroke="#333" stroke-width="0.6" />
<text x="294.20" y="599.25" font-size="6.2" text-anchor="end" fill="#222" >0.2</text>
<line x1="295.20" y1="579.44" x2="297.20" y2="579.44" stroke="#333" stroke-width="0.6" />
<text x="294.20" y="581.67" font-size="6.2" text-anchor="end" fill="#222" >0.4</text>
<line x1="295.20" y1="561.86" x2="297.20" y2="561.86" stroke="#333" stroke-width="0.6" />
<text x="294.20" y="564.09" font-size="6.2" text-anchor="end" fill="#222" >0.6</text>
<line x1="295.20" y1="544.28" x2="297.20" y2="544.28" stroke="#333" stroke-width="0.6" />
<text x="294.20" y="546.51" font-size="6.2" text-anchor="end" fill="#222" >0.8</text>
<line x1="295.20" y1="526.70" x2="297.20" y2="526.70" stroke="#333" stroke-width="0.6" />
<text x="294.20" y="528.93" font-size="6.2" text-anchor="end" fill="#222" >1.0</text>
<text x="361.95" y="633.79" font-size="6.65" text-anchor="middle" fill="#222" >Disease free survival (months)</text>
<text x="361.95" y="520.08" font-size="6.9" text-anchor="middle" fill="#222" >INHBB</text>
<text x="423.00" y="529.39" font-size="5.8" text-anchor="end" fill="#222" >HR = 1.47 (1.14 - 1.9)</text>
<text x="423.00" y="534.69" font-size="5.8" text-anchor="end" fill="#222" >Logrank P = 0.00328</text>
<text x="283.49" y="570.70" font-size="6.65" text-anchor="middle" fill="#222" transform="rotate(-90 283.49 570.70)" >Probability</text>
<path d="M302.5,526.6 H302.9 V527.8 H303.4 V529.0 H303.8 V530.3 H304.3 V531.5 H304.7 V532.7 H305.0 V533.9 H305.3 V535.2 H305.6 V536.4 H305.9 V537.6 H306.2 V538.9 H306.5 V540.1 H306.8 V541.3 H307.1 V542.6 H307.4 V543.8 H307.7 V545.0 H308.0 V546.3 H308.2 V547.5 H308.5 V548.8 H308.8 V550.0 H309.1 V551.3 H309.4 V552.5 H309.6 V553.8 H309.9 V555.0 H310.2 V556.3 H310.4 V557.5 H310.6 V558.7 H310.8 V559.9 H310.9 V561.1 H311.1 V562.3 H311.3 V563.5 H311.5 V564.7 H311.7 V565.9 H311.9 V567.1 H312.1 V568.3 H312.3 V569.5 H312.4 V570.7 H312.6 V571.9 H312.8 V573.1 H313.0 V574.3 H313.3 V575.6 H313.5 V576.8 H313.8 V578.1 H314.0 V579.4 H314.3 V580.6 H314.5 V581.9 H314.8 V583.1 H315.0 V584.4 H315.3 V585.7 H315.5 V586.9 H315.8 V588.2 H316.1 V589.5 H316.3 V590.7 H316.6 V592.0 H316.9 V593.2 H317.1 V594.5 H317.4 V595.7 H317.7 V597.0 H318.0 V598.2 H318.2 V599.5 H318.5 V600.7 H322.0 V602.1 H325.5 V603.5 H326.4 V604.9 H327.4 V606.2 H328.3 V607.6 H339.3 V609.9 H344.9 V611.8 H367.1 V611.8" fill="none" stroke="#f01010" stroke-width="0.9" />
<path d="M364.7 611.8h3.2M366.3 610.2v3.2M326.1 606.2h3.2M327.7 604.6v3.2M346.6 611.8h3.2M348.2 610.2v3.2M353.9 611.8h3.2M355.5 610.2v3.2M360.7 611.8h3.2M362.3 610.2v3.2M357.3 611.8h3.2M358.9 610.2v3.2M357.4 611.8h3.2M359.0 610.2v3.2M323.5 602.1h3.2M325.1 600.5v3.2M325.9 606.2h3.2M327.5 604.6v3.2M341.3 609.9h3.2M342.9 608.3v3.2M309.5 561.1h3.2M311.1 559.5v3.2M321.5 602.1h3.2M323.1 600.5v3.2M325.5 604.9h3.2M327.1 603.3v3.2M315.0 590.7h3.2M316.6 589.1v3.2" stroke="#f01010" stroke-width="0.5" fill="none"/>
<path d="M302.5,526.6 H303.2 V528.2 H304.0 V529.8 H304.7 V531.4 H305.1 V532.8 H305.6 V534.2 H306.0 V535.5 H306.5 V536.9 H306.9 V538.3 H307.4 V539.7 H307.7 V541.0 H307.9 V542.2 H308.2 V543.5 H308.4 V544.7 H308.7 V546.0 H308.9 V547.2 H309.2 V548.5 H309.4 V549.7 H309.7 V551.0 H309.9 V552.2 H310.2 V553.5 H310.5 V554.9 H310.9 V556.3 H311.2 V557.7 H311.5 V559.1 H311.9 V560.5 H312.2 V561.9 H312.5 V563.1 H312.8 V564.3 H313.0 V565.5 H313.3 V566.8 H313.6 V568.0 H313.8 V569.2 H314.1 V570.4 H314.4 V571.6 H314.8 V572.8 H315.1 V574.0 H315.4 V575.2 H315.8 V576.5 H316.1 V577.7 H316.5 V578.9 H316.8 V580.1 H317.2 V581.3 H318.0 V582.7 H318.8 V584.1 H319.7 V585.4 H320.5 V586.8 H321.3 V588.2 H322.4 V589.6 H323.5 V591.0 H324.7 V592.4 H325.8 V593.8 H326.9 V595.2 H327.9 V596.6 H328.9 V598.0 H330.0 V599.3 H331.0 V600.7 H336.6 V602.1 H342.1 V603.5 H347.7 V604.9 H353.2 V606.2 H358.8 V607.1 H421.2 V607.1" fill="none" stroke="#111" stroke-width="0.9" />
<path d="M317.9 584.1h3.2M319.5 582.5v3.2M358.4 607.1h3.2M360.0 605.5v3.2M328.7 599.3h3.2M330.3 597.7v3.2M306.8 544.7h3.2M308.4 543.1v3.2M370.9 607.1h3.2M372.5 605.5v3.2M383.7 607.1h3.2M385.3 605.5v3.2M321.3 589.6h3.2M322.9 588.0v3.2M361.1 607.1h3.2M362.7 605.5v3.2M309.1 554.9h3.2M310.7 553.3v3.2M321.0 589.6h3.2M322.6 588.0v3.2M316.1 581.3h3.2M317.7 579.7v3.2M357.4 607.1h3.2M359.0 605.5v3.2M350.2 604.9h3.2M351.8 603.3v3.2M373.0 607.1h3.2M374.6 605.5v3.2" stroke="#111" stroke-width="0.5" fill="none"/>
<line x1="368.00" y1="605.50" x2="368.00" y2="608.70" stroke="#111" stroke-width="0.5" />
<line x1="378.00" y1="605.50" x2="378.00" y2="608.70" stroke="#111" stroke-width="0.5" />
<line x1="388.00" y1="605.50" x2="388.00" y2="608.70" stroke="#111" stroke-width="0.5" />
<line x1="398.00" y1="605.50" x2="398.00" y2="608.70" stroke="#111" stroke-width="0.5" />
<line x1="420.00" y1="605.50" x2="420.00" y2="608.70" stroke="#111" stroke-width="0.5" />
<text x="376.80" y="546.49" font-size="5.8" text-anchor="middle" fill="#222" >Expression</text>
<line x1="394.80" y1="540.50" x2="405.90" y2="540.50" stroke="#555" stroke-width="1.0" />
<text x="409.50" y="542.59" font-size="5.8" text-anchor="start" fill="#222" >Low</text>
<line x1="394.80" y1="548.00" x2="405.90" y2="548.00" stroke="#f01010" stroke-width="1.0" />
<text x="409.50" y="550.09" font-size="5.8" text-anchor="start" fill="#222" >High</text>
<text x="293.60" y="640.36" font-size="4.6" text-anchor="middle" fill="#111" >At risk</text>
<text x="291.00" y="645.36" font-size="4.6" text-anchor="end" fill="#111" >Low</text>
<text x="291.00" y="649.96" font-size="4.6" text-anchor="end" fill="#f01010" >High</text>
<text x="302.50" y="645.36" font-size="4.6" text-anchor="middle" fill="#111" >117</text>
<text x="302.50" y="649.96" font-size="4.6" text-anchor="middle" fill="#f01010" >161</text>
<text x="322.20" y="645.36" font-size="4.6" text-anchor="middle" fill="#111" >33</text>
<text x="322.20" y="649.96" font-size="4.6" text-anchor="middle" fill="#f01010" >19</text>
<text x="341.90" y="645.36" font-size="4.6" text-anchor="middle" fill="#111" >15</text>
<text x="341.90" y="649.96" font-size="4.6" text-anchor="middle" fill="#f01010" >7</text>
<text x="361.60" y="645.36" font-size="4.6" text-anchor="middle" fill="#111" >6</text>
<text x="361.60" y="649.96" font-size="4.6" text-anchor="middle" fill="#f01010" >1</text>
<text x="381.30" y="645.36" font-size="4.6" text-anchor="middle" fill="#111" >4</text>
<text x="381.30" y="649.96" font-size="4.6" text-anchor="middle" fill="#f01010" >0</text>
<text x="401.00" y="645.36" font-size="4.6" text-anchor="middle" fill="#111" >2</text>
<text x="401.00" y="649.96" font-size="4.6" text-anchor="middle" fill="#f01010" >0</text>
<text x="420.70" y="645.36" font-size="4.6" text-anchor="middle" fill="#111" >0</text>
<text x="420.70" y="649.96" font-size="4.6" text-anchor="middle" fill="#f01010" >0</text>
<!-- pm -->
<text x="443.60" y="521.60" font-size="13.5" text-anchor="start" font-weight="bold" fill="#000" >m</text>
<text x="585.20" y="516.20" font-size="8.9" text-anchor="middle" fill="#222" >Activin Receptor Signaling Pathway</text>
<rect x="487.90" y="521.40" width="194.50" height="96.00" fill="#fff" stroke="#333" stroke-width="0.8" />
<line x1="485.90" y1="609.20" x2="487.90" y2="609.20" stroke="#333" stroke-width="0.6" />
<text x="485.10" y="611.79" font-size="7.2" text-anchor="end" fill="#333" >0.0</text>
<line x1="485.90" y1="592.48" x2="487.90" y2="592.48" stroke="#333" stroke-width="0.6" />
<text x="485.10" y="595.07" font-size="7.2" text-anchor="end" fill="#333" >0.1</text>
<line x1="485.90" y1="575.76" x2="487.90" y2="575.76" stroke="#333" stroke-width="0.6" />
<text x="485.10" y="578.35" font-size="7.2" text-anchor="end" fill="#333" >0.2</text>
<line x1="485.90" y1="559.04" x2="487.90" y2="559.04" stroke="#333" stroke-width="0.6" />
<text x="485.10" y="561.63" font-size="7.2" text-anchor="end" fill="#333" >0.3</text>
<line x1="485.90" y1="542.32" x2="487.90" y2="542.32" stroke="#333" stroke-width="0.6" />
<text x="485.10" y="544.91" font-size="7.2" text-anchor="end" fill="#333" >0.4</text>
<line x1="485.90" y1="525.60" x2="487.90" y2="525.60" stroke="#333" stroke-width="0.6" />
<text x="485.10" y="528.19" font-size="7.2" text-anchor="end" fill="#333" >0.5</text>
<line x1="487.90" y1="609.20" x2="682.40" y2="609.20" stroke="#111" stroke-width="1.1" stroke-dasharray="3.5 2.5"/>
<defs><linearGradient id="gsea" gradientUnits="userSpaceOnUse" x1="0" y1="526" x2="0" y2="609"><stop offset="0" stop-color="#e2443a"/><stop offset="0.35" stop-color="#d0604a"/><stop offset="0.65" stop-color="#a59060"/><stop offset="0.85" stop-color="#7fbf7a"/><stop offset="1" stop-color="#78c47c"/></linearGradient><linearGradient id="gbar" x1="0" y1="0" x2="1" y2="0"><stop offset="0" stop-color="#e49a9a"/><stop offset="0.12" stop-color="#f2caca"/><stop offset="0.14" stop-color="#fbf0f0"/><stop offset="0.3" stop-color="#ffffff"/><stop offset="0.6" stop-color="#fafafd"/><stop offset="0.64" stop-color="#e3e6f6"/><stop offset="0.9" stop-color="#d6dcf2"/><stop offset="0.93" stop-color="#9aa6e0"/><stop offset="1" stop-color="#8a98dc"/></linearGradient></defs>
<path d="M488.9,609.5 L489.6,583.8 L491.0,583.8 L491.2,562.5 L496.1,567.4 L496.8,551.0 L502.0,556.9 L503.0,543.8 L506.6,547.0 L507.0,535.6 L508.6,537.2 L509.3,526.7 L519.1,531.9 L519.6,534.0 L527.3,536.2 L527.8,538.2 L538.8,546.4 L542.3,548.0 L544.4,550.3 L547.1,550.8 L551.2,552.5 L552.4,554.0 L605.1,597.0 L608.1,598.0 L609.0,599.8 L612.0,600.5 L614.1,601.8 L615.3,597.6 L616.5,599.5 L618.3,596.6 L620.1,596.3 L628.0,600.0 L634.1,603.6 L644.0,611.8 L645.2,606.8 L652.1,611.8 L653.1,605.5 L659.0,610.1 L662.6,608.8 L663.5,603.0 L667.1,595.3 L682.4,609.6" fill="none" stroke="url(#gsea)" stroke-width="1.5" stroke-linejoin="round"/>
<text x="665.30" y="536.12" font-size="7.0" text-anchor="end" fill="#222" >NES: 1.28</text>
<text x="665.30" y="546.32" font-size="7.0" text-anchor="end" fill="#222" >Pvalue: &lt; 0.001</text>
<text x="665.30" y="556.82" font-size="7.0" text-anchor="end" fill="#222" >FDR 0.11</text>
<text x="470.97" y="567.40" font-size="7.7" text-anchor="middle" fill="#222" transform="rotate(-90 470.97 567.40)" >Running Enrichment Score</text>
<rect x="487.90" y="636.30" width="194.50" height="6.70" fill="url(#gbar)" stroke="none" stroke-width="1" />
<path d="M488.4 619.6V636.3M489.9 619.6V636.3M492.0 619.6V636.3M495.6 619.6V636.3M498.6 619.6V636.3M503.3 619.6V636.3M505.4 619.6V636.3M507.5 619.6V636.3M509.3 619.6V636.3M518.9 619.6V636.3M527.3 619.6V636.3M542.3 619.6V636.3M544.4 619.6V636.3M551.2 619.6V636.3M552.4 619.6V636.3M605.1 619.6V636.3M608.1 619.6V636.3M614.1 619.6V636.3M615.3 619.6V636.3M616.5 619.6V636.3M618.3 619.6V636.3M620.1 619.6V636.3M634.1 619.6V636.3M644.0 619.6V636.3M652.1 619.6V636.3M659.0 619.6V636.3M662.6 619.6V636.3M667.1 619.6V636.3" stroke="#111" stroke-width="0.7" fill="none"/>
<path d="M614.1 620V636.3M615.3 620V636.3" stroke="#111" stroke-width="1.0" fill="none"/>
<rect x="487.90" y="619.60" width="194.50" height="23.40" fill="none" stroke="#333" stroke-width="0.8" />
<text x="488.40" y="651.13" font-size="6.2" text-anchor="start" fill="#222" >HFD+STZ</text>
<text x="585.20" y="654.54" font-size="9.0" text-anchor="middle" fill="#222" >Rank in Ordered Dataset</text>
<text x="681.10" y="651.13" font-size="6.2" text-anchor="end" fill="#222" >Chow</text>
<!-- pn -->
<text x="0.40" y="667.00" font-size="13.5" text-anchor="start" font-weight="bold" fill="#000" >n</text>
<line x1="28.00" y1="670.81" x2="28.00" y2="752.80" stroke="#000" stroke-width="0.9" />
<line x1="28.00" y1="752.80" x2="121.21" y2="752.80" stroke="#000" stroke-width="0.9" />
<line x1="25.60" y1="752.80" x2="28.00" y2="752.80" stroke="#000" stroke-width="0.9" />
<text x="24.60" y="755.25" font-size="6.8" text-anchor="end" fill="#000" >0</text>
<line x1="25.60" y1="725.47" x2="28.00" y2="725.47" stroke="#000" stroke-width="0.9" />
<text x="24.60" y="727.92" font-size="6.8" text-anchor="end" fill="#000" >1</text>
<line x1="25.60" y1="698.14" x2="28.00" y2="698.14" stroke="#000" stroke-width="0.9" />
<text x="24.60" y="700.59" font-size="6.8" text-anchor="end" fill="#000" >2</text>
<line x1="25.60" y1="670.81" x2="28.00" y2="670.81" stroke="#000" stroke-width="0.9" />
<text x="24.60" y="673.26" font-size="6.8" text-anchor="end" fill="#000" >3</text>
<line x1="29.40" y1="752.80" x2="29.40" y2="755.20" stroke="#000" stroke-width="0.9" />
<text x="29.40" y="762.25" font-size="6.8" text-anchor="middle" fill="#000" >0</text>
<line x1="59.67" y1="752.80" x2="59.67" y2="755.20" stroke="#000" stroke-width="0.9" />
<text x="59.67" y="762.25" font-size="6.8" text-anchor="middle" fill="#000" >24</text>
<line x1="89.94" y1="752.80" x2="89.94" y2="755.20" stroke="#000" stroke-width="0.9" />
<text x="89.94" y="762.25" font-size="6.8" text-anchor="middle" fill="#000" >48</text>
<line x1="120.21" y1="752.80" x2="120.21" y2="755.20" stroke="#000" stroke-width="0.9" />
<text x="120.21" y="762.25" font-size="6.8" text-anchor="middle" fill="#000" >72</text>
<text x="75.80" y="772.82" font-size="7.0" text-anchor="middle" font-weight="bold" fill="#000" >Time (h)</text>
<text x="18.05" y="711.00" font-size="6.8" text-anchor="middle" fill="#000" transform="rotate(-90 18.05 711.00)" >OD Value</text>
<line x1="120.21" y1="688.57" x2="120.21" y2="679.28" stroke="#f44a2c" stroke-width="0.8" />
<line x1="118.21" y1="679.28" x2="122.21" y2="679.28" stroke="#f44a2c" stroke-width="0.8" />
<line x1="120.21" y1="698.96" x2="120.21" y2="693.49" stroke="#3f5cf2" stroke-width="0.8" />
<line x1="118.21" y1="693.49" x2="122.21" y2="693.49" stroke="#3f5cf2" stroke-width="0.8" />
<line x1="118.21" y1="698.96" x2="122.21" y2="698.96" stroke="#3f5cf2" stroke-width="0.8" />
<path d="M29.4,747.3 L59.7,741.6 L89.9,726.0 L120.2,683.9" fill="none" stroke="#f44a2c" stroke-width="0.9" />
<path d="M29.4,747.6 L59.7,742.7 L89.9,730.7 L120.2,696.2" fill="none" stroke="#3f5cf2" stroke-width="0.9" />
<circle cx="29.40" cy="747.33" r="2.00" fill="#f44a2c" />
<circle cx="59.67" cy="741.59" r="2.00" fill="#f44a2c" />
<circle cx="89.94" cy="726.02" r="2.00" fill="#f44a2c" />
<circle cx="120.21" cy="683.93" r="2.00" fill="#f44a2c" />
<circle cx="29.40" cy="747.61" r="2.00" fill="#3f5cf2" />
<circle cx="59.67" cy="742.69" r="2.00" fill="#3f5cf2" />
<circle cx="89.94" cy="730.66" r="2.00" fill="#3f5cf2" />
<circle cx="120.21" cy="696.23" r="2.00" fill="#3f5cf2" />
<line x1="32.50" y1="674.00" x2="41.00" y2="674.00" stroke="#3f5cf2" stroke-width="0.9" />
<circle cx="36.80" cy="674.00" r="2.00" fill="#3f5cf2" />
<text x="45.50" y="676.30" font-size="6.4" text-anchor="start" fill="#000" >NC</text>
<line x1="32.50" y1="684.80" x2="41.00" y2="684.80" stroke="#f44a2c" stroke-width="0.9" />
<circle cx="36.80" cy="684.80" r="2.00" fill="#f44a2c" />
<text x="45.50" y="687.10" font-size="6.4" text-anchor="start" fill="#000" >Activin B</text>
<line x1="73.60" y1="673.30" x2="73.60" y2="685.50" stroke="#000" stroke-width="0.9" />
<text x="76.40" y="681.98" font-size="6.6" text-anchor="start" fill="#000" >p &lt; 0.0001</text>
<!-- po -->
<text x="134.20" y="668.60" font-size="13.5" text-anchor="start" font-weight="bold" fill="#000" >o</text>
<defs><filter id="cblur" x="-5%" y="-5%" width="110%" height="110%"><feGaussianBlur stdDeviation="0.35"/></filter></defs>
<defs><clipPath id="cpo0"><rect x="138.3" y="672.0" width="120.7" height="88.2"/></clipPath></defs>
<g clip-path="url(#cpo0)">
<rect x="138.30" y="672.00" width="120.70" height="88.20" fill="#f1eff3" stroke="none" stroke-width="1" />
<path d="M235 701h0M167 745h0M152 714h0M206 726h0M156 728h0M199 747h0M142 756h0M159 744h0M200 746h0M160 700h0M149 741h0M203 690h0M161 679h0M162 721h0M191 734h0M148 746h0M257 737h0M228 747h0M150 713h0M148 741h0M203 681h0M192 741h0M205 683h0M251 677h0M240 758h0M229 755h0M202 691h0M195 737h0M231 706h0M253 675h0M198 675h0M182 759h0M153 759h0M248 733h0M145 714h0M222 680h0M174 680h0M240 753h0M250 738h0M208 677h0M196 739h0M230 674h0M139 680h0M250 682h0M185 714h0M245 684h0M170 740h0M149 686h0M141 757h0M166 716h0M184 759h0M224 725h0M197 696h0M240 681h0M213 698h0M172 712h0M161 724h0M147 674h0M155 680h0M244 717h0M220 741h0M158 756h0M185 713h0M197 733h0M231 689h0M238 710h0M169 748h0M244 748h0M177 753h0M232 758h0M229 760h0M196 738h0M233 718h0M199 707h0M243 705h0M228 722h0M224 699h0M148 732h0M156 704h0M233 676h0M248 724h0M206 732h0M145 674h0M225 724h0M215 745h0M171 686h0M255 677h0M201 727h0M254 680h0M223 679h0M193 727h0M241 676h0M229 685h0M187 759h0M241 679h0M139 675h0M233 675h0M233 743h0M237 755h0M215 745h0M204 731h0M147 721h0M258 706h0M225 688h0M196 720h0M231 700h0M195 689h0M208 755h0M185 730h0M205 689h0M222 691h0M212 760h0M175 731h0M179 729h0M161 716h0M233 691h0M181 692h0M157 731h0M239 718h0M192 699h0M167 755h0M196 732h0M172 687h0M139 698h0M189 718h0M213 733h0M244 743h0M221 743h0M204 714h0M249 751h0M185 749h0M190 738h0M141 724h0M253 711h0M243 732h0M141 679h0M178 758h0M218 725h0M242 703h0M156 711h0M248 687h0M198 698h0M181 680h0M248 695h0M234 687h0M190 674h0M209 717h0M190 690h0M215 675h0M251 715h0M212 709h0M141 675h0M226 715h0M172 719h0M243 717h0M201 724h0M244 675h0M218 723h0M225 687h0M238 742h0M172 756h0M145 720h0M149 689h0M215 734h0M196 694h0M204 712h0M185 708h0M194 705h0M153 716h0M173 742h0M254 738h0M178 714h0M228 692h0M235 676h0M255 721h0M232 725h0M241 709h0M149 690h0M228 759h0M166 715h0M233 699h0M167 739h0M152 701h0M210 716h0M253 715h0M188 689h0M237 676h0M140 704h0M235 694h0M195 680h0M172 755h0M242 680h0M254 713h0M155 704h0M254 688h0M230 755h0M249 739h0M250 682h0M222 757h0M201 673h0M173 711h0M188 736h0M159 673h0M218 759h0M197 732h0M224 731h0M234 675h0M223 710h0M185 743h0M154 753h0M236 746h0M249 691h0M210 752h0M204 732h0M151 731h0M141 717h0M142 699h0M152 696h0M154 732h0M202 740h0M236 735h0M211 718h0M231 710h0M184 707h0M141 690h0M213 707h0M190 680h0M157 749h0M235 704h0M249 722h0M229 686h0M254 712h0M155 678h0M146 672h0M232 742h0M171 698h0M248 692h0M247 745h0M188 712h0M187 704h0M223 732h0M258 683h0M176 719h0M234 760h0M237 680h0M230 691h0M190 679h0M142 710h0M244 698h0M142 733h0M172 680h0M163 750h0M247 716h0M196 733h0M180 706h0M232 731h0M245 722h0M238 746h0M167 729h0M205 686h0M165 707h0M253 675h0M255 756h0M187 727h0M175 676h0M141 736h0M166 717h0M173 673h0M186 713h0M254 717h0M256 707h0M240 718h0M141 753h0M221 723h0M191 673h0M244 677h0M151 740h0M174 702h0M171 713h0M234 701h0M154 721h0M181 751h0M146 709h0M189 743h0M161 742h0M205 745h0M236 716h0M225 684h0M229 691h0M206 687h0M253 707h0M217 717h0M222 689h0M232 706h0M216 754h0M218 739h0M197 714h0M248 714h0M143 700h0M196 673h0M150 722h0M159 755h0M153 699h0M150 706h0M139 726h0M155 682h0M181 682h0M169 755h0M177 734h0M218 731h0M193 711h0M217 685h0M144 681h0M141 713h0M149 712h0M207 693h0M220 717h0M177 718h0M142 720h0M159 756h0M205 719h0M164 679h0M157 703h0M159 750h0M174 709h0M185 704h0M160 732h0M239 722h0M166 740h0M142 733h0M191 689h0M256 678h0M177 730h0M144 739h0M138 688h0M244 676h0M243 686h0M184 698h0M217 728h0M159 695h0M197 752h0M196 729h0M236 732h0M241 706h0M226 681h0M163 678h0M241 687h0M195 701h0M172 684h0M191 716h0M202 732h0M244 719h0M204 688h0M184 699h0M223 683h0M195 692h0M246 687h0M208 700h0M211 674h0M232 697h0M186 724h0M251 722h0M202 680h0M158 688h0M242 674h0M236 701h0M231 713h0M249 706h0M158 704h0M210 685h0M216 746h0M139 758h0M179 723h0M250 727h0M252 737h0M246 740h0M200 693h0M215 746h0M145 743h0M188 690h0M150 738h0M190 675h0M167 676h0M172 686h0M189 679h0M139 731h0M252 736h0M153 757h0M239 756h0M185 718h0M211 760h0M252 701h0M141 724h0M229 678h0M246 679h0M221 741h0M256 697h0M199 681h0M223 757h0M251 673h0M153 760h0M251 737h0M231 710h0M214 752h0M192 706h0M172 712h0M209 692h0M156 692h0M153 685h0M190 739h0M186 732h0M199 719h0M250 685h0M217 698h0M176 727h0M258 675h0M175 752h0M161 712h0M167 684h0M223 749h0M216 735h0M173 747h0M179 692h0M211 688h0M239 707h0M244 728h0M255 687h0M168 725h0M167 722h0M169 731h0M234 752h0M225 689h0M169 753h0M217 682h0M219 698h0M229 678h0M239 698h0M257 756h0M170 744h0M187 756h0M190 730h0M251 676h0M200 756h0M254 753h0M212 738h0M243 713h0M142 740h0M241 714h0M215 676h0M250 714h0M159 699h0M169 705h0M191 734h0M237 680h0M208 739h0M179 702h0M148 717h0M154 729h0M141 755h0M217 688h0M202 695h0M192 745h0M238 725h0M224 723h0M143 757h0M154 739h0M199 748h0M167 738h0M246 696h0M172 747h0M193 707h0M208 737h0M139 759h0M193 672h0M209 710h0M182 722h0M149 729h0M177 734h0M172 700h0M258 745h0" stroke="#54444e" stroke-width="1.4" stroke-linecap="round" fill="none" stroke-opacity="0.55"/>
<g filter="url(#cblur)">
<path d="M213 707 214 702 210 701 216 695 215 702ZM226 691 220 691 214 688 221 688ZM150 691 150 688 156 684 152 689ZM247 740 254 739 254 735 256 739 253 740ZM202 698 196 698 192 696 196 696ZM153 716 153 710 149 711 156 708 156 712ZM178 758 178 753 179 747 179 753ZM254 707 258 703 265 699 259 704ZM145 725 147 717 150 714 149 718ZM209 685 206 681 207 679 208 681ZM204 705 204 701 208 694 207 702ZM188 750 183 749 183 752 177 745 184 747ZM160 731 158 724 154 728 160 720 161 724ZM234 689 236 685 235 684 239 684 237 687ZM140 723 143 716 149 710 145 717ZM202 742 196 739 195 734 199 736ZM252 734 245 732 242 735 243 730 246 730ZM242 739 246 737 243 733 251 737 246 739ZM220 769 217 762 218 758 220 761ZM186 755 181 755 182 756 178 752 183 752ZM228 755 222 754 218 751 223 751ZM268 685 261 683 260 685 258 679 262 680ZM179 749 181 742 186 738 184 743ZM189 675 196 672 194 671 204 671 197 674ZM206 715 209 709 213 706 211 710ZM149 735 151 731 158 726 153 733ZM161 713 158 710 155 704 160 710ZM240 689 236 688 236 685 239 686ZM140 762 135 760 130 761 131 755 136 758ZM188 752 182 749 179 752 181 746 184 746ZM173 728 173 723 175 717 175 724ZM237 764 233 760 232 755 235 759ZM204 739 205 734 201 730 208 732 207 735ZM147 716 146 713 149 709 149 714ZM202 676 198 676 195 680 191 674 198 674ZM244 705 244 699 239 700 246 691 246 699ZM254 721 252 717 255 711 255 718ZM136 733 139 730 137 729 142 730 140 732ZM196 770 198 764 201 761 200 765Z" fill="#2a1a9e"/><path d="M241 673 237 670 237 674 233 663 239 668ZM160 765 158 762 161 758 162 762ZM234 748 238 745 237 742 245 746 239 749ZM178 728 175 727 169 722 176 725ZM252 679 256 676 256 673 262 676 258 679ZM134 699 134 694 137 688 136 695ZM227 692 224 688 223 689 223 683 226 687ZM155 729 151 724 151 719 154 723ZM154 732 154 726 159 721 157 728ZM255 717 250 717 248 715 251 715ZM254 679 248 680 241 678 248 678ZM222 751 223 744 219 742 227 740 226 745ZM229 705 230 701 234 697 232 702ZM231 710 232 705 226 702 234 701 234 705ZM145 749 150 745 149 741 153 746 151 748ZM267 741 261 741 254 739 262 739ZM242 688 234 690 231 688 235 687ZM141 753 138 750 135 752 138 743 141 749ZM243 690 246 685 251 682 248 687ZM138 749 141 745 146 745 142 748ZM180 686 179 684 174 684 179 677 181 683ZM240 670 242 668 238 665 248 666 242 669ZM216 762 213 760 211 756 215 758ZM194 741 196 739 204 740 197 742ZM212 738 207 737 206 738 205 735 208 735ZM256 744 255 737 254 735 257 732 258 738ZM240 762 243 758 248 754 244 760ZM178 713 175 707 176 705 177 707ZM215 746 217 742 215 742 223 736 218 743ZM223 751 223 746 225 742 225 747ZM136 699 142 696 144 694 148 697 143 699ZM260 720 253 720 252 723 250 718 253 718ZM242 718 245 716 245 715 249 716 246 718ZM190 730 185 727 183 724 186 725ZM258 674 258 669 260 663 260 670ZM163 724 160 717 160 712 162 717ZM132 724 136 720 142 717 137 722Z" fill="#4b35e6"/><path d="M153 742 149 736 149 732 151 735ZM146 692 142 691 140 687 144 689ZM224 702 221 700 217 695 222 699ZM168 764 165 763 163 763 162 759 167 761ZM245 726 238 726 232 723 238 723ZM257 738 253 734 251 737 254 731 256 733ZM194 678 192 673 188 677 193 671 195 673ZM257 737 257 729 256 728 259 723 260 730ZM239 764 233 764 229 763 234 762ZM134 743 134 739 138 732 137 739ZM244 688 249 683 254 682 250 686ZM216 686 217 683 221 682 219 686ZM170 698 162 698 156 695 163 695ZM230 769 233 762 229 762 239 757 235 764ZM226 757 221 758 220 760 214 755 221 755ZM146 699 146 696 144 693 148 693 148 697ZM257 706 251 704 250 706 245 700 252 702ZM221 711 218 711 218 714 211 708 219 709ZM225 685 224 682 221 681 227 678 227 683ZM236 717 238 713 236 711 242 711 240 715ZM169 695 172 688 166 687 177 683 174 689ZM241 739 247 736 251 737 247 739ZM239 718 241 714 240 713 246 711 243 716ZM152 697 148 696 145 698 145 692 149 694ZM168 742 168 738 163 739 172 735 171 740ZM218 717 222 713 221 708 226 714 223 716ZM141 732 139 729 140 726 142 729ZM244 693 241 688 239 690 241 683 244 688ZM145 762 147 761 152 761 148 763ZM248 705 248 701 247 699 251 696 251 702ZM260 693 255 691 251 686 256 689ZM185 730 178 726 177 728 174 721 180 725ZM191 719 193 716 191 715 195 715 194 718ZM202 705 203 699 200 698 207 692 205 699ZM209 683 202 680 198 676 204 679ZM250 737 243 738 243 742 240 737 243 736ZM130 763 134 756 134 755 139 754 137 759ZM205 688 208 686 209 679 213 684 209 687ZM199 681 195 681 190 676 197 678ZM200 756 203 751 201 751 208 748 205 753ZM196 742 194 739 192 740 193 733 196 739ZM253 744 247 743 244 740 248 740ZM250 702 246 701 244 704 242 695 248 699Z" fill="#3622c8"/><path d="M176 765 175 760 173 759 178 753 178 760ZM140 761 134 755 133 752 136 754ZM166 759 172 756 172 753 178 755 172 758ZM155 750 151 746 149 738 154 744ZM211 715 208 710 207 703 210 709ZM131 718 134 712 140 707 136 714ZM155 714 151 710 151 705 154 708ZM184 757 186 750 182 749 190 744 187 751ZM199 756 194 753 191 752 192 746 197 751ZM159 737 159 730 161 727 161 730ZM149 755 150 751 152 748 151 752ZM163 698 163 691 165 687 166 691ZM230 717 224 715 221 711 225 713ZM233 738 236 732 238 731 238 734ZM246 714 248 711 246 710 253 706 249 712ZM256 698 250 693 247 695 249 688 252 691ZM215 713 218 705 222 701 220 706ZM198 683 195 678 193 678 195 672 198 678ZM247 708 244 709 241 707 244 707ZM197 743 193 741 191 739 194 740ZM167 692 170 685 175 681 172 687ZM205 673 210 671 215 671 210 673ZM247 727 251 723 250 723 258 721 252 725ZM147 751 150 745 155 741 151 747ZM261 677 257 670 257 665 260 669ZM253 733 253 726 255 724 255 727ZM205 740 200 740 196 737 200 738ZM245 691 238 691 234 689 238 689ZM188 747 187 742 184 744 190 739 190 743ZM163 715 168 712 172 712 169 714ZM164 742 169 739 173 740 169 742ZM172 730 169 724 163 722 169 720 170 723ZM169 715 164 713 163 710 166 711ZM244 734 242 735 243 738 235 731 242 732ZM263 728 259 726 256 727 256 723 260 724ZM242 701 242 694 244 689 245 694ZM158 747 161 740 164 737 162 741ZM131 709 134 702 131 703 137 699 135 703ZM157 751 151 753 150 755 144 751 151 750ZM262 694 257 691 254 685 260 689Z" fill="#5844ee"/><path d="M151 724 145 722 140 719 146 720ZM226 730 229 725 228 725 232 725 231 728ZM200 764 204 762 210 761 204 764ZM236 752 241 748 241 743 245 748 243 751ZM254 725 251 722 251 718 254 722ZM259 757 262 749 259 748 266 745 264 751ZM147 752 143 751 140 749 143 749ZM246 764 249 762 254 761 250 764ZM212 762 215 759 220 758 215 761ZM257 749 251 748 248 746 252 746ZM221 686 223 680 222 679 227 673 225 681ZM158 696 154 695 149 691 155 693ZM218 691 214 689 212 690 211 685 215 687ZM185 673 184 669 185 664 186 670ZM253 734 246 731 239 726 246 729ZM259 714 256 713 254 708 258 711ZM207 748 212 745 216 744 213 746ZM236 743 231 742 232 745 226 737 232 740ZM248 752 243 751 243 752 241 749 244 749ZM264 678 260 676 258 676 259 672 262 675ZM258 703 259 700 258 697 263 694 261 700ZM182 698 179 692 176 694 178 684 182 691ZM241 745 246 739 243 735 252 735 247 740ZM174 712 178 705 176 704 182 704 180 707ZM187 740 182 733 178 736 181 727 185 732ZM231 760 234 756 233 752 238 755 236 758ZM179 678 184 675 181 671 189 676 185 678ZM194 677 191 677 187 672 192 675ZM258 696 250 696 248 696 244 692 251 692ZM255 755 249 755 242 751 249 752ZM144 757 140 754 139 756 137 750 141 753ZM198 762 193 760 186 757 193 759ZM180 767 179 761 183 755 182 762ZM167 716 163 712 161 707 165 711ZM213 692 208 689 207 685 210 687ZM253 722 251 721 250 718 252 720ZM244 680 236 680 238 683 232 678 237 677ZM244 729 244 723 242 722 246 717 246 723ZM179 749 182 746 182 742 185 746 183 748ZM142 761 140 758 141 755 143 757ZM186 748 185 746 187 740 187 746Z" fill="#4a2cc0"/><path d="M212 719 208 714 202 714 206 708 210 713ZM165 744 162 743 160 748 160 739 164 741ZM242 702 239 701 237 696 241 699ZM169 705 164 705 163 710 162 703 165 703ZM173 742 176 738 181 735 177 739ZM146 692 145 688 141 687 145 682 147 688ZM150 718 143 713 141 709 145 711ZM150 743 151 740 147 738 154 740 153 742ZM260 712 258 706 260 703 261 706ZM187 678 183 675 183 669 186 673ZM158 727 155 723 151 721 155 716 158 722ZM228 734 223 729 223 724 226 727ZM245 756 244 751 248 747 247 753ZM157 752 150 749 145 745 151 747ZM183 711 176 712 173 715 171 709 176 708ZM197 761 192 755 191 751 194 754ZM216 700 210 696 209 698 207 690 213 694ZM150 723 153 720 156 720 154 722ZM150 722 155 719 150 717 160 719 155 722ZM140 750 145 748 153 750 145 751ZM200 691 197 687 197 683 199 686ZM187 764 187 760 186 759 189 753 189 760ZM140 725 137 725 134 727 136 721 139 722ZM251 757 255 755 255 751 259 757 254 759ZM153 708 149 705 146 710 146 698 151 704ZM155 744 156 738 153 734 158 736 158 739ZM148 693 148 688 145 688 153 683 151 689ZM220 710 223 707 221 704 230 704 224 709ZM155 706 150 703 149 706 145 698 151 702ZM193 685 200 683 208 684 200 685ZM134 712 138 710 143 712 138 713ZM152 741 155 740 157 741 154 742ZM219 713 221 710 226 710 222 713ZM136 760 133 753 132 754 134 747 136 752ZM191 758 187 756 184 749 190 754ZM173 734 171 729 172 722 174 729ZM137 690 140 689 144 689 141 691ZM137 728 138 723 136 722 142 717 140 724ZM169 756 172 750 171 749 176 749 175 752ZM193 693 191 686 186 687 191 678 193 686Z" fill="#3d28d0"/>
</g></g>
<defs><clipPath id="cpo1"><rect x="260.7" y="672.0" width="119.2" height="88.2"/></clipPath></defs>
<g clip-path="url(#cpo1)">
<rect x="260.70" y="672.00" width="119.20" height="88.20" fill="#f1eff3" stroke="none" stroke-width="1" />
<path d="M305 752h0M320 673h0M307 683h0M273 756h0M279 722h0M275 746h0M302 745h0M322 742h0M294 685h0M278 741h0M364 746h0M320 683h0M351 687h0M298 687h0M366 705h0M349 681h0M343 681h0M361 706h0M321 672h0M317 686h0M327 713h0M326 735h0M263 750h0M302 742h0M324 679h0M285 693h0M312 746h0M296 694h0M267 705h0M295 719h0M339 691h0M340 705h0M372 718h0M311 710h0M358 681h0M264 698h0M296 718h0M274 719h0M358 706h0M342 699h0M315 676h0M312 678h0M278 749h0M311 691h0M372 746h0M267 757h0M374 701h0M351 759h0M370 687h0M320 752h0M379 677h0M330 720h0M281 737h0M344 710h0M339 742h0M316 739h0M314 695h0M344 730h0M339 729h0M303 704h0M330 757h0M364 733h0M276 673h0M290 728h0M296 711h0M318 756h0M303 676h0M347 729h0M299 728h0M286 726h0M354 717h0M329 757h0M339 721h0M269 734h0M263 676h0M301 699h0M317 707h0M312 683h0M276 686h0M352 687h0M283 696h0M375 741h0M366 695h0M271 758h0M331 734h0M293 749h0M346 690h0M297 727h0M379 718h0M297 738h0M314 681h0M329 754h0M279 713h0M314 723h0M286 690h0M274 714h0M332 735h0M318 705h0M287 741h0M364 742h0M327 731h0M300 747h0M269 717h0M337 739h0M360 725h0M277 729h0M274 707h0M267 705h0M363 729h0M372 733h0M334 702h0M295 727h0M352 725h0M369 748h0M267 686h0M336 688h0M263 707h0M272 729h0M330 678h0M354 722h0M274 734h0M281 675h0M328 691h0M300 715h0M306 675h0M302 680h0M368 680h0M322 688h0M331 735h0M372 710h0M290 741h0M274 704h0M357 719h0M354 726h0M343 709h0M285 721h0M353 723h0M300 726h0M285 694h0M378 717h0M365 672h0M356 748h0M317 705h0M347 686h0M279 726h0M346 741h0M306 737h0M264 694h0M276 682h0M296 751h0M288 682h0M320 754h0M263 689h0M263 718h0M366 749h0M318 687h0M273 694h0M327 695h0M274 712h0M298 700h0M271 696h0M303 705h0M271 717h0M302 738h0M283 711h0M272 731h0M352 723h0M371 754h0M296 730h0M367 695h0M300 686h0M262 712h0M288 707h0M280 699h0M295 716h0M276 728h0M298 707h0M369 687h0M296 737h0M304 744h0M357 754h0M310 735h0M285 700h0M345 705h0M325 695h0M304 720h0M372 685h0M368 741h0M286 713h0M323 758h0M285 738h0M290 680h0M271 747h0M336 688h0M280 735h0M288 703h0M317 706h0M371 704h0M366 726h0M359 680h0M356 679h0M273 703h0M370 734h0M311 695h0M322 716h0M281 731h0M261 735h0M303 696h0M272 681h0M351 733h0M341 748h0M316 688h0M373 748h0M368 743h0M331 742h0M263 736h0M313 749h0M377 736h0M304 674h0M362 750h0M305 720h0M337 688h0M359 704h0M269 691h0M307 701h0M327 724h0M345 754h0M342 701h0M314 696h0M314 702h0M276 728h0M368 710h0M271 682h0M314 754h0M266 699h0M306 751h0M337 715h0M366 755h0M330 741h0M345 673h0M322 715h0M355 715h0M333 756h0M309 691h0M345 731h0M301 708h0M297 713h0M363 694h0M316 715h0M352 715h0M310 745h0M375 682h0M373 745h0M283 716h0M276 722h0M280 710h0M290 731h0M320 730h0M305 714h0M336 680h0M343 683h0M286 704h0M356 719h0M355 712h0M300 749h0M296 745h0M265 743h0M342 678h0M293 692h0M362 755h0M363 675h0M302 712h0M368 754h0M292 694h0M299 733h0M275 717h0M302 738h0M324 684h0M355 678h0M273 698h0M295 700h0M343 675h0M379 728h0M263 673h0M292 688h0M314 712h0M366 691h0M284 687h0M362 739h0M317 747h0M269 756h0M352 697h0M330 711h0M371 694h0M342 678h0M373 709h0M354 740h0M376 755h0M287 715h0M342 751h0M310 704h0M307 702h0M327 694h0M357 730h0M341 680h0M299 677h0M338 715h0M304 739h0M340 682h0M360 725h0M358 718h0M373 694h0M312 741h0M377 726h0M332 758h0M370 682h0M355 699h0M280 719h0M288 720h0M374 710h0M321 679h0M289 695h0M271 677h0M318 738h0M321 737h0M263 700h0M327 743h0M366 726h0M278 730h0M318 736h0M273 722h0M315 724h0M359 676h0M314 738h0M304 746h0M276 708h0M364 719h0M302 722h0M359 755h0M271 716h0M331 718h0M318 696h0M275 673h0M261 698h0M307 746h0M338 715h0M318 687h0M327 738h0M319 674h0M302 743h0M278 740h0M308 744h0M375 749h0M351 711h0M309 716h0M360 759h0M360 715h0M263 749h0M314 722h0M331 683h0M362 675h0M267 723h0M266 754h0M286 739h0M339 711h0M366 693h0M380 694h0M331 727h0M363 698h0M317 675h0M376 710h0M344 746h0M263 750h0M302 732h0M269 692h0M324 676h0M288 736h0M325 745h0M369 702h0M325 707h0M277 689h0M374 711h0M314 753h0M378 741h0M326 680h0M264 732h0M282 711h0M268 743h0M325 691h0M296 736h0M354 708h0M326 706h0M374 694h0M307 691h0M278 685h0M281 678h0M379 698h0M275 754h0M354 704h0M286 711h0M370 729h0M334 702h0M354 757h0M342 691h0M266 726h0M313 672h0M288 685h0M293 741h0M281 678h0M319 678h0M273 702h0M369 746h0M355 743h0M279 715h0M286 719h0M363 704h0M359 744h0M280 716h0M365 674h0M354 693h0M341 741h0M271 724h0M338 721h0M321 693h0M305 698h0M281 752h0M344 708h0M289 688h0M353 707h0M341 704h0M317 730h0M367 675h0M327 733h0M363 674h0M273 726h0M350 742h0M303 749h0M345 675h0M291 712h0M272 758h0M317 716h0M380 698h0M263 751h0M375 677h0M329 729h0M359 679h0M288 727h0M300 757h0M336 748h0M357 751h0M299 685h0M374 702h0M276 723h0M311 682h0M287 757h0M282 677h0M343 742h0M331 674h0M283 752h0M263 675h0M376 672h0M357 707h0M322 748h0M315 724h0M321 696h0M304 746h0M350 717h0M310 714h0M371 705h0M355 691h0M265 720h0M322 744h0M318 712h0M348 698h0M276 680h0M337 695h0M306 752h0M318 683h0M334 695h0M279 701h0" stroke="#54444e" stroke-width="1.4" stroke-linecap="round" fill="none" stroke-opacity="0.55"/>
<g filter="url(#cblur)">
<path d="M295 680 301 677 298 675 304 679 301 681ZM356 682 351 682 347 677 353 678ZM276 715 272 713 271 710 274 711ZM259 739 258 735 256 733 260 730 261 735ZM379 725 374 724 370 721 375 722ZM299 760 295 758 294 752 299 757ZM269 680 271 677 275 678 272 681ZM310 722 306 721 304 715 309 718ZM327 715 326 710 330 704 330 711ZM356 732 361 729 363 726 365 729 362 731ZM315 710 314 706 315 701 316 706ZM354 678 357 675 356 671 361 676 358 678ZM342 674 346 671 353 671 347 674ZM346 695 343 691 344 687 347 691ZM364 764 370 762 368 761 375 763 370 765ZM367 763 361 760 359 761 357 754 362 758ZM269 715 272 713 271 711 275 715 273 717ZM256 715 256 710 261 704 259 711ZM365 736 365 731 363 731 367 726 367 731ZM289 703 284 702 281 697 286 699ZM293 671 290 670 288 667 291 668ZM324 724 330 722 331 722 336 724 331 726ZM364 736 359 737 357 734 360 733ZM358 725 361 722 365 723 362 726ZM322 731 326 728 326 724 332 728 327 731ZM320 711 319 708 316 707 319 704 321 708ZM280 754 283 752 289 753 284 755ZM278 697 276 695 273 695 275 691 278 694ZM302 720 298 720 299 724 296 718 299 717ZM345 730 341 729 338 726 343 727ZM369 745 373 743 372 742 377 745 374 746ZM266 714 270 712 274 714 269 716ZM300 740 294 738 294 738 292 733 297 734ZM259 692 263 689 262 689 268 691 262 693ZM291 695 285 696 285 698 281 694 285 693ZM314 746 308 745 308 747 304 740 310 742ZM309 686 305 687 299 685 305 684ZM357 690 354 686 354 679 358 685ZM314 742 312 738 310 740 313 735 314 738ZM299 716 302 712 307 709 304 714ZM298 759 299 751 303 747 303 753ZM307 673 304 673 302 670 305 670ZM318 674 312 675 309 673 312 672ZM283 710 281 707 279 707 282 704 284 706ZM377 725 374 726 372 728 368 725 374 724ZM304 693 305 688 303 688 309 687 308 691ZM281 674 285 671 292 672 286 675ZM279 734 278 729 280 724 281 729ZM362 753 358 752 356 751 357 748 361 750ZM300 741 298 738 296 736 302 731 302 738ZM268 757 272 753 268 751 276 752 273 755ZM357 738 358 734 357 734 361 733 361 736ZM303 746 304 743 308 741 306 745ZM288 714 286 711 285 713 289 707 290 712ZM380 717 374 715 372 713 375 713ZM295 753 295 748 294 745 299 747 298 751ZM273 753 269 752 267 747 272 749ZM278 738 273 739 274 740 270 737 274 736ZM342 711 341 706 342 699 343 706ZM360 693 362 689 361 689 369 689 364 693ZM313 681 307 682 302 680 307 679ZM305 737 310 735 308 732 315 735 311 737ZM367 717 366 714 367 710 368 714ZM355 734 352 732 349 728 353 730ZM371 762 368 759 368 753 371 757ZM303 693 303 686 298 688 305 684 305 687ZM338 708 336 701 333 703 339 697 340 702ZM386 677 380 674 381 677 377 668 383 672ZM320 695 324 690 329 688 326 693ZM377 716 371 717 373 720 366 715 372 714ZM295 766 292 762 292 764 293 758 295 761ZM337 673 339 669 343 670 340 673ZM284 673 286 669 286 665 290 669 289 672ZM283 701 286 699 290 701 286 703ZM300 674 296 674 294 674 292 669 298 671ZM379 672 377 674 373 671 377 670ZM337 751 339 743 342 741 341 745ZM371 763 373 760 371 758 379 761 374 764ZM346 689 345 683 344 683 347 680 348 683ZM316 681 314 678 316 674 317 679ZM324 710 330 706 334 707 331 710ZM356 738 360 731 366 729 363 734ZM258 734 256 732 258 725 260 732ZM296 722 291 718 290 714 293 716ZM283 754 287 749 287 746 294 749 289 753ZM322 697 324 693 322 691 327 693 326 696ZM344 759 344 755 343 753 347 753 347 757ZM369 747 369 743 369 741 374 740 372 745ZM298 731 300 724 304 721 302 726ZM260 712 256 710 256 706 259 708ZM324 733 320 729 317 730 320 725 323 728ZM380 737 381 731 380 729 387 729 385 734ZM281 745 286 741 292 740 287 743ZM322 725 323 721 329 719 326 725ZM371 735 374 729 378 727 376 731ZM276 725 272 721 271 722 271 718 274 720ZM382 680 380 674 380 668 382 674ZM273 672 270 671 268 665 273 669ZM325 726 330 724 336 725 331 727ZM301 745 297 740 298 734 301 738ZM347 668 354 666 353 664 357 668 354 670ZM280 714 279 711 278 712 283 705 282 712ZM278 688 282 683 283 681 289 681 284 686ZM365 753 361 750 359 750 360 745 364 748ZM255 699 260 697 267 698 261 699ZM326 678 328 674 332 675 330 678ZM292 726 294 720 299 716 296 722ZM287 764 281 762 279 758 283 760ZM379 675 380 672 384 671 383 674ZM368 693 370 689 375 686 372 691ZM318 676 314 673 314 670 317 672ZM325 743 328 740 329 736 334 738 329 742ZM321 713 318 709 318 710 319 705 322 708ZM329 740 329 735 327 734 333 733 333 737ZM254 734 258 728 257 724 263 726 260 730ZM265 729 260 728 257 723 263 725ZM352 677 350 674 349 676 351 668 354 674ZM273 731 270 727 266 726 270 722 273 727ZM337 751 331 751 332 752 327 746 333 747ZM362 733 356 731 354 734 355 726 360 728ZM330 746 330 740 332 735 332 741ZM285 728 287 722 290 719 289 724ZM377 764 371 761 372 762 368 755 374 758ZM345 725 339 726 333 724 339 724ZM293 728 292 723 289 726 294 718 295 723ZM365 680 368 677 368 674 372 678 369 680ZM305 761 306 757 309 754 308 759ZM387 694 382 690 381 684 385 687ZM269 683 264 679 262 672 267 677ZM292 679 287 674 285 668 290 672ZM298 719 301 715 302 712 307 715 303 719ZM373 693 375 689 381 687 377 692ZM317 719 311 715 310 718 311 711 314 713ZM306 739 306 736 308 732 308 737ZM367 761 366 757 368 753 368 757ZM383 760 376 759 376 763 372 756 376 757ZM376 690 371 691 370 690 368 687 372 687ZM308 766 306 763 303 764 307 760 308 763ZM260 683 259 680 261 674 261 680ZM304 763 306 757 312 753 309 759ZM348 684 344 682 341 676 346 680Z" fill="#4030f4"/><path d="M368 767 363 763 363 758 367 761ZM327 740 323 740 319 737 324 738ZM268 740 265 737 268 733 270 737ZM292 684 294 680 298 679 297 682ZM349 673 344 669 345 666 348 667ZM282 728 279 726 276 721 281 725ZM340 684 334 684 330 678 336 680ZM294 710 295 703 294 702 297 700 297 704ZM325 709 326 704 324 704 328 702 328 705ZM289 711 290 707 288 707 293 706 293 709ZM353 733 349 728 349 722 352 727ZM329 718 329 714 327 712 333 712 332 716ZM295 725 294 718 297 715 298 719ZM350 748 346 744 344 748 345 738 349 742ZM265 677 263 674 263 673 266 670 267 675ZM364 705 357 703 354 698 360 700ZM383 729 376 728 372 724 377 725ZM337 751 334 750 334 752 332 743 337 748ZM370 763 363 762 360 764 357 758 364 758ZM279 727 275 723 275 725 274 719 277 721ZM272 687 271 681 267 685 272 676 273 681ZM342 703 348 700 354 698 348 702ZM281 721 277 722 277 723 275 719 279 719ZM351 760 348 757 345 759 350 753 352 757ZM296 682 293 680 293 675 296 678ZM279 755 272 753 272 758 267 749 274 751ZM261 720 257 717 257 713 260 715ZM280 703 283 697 287 696 286 700ZM378 696 372 693 367 693 369 689 374 691ZM338 735 337 728 334 726 338 726 339 728ZM322 734 320 731 320 730 323 728 324 732ZM284 711 279 711 280 715 278 707 282 707ZM300 743 295 742 295 746 293 739 296 739ZM348 714 350 709 349 707 354 709 352 713ZM298 742 301 736 300 736 306 734 303 739ZM367 730 362 728 361 725 363 726ZM363 676 357 673 354 673 354 668 359 671ZM338 724 339 720 336 719 343 714 341 721ZM272 718 269 717 268 712 272 715ZM316 711 317 707 319 705 319 708ZM355 702 352 703 351 705 349 701 352 701ZM350 703 351 700 351 697 355 698 353 702ZM288 734 291 730 297 726 293 731ZM278 716 282 713 288 714 283 716ZM352 741 350 738 347 739 350 733 352 737ZM332 737 331 733 330 733 334 728 334 733ZM262 689 260 687 257 686 260 681 263 686ZM360 740 358 734 355 738 359 730 361 734ZM258 747 260 743 257 742 263 744 262 747ZM354 674 355 672 354 671 359 671 357 674ZM275 723 273 719 277 715 277 720ZM387 702 380 700 379 696 382 697ZM331 687 328 686 326 687 326 681 330 685ZM379 713 376 711 377 704 380 710ZM296 755 297 750 297 746 301 749 300 752ZM367 721 366 716 368 712 369 716ZM259 768 256 764 256 765 257 757 260 763ZM334 689 332 683 330 681 333 678 335 682ZM298 698 295 696 291 697 296 691 299 694ZM307 677 307 674 303 674 311 671 309 676ZM342 731 345 727 351 725 346 729ZM297 764 294 759 294 753 297 758ZM383 706 378 704 374 707 375 701 379 702ZM315 711 311 710 306 706 312 707ZM315 739 310 740 304 737 310 736ZM316 721 310 716 310 711 313 714ZM255 699 258 694 257 692 261 694 260 697ZM330 713 328 710 329 708 330 710ZM315 704 319 701 324 702 320 704ZM334 675 330 676 327 678 325 671 332 672ZM288 727 286 724 287 719 289 724ZM345 695 344 690 348 686 348 691ZM379 752 382 749 386 750 383 752ZM374 719 369 716 368 713 371 714ZM262 764 264 759 263 758 270 756 266 762ZM274 742 271 740 270 738 273 736 275 739ZM383 734 380 733 377 736 376 728 382 731ZM372 748 374 744 380 742 376 746ZM293 729 287 730 287 732 284 727 287 726ZM308 711 307 705 304 705 309 701 310 705ZM313 722 311 719 312 713 314 719ZM368 680 372 675 378 673 374 677ZM320 704 316 700 317 696 320 699ZM256 702 261 699 260 697 264 700 261 702ZM332 687 336 681 334 680 339 679 337 683ZM257 747 256 743 260 738 259 744ZM257 692 258 689 262 687 260 691ZM300 725 303 720 302 718 308 717 305 722ZM329 700 331 694 336 689 333 695ZM314 674 321 670 324 672 322 674ZM283 679 285 676 291 675 287 679ZM321 759 316 758 313 753 318 754ZM366 736 362 733 361 727 365 731ZM366 754 371 750 370 749 374 749 372 752ZM288 718 290 712 289 709 295 709 293 715ZM283 718 276 718 274 720 272 714 278 714ZM357 728 356 723 358 718 359 723ZM389 740 382 741 377 739 383 738ZM326 734 327 730 332 728 329 733ZM303 712 297 712 296 713 296 708 299 708ZM266 753 269 750 269 748 274 751 270 754ZM378 713 374 714 369 711 375 711ZM381 681 374 683 368 679 375 678ZM313 701 311 696 312 693 314 696ZM283 716 287 711 292 711 289 715ZM326 765 321 765 317 761 323 762ZM306 755 304 753 300 751 306 746 307 753ZM373 747 375 743 378 742 376 745ZM259 751 260 747 265 744 263 749ZM348 686 346 681 343 683 347 676 349 681ZM318 736 316 731 317 725 319 731ZM304 718 300 719 295 717 300 716ZM326 768 329 761 327 762 334 759 332 764ZM369 739 374 735 377 736 375 738ZM335 670 340 666 347 666 342 670ZM327 685 321 682 319 677 324 680ZM319 689 322 683 320 679 327 678 324 684ZM310 759 311 754 315 751 314 755ZM304 683 311 681 315 682 311 683ZM341 727 337 726 335 723 339 723ZM300 757 295 754 294 751 297 752ZM288 732 284 731 281 727 286 728ZM307 725 304 723 302 723 304 720 307 721ZM381 740 377 736 375 731 379 734ZM262 760 259 755 260 751 262 754ZM366 692 369 688 369 685 373 689 371 692ZM297 737 302 733 301 733 306 733 304 736ZM321 760 321 757 321 754 327 754 324 760ZM291 693 295 690 294 688 299 691 296 694ZM260 745 262 738 262 736 265 737 265 740ZM278 718 276 714 273 712 277 707 278 713ZM384 678 381 673 381 672 383 670 385 673ZM314 742 308 741 304 737 310 738ZM367 670 362 670 361 672 358 668 362 667ZM302 734 303 727 301 727 305 724 306 728ZM357 723 355 721 353 721 356 714 358 720ZM382 729 379 725 377 726 382 722 384 725ZM283 715 282 708 284 704 285 708ZM325 747 321 747 321 749 318 744 321 745ZM276 692 279 689 285 688 280 691ZM297 764 300 759 300 755 306 757 303 762ZM292 760 290 754 290 748 293 754ZM286 683 290 680 293 682 291 684ZM267 714 263 707 265 704 267 707ZM380 711 374 710 375 714 371 707 376 707ZM331 726 330 721 329 721 333 714 333 721ZM291 725 295 719 300 717 297 722ZM256 768 257 762 256 761 261 758 260 763ZM351 729 346 730 341 728 347 727Z" fill="#4a3af0"/><path d="M295 757 295 753 293 753 300 751 298 756ZM385 717 382 712 378 712 382 705 385 711ZM371 742 371 735 373 732 374 736ZM346 692 345 687 346 681 347 686ZM286 748 289 744 289 742 295 742 291 747ZM318 695 320 689 316 688 326 685 323 691ZM353 686 355 683 360 682 356 685ZM299 711 297 707 299 700 300 707ZM351 712 344 711 342 708 345 708ZM300 683 303 677 307 675 305 679ZM285 748 291 745 288 742 294 746 291 747ZM342 694 337 695 339 696 333 692 338 691ZM359 714 362 711 367 710 363 713ZM267 733 268 728 272 724 269 729ZM345 761 347 754 352 749 350 755ZM305 734 298 730 298 735 295 726 300 728ZM386 706 382 701 381 695 384 700ZM340 731 346 730 352 730 346 732ZM330 671 326 670 325 671 325 665 329 667ZM292 751 290 746 293 740 294 747ZM332 738 337 734 339 734 341 735 339 738ZM290 728 287 726 288 723 290 725ZM376 697 377 694 377 693 383 690 379 696ZM310 724 309 720 307 719 311 716 312 720ZM345 705 339 703 336 699 341 699ZM381 683 375 681 370 676 376 679ZM360 693 358 688 360 685 362 688ZM340 721 343 719 342 718 349 718 343 721ZM364 730 366 726 366 724 371 725 368 730ZM382 682 379 683 376 686 373 679 380 679ZM312 758 312 754 315 749 314 755ZM259 764 258 760 260 756 261 760ZM271 730 273 725 277 723 275 727ZM289 725 291 720 290 717 296 717 294 723ZM303 735 309 730 312 731 310 733ZM328 717 328 711 325 711 332 706 331 711ZM251 672 257 670 258 667 263 669 258 672ZM317 676 314 676 314 678 311 674 315 674ZM384 750 382 745 381 743 383 740 385 744ZM331 701 327 701 324 697 329 698ZM362 694 366 692 363 690 371 692 366 694ZM312 755 311 751 315 750 315 753ZM308 759 314 755 320 757 314 760ZM310 724 307 723 307 724 304 717 309 721ZM351 710 347 705 343 706 347 698 351 704ZM309 684 306 679 306 673 310 679ZM273 756 273 751 269 751 275 748 276 751ZM278 688 281 686 286 685 282 688ZM320 730 322 725 328 722 324 728ZM292 675 289 674 290 671 292 673ZM358 753 358 750 362 744 360 751ZM379 691 375 688 376 684 378 687ZM269 722 268 719 269 716 271 719ZM269 706 271 703 267 701 276 700 272 705ZM300 672 294 672 288 670 295 670ZM277 756 278 752 282 752 281 756ZM343 672 346 668 352 667 347 671ZM366 686 368 683 372 682 370 685ZM289 678 293 674 292 673 298 676 294 678ZM374 695 368 695 366 693 369 692ZM331 767 332 761 336 756 335 762ZM304 736 308 734 310 731 315 735 309 737ZM281 731 277 732 276 732 273 728 278 728ZM298 753 295 753 291 747 297 750ZM300 725 306 721 304 720 309 721 307 724ZM264 685 258 685 259 688 252 682 258 682ZM385 755 380 755 380 756 376 751 382 752ZM264 758 260 753 260 747 264 752ZM318 711 316 708 317 703 319 708ZM264 736 262 733 266 726 267 733ZM367 677 369 673 376 670 371 676ZM355 749 352 748 352 745 355 746ZM263 757 259 754 255 755 260 750 263 753ZM255 748 261 745 264 746 261 748ZM381 673 377 672 377 668 381 670ZM298 737 297 732 298 725 299 732ZM308 682 305 680 300 682 302 676 306 679ZM334 758 328 757 327 759 326 752 330 754ZM258 678 259 672 263 670 263 674ZM306 734 304 731 303 728 305 731ZM268 702 272 699 278 700 272 703ZM281 754 278 753 274 754 276 749 279 751ZM279 701 282 695 287 693 284 697ZM309 754 304 749 304 744 307 748ZM266 755 264 751 265 745 267 751ZM260 707 258 704 256 702 260 700 261 704ZM358 759 362 756 364 757 362 759ZM313 729 310 726 305 726 309 722 311 725ZM264 698 263 693 266 687 266 694ZM357 714 357 708 360 705 361 709ZM284 727 282 724 281 718 284 723ZM292 714 295 712 301 713 295 715ZM306 719 301 719 296 716 302 716ZM258 737 263 735 268 736 264 739ZM269 692 268 688 270 684 270 688ZM334 727 337 724 336 720 341 723 338 726ZM286 686 281 682 280 677 284 680ZM307 742 304 739 300 738 305 734 308 738ZM366 715 369 713 367 710 374 714 370 716ZM361 713 364 710 365 709 372 709 366 713ZM275 688 276 683 280 681 279 686ZM299 703 301 702 303 698 307 703 302 704ZM303 677 307 672 311 671 309 674ZM304 751 303 748 305 741 306 748ZM298 719 298 716 296 715 301 714 300 717ZM314 711 318 707 323 705 319 709ZM358 727 355 724 355 725 356 720 358 723ZM360 721 364 715 371 713 367 719ZM262 737 264 731 271 728 267 734ZM328 672 331 667 329 665 337 666 333 670ZM290 747 292 744 297 745 293 748ZM302 753 301 748 303 744 304 748ZM349 698 346 693 343 695 345 685 348 692ZM290 688 294 685 299 685 295 687ZM370 672 363 671 363 672 359 669 364 669ZM320 757 315 752 314 746 318 751ZM297 763 293 764 291 766 291 762 294 761ZM368 736 363 736 361 739 357 734 363 734ZM375 682 368 681 367 684 365 676 370 677ZM287 743 291 741 293 742 291 744ZM322 751 318 749 317 753 316 745 321 747ZM277 738 272 734 271 728 275 731ZM278 687 283 685 288 685 283 687ZM305 697 300 691 301 687 304 690ZM291 688 287 685 285 685 285 681 289 684ZM286 713 280 710 276 711 276 704 282 707ZM325 693 332 690 333 688 339 691 332 694ZM286 686 291 681 296 680 293 683ZM357 712 359 709 366 710 361 713ZM361 674 356 677 354 674 357 672ZM385 689 381 690 375 686 382 686ZM296 679 298 675 300 674 299 676ZM303 719 303 715 302 711 307 710 306 716ZM378 727 381 722 384 720 382 724ZM386 709 381 710 376 707 382 707ZM329 677 324 675 321 675 321 670 326 673ZM379 715 373 712 370 705 376 709ZM312 671 317 666 314 665 323 667 318 671ZM335 729 335 722 337 719 338 722ZM274 708 270 707 269 708 267 703 271 705ZM292 705 288 705 285 700 290 702Z" fill="#3020e0"/><path d="M272 708 276 706 280 707 276 709ZM364 735 357 734 355 735 355 731 358 732ZM308 709 303 707 302 704 306 704ZM281 736 279 734 275 733 280 731 282 734ZM323 718 320 719 314 715 321 716ZM300 719 296 714 292 712 296 709 299 712ZM381 728 381 725 376 725 384 720 383 726ZM281 686 280 682 279 682 284 678 284 684ZM361 671 358 672 355 671 358 670ZM280 739 279 734 282 729 282 735ZM381 675 374 674 371 676 370 670 376 671ZM267 727 266 721 263 723 268 716 269 721ZM349 735 342 736 343 737 337 733 343 732ZM268 695 265 692 263 693 267 689 269 692ZM272 687 267 685 266 682 269 682ZM290 759 294 756 291 754 297 757 295 758ZM268 747 264 743 262 739 265 741ZM330 751 334 746 341 745 336 749ZM291 754 286 752 284 751 283 748 287 750ZM323 718 321 713 323 710 325 714ZM317 753 314 750 314 744 318 749ZM291 754 295 752 293 749 298 753 295 754ZM258 720 259 715 262 714 261 717ZM300 705 300 699 296 695 302 692 302 699ZM318 745 312 742 312 738 315 739ZM333 689 329 690 325 692 325 687 330 686ZM348 731 347 725 346 724 349 722 349 725ZM345 697 347 694 351 693 348 696ZM382 738 377 737 375 740 374 734 378 735ZM293 691 295 687 293 683 300 685 297 689ZM257 675 260 674 263 675 260 676ZM294 707 298 702 297 699 301 700 299 703ZM331 686 331 680 328 679 334 677 335 681ZM285 767 286 763 291 759 288 765ZM300 744 295 744 292 745 292 741 296 741ZM276 699 277 695 284 692 280 697ZM351 700 355 695 360 692 356 697ZM267 717 264 715 261 710 265 713ZM367 740 361 742 357 739 362 737ZM338 698 334 697 333 698 331 694 335 694ZM297 681 293 683 292 686 290 681 293 679ZM281 746 277 744 277 746 273 740 279 743ZM322 717 316 714 314 711 317 712ZM285 682 280 682 276 679 281 679ZM366 723 359 721 359 722 358 717 361 718ZM307 687 304 687 302 684 305 685ZM285 729 286 725 289 725 288 728ZM354 757 355 755 362 754 357 758ZM357 714 359 710 360 706 365 706 361 711ZM355 672 352 673 347 668 354 670ZM263 679 266 676 271 677 267 680ZM378 673 373 672 367 668 374 670ZM324 704 324 700 326 698 326 701ZM308 720 307 713 306 712 309 708 310 713ZM377 703 377 699 375 697 380 696 380 700ZM281 762 281 757 284 754 284 757ZM360 696 361 690 365 685 363 691ZM269 738 264 738 262 734 266 734ZM360 759 360 756 364 752 363 757ZM359 766 358 761 354 763 362 758 362 763ZM264 725 270 721 277 720 271 724ZM274 752 269 748 266 751 267 743 271 746ZM363 684 363 679 362 680 366 675 366 680ZM355 699 349 697 346 692 351 693ZM251 715 256 711 257 711 262 712 257 715ZM297 764 300 761 305 760 301 763ZM306 700 303 697 302 699 305 693 307 696ZM324 692 323 685 321 687 324 682 325 685ZM303 723 299 721 299 722 298 716 302 719ZM319 744 316 742 314 745 316 738 319 740ZM343 750 338 750 336 748 339 748ZM351 677 349 672 351 667 352 671ZM337 675 333 675 330 671 335 671ZM374 735 377 733 381 733 377 736ZM339 724 342 718 346 717 345 721ZM316 730 313 729 312 730 311 726 314 728ZM263 723 258 724 257 725 255 722 258 721ZM311 743 305 739 305 735 308 736ZM340 746 346 743 350 744 347 747ZM347 695 347 692 350 687 349 693ZM264 734 262 732 261 726 264 731ZM381 718 378 712 377 708 380 712ZM326 702 323 699 325 695 327 698ZM273 737 272 730 276 726 276 732ZM309 718 307 721 300 718 307 717ZM310 676 305 678 302 676 306 674ZM303 717 304 714 304 713 309 712 306 716ZM365 704 361 704 357 701 362 701ZM260 715 261 712 264 710 263 714ZM285 696 290 692 296 692 291 695ZM351 724 353 718 358 714 356 721ZM364 686 365 682 371 679 368 685ZM273 738 269 737 269 737 268 731 273 734ZM304 721 300 722 296 718 302 719ZM328 680 330 677 336 675 332 679ZM328 718 334 715 339 717 334 719ZM283 709 288 708 293 709 288 710ZM279 719 275 716 272 711 277 715ZM357 735 357 729 362 726 361 731ZM306 670 309 667 316 666 310 670ZM348 712 343 707 342 703 345 706ZM272 737 269 734 270 727 273 733ZM267 746 262 747 262 749 259 743 264 743ZM356 686 350 685 347 681 351 682ZM296 722 290 723 286 719 291 719ZM262 722 259 720 258 715 262 718ZM285 761 284 755 287 752 288 756ZM375 678 376 676 375 674 381 673 378 677ZM335 691 336 685 335 685 340 682 339 687ZM329 686 329 683 334 678 332 684ZM270 746 263 743 261 738 266 740ZM297 704 302 702 308 702 302 704ZM279 728 280 725 284 723 282 727ZM289 759 285 760 279 758 285 757ZM339 730 337 724 335 724 337 721 339 723ZM349 754 349 751 355 747 352 753ZM282 690 281 684 285 680 286 685ZM384 756 380 754 378 749 382 752ZM379 727 374 726 375 729 372 723 375 723ZM292 698 292 692 295 688 295 692ZM331 706 335 703 339 702 336 705ZM382 682 382 676 384 670 384 676ZM340 728 340 723 345 718 344 725ZM378 751 382 747 382 746 386 747 383 750ZM370 729 367 726 370 722 372 725ZM266 722 261 723 262 726 258 721 261 720ZM365 703 362 704 358 703 362 702ZM330 741 325 740 321 734 327 736ZM329 736 325 734 323 734 322 730 327 732ZM368 687 362 689 363 692 355 687 362 685ZM381 708 378 707 378 710 373 703 379 706ZM310 736 306 734 306 731 309 732ZM279 689 282 683 288 681 285 686ZM360 689 358 685 360 681 362 685ZM368 753 369 748 366 748 373 745 372 749ZM287 685 283 684 282 680 286 681ZM282 694 277 695 277 697 271 693 277 691ZM352 689 349 685 348 686 348 678 351 684ZM355 730 356 726 361 725 359 729ZM374 708 370 708 365 705 371 706ZM328 725 323 721 319 717 324 720ZM335 717 331 718 325 715 332 715ZM364 718 360 716 358 711 362 714ZM306 725 308 720 313 719 311 723ZM315 743 309 743 306 740 310 740ZM305 701 308 695 313 693 310 698ZM321 759 315 758 313 758 310 753 317 755ZM268 724 269 718 273 715 272 720ZM353 758 347 756 345 752 350 753ZM363 763 359 762 358 764 358 758 362 760ZM358 693 355 688 351 688 355 683 357 687ZM344 710 342 707 342 701 344 706ZM310 706 307 707 303 705 307 704ZM307 718 305 712 306 709 308 712ZM295 732 289 733 282 729 290 729ZM334 726 336 720 333 718 340 718 339 721ZM334 679 332 674 334 670 336 674ZM278 765 277 762 279 758 280 762ZM283 745 283 740 281 740 286 738 285 741Z" fill="#3422ea"/><path d="M310 740 314 737 312 735 319 737 315 740ZM300 729 299 725 298 723 302 721 303 726ZM274 757 273 752 271 753 276 748 276 753ZM290 749 291 744 295 742 293 746ZM342 756 336 752 336 754 336 749 338 750ZM294 743 289 742 288 742 285 737 291 739ZM253 696 258 691 256 691 263 690 259 694ZM311 753 309 750 306 752 311 744 313 749ZM341 699 342 696 340 695 347 692 344 697ZM343 725 340 726 338 730 333 724 340 723ZM260 748 263 744 267 745 264 747ZM372 732 369 729 370 725 373 728ZM278 761 275 757 273 756 276 751 279 756ZM262 676 265 674 271 673 266 676ZM292 706 289 700 291 697 293 699ZM375 749 369 748 368 749 368 744 372 745ZM290 674 283 673 284 675 278 668 285 670ZM310 720 312 717 317 717 313 720ZM303 767 303 761 303 760 307 758 307 763ZM363 706 359 704 356 705 357 701 360 702ZM324 683 328 680 328 679 334 681 329 684ZM352 691 354 688 360 688 356 692ZM367 756 370 751 376 747 372 752ZM267 728 271 724 275 722 272 725ZM284 679 286 674 289 672 288 675ZM304 691 300 687 300 683 304 686ZM382 730 379 726 381 722 383 725ZM328 722 331 718 335 717 333 720ZM294 712 293 708 291 708 296 702 297 709ZM349 696 346 697 344 692 348 694ZM267 733 264 728 261 730 264 722 267 727ZM364 691 367 685 368 683 374 684 370 689ZM337 692 339 689 337 685 344 687 340 691ZM313 763 310 761 308 761 310 756 313 760ZM288 709 283 708 284 711 277 704 284 706ZM356 688 352 684 353 676 356 682ZM302 681 299 680 295 676 300 678ZM261 720 261 714 263 708 263 715ZM337 676 336 670 338 666 339 671ZM336 679 333 678 330 671 336 675ZM316 740 315 733 320 728 319 735ZM299 707 302 702 299 701 308 700 304 705ZM352 715 354 712 354 710 360 712 356 716ZM367 739 368 734 368 733 370 732 370 735ZM290 708 292 705 292 702 297 705 294 708ZM269 686 268 681 264 679 270 677 271 681ZM305 693 299 694 294 691 300 691ZM295 757 291 756 289 751 293 753ZM301 716 296 715 294 716 293 708 299 712ZM376 740 371 735 370 729 374 733ZM298 714 298 708 301 706 301 709ZM324 759 321 757 321 752 324 756ZM373 730 368 727 366 728 367 721 371 725ZM352 725 355 722 354 721 360 723 356 726ZM276 729 274 723 270 726 274 717 277 723ZM343 703 342 700 340 698 346 697 345 701ZM264 715 258 714 257 717 254 711 258 712ZM264 714 263 710 260 711 264 707 265 710ZM355 766 352 764 349 765 348 760 353 763ZM371 759 374 755 379 755 376 759ZM264 702 264 695 268 693 268 697ZM302 748 298 750 299 751 295 747 299 746ZM369 703 368 700 371 696 372 700ZM353 722 357 718 363 718 358 721ZM383 750 381 744 385 740 386 745ZM349 711 344 709 342 706 346 707ZM265 761 262 757 262 756 263 752 266 756ZM368 762 362 760 361 757 365 757ZM369 706 366 705 364 701 368 704ZM275 687 279 683 283 684 280 687ZM326 707 324 703 328 698 328 705ZM259 726 257 723 255 722 257 720 259 722ZM324 691 319 692 318 692 317 689 320 689ZM370 719 369 715 367 715 372 709 372 716ZM279 704 278 698 275 696 279 692 281 698ZM273 700 277 696 285 695 279 699ZM259 737 260 733 259 732 264 730 262 735ZM312 742 308 739 308 742 308 736 311 739ZM312 763 307 759 307 752 311 757ZM354 681 348 682 345 680 348 679ZM338 750 332 747 330 740 335 744ZM277 741 272 738 271 738 272 734 275 735ZM283 727 281 724 279 728 282 720 285 724ZM293 721 296 718 299 717 297 720ZM335 710 333 706 332 702 337 700 338 707ZM345 720 340 718 338 713 342 716ZM291 694 286 692 283 693 286 688 289 689ZM289 688 285 684 285 678 289 683ZM341 738 337 734 337 728 341 732ZM341 750 345 744 349 744 347 748ZM268 739 270 735 275 734 272 738ZM363 734 358 735 353 733 359 732ZM297 710 297 704 294 701 300 700 300 705ZM281 717 284 712 283 711 288 710 286 714ZM336 730 339 725 336 724 343 724 342 728ZM326 705 321 704 319 700 323 702ZM383 762 381 757 380 749 383 756ZM274 717 277 713 278 711 284 712 279 717ZM281 706 285 702 291 700 286 704ZM369 756 367 749 369 745 370 749ZM301 672 305 668 311 666 307 670ZM374 766 374 763 372 764 378 759 377 764ZM377 733 379 727 383 722 381 728ZM361 765 357 763 356 762 356 758 360 760ZM287 672 289 669 287 667 293 666 291 670ZM369 741 366 735 365 738 368 732 370 735ZM336 726 334 720 332 722 336 715 338 720ZM358 746 356 741 357 736 359 740ZM333 724 330 726 323 724 329 723ZM355 677 351 671 352 667 354 670ZM292 751 295 746 295 746 298 746 297 749ZM302 700 296 701 294 702 292 699 296 698ZM356 744 352 745 350 745 349 741 353 741ZM357 698 357 692 356 688 361 687 361 693ZM274 700 277 696 281 695 279 698ZM348 688 353 685 358 686 354 688ZM269 681 273 678 274 676 276 679 273 681ZM266 765 264 762 262 764 265 757 267 762ZM377 747 375 741 375 736 377 741ZM359 680 364 677 364 673 369 678 365 680ZM370 696 365 694 362 688 367 692ZM375 699 378 695 381 695 380 698ZM325 716 328 714 333 714 329 716ZM263 689 264 686 261 685 269 682 266 687ZM274 763 276 758 281 758 279 762ZM343 751 339 749 340 746 342 747ZM354 739 349 738 346 738 346 733 351 735ZM300 716 301 710 303 709 304 712ZM303 693 298 692 295 694 296 689 300 690ZM278 751 284 749 282 746 288 750 284 752ZM255 702 259 696 258 695 264 694 261 698ZM320 735 315 735 311 733 316 733ZM265 699 259 698 255 694 261 695ZM286 691 288 688 294 684 290 689ZM302 673 300 669 302 666 303 669ZM323 733 319 731 319 728 322 729ZM263 670 258 671 254 668 259 667ZM343 766 347 761 352 760 350 764ZM344 720 340 718 339 719 340 712 344 716ZM303 685 297 683 296 680 298 681ZM303 702 306 697 304 694 310 697 309 700Z" fill="#1c1290"/><path d="M288 714 293 712 291 709 300 713 293 714ZM276 682 270 680 270 683 266 673 272 677ZM347 736 351 734 350 733 356 735 351 737ZM358 706 353 704 352 700 356 702ZM309 679 315 677 313 675 319 678 315 680ZM310 678 308 673 306 674 310 670 312 673ZM326 709 319 710 314 706 320 706ZM372 704 373 697 371 694 377 693 377 699ZM375 757 381 754 381 751 386 755 381 758ZM333 766 334 760 331 758 337 757 337 761ZM342 682 346 678 352 676 347 680ZM356 700 350 698 349 701 347 695 352 696ZM351 719 351 716 353 713 353 717ZM276 684 279 680 277 675 283 675 280 681ZM266 709 268 708 267 707 275 708 269 710ZM312 696 314 692 313 692 317 691 316 694ZM284 735 280 733 278 733 281 729 284 731ZM332 678 328 675 327 671 330 673ZM322 756 318 754 317 757 316 751 320 752ZM334 718 333 715 337 711 337 716ZM300 731 305 728 311 729 306 731ZM308 740 309 738 314 732 311 739ZM376 767 380 761 378 761 384 761 382 765ZM328 710 329 704 334 700 332 706ZM293 721 291 717 292 710 294 716ZM371 709 368 706 366 699 370 705ZM261 754 267 752 266 751 273 754 267 756ZM263 728 258 729 254 728 258 726ZM340 725 335 725 333 727 329 722 336 722ZM334 676 331 676 325 674 331 674ZM306 758 302 757 301 753 305 754ZM350 713 345 712 345 712 342 708 347 709ZM280 677 275 673 274 670 277 672ZM283 713 284 707 287 706 287 709ZM274 761 273 756 277 753 277 758ZM325 749 323 745 323 744 326 743 327 746ZM289 694 292 692 296 692 293 694ZM271 720 271 716 268 713 274 712 274 717ZM266 742 270 740 274 740 271 742ZM264 690 263 684 266 678 266 684ZM360 687 364 684 363 679 371 683 365 686ZM318 744 322 741 320 740 328 741 323 743ZM281 680 278 679 277 674 281 676ZM274 679 275 673 278 670 278 674ZM384 672 381 673 379 668 383 669ZM324 713 326 709 326 706 332 708 328 712ZM357 745 362 742 359 739 368 742 363 745ZM347 729 343 729 342 724 346 726ZM384 723 382 718 383 714 384 718ZM363 671 367 668 369 664 370 669 367 671ZM370 676 366 676 365 676 366 671 370 673ZM280 708 277 709 274 706 278 706ZM326 732 324 726 320 725 325 720 327 725ZM377 717 373 718 373 721 367 716 373 715ZM277 725 273 720 271 724 272 715 275 719ZM369 704 363 706 363 706 356 703 363 702ZM293 747 298 743 302 742 299 745ZM328 703 323 699 322 695 325 697ZM356 749 353 749 352 753 348 746 353 747ZM285 738 284 732 281 734 288 729 288 734ZM297 752 300 749 303 748 301 751ZM320 751 319 747 322 746 323 749ZM336 673 338 669 335 666 341 666 340 670ZM326 762 319 761 317 758 321 757ZM331 703 334 700 340 700 335 703ZM265 687 267 685 267 681 271 684 268 687ZM356 738 360 732 355 731 365 731 362 735ZM270 738 269 734 273 730 272 735ZM290 760 284 761 278 759 284 757ZM290 743 285 741 284 738 287 739ZM293 688 288 685 286 682 290 683ZM305 669 312 667 319 669 312 671ZM309 693 310 688 314 683 312 689ZM380 755 378 750 380 745 381 750ZM271 706 270 701 271 695 272 701ZM370 727 374 721 373 720 380 718 376 724ZM353 700 350 695 353 690 355 695ZM361 728 358 722 358 716 362 721ZM370 725 376 722 375 722 381 723 376 726ZM268 703 265 702 263 696 268 700ZM348 721 345 718 347 713 349 718ZM270 742 271 739 276 737 274 742ZM266 719 261 717 258 714 262 715ZM367 678 366 672 364 669 370 667 370 673ZM326 696 323 691 320 690 325 687 327 691ZM267 718 260 719 257 718 261 717ZM362 764 359 764 359 768 355 760 361 761ZM346 674 349 670 354 670 351 673ZM290 717 288 712 290 708 292 712ZM351 709 351 704 355 700 355 705ZM360 725 364 723 363 722 366 724 364 726ZM302 696 303 690 306 688 306 691ZM272 730 270 724 271 720 272 724ZM280 720 281 717 289 716 283 720ZM277 674 283 670 282 665 290 669 284 673ZM340 717 336 716 332 713 337 714ZM349 694 343 695 341 697 339 693 343 692ZM271 676 274 672 279 672 275 675ZM362 734 359 729 359 723 362 728ZM314 754 310 753 307 750 311 751ZM295 705 297 702 298 701 302 703 298 706ZM374 717 374 712 374 709 378 709 378 714ZM355 717 351 719 348 717 351 715ZM309 736 306 733 307 729 310 732ZM342 742 343 737 348 733 346 739ZM345 722 343 719 341 717 345 717 346 720ZM359 717 362 711 367 708 364 713ZM301 753 304 752 302 750 307 753 304 754ZM371 729 368 724 366 725 368 719 370 723ZM264 711 260 712 253 709 260 709ZM303 686 299 685 297 681 301 682ZM346 706 342 707 338 705 342 704ZM272 736 266 734 265 739 265 732 268 732ZM342 758 344 753 349 749 347 755ZM255 710 260 707 264 708 261 710ZM263 676 258 675 255 671 260 673ZM342 734 336 733 337 735 333 729 338 730ZM372 758 369 760 363 758 369 757ZM359 676 364 672 368 672 365 674ZM329 722 324 723 321 721 325 720ZM288 669 284 671 279 669 284 667ZM373 754 369 752 367 746 372 750ZM347 735 347 730 343 732 349 725 349 731ZM279 706 283 703 290 703 284 706ZM307 715 301 712 299 711 300 707 304 709ZM299 745 296 740 294 741 297 734 300 740ZM338 756 340 751 338 750 346 747 343 753ZM263 709 266 703 271 701 268 706ZM340 731 334 730 330 726 335 727ZM369 693 372 690 371 687 379 691 373 694ZM359 734 359 727 362 721 362 728ZM301 720 301 714 298 712 304 707 304 714ZM354 673 349 673 349 676 345 671 349 671ZM277 691 271 689 269 692 270 685 274 686ZM266 684 260 681 258 676 263 679ZM350 696 346 693 346 692 347 689 350 691ZM307 731 306 725 308 720 309 725ZM350 719 352 714 349 712 356 714 355 717ZM366 743 364 740 365 734 367 740ZM315 689 317 685 315 683 320 685 319 688ZM346 722 340 723 339 725 336 721 340 719ZM279 738 274 736 271 730 277 733ZM336 707 335 700 337 696 338 700ZM274 712 277 708 281 708 278 711ZM258 683 258 679 263 676 261 682ZM289 755 282 755 279 753 282 753ZM360 748 357 750 353 746 358 745ZM266 714 261 714 258 710 263 710ZM254 707 256 701 255 701 260 699 259 703ZM312 712 312 707 314 706 314 708ZM378 745 375 741 377 739 379 741ZM342 744 335 746 334 747 333 743 335 742ZM362 764 360 759 362 753 364 759ZM355 709 353 707 352 702 355 706ZM329 726 325 726 325 727 323 721 328 722ZM361 682 365 678 364 676 369 679 366 682ZM337 758 334 757 331 756 334 752 338 755ZM314 722 312 720 310 713 313 719ZM365 710 370 708 375 709 370 711ZM362 714 359 710 356 712 362 707 364 711ZM352 721 347 718 344 712 350 716ZM335 706 339 702 343 702 340 705ZM314 767 312 761 309 759 315 757 316 762ZM305 757 298 759 293 757 298 755ZM351 744 347 742 344 737 349 741ZM299 699 292 700 292 702 285 698 292 697ZM290 694 291 688 294 683 293 690ZM336 702 330 701 326 697 331 698ZM271 747 267 748 269 751 261 745 268 745Z" fill="#2c1ad8"/>
</g></g>
<text x="158.60" y="682.84" font-size="9.0" text-anchor="middle" fill="#111" >NC</text>
<rect x="262.60" y="673.50" width="37.40" height="11.80" fill="#fbfbfb" stroke="none" stroke-width="1" />
<text x="281.30" y="682.84" font-size="9.0" text-anchor="middle" fill="#111" >Activin B</text>
<rect x="235.90" y="748.80" width="19.50" height="10.00" fill="#f4f2f6" stroke="none" stroke-width="1" fill-opacity="0.85"/>
<text x="246.00" y="755.82" font-size="5.6" text-anchor="middle" fill="#111" >100μm</text>
<line x1="236.40" y1="757.40" x2="255.40" y2="757.40" stroke="#111" stroke-width="0.9" />
<rect x="358.00" y="748.80" width="19.50" height="10.00" fill="#f4f2f6" stroke="none" stroke-width="1" fill-opacity="0.85"/>
<text x="368.10" y="755.82" font-size="5.6" text-anchor="middle" fill="#111" >100μm</text>
<line x1="358.50" y1="757.40" x2="377.50" y2="757.40" stroke="#111" stroke-width="0.9" />
<!-- pq -->
<text x="381.60" y="665.30" font-size="13.5" text-anchor="start" font-weight="bold" fill="#000" >p</text>
<line x1="433.40" y1="717.52" x2="433.40" y2="710.85" stroke="#000" stroke-width="0.8" />
<line x1="430.90" y1="710.85" x2="435.90" y2="710.85" stroke="#000" stroke-width="0.8" />
<rect x="424.50" y="717.52" width="17.80" height="40.48" fill="#3f5cf2" stroke="#000" stroke-width="0.8800000000000001" />
<circle cx="433.40" cy="711.02" r="1.40" fill="#000" />
<circle cx="430.40" cy="718.02" r="1.40" fill="#000" />
<circle cx="433.40" cy="720.02" r="1.40" fill="#000" />
<line x1="457.50" y1="689.69" x2="457.50" y2="687.20" stroke="#000" stroke-width="0.8" />
<line x1="455.00" y1="687.20" x2="460.00" y2="687.20" stroke="#000" stroke-width="0.8" />
<rect x="446.80" y="689.69" width="21.40" height="68.31" fill="#f44a2c" stroke="#000" stroke-width="0.8800000000000001" />
<circle cx="454.50" cy="688.03" r="1.40" fill="#000" />
<circle cx="460.50" cy="688.36" r="1.40" fill="#000" />
<circle cx="457.50" cy="690.53" r="1.40" fill="#000" />
<line x1="415.60" y1="674.70" x2="415.60" y2="758.00" stroke="#000" stroke-width="0.8" />
<line x1="415.60" y1="758.00" x2="478.00" y2="758.00" stroke="#000" stroke-width="0.8" />
<line x1="413.60" y1="758.00" x2="415.60" y2="758.00" stroke="#000" stroke-width="0.8" />
<text x="412.80" y="760.09" font-size="5.8" text-anchor="end" fill="#000" >0</text>
<line x1="413.60" y1="741.34" x2="415.60" y2="741.34" stroke="#000" stroke-width="0.8" />
<text x="412.80" y="743.43" font-size="5.8" text-anchor="end" fill="#000" >100</text>
<line x1="413.60" y1="724.68" x2="415.60" y2="724.68" stroke="#000" stroke-width="0.8" />
<text x="412.80" y="726.77" font-size="5.8" text-anchor="end" fill="#000" >200</text>
<line x1="413.60" y1="708.02" x2="415.60" y2="708.02" stroke="#000" stroke-width="0.8" />
<text x="412.80" y="710.11" font-size="5.8" text-anchor="end" fill="#000" >300</text>
<line x1="413.60" y1="691.36" x2="415.60" y2="691.36" stroke="#000" stroke-width="0.8" />
<text x="412.80" y="693.45" font-size="5.8" text-anchor="end" fill="#000" >400</text>
<line x1="413.60" y1="674.70" x2="415.60" y2="674.70" stroke="#000" stroke-width="0.8" />
<text x="412.80" y="676.79" font-size="5.8" text-anchor="end" fill="#000" >500</text>
<line x1="433.40" y1="758.00" x2="433.40" y2="760.00" stroke="#000" stroke-width="0.8" />
<line x1="457.50" y1="758.00" x2="457.50" y2="760.00" stroke="#000" stroke-width="0.8" />
<text x="446.20" y="674.84" font-size="6.5" text-anchor="middle" fill="#000" >p=0.0012</text>
<line x1="432.50" y1="678.70" x2="457.90" y2="678.70" stroke="#000" stroke-width="0.8" />
<text x="396.86" y="716.00" font-size="6.0" text-anchor="middle" font-weight="bold" fill="#000" transform="rotate(-90 396.86 716.00)" >Number of Migrated Cells</text>
<text x="433.40" y="768.16" font-size="6.0" text-anchor="middle" font-weight="bold" fill="#000" >NC</text>
<text x="459.30" y="768.16" font-size="6.0" text-anchor="middle" font-weight="bold" fill="#000" >Activin B</text>
<text x="477.80" y="665.30" font-size="13.5" text-anchor="start" font-weight="bold" fill="#000" >q</text>
<text x="551.40" y="669.26" font-size="9.6" text-anchor="middle" fill="#111" >NC</text>
<text x="624.90" y="669.26" font-size="9.6" text-anchor="middle" fill="#111" >Activin B</text>
<line x1="520.20" y1="671.20" x2="582.60" y2="671.20" stroke="#444" stroke-width="1.2" />
<line x1="592.80" y1="671.20" x2="658.30" y2="671.20" stroke="#444" stroke-width="1.2" />
<defs><filter id="bl3" x="-50%" y="-50%" width="200%" height="200%"><feGaussianBlur stdDeviation="0.8"/></filter><clipPath id="cp3"><rect x="519.5" y="677.3" width="137.70000000000005" height="23.300000000000068"/></clipPath></defs>
<g clip-path="url(#cp3)">
<rect x="519.50" y="677.30" width="137.70" height="23.30" fill="#e6e6e6" stroke="none" stroke-width="1" />
<g filter="url(#bl3)">
<ellipse cx="531.0" cy="690.6" rx="9.8" ry="1.3" fill="#303030" fill-opacity="0.14"/>
<ellipse cx="553.9" cy="690.6" rx="9.8" ry="1.3" fill="#303030" fill-opacity="0.2"/>
<ellipse cx="576.9" cy="690.6" rx="9.8" ry="1.3" fill="#303030" fill-opacity="0.2"/>
<ellipse cx="599.8" cy="690.6" rx="9.8" ry="1.3" fill="#303030" fill-opacity="0.9"/>
<ellipse cx="622.8" cy="690.6" rx="10.3" ry="1.7" fill="#101010" fill-opacity="1.0"/>
<ellipse cx="645.7" cy="690.8" rx="10.9" ry="2.0" fill="#080808" fill-opacity="1.0"/>
</g></g>
<rect x="519.50" y="677.30" width="137.70" height="23.30" fill="none" stroke="#222" stroke-width="0.9" />
<defs><filter id="bl4" x="-50%" y="-50%" width="200%" height="200%"><feGaussianBlur stdDeviation="0.7"/></filter><clipPath id="cp4"><rect x="519.5" y="705.9" width="137.70000000000005" height="23.300000000000068"/></clipPath></defs>
<g clip-path="url(#cp4)">
<rect x="519.50" y="705.90" width="137.70" height="23.30" fill="#e4e4e4" stroke="none" stroke-width="1" />
<g filter="url(#bl4)">
<ellipse cx="531.0" cy="713.6" rx="11.5" ry="1.7" fill="#0a0a0a" fill-opacity="1.0"/>
<ellipse cx="531.0" cy="719.8" rx="11.5" ry="1.5" fill="#151515" fill-opacity="0.95"/>
<ellipse cx="553.9" cy="713.6" rx="11.5" ry="1.7" fill="#0a0a0a" fill-opacity="1.0"/>
<ellipse cx="553.9" cy="719.8" rx="11.5" ry="1.5" fill="#151515" fill-opacity="0.95"/>
<ellipse cx="576.9" cy="713.6" rx="11.5" ry="1.7" fill="#0a0a0a" fill-opacity="1.0"/>
<ellipse cx="576.9" cy="719.8" rx="11.5" ry="1.5" fill="#151515" fill-opacity="0.95"/>
<ellipse cx="599.8" cy="713.6" rx="11.5" ry="1.7" fill="#0a0a0a" fill-opacity="1.0"/>
<ellipse cx="599.8" cy="719.8" rx="11.5" ry="1.5" fill="#151515" fill-opacity="0.95"/>
<ellipse cx="622.8" cy="713.6" rx="11.5" ry="1.7" fill="#0a0a0a" fill-opacity="1.0"/>
<ellipse cx="622.8" cy="719.8" rx="11.5" ry="1.5" fill="#151515" fill-opacity="0.95"/>
<ellipse cx="645.7" cy="713.6" rx="11.5" ry="1.7" fill="#0a0a0a" fill-opacity="1.0"/>
<ellipse cx="645.7" cy="719.8" rx="11.5" ry="1.5" fill="#151515" fill-opacity="0.95"/>
</g></g>
<rect x="519.50" y="705.90" width="137.70" height="23.30" fill="none" stroke="#222" stroke-width="0.9" />
<defs><filter id="bl5" x="-50%" y="-50%" width="200%" height="200%"><feGaussianBlur stdDeviation="0.8"/></filter><clipPath id="cp5"><rect x="519.5" y="734.5" width="137.70000000000005" height="24.399999999999977"/></clipPath></defs>
<g clip-path="url(#cp5)">
<rect x="519.50" y="734.50" width="137.70" height="24.40" fill="#e6e6e6" stroke="none" stroke-width="1" />
<g filter="url(#bl5)">
<ellipse cx="531.0" cy="743.2" rx="12.4" ry="3.1" fill="#050505" fill-opacity="1.0"/>
<ellipse cx="553.9" cy="743.2" rx="12.4" ry="3.1" fill="#050505" fill-opacity="1.0"/>
<ellipse cx="576.9" cy="743.2" rx="12.4" ry="3.1" fill="#050505" fill-opacity="1.0"/>
<ellipse cx="599.8" cy="743.2" rx="12.4" ry="3.1" fill="#050505" fill-opacity="1.0"/>
<ellipse cx="622.8" cy="743.2" rx="12.4" ry="3.1" fill="#050505" fill-opacity="1.0"/>
<ellipse cx="645.7" cy="743.2" rx="12.4" ry="3.1" fill="#050505" fill-opacity="1.0"/>
</g></g>
<rect x="519.50" y="734.50" width="137.70" height="24.40" fill="none" stroke="#222" stroke-width="0.9" />
<text x="517.10" y="693.28" font-size="9.4" text-anchor="end" fill="#111" >p-Smad2</text>
<text x="517.10" y="716.88" font-size="9.4" text-anchor="end" fill="#111" >Smad2</text>
<text x="517.10" y="727.98" font-size="9.4" text-anchor="end" fill="#111" >Smad3</text>
<text x="517.10" y="750.28" font-size="9.4" text-anchor="end" fill="#111" >Gapdh</text>
<text x="661.80" y="693.28" font-size="9.4" text-anchor="start" fill="#111" >60kD</text>
<text x="661.80" y="716.88" font-size="9.4" text-anchor="start" fill="#111" >60kD</text>
<text x="661.80" y="727.98" font-size="9.4" text-anchor="start" fill="#111" >55kD</text>
<text x="661.80" y="750.28" font-size="9.4" text-anchor="start" fill="#111" >37kD</text>
</svg></body></html>
